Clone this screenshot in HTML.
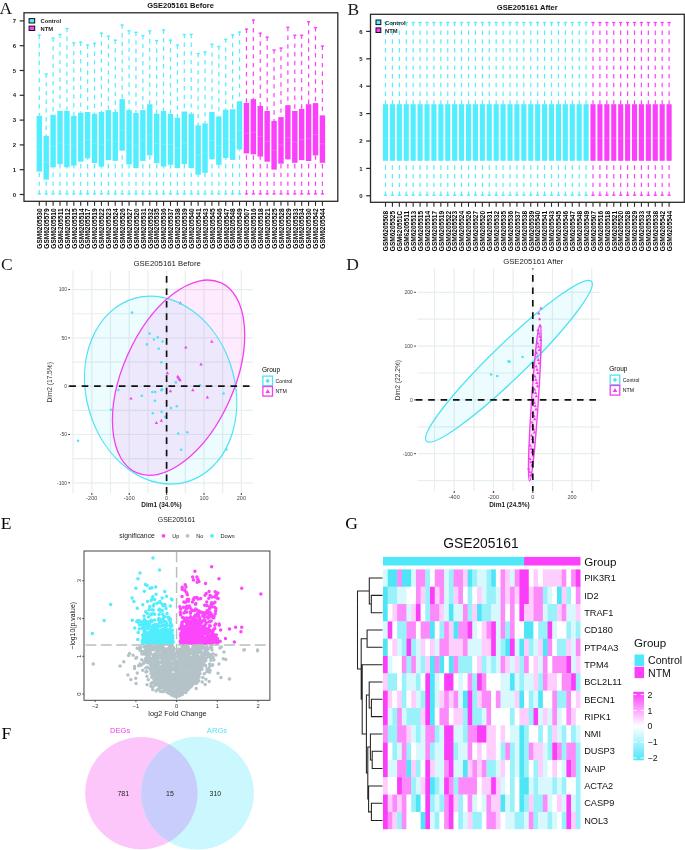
<!DOCTYPE html>
<html><head><meta charset="utf-8"><style>
html,body{margin:0;padding:0;background:#fff;}
svg{display:block;filter:blur(0.3px);}
</style></head><body>
<svg width="685" height="850" viewBox="0 0 685 850">
<rect width="685" height="850" fill="#fff"/>
<text x="-0.40" y="14.20" font-size="17.5" font-family="Liberation Serif" font-weight="normal" text-anchor="start" fill="#1a1a1a" >A</text>
<text x="180.50" y="8.00" font-size="7.5" font-family="Liberation Sans" font-weight="bold" text-anchor="middle" fill="#111" >GSE205161 Before</text>
<line x1="39.30" y1="34.60" x2="39.30" y2="115.80" stroke="#50eefe" stroke-width="1.2" stroke-dasharray="4.4 4.3"/>
<line x1="39.30" y1="194.50" x2="39.30" y2="171.60" stroke="#50eefe" stroke-width="1.2" stroke-dasharray="4.4 4.3"/>
<line x1="37.70" y1="35.20" x2="40.90" y2="35.20" stroke="#50eefe" stroke-width="1.3"/>
<line x1="37.70" y1="193.90" x2="40.90" y2="193.90" stroke="#50eefe" stroke-width="1.3"/>
<rect x="36.60" y="115.80" width="5.4" height="55.80" fill="#50eefe"/>
<line x1="36.60" y1="149.28" x2="42.00" y2="149.28" stroke="#fff" stroke-opacity="0.22" stroke-width="0.8"/>
<line x1="46.20" y1="73.50" x2="46.20" y2="136.00" stroke="#50eefe" stroke-width="1.2" stroke-dasharray="4.4 4.3"/>
<line x1="46.20" y1="194.50" x2="46.20" y2="179.60" stroke="#50eefe" stroke-width="1.2" stroke-dasharray="4.4 4.3"/>
<line x1="44.60" y1="74.10" x2="47.80" y2="74.10" stroke="#50eefe" stroke-width="1.3"/>
<line x1="44.60" y1="193.90" x2="47.80" y2="193.90" stroke="#50eefe" stroke-width="1.3"/>
<rect x="43.50" y="136.00" width="5.4" height="43.60" fill="#50eefe"/>
<line x1="43.50" y1="162.16" x2="48.91" y2="162.16" stroke="#fff" stroke-opacity="0.22" stroke-width="0.8"/>
<line x1="53.11" y1="37.50" x2="53.11" y2="114.80" stroke="#50eefe" stroke-width="1.2" stroke-dasharray="4.4 4.3"/>
<line x1="53.11" y1="194.50" x2="53.11" y2="167.30" stroke="#50eefe" stroke-width="1.2" stroke-dasharray="4.4 4.3"/>
<line x1="51.51" y1="38.10" x2="54.71" y2="38.10" stroke="#50eefe" stroke-width="1.3"/>
<line x1="51.51" y1="193.90" x2="54.71" y2="193.90" stroke="#50eefe" stroke-width="1.3"/>
<rect x="50.41" y="114.80" width="5.4" height="52.50" fill="#50eefe"/>
<line x1="50.41" y1="146.30" x2="55.81" y2="146.30" stroke="#fff" stroke-opacity="0.22" stroke-width="0.8"/>
<line x1="60.02" y1="33.80" x2="60.02" y2="110.90" stroke="#50eefe" stroke-width="1.2" stroke-dasharray="4.4 4.3"/>
<line x1="60.02" y1="194.50" x2="60.02" y2="164.20" stroke="#50eefe" stroke-width="1.2" stroke-dasharray="4.4 4.3"/>
<line x1="58.41" y1="34.40" x2="61.62" y2="34.40" stroke="#50eefe" stroke-width="1.3"/>
<line x1="58.41" y1="193.90" x2="61.62" y2="193.90" stroke="#50eefe" stroke-width="1.3"/>
<rect x="57.31" y="110.90" width="5.4" height="53.30" fill="#50eefe"/>
<line x1="57.31" y1="142.88" x2="62.72" y2="142.88" stroke="#fff" stroke-opacity="0.22" stroke-width="0.8"/>
<line x1="66.92" y1="27.90" x2="66.92" y2="110.90" stroke="#50eefe" stroke-width="1.2" stroke-dasharray="4.4 4.3"/>
<line x1="66.92" y1="194.50" x2="66.92" y2="167.30" stroke="#50eefe" stroke-width="1.2" stroke-dasharray="4.4 4.3"/>
<line x1="65.32" y1="28.50" x2="68.52" y2="28.50" stroke="#50eefe" stroke-width="1.3"/>
<line x1="65.32" y1="193.90" x2="68.52" y2="193.90" stroke="#50eefe" stroke-width="1.3"/>
<rect x="64.22" y="110.90" width="5.4" height="56.40" fill="#50eefe"/>
<line x1="64.22" y1="144.74" x2="69.62" y2="144.74" stroke="#fff" stroke-opacity="0.22" stroke-width="0.8"/>
<line x1="73.82" y1="42.20" x2="73.82" y2="115.80" stroke="#50eefe" stroke-width="1.2" stroke-dasharray="4.4 4.3"/>
<line x1="73.82" y1="194.50" x2="73.82" y2="165.70" stroke="#50eefe" stroke-width="1.2" stroke-dasharray="4.4 4.3"/>
<line x1="72.22" y1="42.80" x2="75.42" y2="42.80" stroke="#50eefe" stroke-width="1.3"/>
<line x1="72.22" y1="193.90" x2="75.42" y2="193.90" stroke="#50eefe" stroke-width="1.3"/>
<rect x="71.12" y="115.80" width="5.4" height="49.90" fill="#50eefe"/>
<line x1="71.12" y1="145.74" x2="76.52" y2="145.74" stroke="#fff" stroke-opacity="0.22" stroke-width="0.8"/>
<line x1="80.73" y1="41.60" x2="80.73" y2="112.70" stroke="#50eefe" stroke-width="1.2" stroke-dasharray="4.4 4.3"/>
<line x1="80.73" y1="194.50" x2="80.73" y2="161.70" stroke="#50eefe" stroke-width="1.2" stroke-dasharray="4.4 4.3"/>
<line x1="79.13" y1="42.20" x2="82.33" y2="42.20" stroke="#50eefe" stroke-width="1.3"/>
<line x1="79.13" y1="193.90" x2="82.33" y2="193.90" stroke="#50eefe" stroke-width="1.3"/>
<rect x="78.03" y="112.70" width="5.4" height="49.00" fill="#50eefe"/>
<line x1="78.03" y1="142.10" x2="83.43" y2="142.10" stroke="#fff" stroke-opacity="0.22" stroke-width="0.8"/>
<line x1="87.63" y1="44.50" x2="87.63" y2="112.00" stroke="#50eefe" stroke-width="1.2" stroke-dasharray="4.4 4.3"/>
<line x1="87.63" y1="194.50" x2="87.63" y2="158.30" stroke="#50eefe" stroke-width="1.2" stroke-dasharray="4.4 4.3"/>
<line x1="86.03" y1="45.10" x2="89.23" y2="45.10" stroke="#50eefe" stroke-width="1.3"/>
<line x1="86.03" y1="193.90" x2="89.23" y2="193.90" stroke="#50eefe" stroke-width="1.3"/>
<rect x="84.93" y="112.00" width="5.4" height="46.30" fill="#50eefe"/>
<line x1="84.93" y1="139.78" x2="90.33" y2="139.78" stroke="#fff" stroke-opacity="0.22" stroke-width="0.8"/>
<line x1="94.54" y1="42.80" x2="94.54" y2="113.80" stroke="#50eefe" stroke-width="1.2" stroke-dasharray="4.4 4.3"/>
<line x1="94.54" y1="194.50" x2="94.54" y2="163.00" stroke="#50eefe" stroke-width="1.2" stroke-dasharray="4.4 4.3"/>
<line x1="92.94" y1="43.40" x2="96.14" y2="43.40" stroke="#50eefe" stroke-width="1.3"/>
<line x1="92.94" y1="193.90" x2="96.14" y2="193.90" stroke="#50eefe" stroke-width="1.3"/>
<rect x="91.84" y="113.80" width="5.4" height="49.20" fill="#50eefe"/>
<line x1="91.84" y1="143.32" x2="97.24" y2="143.32" stroke="#fff" stroke-opacity="0.22" stroke-width="0.8"/>
<line x1="101.44" y1="32.60" x2="101.44" y2="112.00" stroke="#50eefe" stroke-width="1.2" stroke-dasharray="4.4 4.3"/>
<line x1="101.44" y1="194.50" x2="101.44" y2="166.70" stroke="#50eefe" stroke-width="1.2" stroke-dasharray="4.4 4.3"/>
<line x1="99.84" y1="33.20" x2="103.04" y2="33.20" stroke="#50eefe" stroke-width="1.3"/>
<line x1="99.84" y1="193.90" x2="103.04" y2="193.90" stroke="#50eefe" stroke-width="1.3"/>
<rect x="98.74" y="112.00" width="5.4" height="54.70" fill="#50eefe"/>
<line x1="98.74" y1="144.82" x2="104.14" y2="144.82" stroke="#fff" stroke-opacity="0.22" stroke-width="0.8"/>
<line x1="108.35" y1="35.60" x2="108.35" y2="110.10" stroke="#50eefe" stroke-width="1.2" stroke-dasharray="4.4 4.3"/>
<line x1="108.35" y1="194.50" x2="108.35" y2="160.20" stroke="#50eefe" stroke-width="1.2" stroke-dasharray="4.4 4.3"/>
<line x1="106.75" y1="36.20" x2="109.95" y2="36.20" stroke="#50eefe" stroke-width="1.3"/>
<line x1="106.75" y1="193.90" x2="109.95" y2="193.90" stroke="#50eefe" stroke-width="1.3"/>
<rect x="105.65" y="110.10" width="5.4" height="50.10" fill="#50eefe"/>
<line x1="105.65" y1="140.16" x2="111.05" y2="140.16" stroke="#fff" stroke-opacity="0.22" stroke-width="0.8"/>
<line x1="115.25" y1="39.60" x2="115.25" y2="112.00" stroke="#50eefe" stroke-width="1.2" stroke-dasharray="4.4 4.3"/>
<line x1="115.25" y1="194.50" x2="115.25" y2="160.90" stroke="#50eefe" stroke-width="1.2" stroke-dasharray="4.4 4.3"/>
<line x1="113.66" y1="40.20" x2="116.85" y2="40.20" stroke="#50eefe" stroke-width="1.3"/>
<line x1="113.66" y1="193.90" x2="116.85" y2="193.90" stroke="#50eefe" stroke-width="1.3"/>
<rect x="112.55" y="112.00" width="5.4" height="48.90" fill="#50eefe"/>
<line x1="112.55" y1="141.34" x2="117.95" y2="141.34" stroke="#fff" stroke-opacity="0.22" stroke-width="0.8"/>
<line x1="122.16" y1="24.40" x2="122.16" y2="99.10" stroke="#50eefe" stroke-width="1.2" stroke-dasharray="4.4 4.3"/>
<line x1="122.16" y1="194.50" x2="122.16" y2="150.60" stroke="#50eefe" stroke-width="1.2" stroke-dasharray="4.4 4.3"/>
<line x1="120.56" y1="25.00" x2="123.76" y2="25.00" stroke="#50eefe" stroke-width="1.3"/>
<line x1="120.56" y1="193.90" x2="123.76" y2="193.90" stroke="#50eefe" stroke-width="1.3"/>
<rect x="119.46" y="99.10" width="5.4" height="51.50" fill="#50eefe"/>
<line x1="119.46" y1="130.00" x2="124.86" y2="130.00" stroke="#fff" stroke-opacity="0.22" stroke-width="0.8"/>
<line x1="129.06" y1="30.30" x2="129.06" y2="110.10" stroke="#50eefe" stroke-width="1.2" stroke-dasharray="4.4 4.3"/>
<line x1="129.06" y1="194.50" x2="129.06" y2="164.40" stroke="#50eefe" stroke-width="1.2" stroke-dasharray="4.4 4.3"/>
<line x1="127.47" y1="30.90" x2="130.66" y2="30.90" stroke="#50eefe" stroke-width="1.3"/>
<line x1="127.47" y1="193.90" x2="130.66" y2="193.90" stroke="#50eefe" stroke-width="1.3"/>
<rect x="126.36" y="110.10" width="5.4" height="54.30" fill="#50eefe"/>
<line x1="126.36" y1="142.68" x2="131.76" y2="142.68" stroke="#fff" stroke-opacity="0.22" stroke-width="0.8"/>
<line x1="135.97" y1="31.70" x2="135.97" y2="113.00" stroke="#50eefe" stroke-width="1.2" stroke-dasharray="4.4 4.3"/>
<line x1="135.97" y1="194.50" x2="135.97" y2="168.00" stroke="#50eefe" stroke-width="1.2" stroke-dasharray="4.4 4.3"/>
<line x1="134.37" y1="32.30" x2="137.57" y2="32.30" stroke="#50eefe" stroke-width="1.3"/>
<line x1="134.37" y1="193.90" x2="137.57" y2="193.90" stroke="#50eefe" stroke-width="1.3"/>
<rect x="133.27" y="113.00" width="5.4" height="55.00" fill="#50eefe"/>
<line x1="133.27" y1="146.00" x2="138.67" y2="146.00" stroke="#fff" stroke-opacity="0.22" stroke-width="0.8"/>
<line x1="142.88" y1="35.00" x2="142.88" y2="110.10" stroke="#50eefe" stroke-width="1.2" stroke-dasharray="4.4 4.3"/>
<line x1="142.88" y1="194.50" x2="142.88" y2="160.90" stroke="#50eefe" stroke-width="1.2" stroke-dasharray="4.4 4.3"/>
<line x1="141.28" y1="35.60" x2="144.47" y2="35.60" stroke="#50eefe" stroke-width="1.3"/>
<line x1="141.28" y1="193.90" x2="144.47" y2="193.90" stroke="#50eefe" stroke-width="1.3"/>
<rect x="140.18" y="110.10" width="5.4" height="50.80" fill="#50eefe"/>
<line x1="140.18" y1="140.58" x2="145.57" y2="140.58" stroke="#fff" stroke-opacity="0.22" stroke-width="0.8"/>
<line x1="149.78" y1="30.30" x2="149.78" y2="104.20" stroke="#50eefe" stroke-width="1.2" stroke-dasharray="4.4 4.3"/>
<line x1="149.78" y1="194.50" x2="149.78" y2="155.40" stroke="#50eefe" stroke-width="1.2" stroke-dasharray="4.4 4.3"/>
<line x1="148.18" y1="30.90" x2="151.38" y2="30.90" stroke="#50eefe" stroke-width="1.3"/>
<line x1="148.18" y1="193.90" x2="151.38" y2="193.90" stroke="#50eefe" stroke-width="1.3"/>
<rect x="147.08" y="104.20" width="5.4" height="51.20" fill="#50eefe"/>
<line x1="147.08" y1="134.92" x2="152.48" y2="134.92" stroke="#fff" stroke-opacity="0.22" stroke-width="0.8"/>
<line x1="156.69" y1="39.90" x2="156.69" y2="113.70" stroke="#50eefe" stroke-width="1.2" stroke-dasharray="4.4 4.3"/>
<line x1="156.69" y1="194.50" x2="156.69" y2="163.10" stroke="#50eefe" stroke-width="1.2" stroke-dasharray="4.4 4.3"/>
<line x1="155.09" y1="40.50" x2="158.28" y2="40.50" stroke="#50eefe" stroke-width="1.3"/>
<line x1="155.09" y1="193.90" x2="158.28" y2="193.90" stroke="#50eefe" stroke-width="1.3"/>
<rect x="153.99" y="113.70" width="5.4" height="49.40" fill="#50eefe"/>
<line x1="153.99" y1="143.34" x2="159.38" y2="143.34" stroke="#fff" stroke-opacity="0.22" stroke-width="0.8"/>
<line x1="163.59" y1="29.30" x2="163.59" y2="111.00" stroke="#50eefe" stroke-width="1.2" stroke-dasharray="4.4 4.3"/>
<line x1="163.59" y1="194.50" x2="163.59" y2="166.60" stroke="#50eefe" stroke-width="1.2" stroke-dasharray="4.4 4.3"/>
<line x1="161.99" y1="29.90" x2="165.19" y2="29.90" stroke="#50eefe" stroke-width="1.3"/>
<line x1="161.99" y1="193.90" x2="165.19" y2="193.90" stroke="#50eefe" stroke-width="1.3"/>
<rect x="160.89" y="111.00" width="5.4" height="55.60" fill="#50eefe"/>
<line x1="160.89" y1="144.36" x2="166.29" y2="144.36" stroke="#fff" stroke-opacity="0.22" stroke-width="0.8"/>
<line x1="170.50" y1="39.60" x2="170.50" y2="114.00" stroke="#50eefe" stroke-width="1.2" stroke-dasharray="4.4 4.3"/>
<line x1="170.50" y1="194.50" x2="170.50" y2="164.80" stroke="#50eefe" stroke-width="1.2" stroke-dasharray="4.4 4.3"/>
<line x1="168.90" y1="40.20" x2="172.09" y2="40.20" stroke="#50eefe" stroke-width="1.3"/>
<line x1="168.90" y1="193.90" x2="172.09" y2="193.90" stroke="#50eefe" stroke-width="1.3"/>
<rect x="167.80" y="114.00" width="5.4" height="50.80" fill="#50eefe"/>
<line x1="167.80" y1="144.48" x2="173.19" y2="144.48" stroke="#fff" stroke-opacity="0.22" stroke-width="0.8"/>
<line x1="177.40" y1="44.50" x2="177.40" y2="117.80" stroke="#50eefe" stroke-width="1.2" stroke-dasharray="4.4 4.3"/>
<line x1="177.40" y1="194.50" x2="177.40" y2="168.00" stroke="#50eefe" stroke-width="1.2" stroke-dasharray="4.4 4.3"/>
<line x1="175.80" y1="45.10" x2="179.00" y2="45.10" stroke="#50eefe" stroke-width="1.3"/>
<line x1="175.80" y1="193.90" x2="179.00" y2="193.90" stroke="#50eefe" stroke-width="1.3"/>
<rect x="174.70" y="117.80" width="5.4" height="50.20" fill="#50eefe"/>
<line x1="174.70" y1="147.92" x2="180.10" y2="147.92" stroke="#fff" stroke-opacity="0.22" stroke-width="0.8"/>
<line x1="184.31" y1="33.90" x2="184.31" y2="111.50" stroke="#50eefe" stroke-width="1.2" stroke-dasharray="4.4 4.3"/>
<line x1="184.31" y1="194.50" x2="184.31" y2="164.00" stroke="#50eefe" stroke-width="1.2" stroke-dasharray="4.4 4.3"/>
<line x1="182.71" y1="34.50" x2="185.91" y2="34.50" stroke="#50eefe" stroke-width="1.3"/>
<line x1="182.71" y1="193.90" x2="185.91" y2="193.90" stroke="#50eefe" stroke-width="1.3"/>
<rect x="181.61" y="111.50" width="5.4" height="52.50" fill="#50eefe"/>
<line x1="181.61" y1="143.00" x2="187.00" y2="143.00" stroke="#fff" stroke-opacity="0.22" stroke-width="0.8"/>
<line x1="191.21" y1="33.80" x2="191.21" y2="113.70" stroke="#50eefe" stroke-width="1.2" stroke-dasharray="4.4 4.3"/>
<line x1="191.21" y1="194.50" x2="191.21" y2="168.00" stroke="#50eefe" stroke-width="1.2" stroke-dasharray="4.4 4.3"/>
<line x1="189.61" y1="34.40" x2="192.81" y2="34.40" stroke="#50eefe" stroke-width="1.3"/>
<line x1="189.61" y1="193.90" x2="192.81" y2="193.90" stroke="#50eefe" stroke-width="1.3"/>
<rect x="188.51" y="113.70" width="5.4" height="54.30" fill="#50eefe"/>
<line x1="188.51" y1="146.28" x2="193.91" y2="146.28" stroke="#fff" stroke-opacity="0.22" stroke-width="0.8"/>
<line x1="198.12" y1="53.00" x2="198.12" y2="125.30" stroke="#50eefe" stroke-width="1.2" stroke-dasharray="4.4 4.3"/>
<line x1="198.12" y1="194.50" x2="198.12" y2="174.80" stroke="#50eefe" stroke-width="1.2" stroke-dasharray="4.4 4.3"/>
<line x1="196.52" y1="53.60" x2="199.72" y2="53.60" stroke="#50eefe" stroke-width="1.3"/>
<line x1="196.52" y1="193.90" x2="199.72" y2="193.90" stroke="#50eefe" stroke-width="1.3"/>
<rect x="195.42" y="125.30" width="5.4" height="49.50" fill="#50eefe"/>
<line x1="195.42" y1="155.00" x2="200.81" y2="155.00" stroke="#fff" stroke-opacity="0.22" stroke-width="0.8"/>
<line x1="205.02" y1="51.30" x2="205.02" y2="123.40" stroke="#50eefe" stroke-width="1.2" stroke-dasharray="4.4 4.3"/>
<line x1="205.02" y1="194.50" x2="205.02" y2="172.80" stroke="#50eefe" stroke-width="1.2" stroke-dasharray="4.4 4.3"/>
<line x1="203.42" y1="51.90" x2="206.62" y2="51.90" stroke="#50eefe" stroke-width="1.3"/>
<line x1="203.42" y1="193.90" x2="206.62" y2="193.90" stroke="#50eefe" stroke-width="1.3"/>
<rect x="202.32" y="123.40" width="5.4" height="49.40" fill="#50eefe"/>
<line x1="202.32" y1="153.04" x2="207.72" y2="153.04" stroke="#fff" stroke-opacity="0.22" stroke-width="0.8"/>
<line x1="211.93" y1="43.70" x2="211.93" y2="112.00" stroke="#50eefe" stroke-width="1.2" stroke-dasharray="4.4 4.3"/>
<line x1="211.93" y1="194.50" x2="211.93" y2="159.30" stroke="#50eefe" stroke-width="1.2" stroke-dasharray="4.4 4.3"/>
<line x1="210.33" y1="44.30" x2="213.53" y2="44.30" stroke="#50eefe" stroke-width="1.3"/>
<line x1="210.33" y1="193.90" x2="213.53" y2="193.90" stroke="#50eefe" stroke-width="1.3"/>
<rect x="209.23" y="112.00" width="5.4" height="47.30" fill="#50eefe"/>
<line x1="209.23" y1="140.38" x2="214.62" y2="140.38" stroke="#fff" stroke-opacity="0.22" stroke-width="0.8"/>
<line x1="218.83" y1="45.90" x2="218.83" y2="116.50" stroke="#50eefe" stroke-width="1.2" stroke-dasharray="4.4 4.3"/>
<line x1="218.83" y1="194.50" x2="218.83" y2="164.80" stroke="#50eefe" stroke-width="1.2" stroke-dasharray="4.4 4.3"/>
<line x1="217.23" y1="46.50" x2="220.43" y2="46.50" stroke="#50eefe" stroke-width="1.3"/>
<line x1="217.23" y1="193.90" x2="220.43" y2="193.90" stroke="#50eefe" stroke-width="1.3"/>
<rect x="216.13" y="116.50" width="5.4" height="48.30" fill="#50eefe"/>
<line x1="216.13" y1="145.48" x2="221.53" y2="145.48" stroke="#fff" stroke-opacity="0.22" stroke-width="0.8"/>
<line x1="225.74" y1="38.70" x2="225.74" y2="109.70" stroke="#50eefe" stroke-width="1.2" stroke-dasharray="4.4 4.3"/>
<line x1="225.74" y1="194.50" x2="225.74" y2="158.00" stroke="#50eefe" stroke-width="1.2" stroke-dasharray="4.4 4.3"/>
<line x1="224.14" y1="39.30" x2="227.34" y2="39.30" stroke="#50eefe" stroke-width="1.3"/>
<line x1="224.14" y1="193.90" x2="227.34" y2="193.90" stroke="#50eefe" stroke-width="1.3"/>
<rect x="223.04" y="109.70" width="5.4" height="48.30" fill="#50eefe"/>
<line x1="223.04" y1="138.68" x2="228.44" y2="138.68" stroke="#fff" stroke-opacity="0.22" stroke-width="0.8"/>
<line x1="232.64" y1="34.20" x2="232.64" y2="109.20" stroke="#50eefe" stroke-width="1.2" stroke-dasharray="4.4 4.3"/>
<line x1="232.64" y1="194.50" x2="232.64" y2="159.90" stroke="#50eefe" stroke-width="1.2" stroke-dasharray="4.4 4.3"/>
<line x1="231.04" y1="34.80" x2="234.24" y2="34.80" stroke="#50eefe" stroke-width="1.3"/>
<line x1="231.04" y1="193.90" x2="234.24" y2="193.90" stroke="#50eefe" stroke-width="1.3"/>
<rect x="229.94" y="109.20" width="5.4" height="50.70" fill="#50eefe"/>
<line x1="229.94" y1="139.62" x2="235.34" y2="139.62" stroke="#fff" stroke-opacity="0.22" stroke-width="0.8"/>
<line x1="239.55" y1="31.50" x2="239.55" y2="101.30" stroke="#50eefe" stroke-width="1.2" stroke-dasharray="4.4 4.3"/>
<line x1="239.55" y1="194.50" x2="239.55" y2="149.50" stroke="#50eefe" stroke-width="1.2" stroke-dasharray="4.4 4.3"/>
<line x1="237.95" y1="32.10" x2="241.15" y2="32.10" stroke="#50eefe" stroke-width="1.3"/>
<line x1="237.95" y1="193.90" x2="241.15" y2="193.90" stroke="#50eefe" stroke-width="1.3"/>
<rect x="236.85" y="101.30" width="5.4" height="48.20" fill="#50eefe"/>
<line x1="236.85" y1="130.22" x2="242.25" y2="130.22" stroke="#fff" stroke-opacity="0.22" stroke-width="0.8"/>
<line x1="246.45" y1="28.60" x2="246.45" y2="103.00" stroke="#fb40fb" stroke-width="1.2" stroke-dasharray="4.4 4.3"/>
<line x1="246.45" y1="194.50" x2="246.45" y2="153.40" stroke="#fb40fb" stroke-width="1.2" stroke-dasharray="4.4 4.3"/>
<line x1="244.85" y1="29.20" x2="248.05" y2="29.20" stroke="#fb40fb" stroke-width="1.3"/>
<line x1="244.85" y1="193.90" x2="248.05" y2="193.90" stroke="#fb40fb" stroke-width="1.3"/>
<rect x="243.75" y="103.00" width="5.4" height="50.40" fill="#fb40fb"/>
<line x1="243.75" y1="133.24" x2="249.15" y2="133.24" stroke="#fff" stroke-opacity="0.22" stroke-width="0.8"/>
<line x1="253.36" y1="19.40" x2="253.36" y2="99.10" stroke="#fb40fb" stroke-width="1.2" stroke-dasharray="4.4 4.3"/>
<line x1="253.36" y1="194.50" x2="253.36" y2="154.30" stroke="#fb40fb" stroke-width="1.2" stroke-dasharray="4.4 4.3"/>
<line x1="251.76" y1="20.00" x2="254.96" y2="20.00" stroke="#fb40fb" stroke-width="1.3"/>
<line x1="251.76" y1="193.90" x2="254.96" y2="193.90" stroke="#fb40fb" stroke-width="1.3"/>
<rect x="250.66" y="99.10" width="5.4" height="55.20" fill="#fb40fb"/>
<line x1="250.66" y1="132.22" x2="256.06" y2="132.22" stroke="#fff" stroke-opacity="0.22" stroke-width="0.8"/>
<line x1="260.26" y1="32.60" x2="260.26" y2="106.00" stroke="#fb40fb" stroke-width="1.2" stroke-dasharray="4.4 4.3"/>
<line x1="260.26" y1="194.50" x2="260.26" y2="156.60" stroke="#fb40fb" stroke-width="1.2" stroke-dasharray="4.4 4.3"/>
<line x1="258.66" y1="33.20" x2="261.86" y2="33.20" stroke="#fb40fb" stroke-width="1.3"/>
<line x1="258.66" y1="193.90" x2="261.86" y2="193.90" stroke="#fb40fb" stroke-width="1.3"/>
<rect x="257.56" y="106.00" width="5.4" height="50.60" fill="#fb40fb"/>
<line x1="257.56" y1="136.36" x2="262.96" y2="136.36" stroke="#fff" stroke-opacity="0.22" stroke-width="0.8"/>
<line x1="267.17" y1="36.60" x2="267.17" y2="111.00" stroke="#fb40fb" stroke-width="1.2" stroke-dasharray="4.4 4.3"/>
<line x1="267.17" y1="194.50" x2="267.17" y2="161.70" stroke="#fb40fb" stroke-width="1.2" stroke-dasharray="4.4 4.3"/>
<line x1="265.56" y1="37.20" x2="268.77" y2="37.20" stroke="#fb40fb" stroke-width="1.3"/>
<line x1="265.56" y1="193.90" x2="268.77" y2="193.90" stroke="#fb40fb" stroke-width="1.3"/>
<rect x="264.47" y="111.00" width="5.4" height="50.70" fill="#fb40fb"/>
<line x1="264.47" y1="141.42" x2="269.87" y2="141.42" stroke="#fff" stroke-opacity="0.22" stroke-width="0.8"/>
<line x1="274.07" y1="49.40" x2="274.07" y2="120.90" stroke="#fb40fb" stroke-width="1.2" stroke-dasharray="4.4 4.3"/>
<line x1="274.07" y1="194.50" x2="274.07" y2="169.60" stroke="#fb40fb" stroke-width="1.2" stroke-dasharray="4.4 4.3"/>
<line x1="272.47" y1="50.00" x2="275.67" y2="50.00" stroke="#fb40fb" stroke-width="1.3"/>
<line x1="272.47" y1="193.90" x2="275.67" y2="193.90" stroke="#fb40fb" stroke-width="1.3"/>
<rect x="271.37" y="120.90" width="5.4" height="48.70" fill="#fb40fb"/>
<line x1="271.37" y1="150.12" x2="276.77" y2="150.12" stroke="#fff" stroke-opacity="0.22" stroke-width="0.8"/>
<line x1="280.98" y1="47.50" x2="280.98" y2="117.10" stroke="#fb40fb" stroke-width="1.2" stroke-dasharray="4.4 4.3"/>
<line x1="280.98" y1="194.50" x2="280.98" y2="163.70" stroke="#fb40fb" stroke-width="1.2" stroke-dasharray="4.4 4.3"/>
<line x1="279.38" y1="48.10" x2="282.58" y2="48.10" stroke="#fb40fb" stroke-width="1.3"/>
<line x1="279.38" y1="193.90" x2="282.58" y2="193.90" stroke="#fb40fb" stroke-width="1.3"/>
<rect x="278.28" y="117.10" width="5.4" height="46.60" fill="#fb40fb"/>
<line x1="278.28" y1="145.06" x2="283.68" y2="145.06" stroke="#fff" stroke-opacity="0.22" stroke-width="0.8"/>
<line x1="287.88" y1="26.80" x2="287.88" y2="105.20" stroke="#fb40fb" stroke-width="1.2" stroke-dasharray="4.4 4.3"/>
<line x1="287.88" y1="194.50" x2="287.88" y2="159.30" stroke="#fb40fb" stroke-width="1.2" stroke-dasharray="4.4 4.3"/>
<line x1="286.28" y1="27.40" x2="289.48" y2="27.40" stroke="#fb40fb" stroke-width="1.3"/>
<line x1="286.28" y1="193.90" x2="289.48" y2="193.90" stroke="#fb40fb" stroke-width="1.3"/>
<rect x="285.18" y="105.20" width="5.4" height="54.10" fill="#fb40fb"/>
<line x1="285.18" y1="137.66" x2="290.58" y2="137.66" stroke="#fff" stroke-opacity="0.22" stroke-width="0.8"/>
<line x1="294.79" y1="34.70" x2="294.79" y2="111.00" stroke="#fb40fb" stroke-width="1.2" stroke-dasharray="4.4 4.3"/>
<line x1="294.79" y1="194.50" x2="294.79" y2="162.80" stroke="#fb40fb" stroke-width="1.2" stroke-dasharray="4.4 4.3"/>
<line x1="293.19" y1="35.30" x2="296.39" y2="35.30" stroke="#fb40fb" stroke-width="1.3"/>
<line x1="293.19" y1="193.90" x2="296.39" y2="193.90" stroke="#fb40fb" stroke-width="1.3"/>
<rect x="292.09" y="111.00" width="5.4" height="51.80" fill="#fb40fb"/>
<line x1="292.09" y1="142.08" x2="297.49" y2="142.08" stroke="#fff" stroke-opacity="0.22" stroke-width="0.8"/>
<line x1="301.69" y1="34.70" x2="301.69" y2="108.90" stroke="#fb40fb" stroke-width="1.2" stroke-dasharray="4.4 4.3"/>
<line x1="301.69" y1="194.50" x2="301.69" y2="160.10" stroke="#fb40fb" stroke-width="1.2" stroke-dasharray="4.4 4.3"/>
<line x1="300.09" y1="35.30" x2="303.29" y2="35.30" stroke="#fb40fb" stroke-width="1.3"/>
<line x1="300.09" y1="193.90" x2="303.29" y2="193.90" stroke="#fb40fb" stroke-width="1.3"/>
<rect x="298.99" y="108.90" width="5.4" height="51.20" fill="#fb40fb"/>
<line x1="298.99" y1="139.62" x2="304.39" y2="139.62" stroke="#fff" stroke-opacity="0.22" stroke-width="0.8"/>
<line x1="308.60" y1="21.20" x2="308.60" y2="104.20" stroke="#fb40fb" stroke-width="1.2" stroke-dasharray="4.4 4.3"/>
<line x1="308.60" y1="194.50" x2="308.60" y2="161.00" stroke="#fb40fb" stroke-width="1.2" stroke-dasharray="4.4 4.3"/>
<line x1="307.00" y1="21.80" x2="310.20" y2="21.80" stroke="#fb40fb" stroke-width="1.3"/>
<line x1="307.00" y1="193.90" x2="310.20" y2="193.90" stroke="#fb40fb" stroke-width="1.3"/>
<rect x="305.90" y="104.20" width="5.4" height="56.80" fill="#fb40fb"/>
<line x1="305.90" y1="138.28" x2="311.30" y2="138.28" stroke="#fff" stroke-opacity="0.22" stroke-width="0.8"/>
<line x1="315.50" y1="27.10" x2="315.50" y2="103.10" stroke="#fb40fb" stroke-width="1.2" stroke-dasharray="4.4 4.3"/>
<line x1="315.50" y1="194.50" x2="315.50" y2="155.40" stroke="#fb40fb" stroke-width="1.2" stroke-dasharray="4.4 4.3"/>
<line x1="313.90" y1="27.70" x2="317.10" y2="27.70" stroke="#fb40fb" stroke-width="1.3"/>
<line x1="313.90" y1="193.90" x2="317.10" y2="193.90" stroke="#fb40fb" stroke-width="1.3"/>
<rect x="312.80" y="103.10" width="5.4" height="52.30" fill="#fb40fb"/>
<line x1="312.80" y1="134.48" x2="318.20" y2="134.48" stroke="#fff" stroke-opacity="0.22" stroke-width="0.8"/>
<line x1="322.41" y1="45.50" x2="322.41" y2="115.40" stroke="#fb40fb" stroke-width="1.2" stroke-dasharray="4.4 4.3"/>
<line x1="322.41" y1="194.50" x2="322.41" y2="162.80" stroke="#fb40fb" stroke-width="1.2" stroke-dasharray="4.4 4.3"/>
<line x1="320.81" y1="46.10" x2="324.01" y2="46.10" stroke="#fb40fb" stroke-width="1.3"/>
<line x1="320.81" y1="193.90" x2="324.01" y2="193.90" stroke="#fb40fb" stroke-width="1.3"/>
<rect x="319.71" y="115.40" width="5.4" height="47.40" fill="#fb40fb"/>
<line x1="319.71" y1="143.84" x2="325.11" y2="143.84" stroke="#fff" stroke-opacity="0.22" stroke-width="0.8"/>
<rect x="24" y="12.8" width="313.8" height="188.5" fill="none" stroke="#2a2a2a" stroke-width="1.3"/>
<line x1="19.7" y1="194.50" x2="24" y2="194.50" stroke="#2a2a2a" stroke-width="1.2"/>
<text x="16.00" y="196.60" font-size="6" font-family="Liberation Sans" font-weight="bold" text-anchor="end" fill="#222" >0</text>
<line x1="19.7" y1="169.70" x2="24" y2="169.70" stroke="#2a2a2a" stroke-width="1.2"/>
<text x="16.00" y="171.80" font-size="6" font-family="Liberation Sans" font-weight="bold" text-anchor="end" fill="#222" >1</text>
<line x1="19.7" y1="144.90" x2="24" y2="144.90" stroke="#2a2a2a" stroke-width="1.2"/>
<text x="16.00" y="147.00" font-size="6" font-family="Liberation Sans" font-weight="bold" text-anchor="end" fill="#222" >2</text>
<line x1="19.7" y1="120.10" x2="24" y2="120.10" stroke="#2a2a2a" stroke-width="1.2"/>
<text x="16.00" y="122.20" font-size="6" font-family="Liberation Sans" font-weight="bold" text-anchor="end" fill="#222" >3</text>
<line x1="19.7" y1="95.30" x2="24" y2="95.30" stroke="#2a2a2a" stroke-width="1.2"/>
<text x="16.00" y="97.40" font-size="6" font-family="Liberation Sans" font-weight="bold" text-anchor="end" fill="#222" >4</text>
<line x1="19.7" y1="70.50" x2="24" y2="70.50" stroke="#2a2a2a" stroke-width="1.2"/>
<text x="16.00" y="72.60" font-size="6" font-family="Liberation Sans" font-weight="bold" text-anchor="end" fill="#222" >5</text>
<line x1="19.7" y1="45.70" x2="24" y2="45.70" stroke="#2a2a2a" stroke-width="1.2"/>
<text x="16.00" y="47.80" font-size="6" font-family="Liberation Sans" font-weight="bold" text-anchor="end" fill="#222" >6</text>
<line x1="19.7" y1="20.90" x2="24" y2="20.90" stroke="#2a2a2a" stroke-width="1.2"/>
<text x="16.00" y="23.00" font-size="6" font-family="Liberation Sans" font-weight="bold" text-anchor="end" fill="#222" >7</text>
<line x1="39.30" y1="201.3" x2="39.30" y2="205.8" stroke="#2a2a2a" stroke-width="1.1"/>
<text transform="translate(42.10,208.40) rotate(-90) scale(0.08594,0.1)" font-size="76.0" font-family="Liberation Sans" font-weight="bold" text-anchor="end" fill="#000">GSM6205530</text>
<line x1="46.20" y1="201.3" x2="46.20" y2="205.8" stroke="#2a2a2a" stroke-width="1.1"/>
<text transform="translate(49.00,208.40) rotate(-90) scale(0.08594,0.1)" font-size="76.0" font-family="Liberation Sans" font-weight="bold" text-anchor="end" fill="#000">GSM6205579</text>
<line x1="53.11" y1="201.3" x2="53.11" y2="205.8" stroke="#2a2a2a" stroke-width="1.1"/>
<text transform="translate(55.91,208.40) rotate(-90) scale(0.08594,0.1)" font-size="76.0" font-family="Liberation Sans" font-weight="bold" text-anchor="end" fill="#000">GSM6205510</text>
<line x1="60.02" y1="201.3" x2="60.02" y2="205.8" stroke="#2a2a2a" stroke-width="1.1"/>
<text transform="translate(62.81,208.40) rotate(-90) scale(0.08671,0.1)" font-size="76.0" font-family="Liberation Sans" font-weight="bold" text-anchor="end" fill="#000">GSM6205511</text>
<line x1="66.92" y1="201.3" x2="66.92" y2="205.8" stroke="#2a2a2a" stroke-width="1.1"/>
<text transform="translate(69.72,208.40) rotate(-90) scale(0.08594,0.1)" font-size="76.0" font-family="Liberation Sans" font-weight="bold" text-anchor="end" fill="#000">GSM6205512</text>
<line x1="73.82" y1="201.3" x2="73.82" y2="205.8" stroke="#2a2a2a" stroke-width="1.1"/>
<text transform="translate(76.62,208.40) rotate(-90) scale(0.08594,0.1)" font-size="76.0" font-family="Liberation Sans" font-weight="bold" text-anchor="end" fill="#000">GSM6205515</text>
<line x1="80.73" y1="201.3" x2="80.73" y2="205.8" stroke="#2a2a2a" stroke-width="1.1"/>
<text transform="translate(83.53,208.40) rotate(-90) scale(0.08594,0.1)" font-size="76.0" font-family="Liberation Sans" font-weight="bold" text-anchor="end" fill="#000">GSM6205514</text>
<line x1="87.63" y1="201.3" x2="87.63" y2="205.8" stroke="#2a2a2a" stroke-width="1.1"/>
<text transform="translate(90.43,208.40) rotate(-90) scale(0.08594,0.1)" font-size="76.0" font-family="Liberation Sans" font-weight="bold" text-anchor="end" fill="#000">GSM6205517</text>
<line x1="94.54" y1="201.3" x2="94.54" y2="205.8" stroke="#2a2a2a" stroke-width="1.1"/>
<text transform="translate(97.34,208.40) rotate(-90) scale(0.08594,0.1)" font-size="76.0" font-family="Liberation Sans" font-weight="bold" text-anchor="end" fill="#000">GSM6205519</text>
<line x1="101.44" y1="201.3" x2="101.44" y2="205.8" stroke="#2a2a2a" stroke-width="1.1"/>
<text transform="translate(104.24,208.40) rotate(-90) scale(0.08594,0.1)" font-size="76.0" font-family="Liberation Sans" font-weight="bold" text-anchor="end" fill="#000">GSM6205522</text>
<line x1="108.35" y1="201.3" x2="108.35" y2="205.8" stroke="#2a2a2a" stroke-width="1.1"/>
<text transform="translate(111.15,208.40) rotate(-90) scale(0.08594,0.1)" font-size="76.0" font-family="Liberation Sans" font-weight="bold" text-anchor="end" fill="#000">GSM6205523</text>
<line x1="115.25" y1="201.3" x2="115.25" y2="205.8" stroke="#2a2a2a" stroke-width="1.1"/>
<text transform="translate(118.05,208.40) rotate(-90) scale(0.08594,0.1)" font-size="76.0" font-family="Liberation Sans" font-weight="bold" text-anchor="end" fill="#000">GSM6205524</text>
<line x1="122.16" y1="201.3" x2="122.16" y2="205.8" stroke="#2a2a2a" stroke-width="1.1"/>
<text transform="translate(124.96,208.40) rotate(-90) scale(0.08594,0.1)" font-size="76.0" font-family="Liberation Sans" font-weight="bold" text-anchor="end" fill="#000">GSM6205526</text>
<line x1="129.06" y1="201.3" x2="129.06" y2="205.8" stroke="#2a2a2a" stroke-width="1.1"/>
<text transform="translate(131.87,208.40) rotate(-90) scale(0.08594,0.1)" font-size="76.0" font-family="Liberation Sans" font-weight="bold" text-anchor="end" fill="#000">GSM6205527</text>
<line x1="135.97" y1="201.3" x2="135.97" y2="205.8" stroke="#2a2a2a" stroke-width="1.1"/>
<text transform="translate(138.77,208.40) rotate(-90) scale(0.08594,0.1)" font-size="76.0" font-family="Liberation Sans" font-weight="bold" text-anchor="end" fill="#000">GSM6205520</text>
<line x1="142.88" y1="201.3" x2="142.88" y2="205.8" stroke="#2a2a2a" stroke-width="1.1"/>
<text transform="translate(145.68,208.40) rotate(-90) scale(0.08594,0.1)" font-size="76.0" font-family="Liberation Sans" font-weight="bold" text-anchor="end" fill="#000">GSM6205531</text>
<line x1="149.78" y1="201.3" x2="149.78" y2="205.8" stroke="#2a2a2a" stroke-width="1.1"/>
<text transform="translate(152.58,208.40) rotate(-90) scale(0.08594,0.1)" font-size="76.0" font-family="Liberation Sans" font-weight="bold" text-anchor="end" fill="#000">GSM6205532</text>
<line x1="156.69" y1="201.3" x2="156.69" y2="205.8" stroke="#2a2a2a" stroke-width="1.1"/>
<text transform="translate(159.49,208.40) rotate(-90) scale(0.08594,0.1)" font-size="76.0" font-family="Liberation Sans" font-weight="bold" text-anchor="end" fill="#000">GSM6205535</text>
<line x1="163.59" y1="201.3" x2="163.59" y2="205.8" stroke="#2a2a2a" stroke-width="1.1"/>
<text transform="translate(166.39,208.40) rotate(-90) scale(0.08594,0.1)" font-size="76.0" font-family="Liberation Sans" font-weight="bold" text-anchor="end" fill="#000">GSM6205536</text>
<line x1="170.50" y1="201.3" x2="170.50" y2="205.8" stroke="#2a2a2a" stroke-width="1.1"/>
<text transform="translate(173.30,208.40) rotate(-90) scale(0.08594,0.1)" font-size="76.0" font-family="Liberation Sans" font-weight="bold" text-anchor="end" fill="#000">GSM6205537</text>
<line x1="177.40" y1="201.3" x2="177.40" y2="205.8" stroke="#2a2a2a" stroke-width="1.1"/>
<text transform="translate(180.20,208.40) rotate(-90) scale(0.08594,0.1)" font-size="76.0" font-family="Liberation Sans" font-weight="bold" text-anchor="end" fill="#000">GSM6205538</text>
<line x1="184.31" y1="201.3" x2="184.31" y2="205.8" stroke="#2a2a2a" stroke-width="1.1"/>
<text transform="translate(187.11,208.40) rotate(-90) scale(0.08594,0.1)" font-size="76.0" font-family="Liberation Sans" font-weight="bold" text-anchor="end" fill="#000">GSM6205539</text>
<line x1="191.21" y1="201.3" x2="191.21" y2="205.8" stroke="#2a2a2a" stroke-width="1.1"/>
<text transform="translate(194.01,208.40) rotate(-90) scale(0.08594,0.1)" font-size="76.0" font-family="Liberation Sans" font-weight="bold" text-anchor="end" fill="#000">GSM6205540</text>
<line x1="198.12" y1="201.3" x2="198.12" y2="205.8" stroke="#2a2a2a" stroke-width="1.1"/>
<text transform="translate(200.92,208.40) rotate(-90) scale(0.08594,0.1)" font-size="76.0" font-family="Liberation Sans" font-weight="bold" text-anchor="end" fill="#000">GSM6205541</text>
<line x1="205.02" y1="201.3" x2="205.02" y2="205.8" stroke="#2a2a2a" stroke-width="1.1"/>
<text transform="translate(207.82,208.40) rotate(-90) scale(0.08594,0.1)" font-size="76.0" font-family="Liberation Sans" font-weight="bold" text-anchor="end" fill="#000">GSM6205543</text>
<line x1="211.93" y1="201.3" x2="211.93" y2="205.8" stroke="#2a2a2a" stroke-width="1.1"/>
<text transform="translate(214.73,208.40) rotate(-90) scale(0.08594,0.1)" font-size="76.0" font-family="Liberation Sans" font-weight="bold" text-anchor="end" fill="#000">GSM6205545</text>
<line x1="218.83" y1="201.3" x2="218.83" y2="205.8" stroke="#2a2a2a" stroke-width="1.1"/>
<text transform="translate(221.63,208.40) rotate(-90) scale(0.08594,0.1)" font-size="76.0" font-family="Liberation Sans" font-weight="bold" text-anchor="end" fill="#000">GSM6205546</text>
<line x1="225.74" y1="201.3" x2="225.74" y2="205.8" stroke="#2a2a2a" stroke-width="1.1"/>
<text transform="translate(228.54,208.40) rotate(-90) scale(0.08594,0.1)" font-size="76.0" font-family="Liberation Sans" font-weight="bold" text-anchor="end" fill="#000">GSM6205547</text>
<line x1="232.64" y1="201.3" x2="232.64" y2="205.8" stroke="#2a2a2a" stroke-width="1.1"/>
<text transform="translate(235.44,208.40) rotate(-90) scale(0.08594,0.1)" font-size="76.0" font-family="Liberation Sans" font-weight="bold" text-anchor="end" fill="#000">GSM6205548</text>
<line x1="239.55" y1="201.3" x2="239.55" y2="205.8" stroke="#2a2a2a" stroke-width="1.1"/>
<text transform="translate(242.35,208.40) rotate(-90) scale(0.08594,0.1)" font-size="76.0" font-family="Liberation Sans" font-weight="bold" text-anchor="end" fill="#000">GSM6205549</text>
<line x1="246.45" y1="201.3" x2="246.45" y2="205.8" stroke="#2a2a2a" stroke-width="1.1"/>
<text transform="translate(249.25,208.40) rotate(-90) scale(0.08594,0.1)" font-size="76.0" font-family="Liberation Sans" font-weight="bold" text-anchor="end" fill="#000">GSM6205507</text>
<line x1="253.36" y1="201.3" x2="253.36" y2="205.8" stroke="#2a2a2a" stroke-width="1.1"/>
<text transform="translate(256.16,208.40) rotate(-90) scale(0.08594,0.1)" font-size="76.0" font-family="Liberation Sans" font-weight="bold" text-anchor="end" fill="#000">GSM6205516</text>
<line x1="260.26" y1="201.3" x2="260.26" y2="205.8" stroke="#2a2a2a" stroke-width="1.1"/>
<text transform="translate(263.06,208.40) rotate(-90) scale(0.08594,0.1)" font-size="76.0" font-family="Liberation Sans" font-weight="bold" text-anchor="end" fill="#000">GSM6205518</text>
<line x1="267.17" y1="201.3" x2="267.17" y2="205.8" stroke="#2a2a2a" stroke-width="1.1"/>
<text transform="translate(269.97,208.40) rotate(-90) scale(0.08594,0.1)" font-size="76.0" font-family="Liberation Sans" font-weight="bold" text-anchor="end" fill="#000">GSM6205521</text>
<line x1="274.07" y1="201.3" x2="274.07" y2="205.8" stroke="#2a2a2a" stroke-width="1.1"/>
<text transform="translate(276.87,208.40) rotate(-90) scale(0.08594,0.1)" font-size="76.0" font-family="Liberation Sans" font-weight="bold" text-anchor="end" fill="#000">GSM6205525</text>
<line x1="280.98" y1="201.3" x2="280.98" y2="205.8" stroke="#2a2a2a" stroke-width="1.1"/>
<text transform="translate(283.78,208.40) rotate(-90) scale(0.08594,0.1)" font-size="76.0" font-family="Liberation Sans" font-weight="bold" text-anchor="end" fill="#000">GSM6205528</text>
<line x1="287.88" y1="201.3" x2="287.88" y2="205.8" stroke="#2a2a2a" stroke-width="1.1"/>
<text transform="translate(290.68,208.40) rotate(-90) scale(0.08594,0.1)" font-size="76.0" font-family="Liberation Sans" font-weight="bold" text-anchor="end" fill="#000">GSM6205529</text>
<line x1="294.79" y1="201.3" x2="294.79" y2="205.8" stroke="#2a2a2a" stroke-width="1.1"/>
<text transform="translate(297.59,208.40) rotate(-90) scale(0.08594,0.1)" font-size="76.0" font-family="Liberation Sans" font-weight="bold" text-anchor="end" fill="#000">GSM6205533</text>
<line x1="301.69" y1="201.3" x2="301.69" y2="205.8" stroke="#2a2a2a" stroke-width="1.1"/>
<text transform="translate(304.49,208.40) rotate(-90) scale(0.08594,0.1)" font-size="76.0" font-family="Liberation Sans" font-weight="bold" text-anchor="end" fill="#000">GSM6205534</text>
<line x1="308.60" y1="201.3" x2="308.60" y2="205.8" stroke="#2a2a2a" stroke-width="1.1"/>
<text transform="translate(311.40,208.40) rotate(-90) scale(0.08594,0.1)" font-size="76.0" font-family="Liberation Sans" font-weight="bold" text-anchor="end" fill="#000">GSM6205530</text>
<line x1="315.50" y1="201.3" x2="315.50" y2="205.8" stroke="#2a2a2a" stroke-width="1.1"/>
<text transform="translate(318.30,208.40) rotate(-90) scale(0.08594,0.1)" font-size="76.0" font-family="Liberation Sans" font-weight="bold" text-anchor="end" fill="#000">GSM6205542</text>
<line x1="322.41" y1="201.3" x2="322.41" y2="205.8" stroke="#2a2a2a" stroke-width="1.1"/>
<text transform="translate(325.21,208.40) rotate(-90) scale(0.08594,0.1)" font-size="76.0" font-family="Liberation Sans" font-weight="bold" text-anchor="end" fill="#000">GSM6205544</text>
<rect x="29.1" y="18.6" width="5.6" height="4.4" fill="#50eefe" stroke="#111" stroke-width="1.0"/>
<rect x="29.1" y="26.1" width="5.6" height="4.4" fill="#fb40fb" stroke="#111" stroke-width="1.0"/>
<text x="40.60" y="23.00" font-size="5.8" font-family="Liberation Sans" font-weight="bold" text-anchor="start" fill="#222" >Control</text>
<text x="40.60" y="30.50" font-size="5.8" font-family="Liberation Sans" font-weight="bold" text-anchor="start" fill="#222" >NTM</text>
<text x="347.60" y="14.60" font-size="17.5" font-family="Liberation Serif" font-weight="normal" text-anchor="start" fill="#1a1a1a" >B</text>
<text x="527.30" y="9.60" font-size="7.6" font-family="Liberation Sans" font-weight="bold" text-anchor="middle" fill="#111" >GSE205161 After</text>
<line x1="385.50" y1="21.90" x2="385.50" y2="104.20" stroke="#50eefe" stroke-width="1.2" stroke-dasharray="4.4 4.3"/>
<line x1="385.50" y1="195.80" x2="385.50" y2="160.80" stroke="#50eefe" stroke-width="1.2" stroke-dasharray="4.4 4.3"/>
<line x1="383.90" y1="22.50" x2="387.10" y2="22.50" stroke="#50eefe" stroke-width="1.3"/>
<line x1="383.90" y1="195.20" x2="387.10" y2="195.20" stroke="#50eefe" stroke-width="1.3"/>
<rect x="382.95" y="104.20" width="5.1" height="56.60" fill="#50eefe"/>
<line x1="382.95" y1="138.16" x2="388.05" y2="138.16" stroke="#fff" stroke-opacity="0.22" stroke-width="0.8"/>
<line x1="392.42" y1="21.90" x2="392.42" y2="104.20" stroke="#50eefe" stroke-width="1.2" stroke-dasharray="4.4 4.3"/>
<line x1="392.42" y1="195.80" x2="392.42" y2="160.80" stroke="#50eefe" stroke-width="1.2" stroke-dasharray="4.4 4.3"/>
<line x1="390.82" y1="22.50" x2="394.02" y2="22.50" stroke="#50eefe" stroke-width="1.3"/>
<line x1="390.82" y1="195.20" x2="394.02" y2="195.20" stroke="#50eefe" stroke-width="1.3"/>
<rect x="389.87" y="104.20" width="5.1" height="56.60" fill="#50eefe"/>
<line x1="389.87" y1="138.16" x2="394.97" y2="138.16" stroke="#fff" stroke-opacity="0.22" stroke-width="0.8"/>
<line x1="399.33" y1="21.90" x2="399.33" y2="104.20" stroke="#50eefe" stroke-width="1.2" stroke-dasharray="4.4 4.3"/>
<line x1="399.33" y1="195.80" x2="399.33" y2="160.80" stroke="#50eefe" stroke-width="1.2" stroke-dasharray="4.4 4.3"/>
<line x1="397.73" y1="22.50" x2="400.93" y2="22.50" stroke="#50eefe" stroke-width="1.3"/>
<line x1="397.73" y1="195.20" x2="400.93" y2="195.20" stroke="#50eefe" stroke-width="1.3"/>
<rect x="396.78" y="104.20" width="5.1" height="56.60" fill="#50eefe"/>
<line x1="396.78" y1="138.16" x2="401.88" y2="138.16" stroke="#fff" stroke-opacity="0.22" stroke-width="0.8"/>
<line x1="406.25" y1="21.90" x2="406.25" y2="104.20" stroke="#50eefe" stroke-width="1.2" stroke-dasharray="4.4 4.3"/>
<line x1="406.25" y1="195.80" x2="406.25" y2="160.80" stroke="#50eefe" stroke-width="1.2" stroke-dasharray="4.4 4.3"/>
<line x1="404.65" y1="22.50" x2="407.85" y2="22.50" stroke="#50eefe" stroke-width="1.3"/>
<line x1="404.65" y1="195.20" x2="407.85" y2="195.20" stroke="#50eefe" stroke-width="1.3"/>
<rect x="403.70" y="104.20" width="5.1" height="56.60" fill="#50eefe"/>
<line x1="403.70" y1="138.16" x2="408.80" y2="138.16" stroke="#fff" stroke-opacity="0.22" stroke-width="0.8"/>
<line x1="413.17" y1="21.90" x2="413.17" y2="104.20" stroke="#50eefe" stroke-width="1.2" stroke-dasharray="4.4 4.3"/>
<line x1="413.17" y1="195.80" x2="413.17" y2="160.80" stroke="#50eefe" stroke-width="1.2" stroke-dasharray="4.4 4.3"/>
<line x1="411.57" y1="22.50" x2="414.77" y2="22.50" stroke="#50eefe" stroke-width="1.3"/>
<line x1="411.57" y1="195.20" x2="414.77" y2="195.20" stroke="#50eefe" stroke-width="1.3"/>
<rect x="410.62" y="104.20" width="5.1" height="56.60" fill="#50eefe"/>
<line x1="410.62" y1="138.16" x2="415.72" y2="138.16" stroke="#fff" stroke-opacity="0.22" stroke-width="0.8"/>
<line x1="420.08" y1="21.90" x2="420.08" y2="104.20" stroke="#50eefe" stroke-width="1.2" stroke-dasharray="4.4 4.3"/>
<line x1="420.08" y1="195.80" x2="420.08" y2="160.80" stroke="#50eefe" stroke-width="1.2" stroke-dasharray="4.4 4.3"/>
<line x1="418.48" y1="22.50" x2="421.69" y2="22.50" stroke="#50eefe" stroke-width="1.3"/>
<line x1="418.48" y1="195.20" x2="421.69" y2="195.20" stroke="#50eefe" stroke-width="1.3"/>
<rect x="417.53" y="104.20" width="5.1" height="56.60" fill="#50eefe"/>
<line x1="417.53" y1="138.16" x2="422.63" y2="138.16" stroke="#fff" stroke-opacity="0.22" stroke-width="0.8"/>
<line x1="427.00" y1="21.90" x2="427.00" y2="104.20" stroke="#50eefe" stroke-width="1.2" stroke-dasharray="4.4 4.3"/>
<line x1="427.00" y1="195.80" x2="427.00" y2="160.80" stroke="#50eefe" stroke-width="1.2" stroke-dasharray="4.4 4.3"/>
<line x1="425.40" y1="22.50" x2="428.60" y2="22.50" stroke="#50eefe" stroke-width="1.3"/>
<line x1="425.40" y1="195.20" x2="428.60" y2="195.20" stroke="#50eefe" stroke-width="1.3"/>
<rect x="424.45" y="104.20" width="5.1" height="56.60" fill="#50eefe"/>
<line x1="424.45" y1="138.16" x2="429.55" y2="138.16" stroke="#fff" stroke-opacity="0.22" stroke-width="0.8"/>
<line x1="433.92" y1="21.90" x2="433.92" y2="104.20" stroke="#50eefe" stroke-width="1.2" stroke-dasharray="4.4 4.3"/>
<line x1="433.92" y1="195.80" x2="433.92" y2="160.80" stroke="#50eefe" stroke-width="1.2" stroke-dasharray="4.4 4.3"/>
<line x1="432.32" y1="22.50" x2="435.52" y2="22.50" stroke="#50eefe" stroke-width="1.3"/>
<line x1="432.32" y1="195.20" x2="435.52" y2="195.20" stroke="#50eefe" stroke-width="1.3"/>
<rect x="431.37" y="104.20" width="5.1" height="56.60" fill="#50eefe"/>
<line x1="431.37" y1="138.16" x2="436.47" y2="138.16" stroke="#fff" stroke-opacity="0.22" stroke-width="0.8"/>
<line x1="440.84" y1="21.90" x2="440.84" y2="104.20" stroke="#50eefe" stroke-width="1.2" stroke-dasharray="4.4 4.3"/>
<line x1="440.84" y1="195.80" x2="440.84" y2="160.80" stroke="#50eefe" stroke-width="1.2" stroke-dasharray="4.4 4.3"/>
<line x1="439.24" y1="22.50" x2="442.44" y2="22.50" stroke="#50eefe" stroke-width="1.3"/>
<line x1="439.24" y1="195.20" x2="442.44" y2="195.20" stroke="#50eefe" stroke-width="1.3"/>
<rect x="438.29" y="104.20" width="5.1" height="56.60" fill="#50eefe"/>
<line x1="438.29" y1="138.16" x2="443.39" y2="138.16" stroke="#fff" stroke-opacity="0.22" stroke-width="0.8"/>
<line x1="447.75" y1="21.90" x2="447.75" y2="104.20" stroke="#50eefe" stroke-width="1.2" stroke-dasharray="4.4 4.3"/>
<line x1="447.75" y1="195.80" x2="447.75" y2="160.80" stroke="#50eefe" stroke-width="1.2" stroke-dasharray="4.4 4.3"/>
<line x1="446.15" y1="22.50" x2="449.35" y2="22.50" stroke="#50eefe" stroke-width="1.3"/>
<line x1="446.15" y1="195.20" x2="449.35" y2="195.20" stroke="#50eefe" stroke-width="1.3"/>
<rect x="445.20" y="104.20" width="5.1" height="56.60" fill="#50eefe"/>
<line x1="445.20" y1="138.16" x2="450.30" y2="138.16" stroke="#fff" stroke-opacity="0.22" stroke-width="0.8"/>
<line x1="454.67" y1="21.90" x2="454.67" y2="104.20" stroke="#50eefe" stroke-width="1.2" stroke-dasharray="4.4 4.3"/>
<line x1="454.67" y1="195.80" x2="454.67" y2="160.80" stroke="#50eefe" stroke-width="1.2" stroke-dasharray="4.4 4.3"/>
<line x1="453.07" y1="22.50" x2="456.27" y2="22.50" stroke="#50eefe" stroke-width="1.3"/>
<line x1="453.07" y1="195.20" x2="456.27" y2="195.20" stroke="#50eefe" stroke-width="1.3"/>
<rect x="452.12" y="104.20" width="5.1" height="56.60" fill="#50eefe"/>
<line x1="452.12" y1="138.16" x2="457.22" y2="138.16" stroke="#fff" stroke-opacity="0.22" stroke-width="0.8"/>
<line x1="461.59" y1="21.90" x2="461.59" y2="104.20" stroke="#50eefe" stroke-width="1.2" stroke-dasharray="4.4 4.3"/>
<line x1="461.59" y1="195.80" x2="461.59" y2="160.80" stroke="#50eefe" stroke-width="1.2" stroke-dasharray="4.4 4.3"/>
<line x1="459.99" y1="22.50" x2="463.19" y2="22.50" stroke="#50eefe" stroke-width="1.3"/>
<line x1="459.99" y1="195.20" x2="463.19" y2="195.20" stroke="#50eefe" stroke-width="1.3"/>
<rect x="459.04" y="104.20" width="5.1" height="56.60" fill="#50eefe"/>
<line x1="459.04" y1="138.16" x2="464.14" y2="138.16" stroke="#fff" stroke-opacity="0.22" stroke-width="0.8"/>
<line x1="468.50" y1="21.90" x2="468.50" y2="104.20" stroke="#50eefe" stroke-width="1.2" stroke-dasharray="4.4 4.3"/>
<line x1="468.50" y1="195.80" x2="468.50" y2="160.80" stroke="#50eefe" stroke-width="1.2" stroke-dasharray="4.4 4.3"/>
<line x1="466.90" y1="22.50" x2="470.10" y2="22.50" stroke="#50eefe" stroke-width="1.3"/>
<line x1="466.90" y1="195.20" x2="470.10" y2="195.20" stroke="#50eefe" stroke-width="1.3"/>
<rect x="465.95" y="104.20" width="5.1" height="56.60" fill="#50eefe"/>
<line x1="465.95" y1="138.16" x2="471.05" y2="138.16" stroke="#fff" stroke-opacity="0.22" stroke-width="0.8"/>
<line x1="475.42" y1="21.90" x2="475.42" y2="104.20" stroke="#50eefe" stroke-width="1.2" stroke-dasharray="4.4 4.3"/>
<line x1="475.42" y1="195.80" x2="475.42" y2="160.80" stroke="#50eefe" stroke-width="1.2" stroke-dasharray="4.4 4.3"/>
<line x1="473.82" y1="22.50" x2="477.02" y2="22.50" stroke="#50eefe" stroke-width="1.3"/>
<line x1="473.82" y1="195.20" x2="477.02" y2="195.20" stroke="#50eefe" stroke-width="1.3"/>
<rect x="472.87" y="104.20" width="5.1" height="56.60" fill="#50eefe"/>
<line x1="472.87" y1="138.16" x2="477.97" y2="138.16" stroke="#fff" stroke-opacity="0.22" stroke-width="0.8"/>
<line x1="482.34" y1="21.90" x2="482.34" y2="104.20" stroke="#50eefe" stroke-width="1.2" stroke-dasharray="4.4 4.3"/>
<line x1="482.34" y1="195.80" x2="482.34" y2="160.80" stroke="#50eefe" stroke-width="1.2" stroke-dasharray="4.4 4.3"/>
<line x1="480.74" y1="22.50" x2="483.94" y2="22.50" stroke="#50eefe" stroke-width="1.3"/>
<line x1="480.74" y1="195.20" x2="483.94" y2="195.20" stroke="#50eefe" stroke-width="1.3"/>
<rect x="479.79" y="104.20" width="5.1" height="56.60" fill="#50eefe"/>
<line x1="479.79" y1="138.16" x2="484.89" y2="138.16" stroke="#fff" stroke-opacity="0.22" stroke-width="0.8"/>
<line x1="489.25" y1="21.90" x2="489.25" y2="104.20" stroke="#50eefe" stroke-width="1.2" stroke-dasharray="4.4 4.3"/>
<line x1="489.25" y1="195.80" x2="489.25" y2="160.80" stroke="#50eefe" stroke-width="1.2" stroke-dasharray="4.4 4.3"/>
<line x1="487.65" y1="22.50" x2="490.86" y2="22.50" stroke="#50eefe" stroke-width="1.3"/>
<line x1="487.65" y1="195.20" x2="490.86" y2="195.20" stroke="#50eefe" stroke-width="1.3"/>
<rect x="486.70" y="104.20" width="5.1" height="56.60" fill="#50eefe"/>
<line x1="486.70" y1="138.16" x2="491.81" y2="138.16" stroke="#fff" stroke-opacity="0.22" stroke-width="0.8"/>
<line x1="496.17" y1="21.90" x2="496.17" y2="104.20" stroke="#50eefe" stroke-width="1.2" stroke-dasharray="4.4 4.3"/>
<line x1="496.17" y1="195.80" x2="496.17" y2="160.80" stroke="#50eefe" stroke-width="1.2" stroke-dasharray="4.4 4.3"/>
<line x1="494.57" y1="22.50" x2="497.77" y2="22.50" stroke="#50eefe" stroke-width="1.3"/>
<line x1="494.57" y1="195.20" x2="497.77" y2="195.20" stroke="#50eefe" stroke-width="1.3"/>
<rect x="493.62" y="104.20" width="5.1" height="56.60" fill="#50eefe"/>
<line x1="493.62" y1="138.16" x2="498.72" y2="138.16" stroke="#fff" stroke-opacity="0.22" stroke-width="0.8"/>
<line x1="503.09" y1="21.90" x2="503.09" y2="104.20" stroke="#50eefe" stroke-width="1.2" stroke-dasharray="4.4 4.3"/>
<line x1="503.09" y1="195.80" x2="503.09" y2="160.80" stroke="#50eefe" stroke-width="1.2" stroke-dasharray="4.4 4.3"/>
<line x1="501.49" y1="22.50" x2="504.69" y2="22.50" stroke="#50eefe" stroke-width="1.3"/>
<line x1="501.49" y1="195.20" x2="504.69" y2="195.20" stroke="#50eefe" stroke-width="1.3"/>
<rect x="500.54" y="104.20" width="5.1" height="56.60" fill="#50eefe"/>
<line x1="500.54" y1="138.16" x2="505.64" y2="138.16" stroke="#fff" stroke-opacity="0.22" stroke-width="0.8"/>
<line x1="510.01" y1="21.90" x2="510.01" y2="104.20" stroke="#50eefe" stroke-width="1.2" stroke-dasharray="4.4 4.3"/>
<line x1="510.01" y1="195.80" x2="510.01" y2="160.80" stroke="#50eefe" stroke-width="1.2" stroke-dasharray="4.4 4.3"/>
<line x1="508.41" y1="22.50" x2="511.61" y2="22.50" stroke="#50eefe" stroke-width="1.3"/>
<line x1="508.41" y1="195.20" x2="511.61" y2="195.20" stroke="#50eefe" stroke-width="1.3"/>
<rect x="507.46" y="104.20" width="5.1" height="56.60" fill="#50eefe"/>
<line x1="507.46" y1="138.16" x2="512.56" y2="138.16" stroke="#fff" stroke-opacity="0.22" stroke-width="0.8"/>
<line x1="516.92" y1="21.90" x2="516.92" y2="104.20" stroke="#50eefe" stroke-width="1.2" stroke-dasharray="4.4 4.3"/>
<line x1="516.92" y1="195.80" x2="516.92" y2="160.80" stroke="#50eefe" stroke-width="1.2" stroke-dasharray="4.4 4.3"/>
<line x1="515.32" y1="22.50" x2="518.52" y2="22.50" stroke="#50eefe" stroke-width="1.3"/>
<line x1="515.32" y1="195.20" x2="518.52" y2="195.20" stroke="#50eefe" stroke-width="1.3"/>
<rect x="514.37" y="104.20" width="5.1" height="56.60" fill="#50eefe"/>
<line x1="514.37" y1="138.16" x2="519.47" y2="138.16" stroke="#fff" stroke-opacity="0.22" stroke-width="0.8"/>
<line x1="523.84" y1="21.90" x2="523.84" y2="104.20" stroke="#50eefe" stroke-width="1.2" stroke-dasharray="4.4 4.3"/>
<line x1="523.84" y1="195.80" x2="523.84" y2="160.80" stroke="#50eefe" stroke-width="1.2" stroke-dasharray="4.4 4.3"/>
<line x1="522.24" y1="22.50" x2="525.44" y2="22.50" stroke="#50eefe" stroke-width="1.3"/>
<line x1="522.24" y1="195.20" x2="525.44" y2="195.20" stroke="#50eefe" stroke-width="1.3"/>
<rect x="521.29" y="104.20" width="5.1" height="56.60" fill="#50eefe"/>
<line x1="521.29" y1="138.16" x2="526.39" y2="138.16" stroke="#fff" stroke-opacity="0.22" stroke-width="0.8"/>
<line x1="530.76" y1="21.90" x2="530.76" y2="104.20" stroke="#50eefe" stroke-width="1.2" stroke-dasharray="4.4 4.3"/>
<line x1="530.76" y1="195.80" x2="530.76" y2="160.80" stroke="#50eefe" stroke-width="1.2" stroke-dasharray="4.4 4.3"/>
<line x1="529.16" y1="22.50" x2="532.36" y2="22.50" stroke="#50eefe" stroke-width="1.3"/>
<line x1="529.16" y1="195.20" x2="532.36" y2="195.20" stroke="#50eefe" stroke-width="1.3"/>
<rect x="528.21" y="104.20" width="5.1" height="56.60" fill="#50eefe"/>
<line x1="528.21" y1="138.16" x2="533.31" y2="138.16" stroke="#fff" stroke-opacity="0.22" stroke-width="0.8"/>
<line x1="537.67" y1="21.90" x2="537.67" y2="104.20" stroke="#50eefe" stroke-width="1.2" stroke-dasharray="4.4 4.3"/>
<line x1="537.67" y1="195.80" x2="537.67" y2="160.80" stroke="#50eefe" stroke-width="1.2" stroke-dasharray="4.4 4.3"/>
<line x1="536.07" y1="22.50" x2="539.27" y2="22.50" stroke="#50eefe" stroke-width="1.3"/>
<line x1="536.07" y1="195.20" x2="539.27" y2="195.20" stroke="#50eefe" stroke-width="1.3"/>
<rect x="535.12" y="104.20" width="5.1" height="56.60" fill="#50eefe"/>
<line x1="535.12" y1="138.16" x2="540.22" y2="138.16" stroke="#fff" stroke-opacity="0.22" stroke-width="0.8"/>
<line x1="544.59" y1="21.90" x2="544.59" y2="104.20" stroke="#50eefe" stroke-width="1.2" stroke-dasharray="4.4 4.3"/>
<line x1="544.59" y1="195.80" x2="544.59" y2="160.80" stroke="#50eefe" stroke-width="1.2" stroke-dasharray="4.4 4.3"/>
<line x1="542.99" y1="22.50" x2="546.19" y2="22.50" stroke="#50eefe" stroke-width="1.3"/>
<line x1="542.99" y1="195.20" x2="546.19" y2="195.20" stroke="#50eefe" stroke-width="1.3"/>
<rect x="542.04" y="104.20" width="5.1" height="56.60" fill="#50eefe"/>
<line x1="542.04" y1="138.16" x2="547.14" y2="138.16" stroke="#fff" stroke-opacity="0.22" stroke-width="0.8"/>
<line x1="551.51" y1="21.90" x2="551.51" y2="104.20" stroke="#50eefe" stroke-width="1.2" stroke-dasharray="4.4 4.3"/>
<line x1="551.51" y1="195.80" x2="551.51" y2="160.80" stroke="#50eefe" stroke-width="1.2" stroke-dasharray="4.4 4.3"/>
<line x1="549.91" y1="22.50" x2="553.11" y2="22.50" stroke="#50eefe" stroke-width="1.3"/>
<line x1="549.91" y1="195.20" x2="553.11" y2="195.20" stroke="#50eefe" stroke-width="1.3"/>
<rect x="548.96" y="104.20" width="5.1" height="56.60" fill="#50eefe"/>
<line x1="548.96" y1="138.16" x2="554.06" y2="138.16" stroke="#fff" stroke-opacity="0.22" stroke-width="0.8"/>
<line x1="558.42" y1="21.90" x2="558.42" y2="104.20" stroke="#50eefe" stroke-width="1.2" stroke-dasharray="4.4 4.3"/>
<line x1="558.42" y1="195.80" x2="558.42" y2="160.80" stroke="#50eefe" stroke-width="1.2" stroke-dasharray="4.4 4.3"/>
<line x1="556.82" y1="22.50" x2="560.02" y2="22.50" stroke="#50eefe" stroke-width="1.3"/>
<line x1="556.82" y1="195.20" x2="560.02" y2="195.20" stroke="#50eefe" stroke-width="1.3"/>
<rect x="555.88" y="104.20" width="5.1" height="56.60" fill="#50eefe"/>
<line x1="555.88" y1="138.16" x2="560.97" y2="138.16" stroke="#fff" stroke-opacity="0.22" stroke-width="0.8"/>
<line x1="565.34" y1="21.90" x2="565.34" y2="104.20" stroke="#50eefe" stroke-width="1.2" stroke-dasharray="4.4 4.3"/>
<line x1="565.34" y1="195.80" x2="565.34" y2="160.80" stroke="#50eefe" stroke-width="1.2" stroke-dasharray="4.4 4.3"/>
<line x1="563.74" y1="22.50" x2="566.94" y2="22.50" stroke="#50eefe" stroke-width="1.3"/>
<line x1="563.74" y1="195.20" x2="566.94" y2="195.20" stroke="#50eefe" stroke-width="1.3"/>
<rect x="562.79" y="104.20" width="5.1" height="56.60" fill="#50eefe"/>
<line x1="562.79" y1="138.16" x2="567.89" y2="138.16" stroke="#fff" stroke-opacity="0.22" stroke-width="0.8"/>
<line x1="572.26" y1="21.90" x2="572.26" y2="104.20" stroke="#50eefe" stroke-width="1.2" stroke-dasharray="4.4 4.3"/>
<line x1="572.26" y1="195.80" x2="572.26" y2="160.80" stroke="#50eefe" stroke-width="1.2" stroke-dasharray="4.4 4.3"/>
<line x1="570.66" y1="22.50" x2="573.86" y2="22.50" stroke="#50eefe" stroke-width="1.3"/>
<line x1="570.66" y1="195.20" x2="573.86" y2="195.20" stroke="#50eefe" stroke-width="1.3"/>
<rect x="569.71" y="104.20" width="5.1" height="56.60" fill="#50eefe"/>
<line x1="569.71" y1="138.16" x2="574.81" y2="138.16" stroke="#fff" stroke-opacity="0.22" stroke-width="0.8"/>
<line x1="579.18" y1="21.90" x2="579.18" y2="104.20" stroke="#50eefe" stroke-width="1.2" stroke-dasharray="4.4 4.3"/>
<line x1="579.18" y1="195.80" x2="579.18" y2="160.80" stroke="#50eefe" stroke-width="1.2" stroke-dasharray="4.4 4.3"/>
<line x1="577.58" y1="22.50" x2="580.78" y2="22.50" stroke="#50eefe" stroke-width="1.3"/>
<line x1="577.58" y1="195.20" x2="580.78" y2="195.20" stroke="#50eefe" stroke-width="1.3"/>
<rect x="576.63" y="104.20" width="5.1" height="56.60" fill="#50eefe"/>
<line x1="576.63" y1="138.16" x2="581.73" y2="138.16" stroke="#fff" stroke-opacity="0.22" stroke-width="0.8"/>
<line x1="586.09" y1="21.90" x2="586.09" y2="104.20" stroke="#50eefe" stroke-width="1.2" stroke-dasharray="4.4 4.3"/>
<line x1="586.09" y1="195.80" x2="586.09" y2="160.80" stroke="#50eefe" stroke-width="1.2" stroke-dasharray="4.4 4.3"/>
<line x1="584.49" y1="22.50" x2="587.69" y2="22.50" stroke="#50eefe" stroke-width="1.3"/>
<line x1="584.49" y1="195.20" x2="587.69" y2="195.20" stroke="#50eefe" stroke-width="1.3"/>
<rect x="583.54" y="104.20" width="5.1" height="56.60" fill="#50eefe"/>
<line x1="583.54" y1="138.16" x2="588.64" y2="138.16" stroke="#fff" stroke-opacity="0.22" stroke-width="0.8"/>
<line x1="593.01" y1="21.90" x2="593.01" y2="104.20" stroke="#fb40fb" stroke-width="1.2" stroke-dasharray="4.4 4.3"/>
<line x1="593.01" y1="195.80" x2="593.01" y2="160.80" stroke="#fb40fb" stroke-width="1.2" stroke-dasharray="4.4 4.3"/>
<line x1="591.41" y1="22.50" x2="594.61" y2="22.50" stroke="#fb40fb" stroke-width="1.3"/>
<line x1="591.41" y1="195.20" x2="594.61" y2="195.20" stroke="#fb40fb" stroke-width="1.3"/>
<rect x="590.46" y="104.20" width="5.1" height="56.60" fill="#fb40fb"/>
<line x1="590.46" y1="138.16" x2="595.56" y2="138.16" stroke="#fff" stroke-opacity="0.22" stroke-width="0.8"/>
<line x1="599.93" y1="21.90" x2="599.93" y2="104.20" stroke="#fb40fb" stroke-width="1.2" stroke-dasharray="4.4 4.3"/>
<line x1="599.93" y1="195.80" x2="599.93" y2="160.80" stroke="#fb40fb" stroke-width="1.2" stroke-dasharray="4.4 4.3"/>
<line x1="598.33" y1="22.50" x2="601.53" y2="22.50" stroke="#fb40fb" stroke-width="1.3"/>
<line x1="598.33" y1="195.20" x2="601.53" y2="195.20" stroke="#fb40fb" stroke-width="1.3"/>
<rect x="597.38" y="104.20" width="5.1" height="56.60" fill="#fb40fb"/>
<line x1="597.38" y1="138.16" x2="602.48" y2="138.16" stroke="#fff" stroke-opacity="0.22" stroke-width="0.8"/>
<line x1="606.84" y1="21.90" x2="606.84" y2="104.20" stroke="#fb40fb" stroke-width="1.2" stroke-dasharray="4.4 4.3"/>
<line x1="606.84" y1="195.80" x2="606.84" y2="160.80" stroke="#fb40fb" stroke-width="1.2" stroke-dasharray="4.4 4.3"/>
<line x1="605.24" y1="22.50" x2="608.44" y2="22.50" stroke="#fb40fb" stroke-width="1.3"/>
<line x1="605.24" y1="195.20" x2="608.44" y2="195.20" stroke="#fb40fb" stroke-width="1.3"/>
<rect x="604.29" y="104.20" width="5.1" height="56.60" fill="#fb40fb"/>
<line x1="604.29" y1="138.16" x2="609.39" y2="138.16" stroke="#fff" stroke-opacity="0.22" stroke-width="0.8"/>
<line x1="613.76" y1="21.90" x2="613.76" y2="104.20" stroke="#fb40fb" stroke-width="1.2" stroke-dasharray="4.4 4.3"/>
<line x1="613.76" y1="195.80" x2="613.76" y2="160.80" stroke="#fb40fb" stroke-width="1.2" stroke-dasharray="4.4 4.3"/>
<line x1="612.16" y1="22.50" x2="615.36" y2="22.50" stroke="#fb40fb" stroke-width="1.3"/>
<line x1="612.16" y1="195.20" x2="615.36" y2="195.20" stroke="#fb40fb" stroke-width="1.3"/>
<rect x="611.21" y="104.20" width="5.1" height="56.60" fill="#fb40fb"/>
<line x1="611.21" y1="138.16" x2="616.31" y2="138.16" stroke="#fff" stroke-opacity="0.22" stroke-width="0.8"/>
<line x1="620.68" y1="21.90" x2="620.68" y2="104.20" stroke="#fb40fb" stroke-width="1.2" stroke-dasharray="4.4 4.3"/>
<line x1="620.68" y1="195.80" x2="620.68" y2="160.80" stroke="#fb40fb" stroke-width="1.2" stroke-dasharray="4.4 4.3"/>
<line x1="619.08" y1="22.50" x2="622.28" y2="22.50" stroke="#fb40fb" stroke-width="1.3"/>
<line x1="619.08" y1="195.20" x2="622.28" y2="195.20" stroke="#fb40fb" stroke-width="1.3"/>
<rect x="618.13" y="104.20" width="5.1" height="56.60" fill="#fb40fb"/>
<line x1="618.13" y1="138.16" x2="623.23" y2="138.16" stroke="#fff" stroke-opacity="0.22" stroke-width="0.8"/>
<line x1="627.60" y1="21.90" x2="627.60" y2="104.20" stroke="#fb40fb" stroke-width="1.2" stroke-dasharray="4.4 4.3"/>
<line x1="627.60" y1="195.80" x2="627.60" y2="160.80" stroke="#fb40fb" stroke-width="1.2" stroke-dasharray="4.4 4.3"/>
<line x1="626.00" y1="22.50" x2="629.20" y2="22.50" stroke="#fb40fb" stroke-width="1.3"/>
<line x1="626.00" y1="195.20" x2="629.20" y2="195.20" stroke="#fb40fb" stroke-width="1.3"/>
<rect x="625.05" y="104.20" width="5.1" height="56.60" fill="#fb40fb"/>
<line x1="625.05" y1="138.16" x2="630.14" y2="138.16" stroke="#fff" stroke-opacity="0.22" stroke-width="0.8"/>
<line x1="634.51" y1="21.90" x2="634.51" y2="104.20" stroke="#fb40fb" stroke-width="1.2" stroke-dasharray="4.4 4.3"/>
<line x1="634.51" y1="195.80" x2="634.51" y2="160.80" stroke="#fb40fb" stroke-width="1.2" stroke-dasharray="4.4 4.3"/>
<line x1="632.91" y1="22.50" x2="636.11" y2="22.50" stroke="#fb40fb" stroke-width="1.3"/>
<line x1="632.91" y1="195.20" x2="636.11" y2="195.20" stroke="#fb40fb" stroke-width="1.3"/>
<rect x="631.96" y="104.20" width="5.1" height="56.60" fill="#fb40fb"/>
<line x1="631.96" y1="138.16" x2="637.06" y2="138.16" stroke="#fff" stroke-opacity="0.22" stroke-width="0.8"/>
<line x1="641.43" y1="21.90" x2="641.43" y2="104.20" stroke="#fb40fb" stroke-width="1.2" stroke-dasharray="4.4 4.3"/>
<line x1="641.43" y1="195.80" x2="641.43" y2="160.80" stroke="#fb40fb" stroke-width="1.2" stroke-dasharray="4.4 4.3"/>
<line x1="639.83" y1="22.50" x2="643.03" y2="22.50" stroke="#fb40fb" stroke-width="1.3"/>
<line x1="639.83" y1="195.20" x2="643.03" y2="195.20" stroke="#fb40fb" stroke-width="1.3"/>
<rect x="638.88" y="104.20" width="5.1" height="56.60" fill="#fb40fb"/>
<line x1="638.88" y1="138.16" x2="643.98" y2="138.16" stroke="#fff" stroke-opacity="0.22" stroke-width="0.8"/>
<line x1="648.35" y1="21.90" x2="648.35" y2="104.20" stroke="#fb40fb" stroke-width="1.2" stroke-dasharray="4.4 4.3"/>
<line x1="648.35" y1="195.80" x2="648.35" y2="160.80" stroke="#fb40fb" stroke-width="1.2" stroke-dasharray="4.4 4.3"/>
<line x1="646.75" y1="22.50" x2="649.95" y2="22.50" stroke="#fb40fb" stroke-width="1.3"/>
<line x1="646.75" y1="195.20" x2="649.95" y2="195.20" stroke="#fb40fb" stroke-width="1.3"/>
<rect x="645.80" y="104.20" width="5.1" height="56.60" fill="#fb40fb"/>
<line x1="645.80" y1="138.16" x2="650.90" y2="138.16" stroke="#fff" stroke-opacity="0.22" stroke-width="0.8"/>
<line x1="655.26" y1="21.90" x2="655.26" y2="104.20" stroke="#fb40fb" stroke-width="1.2" stroke-dasharray="4.4 4.3"/>
<line x1="655.26" y1="195.80" x2="655.26" y2="160.80" stroke="#fb40fb" stroke-width="1.2" stroke-dasharray="4.4 4.3"/>
<line x1="653.66" y1="22.50" x2="656.86" y2="22.50" stroke="#fb40fb" stroke-width="1.3"/>
<line x1="653.66" y1="195.20" x2="656.86" y2="195.20" stroke="#fb40fb" stroke-width="1.3"/>
<rect x="652.71" y="104.20" width="5.1" height="56.60" fill="#fb40fb"/>
<line x1="652.71" y1="138.16" x2="657.81" y2="138.16" stroke="#fff" stroke-opacity="0.22" stroke-width="0.8"/>
<line x1="662.18" y1="21.90" x2="662.18" y2="104.20" stroke="#fb40fb" stroke-width="1.2" stroke-dasharray="4.4 4.3"/>
<line x1="662.18" y1="195.80" x2="662.18" y2="160.80" stroke="#fb40fb" stroke-width="1.2" stroke-dasharray="4.4 4.3"/>
<line x1="660.58" y1="22.50" x2="663.78" y2="22.50" stroke="#fb40fb" stroke-width="1.3"/>
<line x1="660.58" y1="195.20" x2="663.78" y2="195.20" stroke="#fb40fb" stroke-width="1.3"/>
<rect x="659.63" y="104.20" width="5.1" height="56.60" fill="#fb40fb"/>
<line x1="659.63" y1="138.16" x2="664.73" y2="138.16" stroke="#fff" stroke-opacity="0.22" stroke-width="0.8"/>
<line x1="669.10" y1="21.90" x2="669.10" y2="104.20" stroke="#fb40fb" stroke-width="1.2" stroke-dasharray="4.4 4.3"/>
<line x1="669.10" y1="195.80" x2="669.10" y2="160.80" stroke="#fb40fb" stroke-width="1.2" stroke-dasharray="4.4 4.3"/>
<line x1="667.50" y1="22.50" x2="670.70" y2="22.50" stroke="#fb40fb" stroke-width="1.3"/>
<line x1="667.50" y1="195.20" x2="670.70" y2="195.20" stroke="#fb40fb" stroke-width="1.3"/>
<rect x="666.55" y="104.20" width="5.1" height="56.60" fill="#fb40fb"/>
<line x1="666.55" y1="138.16" x2="671.65" y2="138.16" stroke="#fff" stroke-opacity="0.22" stroke-width="0.8"/>
<rect x="370.5" y="14.3" width="313.79999999999995" height="188.0" fill="none" stroke="#2a2a2a" stroke-width="1.3"/>
<line x1="366.2" y1="195.80" x2="370.5" y2="195.80" stroke="#2a2a2a" stroke-width="1.2"/>
<text x="362.50" y="197.90" font-size="6" font-family="Liberation Sans" font-weight="bold" text-anchor="end" fill="#222" >0</text>
<line x1="366.2" y1="168.40" x2="370.5" y2="168.40" stroke="#2a2a2a" stroke-width="1.2"/>
<text x="362.50" y="170.50" font-size="6" font-family="Liberation Sans" font-weight="bold" text-anchor="end" fill="#222" >1</text>
<line x1="366.2" y1="141.00" x2="370.5" y2="141.00" stroke="#2a2a2a" stroke-width="1.2"/>
<text x="362.50" y="143.10" font-size="6" font-family="Liberation Sans" font-weight="bold" text-anchor="end" fill="#222" >2</text>
<line x1="366.2" y1="113.60" x2="370.5" y2="113.60" stroke="#2a2a2a" stroke-width="1.2"/>
<text x="362.50" y="115.70" font-size="6" font-family="Liberation Sans" font-weight="bold" text-anchor="end" fill="#222" >3</text>
<line x1="366.2" y1="86.20" x2="370.5" y2="86.20" stroke="#2a2a2a" stroke-width="1.2"/>
<text x="362.50" y="88.30" font-size="6" font-family="Liberation Sans" font-weight="bold" text-anchor="end" fill="#222" >4</text>
<line x1="366.2" y1="58.80" x2="370.5" y2="58.80" stroke="#2a2a2a" stroke-width="1.2"/>
<text x="362.50" y="60.90" font-size="6" font-family="Liberation Sans" font-weight="bold" text-anchor="end" fill="#222" >5</text>
<line x1="366.2" y1="31.40" x2="370.5" y2="31.40" stroke="#2a2a2a" stroke-width="1.2"/>
<text x="362.50" y="33.50" font-size="6" font-family="Liberation Sans" font-weight="bold" text-anchor="end" fill="#222" >6</text>
<line x1="385.50" y1="202.3" x2="385.50" y2="206.8" stroke="#2a2a2a" stroke-width="1.1"/>
<text transform="translate(388.30,210.90) rotate(-90) scale(0.08594,0.1)" font-size="76.0" font-family="Liberation Sans" font-weight="bold" text-anchor="end" fill="#000">GSM6205508</text>
<line x1="392.42" y1="202.3" x2="392.42" y2="206.8" stroke="#2a2a2a" stroke-width="1.1"/>
<text transform="translate(395.22,210.90) rotate(-90) scale(0.08594,0.1)" font-size="76.0" font-family="Liberation Sans" font-weight="bold" text-anchor="end" fill="#000">GSM6205525</text>
<line x1="399.33" y1="202.3" x2="399.33" y2="206.8" stroke="#2a2a2a" stroke-width="1.1"/>
<text transform="translate(402.13,210.90) rotate(-90) scale(0.08368,0.1)" font-size="76.0" font-family="Liberation Sans" font-weight="bold" text-anchor="end" fill="#000">GSM620551C</text>
<line x1="406.25" y1="202.3" x2="406.25" y2="206.8" stroke="#2a2a2a" stroke-width="1.1"/>
<text transform="translate(409.05,210.90) rotate(-90) scale(0.08671,0.1)" font-size="76.0" font-family="Liberation Sans" font-weight="bold" text-anchor="end" fill="#000">GSM6205511</text>
<line x1="413.17" y1="202.3" x2="413.17" y2="206.8" stroke="#2a2a2a" stroke-width="1.1"/>
<text transform="translate(415.97,210.90) rotate(-90) scale(0.08594,0.1)" font-size="76.0" font-family="Liberation Sans" font-weight="bold" text-anchor="end" fill="#000">GSM6205513</text>
<line x1="420.08" y1="202.3" x2="420.08" y2="206.8" stroke="#2a2a2a" stroke-width="1.1"/>
<text transform="translate(422.88,210.90) rotate(-90) scale(0.08594,0.1)" font-size="76.0" font-family="Liberation Sans" font-weight="bold" text-anchor="end" fill="#000">GSM6205515</text>
<line x1="427.00" y1="202.3" x2="427.00" y2="206.8" stroke="#2a2a2a" stroke-width="1.1"/>
<text transform="translate(429.80,210.90) rotate(-90) scale(0.08594,0.1)" font-size="76.0" font-family="Liberation Sans" font-weight="bold" text-anchor="end" fill="#000">GSM6205514</text>
<line x1="433.92" y1="202.3" x2="433.92" y2="206.8" stroke="#2a2a2a" stroke-width="1.1"/>
<text transform="translate(436.72,210.90) rotate(-90) scale(0.08594,0.1)" font-size="76.0" font-family="Liberation Sans" font-weight="bold" text-anchor="end" fill="#000">GSM6205517</text>
<line x1="440.84" y1="202.3" x2="440.84" y2="206.8" stroke="#2a2a2a" stroke-width="1.1"/>
<text transform="translate(443.64,210.90) rotate(-90) scale(0.08594,0.1)" font-size="76.0" font-family="Liberation Sans" font-weight="bold" text-anchor="end" fill="#000">GSM6205519</text>
<line x1="447.75" y1="202.3" x2="447.75" y2="206.8" stroke="#2a2a2a" stroke-width="1.1"/>
<text transform="translate(450.55,210.90) rotate(-90) scale(0.08594,0.1)" font-size="76.0" font-family="Liberation Sans" font-weight="bold" text-anchor="end" fill="#000">GSM6205522</text>
<line x1="454.67" y1="202.3" x2="454.67" y2="206.8" stroke="#2a2a2a" stroke-width="1.1"/>
<text transform="translate(457.47,210.90) rotate(-90) scale(0.08594,0.1)" font-size="76.0" font-family="Liberation Sans" font-weight="bold" text-anchor="end" fill="#000">GSM6205523</text>
<line x1="461.59" y1="202.3" x2="461.59" y2="206.8" stroke="#2a2a2a" stroke-width="1.1"/>
<text transform="translate(464.39,210.90) rotate(-90) scale(0.08594,0.1)" font-size="76.0" font-family="Liberation Sans" font-weight="bold" text-anchor="end" fill="#000">GSM6205524</text>
<line x1="468.50" y1="202.3" x2="468.50" y2="206.8" stroke="#2a2a2a" stroke-width="1.1"/>
<text transform="translate(471.30,210.90) rotate(-90) scale(0.08594,0.1)" font-size="76.0" font-family="Liberation Sans" font-weight="bold" text-anchor="end" fill="#000">GSM6205526</text>
<line x1="475.42" y1="202.3" x2="475.42" y2="206.8" stroke="#2a2a2a" stroke-width="1.1"/>
<text transform="translate(478.22,210.90) rotate(-90) scale(0.08594,0.1)" font-size="76.0" font-family="Liberation Sans" font-weight="bold" text-anchor="end" fill="#000">GSM6205527</text>
<line x1="482.34" y1="202.3" x2="482.34" y2="206.8" stroke="#2a2a2a" stroke-width="1.1"/>
<text transform="translate(485.14,210.90) rotate(-90) scale(0.08594,0.1)" font-size="76.0" font-family="Liberation Sans" font-weight="bold" text-anchor="end" fill="#000">GSM6205520</text>
<line x1="489.25" y1="202.3" x2="489.25" y2="206.8" stroke="#2a2a2a" stroke-width="1.1"/>
<text transform="translate(492.06,210.90) rotate(-90) scale(0.08594,0.1)" font-size="76.0" font-family="Liberation Sans" font-weight="bold" text-anchor="end" fill="#000">GSM6205531</text>
<line x1="496.17" y1="202.3" x2="496.17" y2="206.8" stroke="#2a2a2a" stroke-width="1.1"/>
<text transform="translate(498.97,210.90) rotate(-90) scale(0.08594,0.1)" font-size="76.0" font-family="Liberation Sans" font-weight="bold" text-anchor="end" fill="#000">GSM6205532</text>
<line x1="503.09" y1="202.3" x2="503.09" y2="206.8" stroke="#2a2a2a" stroke-width="1.1"/>
<text transform="translate(505.89,210.90) rotate(-90) scale(0.08594,0.1)" font-size="76.0" font-family="Liberation Sans" font-weight="bold" text-anchor="end" fill="#000">GSM6205535</text>
<line x1="510.01" y1="202.3" x2="510.01" y2="206.8" stroke="#2a2a2a" stroke-width="1.1"/>
<text transform="translate(512.81,210.90) rotate(-90) scale(0.08594,0.1)" font-size="76.0" font-family="Liberation Sans" font-weight="bold" text-anchor="end" fill="#000">GSM6205536</text>
<line x1="516.92" y1="202.3" x2="516.92" y2="206.8" stroke="#2a2a2a" stroke-width="1.1"/>
<text transform="translate(519.72,210.90) rotate(-90) scale(0.08594,0.1)" font-size="76.0" font-family="Liberation Sans" font-weight="bold" text-anchor="end" fill="#000">GSM6205537</text>
<line x1="523.84" y1="202.3" x2="523.84" y2="206.8" stroke="#2a2a2a" stroke-width="1.1"/>
<text transform="translate(526.64,210.90) rotate(-90) scale(0.08594,0.1)" font-size="76.0" font-family="Liberation Sans" font-weight="bold" text-anchor="end" fill="#000">GSM6205538</text>
<line x1="530.76" y1="202.3" x2="530.76" y2="206.8" stroke="#2a2a2a" stroke-width="1.1"/>
<text transform="translate(533.56,210.90) rotate(-90) scale(0.08594,0.1)" font-size="76.0" font-family="Liberation Sans" font-weight="bold" text-anchor="end" fill="#000">GSM6205539</text>
<line x1="537.67" y1="202.3" x2="537.67" y2="206.8" stroke="#2a2a2a" stroke-width="1.1"/>
<text transform="translate(540.47,210.90) rotate(-90) scale(0.08594,0.1)" font-size="76.0" font-family="Liberation Sans" font-weight="bold" text-anchor="end" fill="#000">GSM6205540</text>
<line x1="544.59" y1="202.3" x2="544.59" y2="206.8" stroke="#2a2a2a" stroke-width="1.1"/>
<text transform="translate(547.39,210.90) rotate(-90) scale(0.08594,0.1)" font-size="76.0" font-family="Liberation Sans" font-weight="bold" text-anchor="end" fill="#000">GSM6205541</text>
<line x1="551.51" y1="202.3" x2="551.51" y2="206.8" stroke="#2a2a2a" stroke-width="1.1"/>
<text transform="translate(554.31,210.90) rotate(-90) scale(0.08594,0.1)" font-size="76.0" font-family="Liberation Sans" font-weight="bold" text-anchor="end" fill="#000">GSM6205543</text>
<line x1="558.42" y1="202.3" x2="558.42" y2="206.8" stroke="#2a2a2a" stroke-width="1.1"/>
<text transform="translate(561.22,210.90) rotate(-90) scale(0.08594,0.1)" font-size="76.0" font-family="Liberation Sans" font-weight="bold" text-anchor="end" fill="#000">GSM6205545</text>
<line x1="565.34" y1="202.3" x2="565.34" y2="206.8" stroke="#2a2a2a" stroke-width="1.1"/>
<text transform="translate(568.14,210.90) rotate(-90) scale(0.08594,0.1)" font-size="76.0" font-family="Liberation Sans" font-weight="bold" text-anchor="end" fill="#000">GSM6205546</text>
<line x1="572.26" y1="202.3" x2="572.26" y2="206.8" stroke="#2a2a2a" stroke-width="1.1"/>
<text transform="translate(575.06,210.90) rotate(-90) scale(0.08594,0.1)" font-size="76.0" font-family="Liberation Sans" font-weight="bold" text-anchor="end" fill="#000">GSM6205547</text>
<line x1="579.18" y1="202.3" x2="579.18" y2="206.8" stroke="#2a2a2a" stroke-width="1.1"/>
<text transform="translate(581.98,210.90) rotate(-90) scale(0.08594,0.1)" font-size="76.0" font-family="Liberation Sans" font-weight="bold" text-anchor="end" fill="#000">GSM6205548</text>
<line x1="586.09" y1="202.3" x2="586.09" y2="206.8" stroke="#2a2a2a" stroke-width="1.1"/>
<text transform="translate(588.89,210.90) rotate(-90) scale(0.08594,0.1)" font-size="76.0" font-family="Liberation Sans" font-weight="bold" text-anchor="end" fill="#000">GSM6205549</text>
<line x1="593.01" y1="202.3" x2="593.01" y2="206.8" stroke="#2a2a2a" stroke-width="1.1"/>
<text transform="translate(595.81,210.90) rotate(-90) scale(0.08594,0.1)" font-size="76.0" font-family="Liberation Sans" font-weight="bold" text-anchor="end" fill="#000">GSM6205507</text>
<line x1="599.93" y1="202.3" x2="599.93" y2="206.8" stroke="#2a2a2a" stroke-width="1.1"/>
<text transform="translate(602.73,210.90) rotate(-90) scale(0.08594,0.1)" font-size="76.0" font-family="Liberation Sans" font-weight="bold" text-anchor="end" fill="#000">GSM6205516</text>
<line x1="606.84" y1="202.3" x2="606.84" y2="206.8" stroke="#2a2a2a" stroke-width="1.1"/>
<text transform="translate(609.64,210.90) rotate(-90) scale(0.08594,0.1)" font-size="76.0" font-family="Liberation Sans" font-weight="bold" text-anchor="end" fill="#000">GSM6205518</text>
<line x1="613.76" y1="202.3" x2="613.76" y2="206.8" stroke="#2a2a2a" stroke-width="1.1"/>
<text transform="translate(616.56,210.90) rotate(-90) scale(0.08594,0.1)" font-size="76.0" font-family="Liberation Sans" font-weight="bold" text-anchor="end" fill="#000">GSM6205521</text>
<line x1="620.68" y1="202.3" x2="620.68" y2="206.8" stroke="#2a2a2a" stroke-width="1.1"/>
<text transform="translate(623.48,210.90) rotate(-90) scale(0.08594,0.1)" font-size="76.0" font-family="Liberation Sans" font-weight="bold" text-anchor="end" fill="#000">GSM6205520</text>
<line x1="627.60" y1="202.3" x2="627.60" y2="206.8" stroke="#2a2a2a" stroke-width="1.1"/>
<text transform="translate(630.39,210.90) rotate(-90) scale(0.08594,0.1)" font-size="76.0" font-family="Liberation Sans" font-weight="bold" text-anchor="end" fill="#000">GSM6205528</text>
<line x1="634.51" y1="202.3" x2="634.51" y2="206.8" stroke="#2a2a2a" stroke-width="1.1"/>
<text transform="translate(637.31,210.90) rotate(-90) scale(0.08594,0.1)" font-size="76.0" font-family="Liberation Sans" font-weight="bold" text-anchor="end" fill="#000">GSM6205529</text>
<line x1="641.43" y1="202.3" x2="641.43" y2="206.8" stroke="#2a2a2a" stroke-width="1.1"/>
<text transform="translate(644.23,210.90) rotate(-90) scale(0.08594,0.1)" font-size="76.0" font-family="Liberation Sans" font-weight="bold" text-anchor="end" fill="#000">GSM6205533</text>
<line x1="648.35" y1="202.3" x2="648.35" y2="206.8" stroke="#2a2a2a" stroke-width="1.1"/>
<text transform="translate(651.15,210.90) rotate(-90) scale(0.08594,0.1)" font-size="76.0" font-family="Liberation Sans" font-weight="bold" text-anchor="end" fill="#000">GSM6205534</text>
<line x1="655.26" y1="202.3" x2="655.26" y2="206.8" stroke="#2a2a2a" stroke-width="1.1"/>
<text transform="translate(658.06,210.90) rotate(-90) scale(0.08594,0.1)" font-size="76.0" font-family="Liberation Sans" font-weight="bold" text-anchor="end" fill="#000">GSM6205538</text>
<line x1="662.18" y1="202.3" x2="662.18" y2="206.8" stroke="#2a2a2a" stroke-width="1.1"/>
<text transform="translate(664.98,210.90) rotate(-90) scale(0.08594,0.1)" font-size="76.0" font-family="Liberation Sans" font-weight="bold" text-anchor="end" fill="#000">GSM6205542</text>
<line x1="669.10" y1="202.3" x2="669.10" y2="206.8" stroke="#2a2a2a" stroke-width="1.1"/>
<text transform="translate(671.90,210.90) rotate(-90) scale(0.08594,0.1)" font-size="76.0" font-family="Liberation Sans" font-weight="bold" text-anchor="end" fill="#000">GSM6205544</text>
<rect x="376.0" y="20.0" width="4.8" height="4.6" fill="#50eefe" stroke="#111" stroke-width="1.0"/>
<rect x="376.0" y="27.9" width="4.8" height="4.6" fill="#fb40fb" stroke="#111" stroke-width="1.0"/>
<text x="385.00" y="24.60" font-size="5.8" font-family="Liberation Sans" font-weight="bold" text-anchor="start" fill="#222" >Control</text>
<text x="385.00" y="32.50" font-size="5.8" font-family="Liberation Sans" font-weight="bold" text-anchor="start" fill="#222" >NTM</text>
<line x1="71.5" y1="482.80" x2="252.7" y2="482.80" stroke="#e7eeef" stroke-width="1.2"/>
<line x1="71.5" y1="458.65" x2="252.7" y2="458.65" stroke="#e7eeef" stroke-width="1.2"/>
<line x1="71.5" y1="434.50" x2="252.7" y2="434.50" stroke="#e7eeef" stroke-width="1.2"/>
<line x1="71.5" y1="410.35" x2="252.7" y2="410.35" stroke="#e7eeef" stroke-width="1.2"/>
<line x1="71.5" y1="386.20" x2="252.7" y2="386.20" stroke="#e7eeef" stroke-width="1.2"/>
<line x1="71.5" y1="362.05" x2="252.7" y2="362.05" stroke="#e7eeef" stroke-width="1.2"/>
<line x1="71.5" y1="337.90" x2="252.7" y2="337.90" stroke="#e7eeef" stroke-width="1.2"/>
<line x1="71.5" y1="313.75" x2="252.7" y2="313.75" stroke="#e7eeef" stroke-width="1.2"/>
<line x1="71.5" y1="289.60" x2="252.7" y2="289.60" stroke="#e7eeef" stroke-width="1.2"/>
<line x1="73.10" y1="270.5" x2="73.10" y2="493.0" stroke="#e7eeef" stroke-width="1.2"/>
<line x1="91.80" y1="270.5" x2="91.80" y2="493.0" stroke="#e7eeef" stroke-width="1.2"/>
<line x1="110.50" y1="270.5" x2="110.50" y2="493.0" stroke="#e7eeef" stroke-width="1.2"/>
<line x1="129.20" y1="270.5" x2="129.20" y2="493.0" stroke="#e7eeef" stroke-width="1.2"/>
<line x1="147.90" y1="270.5" x2="147.90" y2="493.0" stroke="#e7eeef" stroke-width="1.2"/>
<line x1="166.60" y1="270.5" x2="166.60" y2="493.0" stroke="#e7eeef" stroke-width="1.2"/>
<line x1="185.30" y1="270.5" x2="185.30" y2="493.0" stroke="#e7eeef" stroke-width="1.2"/>
<line x1="204.00" y1="270.5" x2="204.00" y2="493.0" stroke="#e7eeef" stroke-width="1.2"/>
<line x1="222.70" y1="270.5" x2="222.70" y2="493.0" stroke="#e7eeef" stroke-width="1.2"/>
<line x1="241.40" y1="270.5" x2="241.40" y2="493.0" stroke="#e7eeef" stroke-width="1.2"/>
<ellipse cx="160.65" cy="390.10" rx="95.42" ry="74.30" transform="rotate(-106.01 160.65 390.10)" fill="#4fe3f5" fill-opacity="0.1" stroke="none"/>
<ellipse cx="178.58" cy="377.69" rx="103.92" ry="55.76" transform="rotate(-66.11 178.58 377.69)" fill="#f53ff0" fill-opacity="0.1" stroke="none"/>
<circle cx="132.10" cy="312.60" r="1.3" fill="#4fe3f5"/>
<circle cx="149.60" cy="333.60" r="1.3" fill="#4fe3f5"/>
<circle cx="154.00" cy="339.50" r="1.3" fill="#4fe3f5"/>
<circle cx="157.80" cy="337.40" r="1.3" fill="#4fe3f5"/>
<circle cx="162.50" cy="341.50" r="1.3" fill="#4fe3f5"/>
<circle cx="147.00" cy="344.40" r="1.3" fill="#4fe3f5"/>
<circle cx="158.70" cy="348.80" r="1.3" fill="#4fe3f5"/>
<circle cx="161.30" cy="362.20" r="1.3" fill="#4fe3f5"/>
<circle cx="175.90" cy="382.40" r="1.3" fill="#4fe3f5"/>
<circle cx="200.10" cy="385.30" r="1.3" fill="#4fe3f5"/>
<circle cx="118.40" cy="390.00" r="1.3" fill="#4fe3f5"/>
<circle cx="141.80" cy="395.80" r="1.3" fill="#4fe3f5"/>
<circle cx="152.30" cy="392.00" r="1.3" fill="#4fe3f5"/>
<circle cx="155.20" cy="392.00" r="1.3" fill="#4fe3f5"/>
<circle cx="161.60" cy="390.00" r="1.3" fill="#4fe3f5"/>
<circle cx="154.90" cy="400.80" r="1.3" fill="#4fe3f5"/>
<circle cx="171.00" cy="408.10" r="1.3" fill="#4fe3f5"/>
<circle cx="176.80" cy="406.30" r="1.3" fill="#4fe3f5"/>
<circle cx="223.50" cy="393.50" r="1.3" fill="#4fe3f5"/>
<circle cx="111.10" cy="409.80" r="1.3" fill="#4fe3f5"/>
<circle cx="152.80" cy="413.30" r="1.3" fill="#4fe3f5"/>
<circle cx="161.60" cy="411.90" r="1.3" fill="#4fe3f5"/>
<circle cx="165.10" cy="416.80" r="1.3" fill="#4fe3f5"/>
<circle cx="178.20" cy="433.50" r="1.3" fill="#4fe3f5"/>
<circle cx="187.30" cy="432.30" r="1.3" fill="#4fe3f5"/>
<circle cx="181.20" cy="449.80" r="1.3" fill="#4fe3f5"/>
<circle cx="78.10" cy="440.80" r="1.3" fill="#4fe3f5"/>
<circle cx="226.40" cy="449.50" r="1.3" fill="#4fe3f5"/>
<circle cx="161.80" cy="389.80" r="1.3" fill="#4fe3f5"/>
<circle cx="161.60" cy="390.20" r="1.3" fill="#4fe3f5"/>
<circle cx="162.20" cy="389.50" r="1.3" fill="#4fe3f5"/>
<path d="M180.30,301.23L182.00,304.18L178.60,304.18Z" fill="#f53ff0" fill-opacity="1"/>
<path d="M211.80,339.73L213.50,342.68L210.10,342.68Z" fill="#f53ff0" fill-opacity="1"/>
<path d="M185.80,345.53L187.50,348.48L184.10,348.48Z" fill="#f53ff0" fill-opacity="1"/>
<path d="M201.00,362.53L202.70,365.48L199.30,365.48Z" fill="#f53ff0" fill-opacity="1"/>
<path d="M167.40,371.23L169.10,374.18L165.70,374.18Z" fill="#f53ff0" fill-opacity="1"/>
<path d="M177.70,374.73L179.40,377.68L176.00,377.68Z" fill="#f53ff0" fill-opacity="1"/>
<path d="M179.10,377.13L180.80,380.08L177.40,380.08Z" fill="#f53ff0" fill-opacity="1"/>
<path d="M170.40,389.33L172.10,392.28L168.70,392.28Z" fill="#f53ff0" fill-opacity="1"/>
<path d="M192.80,388.23L194.50,391.18L191.10,391.18Z" fill="#f53ff0" fill-opacity="1"/>
<path d="M207.40,395.53L209.10,398.48L205.70,398.48Z" fill="#f53ff0" fill-opacity="1"/>
<path d="M131.00,396.63L132.70,399.58L129.30,399.58Z" fill="#f53ff0" fill-opacity="1"/>
<path d="M156.40,420.93L158.10,423.88L154.70,423.88Z" fill="#f53ff0" fill-opacity="1"/>
<path d="M161.30,418.83L163.00,421.78L159.60,421.78Z" fill="#f53ff0" fill-opacity="1"/>
<path d="M178.50,375.63L180.20,378.58L176.80,378.58Z" fill="#f53ff0" fill-opacity="1"/>
<path d="M180.00,378.23L181.70,381.18L178.30,381.18Z" fill="#f53ff0" fill-opacity="1"/>
<ellipse cx="160.65" cy="390.10" rx="95.42" ry="74.30" transform="rotate(-106.01 160.65 390.10)" fill="none" stroke="#4fe3f5" stroke-width="1.3"/>
<ellipse cx="178.58" cy="377.69" rx="103.92" ry="55.76" transform="rotate(-66.11 178.58 377.69)" fill="none" stroke="#f53ff0" stroke-width="1.3"/>
<line x1="166.60" y1="270.5" x2="166.60" y2="493.0" stroke="#111" stroke-width="1.7" stroke-dasharray="6.6 5.8" stroke-dashoffset="-5.6"/>
<line x1="68.0" y1="386.20" x2="252.7" y2="386.20" stroke="#111" stroke-width="1.7" stroke-dasharray="6.6 5.8" stroke-dashoffset="-1.3"/>
<line x1="68.3" y1="289.60" x2="70.0" y2="289.60" stroke="#333" stroke-width="1"/>
<text x="67.00" y="291.40" font-size="5" font-family="Liberation Sans" font-weight="normal" text-anchor="end" fill="#444" >100</text>
<line x1="68.3" y1="337.90" x2="70.0" y2="337.90" stroke="#333" stroke-width="1"/>
<text x="67.00" y="339.70" font-size="5" font-family="Liberation Sans" font-weight="normal" text-anchor="end" fill="#444" >50</text>
<line x1="68.3" y1="386.20" x2="70.0" y2="386.20" stroke="#333" stroke-width="1"/>
<text x="67.00" y="388.00" font-size="5" font-family="Liberation Sans" font-weight="normal" text-anchor="end" fill="#444" >0</text>
<line x1="68.3" y1="434.50" x2="70.0" y2="434.50" stroke="#333" stroke-width="1"/>
<text x="67.00" y="436.30" font-size="5" font-family="Liberation Sans" font-weight="normal" text-anchor="end" fill="#444" >-50</text>
<line x1="68.3" y1="482.80" x2="70.0" y2="482.80" stroke="#333" stroke-width="1"/>
<text x="67.00" y="484.60" font-size="5" font-family="Liberation Sans" font-weight="normal" text-anchor="end" fill="#444" >-100</text>
<line x1="91.80" y1="493.2" x2="91.80" y2="494.8" stroke="#222" stroke-width="1.2"/>
<text x="91.80" y="500.30" font-size="5.5" font-family="Liberation Sans" font-weight="normal" text-anchor="middle" fill="#444" >-200</text>
<line x1="129.20" y1="493.2" x2="129.20" y2="494.8" stroke="#222" stroke-width="1.2"/>
<text x="129.20" y="500.30" font-size="5.5" font-family="Liberation Sans" font-weight="normal" text-anchor="middle" fill="#444" >-100</text>
<line x1="166.60" y1="493.2" x2="166.60" y2="494.8" stroke="#222" stroke-width="1.2"/>
<text x="166.60" y="500.30" font-size="5.5" font-family="Liberation Sans" font-weight="normal" text-anchor="middle" fill="#444" >0</text>
<line x1="204.00" y1="493.2" x2="204.00" y2="494.8" stroke="#222" stroke-width="1.2"/>
<text x="204.00" y="500.30" font-size="5.5" font-family="Liberation Sans" font-weight="normal" text-anchor="middle" fill="#444" >100</text>
<line x1="241.40" y1="493.2" x2="241.40" y2="494.8" stroke="#222" stroke-width="1.2"/>
<text x="241.40" y="500.30" font-size="5.5" font-family="Liberation Sans" font-weight="normal" text-anchor="middle" fill="#444" >200</text>
<text x="167.20" y="265.90" font-size="7.75" font-family="Liberation Sans" font-weight="normal" text-anchor="middle" fill="#222" >GSE205161 Before</text>
<text x="161.50" y="507.00" font-size="6.5" font-family="Liberation Sans" font-weight="bold" text-anchor="middle" fill="#222" >Dim1 (34.0%)</text>
<text transform="translate(51.90,382.30) rotate(-90)" font-size="6.6" font-family="Liberation Sans" text-anchor="middle" fill="#333">Dim2 (17.5%)</text>
<text x="262.00" y="371.70" font-size="6.5" font-family="Liberation Sans" font-weight="normal" text-anchor="start" fill="#000" >Group</text>
<rect x="262.9" y="376.1" width="9.6" height="9.6" fill="#fff" stroke="#4fe3f5" stroke-width="1.3"/>
<circle cx="267.7" cy="380.9" r="1.8" fill="#4fe3f5"/>
<rect x="262.9" y="386.5" width="9.6" height="9.6" fill="#fff" stroke="#f53ff0" stroke-width="1.3"/>
<path d="M267.70,389.10L270.00,393.10L265.40,393.10Z" fill="#f53ff0" fill-opacity="1"/>
<text x="275.50" y="382.70" font-size="5.2" font-family="Liberation Sans" font-weight="normal" text-anchor="start" fill="#111" >Control</text>
<text x="275.50" y="393.10" font-size="5.2" font-family="Liberation Sans" font-weight="normal" text-anchor="start" fill="#111" >NTM</text>
<text x="0.90" y="269.80" font-size="17.5" font-family="Liberation Serif" font-weight="normal" text-anchor="start" fill="#1a1a1a" >C</text>
<line x1="417.3" y1="480.60" x2="600.1" y2="480.60" stroke="#e7eeef" stroke-width="1.2"/>
<line x1="417.3" y1="453.70" x2="600.1" y2="453.70" stroke="#e7eeef" stroke-width="1.2"/>
<line x1="417.3" y1="426.80" x2="600.1" y2="426.80" stroke="#e7eeef" stroke-width="1.2"/>
<line x1="417.3" y1="399.90" x2="600.1" y2="399.90" stroke="#e7eeef" stroke-width="1.2"/>
<line x1="417.3" y1="373.00" x2="600.1" y2="373.00" stroke="#e7eeef" stroke-width="1.2"/>
<line x1="417.3" y1="346.10" x2="600.1" y2="346.10" stroke="#e7eeef" stroke-width="1.2"/>
<line x1="417.3" y1="319.20" x2="600.1" y2="319.20" stroke="#e7eeef" stroke-width="1.2"/>
<line x1="417.3" y1="292.30" x2="600.1" y2="292.30" stroke="#e7eeef" stroke-width="1.2"/>
<line x1="434.55" y1="268.4" x2="434.55" y2="491.0" stroke="#e7eeef" stroke-width="1.2"/>
<line x1="454.20" y1="268.4" x2="454.20" y2="491.0" stroke="#e7eeef" stroke-width="1.2"/>
<line x1="473.85" y1="268.4" x2="473.85" y2="491.0" stroke="#e7eeef" stroke-width="1.2"/>
<line x1="493.50" y1="268.4" x2="493.50" y2="491.0" stroke="#e7eeef" stroke-width="1.2"/>
<line x1="513.15" y1="268.4" x2="513.15" y2="491.0" stroke="#e7eeef" stroke-width="1.2"/>
<line x1="532.80" y1="268.4" x2="532.80" y2="491.0" stroke="#e7eeef" stroke-width="1.2"/>
<line x1="552.45" y1="268.4" x2="552.45" y2="491.0" stroke="#e7eeef" stroke-width="1.2"/>
<line x1="572.10" y1="268.4" x2="572.10" y2="491.0" stroke="#e7eeef" stroke-width="1.2"/>
<line x1="591.75" y1="268.4" x2="591.75" y2="491.0" stroke="#e7eeef" stroke-width="1.2"/>
<ellipse cx="508.94" cy="361.25" rx="114.82" ry="17.16" transform="rotate(135.92 508.94 361.25)" fill="#4fe3f5" fill-opacity="0.1" stroke="none"/>
<ellipse cx="534.80" cy="402.80" rx="78.40" ry="3.40" transform="rotate(-86.20 534.80 402.80)" fill="#f53ff0" fill-opacity="0.1" stroke="none"/>
<circle cx="508.60" cy="361.40" r="1.3" fill="#4fe3f5"/>
<circle cx="522.60" cy="357.00" r="1.3" fill="#4fe3f5"/>
<circle cx="491.10" cy="374.50" r="1.3" fill="#4fe3f5"/>
<circle cx="497.20" cy="376.00" r="1.3" fill="#4fe3f5"/>
<circle cx="509.50" cy="361.80" r="1.3" fill="#4fe3f5"/>
<path d="M541.00,306.43L542.70,309.38L539.30,309.38Z" fill="#f53ff0" fill-opacity="1"/>
<path d="M538.70,311.43L540.40,314.38L537.00,314.38Z" fill="#f53ff0" fill-opacity="1"/>
<path d="M539.60,317.23L541.30,320.18L537.90,320.18Z" fill="#f53ff0" fill-opacity="1"/>
<path d="M540.30,324.23L542.00,327.18L538.60,327.18Z" fill="#f53ff0" fill-opacity="1"/>
<path d="M538.03,328.23L539.73,331.18L536.33,331.18Z" fill="#f53ff0" fill-opacity="1"/>
<path d="M538.91,331.53L540.61,334.48L537.21,334.48Z" fill="#f53ff0" fill-opacity="1"/>
<path d="M539.79,334.83L541.49,337.78L538.09,337.78Z" fill="#f53ff0" fill-opacity="1"/>
<path d="M540.66,338.13L542.36,341.08L538.96,341.08Z" fill="#f53ff0" fill-opacity="1"/>
<path d="M537.69,341.43L539.39,344.38L535.99,344.38Z" fill="#f53ff0" fill-opacity="1"/>
<path d="M538.57,344.73L540.27,347.68L536.87,347.68Z" fill="#f53ff0" fill-opacity="1"/>
<path d="M539.45,348.03L541.15,350.98L537.75,350.98Z" fill="#f53ff0" fill-opacity="1"/>
<path d="M536.48,351.33L538.18,354.28L534.78,354.28Z" fill="#f53ff0" fill-opacity="1"/>
<path d="M537.36,354.63L539.06,357.58L535.66,357.58Z" fill="#f53ff0" fill-opacity="1"/>
<path d="M538.24,357.93L539.94,360.88L536.54,360.88Z" fill="#f53ff0" fill-opacity="1"/>
<path d="M539.12,361.23L540.82,364.18L537.42,364.18Z" fill="#f53ff0" fill-opacity="1"/>
<path d="M536.15,364.53L537.85,367.48L534.45,367.48Z" fill="#f53ff0" fill-opacity="1"/>
<path d="M537.02,367.83L538.72,370.78L535.32,370.78Z" fill="#f53ff0" fill-opacity="1"/>
<path d="M537.90,371.13L539.60,374.08L536.20,374.08Z" fill="#f53ff0" fill-opacity="1"/>
<path d="M534.93,374.43L536.63,377.38L533.23,377.38Z" fill="#f53ff0" fill-opacity="1"/>
<path d="M535.81,377.73L537.51,380.68L534.11,380.68Z" fill="#f53ff0" fill-opacity="1"/>
<path d="M536.69,381.03L538.39,383.98L534.99,383.98Z" fill="#f53ff0" fill-opacity="1"/>
<path d="M537.57,384.33L539.27,387.28L535.87,387.28Z" fill="#f53ff0" fill-opacity="1"/>
<path d="M534.60,387.63L536.30,390.58L532.90,390.58Z" fill="#f53ff0" fill-opacity="1"/>
<path d="M535.48,390.93L537.18,393.88L533.78,393.88Z" fill="#f53ff0" fill-opacity="1"/>
<path d="M536.36,394.23L538.06,397.18L534.66,397.18Z" fill="#f53ff0" fill-opacity="1"/>
<path d="M533.38,397.53L535.08,400.48L531.68,400.48Z" fill="#f53ff0" fill-opacity="1"/>
<path d="M534.26,400.83L535.96,403.78L532.56,403.78Z" fill="#f53ff0" fill-opacity="1"/>
<path d="M535.14,404.13L536.84,407.08L533.44,407.08Z" fill="#f53ff0" fill-opacity="1"/>
<path d="M536.02,407.43L537.72,410.38L534.32,410.38Z" fill="#f53ff0" fill-opacity="1"/>
<path d="M533.05,410.73L534.75,413.68L531.35,413.68Z" fill="#f53ff0" fill-opacity="1"/>
<path d="M533.93,414.03L535.63,416.98L532.23,416.98Z" fill="#f53ff0" fill-opacity="1"/>
<path d="M534.81,417.33L536.51,420.28L533.11,420.28Z" fill="#f53ff0" fill-opacity="1"/>
<path d="M531.84,420.63L533.54,423.58L530.14,423.58Z" fill="#f53ff0" fill-opacity="1"/>
<path d="M532.72,423.93L534.42,426.88L531.02,426.88Z" fill="#f53ff0" fill-opacity="1"/>
<path d="M533.59,427.23L535.29,430.18L531.89,430.18Z" fill="#f53ff0" fill-opacity="1"/>
<path d="M534.47,430.53L536.17,433.48L532.77,433.48Z" fill="#f53ff0" fill-opacity="1"/>
<path d="M531.50,433.83L533.20,436.78L529.80,436.78Z" fill="#f53ff0" fill-opacity="1"/>
<path d="M532.38,437.13L534.08,440.08L530.68,440.08Z" fill="#f53ff0" fill-opacity="1"/>
<path d="M533.26,440.43L534.96,443.38L531.56,443.38Z" fill="#f53ff0" fill-opacity="1"/>
<path d="M530.29,443.73L531.99,446.68L528.59,446.68Z" fill="#f53ff0" fill-opacity="1"/>
<path d="M531.17,447.03L532.87,449.98L529.47,449.98Z" fill="#f53ff0" fill-opacity="1"/>
<path d="M532.05,450.33L533.75,453.28L530.35,453.28Z" fill="#f53ff0" fill-opacity="1"/>
<path d="M532.93,453.63L534.63,456.58L531.23,456.58Z" fill="#f53ff0" fill-opacity="1"/>
<path d="M529.95,456.93L531.65,459.88L528.25,459.88Z" fill="#f53ff0" fill-opacity="1"/>
<path d="M530.83,460.23L532.53,463.18L529.13,463.18Z" fill="#f53ff0" fill-opacity="1"/>
<path d="M531.71,463.53L533.41,466.48L530.01,466.48Z" fill="#f53ff0" fill-opacity="1"/>
<path d="M528.74,466.83L530.44,469.78L527.04,469.78Z" fill="#f53ff0" fill-opacity="1"/>
<path d="M529.62,470.13L531.32,473.08L527.92,473.08Z" fill="#f53ff0" fill-opacity="1"/>
<path d="M530.50,473.43L532.20,476.38L528.80,476.38Z" fill="#f53ff0" fill-opacity="1"/>
<ellipse cx="508.94" cy="361.25" rx="114.82" ry="17.16" transform="rotate(135.92 508.94 361.25)" fill="none" stroke="#4fe3f5" stroke-width="1.3"/>
<ellipse cx="534.80" cy="402.80" rx="78.40" ry="3.40" transform="rotate(-86.20 534.80 402.80)" fill="none" stroke="#f53ff0" stroke-width="1.3"/>
<line x1="532.80" y1="268.4" x2="532.80" y2="491.0" stroke="#111" stroke-width="1.7" stroke-dasharray="6.6 5.8" stroke-dashoffset="5.7"/>
<line x1="413.8" y1="399.90" x2="600.1" y2="399.90" stroke="#111" stroke-width="1.7" stroke-dasharray="6.6 5.8" stroke-dashoffset="-2.0"/>
<line x1="414.1" y1="292.30" x2="415.8" y2="292.30" stroke="#333" stroke-width="1"/>
<text x="412.80" y="294.10" font-size="5" font-family="Liberation Sans" font-weight="normal" text-anchor="end" fill="#444" >200</text>
<line x1="414.1" y1="346.10" x2="415.8" y2="346.10" stroke="#333" stroke-width="1"/>
<text x="412.80" y="347.90" font-size="5" font-family="Liberation Sans" font-weight="normal" text-anchor="end" fill="#444" >100</text>
<line x1="414.1" y1="399.90" x2="415.8" y2="399.90" stroke="#333" stroke-width="1"/>
<text x="412.80" y="401.70" font-size="5" font-family="Liberation Sans" font-weight="normal" text-anchor="end" fill="#444" >0</text>
<line x1="414.1" y1="453.70" x2="415.8" y2="453.70" stroke="#333" stroke-width="1"/>
<text x="412.80" y="455.50" font-size="5" font-family="Liberation Sans" font-weight="normal" text-anchor="end" fill="#444" >-100</text>
<line x1="454.20" y1="491.2" x2="454.20" y2="492.8" stroke="#222" stroke-width="1.2"/>
<text x="454.20" y="499.30" font-size="5.5" font-family="Liberation Sans" font-weight="normal" text-anchor="middle" fill="#444" >-400</text>
<line x1="493.50" y1="491.2" x2="493.50" y2="492.8" stroke="#222" stroke-width="1.2"/>
<text x="493.50" y="499.30" font-size="5.5" font-family="Liberation Sans" font-weight="normal" text-anchor="middle" fill="#444" >-200</text>
<line x1="532.80" y1="491.2" x2="532.80" y2="492.8" stroke="#222" stroke-width="1.2"/>
<text x="532.80" y="499.30" font-size="5.5" font-family="Liberation Sans" font-weight="normal" text-anchor="middle" fill="#444" >0</text>
<line x1="572.10" y1="491.2" x2="572.10" y2="492.8" stroke="#222" stroke-width="1.2"/>
<text x="572.10" y="499.30" font-size="5.5" font-family="Liberation Sans" font-weight="normal" text-anchor="middle" fill="#444" >200</text>
<text x="533.30" y="264.30" font-size="7.75" font-family="Liberation Sans" font-weight="normal" text-anchor="middle" fill="#222" >GSE205161 After</text>
<text x="509.40" y="506.50" font-size="6.5" font-family="Liberation Sans" font-weight="bold" text-anchor="middle" fill="#222" >Dim1 (24.5%)</text>
<text transform="translate(399.60,380.20) rotate(-90)" font-size="6.6" font-family="Liberation Sans" text-anchor="middle" fill="#333">Dim2 (22.2%)</text>
<text x="609.30" y="370.70" font-size="6.5" font-family="Liberation Sans" font-weight="normal" text-anchor="start" fill="#000" >Group</text>
<rect x="610.1999999999999" y="375.1" width="9.6" height="9.6" fill="#fff" stroke="#4fe3f5" stroke-width="1.3"/>
<circle cx="615.0" cy="379.9" r="1.8" fill="#4fe3f5"/>
<rect x="610.1999999999999" y="385.5" width="9.6" height="9.6" fill="#fff" stroke="#f53ff0" stroke-width="1.3"/>
<path d="M615.00,388.10L617.30,392.10L612.70,392.10Z" fill="#f53ff0" fill-opacity="1"/>
<text x="622.80" y="381.70" font-size="5.2" font-family="Liberation Sans" font-weight="normal" text-anchor="start" fill="#111" >Control</text>
<text x="622.80" y="392.10" font-size="5.2" font-family="Liberation Sans" font-weight="normal" text-anchor="start" fill="#111" >NTM</text>
<text x="346.30" y="269.60" font-size="17.5" font-family="Liberation Serif" font-weight="normal" text-anchor="start" fill="#1a1a1a" >D</text>
<path d="M152.7,676.1a1.75,1.75 0 1,0 3.5,0a1.75,1.75 0 1,0 -3.5,0M200.3,653.0a1.75,1.75 0 1,0 3.5,0a1.75,1.75 0 1,0 -3.5,0M150.6,649.1a1.75,1.75 0 1,0 3.5,0a1.75,1.75 0 1,0 -3.5,0M176.5,693.8a1.75,1.75 0 1,0 3.5,0a1.75,1.75 0 1,0 -3.5,0M175.5,664.3a1.75,1.75 0 1,0 3.5,0a1.75,1.75 0 1,0 -3.5,0M165.2,679.3a1.75,1.75 0 1,0 3.5,0a1.75,1.75 0 1,0 -3.5,0M192.0,652.5a1.75,1.75 0 1,0 3.5,0a1.75,1.75 0 1,0 -3.5,0M175.3,679.6a1.75,1.75 0 1,0 3.5,0a1.75,1.75 0 1,0 -3.5,0M176.2,687.1a1.75,1.75 0 1,0 3.5,0a1.75,1.75 0 1,0 -3.5,0M172.5,695.5a1.75,1.75 0 1,0 3.5,0a1.75,1.75 0 1,0 -3.5,0M174.0,673.7a1.75,1.75 0 1,0 3.5,0a1.75,1.75 0 1,0 -3.5,0M179.8,663.5a1.75,1.75 0 1,0 3.5,0a1.75,1.75 0 1,0 -3.5,0M192.3,657.5a1.75,1.75 0 1,0 3.5,0a1.75,1.75 0 1,0 -3.5,0M165.4,689.7a1.75,1.75 0 1,0 3.5,0a1.75,1.75 0 1,0 -3.5,0M162.8,669.3a1.75,1.75 0 1,0 3.5,0a1.75,1.75 0 1,0 -3.5,0M198.8,649.7a1.75,1.75 0 1,0 3.5,0a1.75,1.75 0 1,0 -3.5,0M155.2,667.4a1.75,1.75 0 1,0 3.5,0a1.75,1.75 0 1,0 -3.5,0M162.2,679.8a1.75,1.75 0 1,0 3.5,0a1.75,1.75 0 1,0 -3.5,0M168.8,691.4a1.75,1.75 0 1,0 3.5,0a1.75,1.75 0 1,0 -3.5,0M155.1,647.1a1.75,1.75 0 1,0 3.5,0a1.75,1.75 0 1,0 -3.5,0M173.0,663.1a1.75,1.75 0 1,0 3.5,0a1.75,1.75 0 1,0 -3.5,0M178.6,691.7a1.75,1.75 0 1,0 3.5,0a1.75,1.75 0 1,0 -3.5,0M146.2,662.8a1.75,1.75 0 1,0 3.5,0a1.75,1.75 0 1,0 -3.5,0M204.3,653.6a1.75,1.75 0 1,0 3.5,0a1.75,1.75 0 1,0 -3.5,0M184.5,668.9a1.75,1.75 0 1,0 3.5,0a1.75,1.75 0 1,0 -3.5,0M144.2,648.2a1.75,1.75 0 1,0 3.5,0a1.75,1.75 0 1,0 -3.5,0M177.1,688.6a1.75,1.75 0 1,0 3.5,0a1.75,1.75 0 1,0 -3.5,0M163.8,661.2a1.75,1.75 0 1,0 3.5,0a1.75,1.75 0 1,0 -3.5,0M153.5,650.0a1.75,1.75 0 1,0 3.5,0a1.75,1.75 0 1,0 -3.5,0M195.5,646.7a1.75,1.75 0 1,0 3.5,0a1.75,1.75 0 1,0 -3.5,0M154.7,669.2a1.75,1.75 0 1,0 3.5,0a1.75,1.75 0 1,0 -3.5,0M163.4,683.2a1.75,1.75 0 1,0 3.5,0a1.75,1.75 0 1,0 -3.5,0M180.8,648.6a1.75,1.75 0 1,0 3.5,0a1.75,1.75 0 1,0 -3.5,0M164.4,691.1a1.75,1.75 0 1,0 3.5,0a1.75,1.75 0 1,0 -3.5,0M165.0,686.5a1.75,1.75 0 1,0 3.5,0a1.75,1.75 0 1,0 -3.5,0M143.4,650.2a1.75,1.75 0 1,0 3.5,0a1.75,1.75 0 1,0 -3.5,0M187.6,660.4a1.75,1.75 0 1,0 3.5,0a1.75,1.75 0 1,0 -3.5,0M192.1,670.6a1.75,1.75 0 1,0 3.5,0a1.75,1.75 0 1,0 -3.5,0M163.2,656.5a1.75,1.75 0 1,0 3.5,0a1.75,1.75 0 1,0 -3.5,0M202.2,658.6a1.75,1.75 0 1,0 3.5,0a1.75,1.75 0 1,0 -3.5,0M172.4,693.5a1.75,1.75 0 1,0 3.5,0a1.75,1.75 0 1,0 -3.5,0M164.5,667.7a1.75,1.75 0 1,0 3.5,0a1.75,1.75 0 1,0 -3.5,0M157.9,683.5a1.75,1.75 0 1,0 3.5,0a1.75,1.75 0 1,0 -3.5,0M168.6,648.9a1.75,1.75 0 1,0 3.5,0a1.75,1.75 0 1,0 -3.5,0M194.7,658.0a1.75,1.75 0 1,0 3.5,0a1.75,1.75 0 1,0 -3.5,0M176.4,683.3a1.75,1.75 0 1,0 3.5,0a1.75,1.75 0 1,0 -3.5,0M182.5,679.2a1.75,1.75 0 1,0 3.5,0a1.75,1.75 0 1,0 -3.5,0M188.3,685.3a1.75,1.75 0 1,0 3.5,0a1.75,1.75 0 1,0 -3.5,0M182.4,653.1a1.75,1.75 0 1,0 3.5,0a1.75,1.75 0 1,0 -3.5,0M171.2,652.8a1.75,1.75 0 1,0 3.5,0a1.75,1.75 0 1,0 -3.5,0M187.1,685.6a1.75,1.75 0 1,0 3.5,0a1.75,1.75 0 1,0 -3.5,0M158.2,684.2a1.75,1.75 0 1,0 3.5,0a1.75,1.75 0 1,0 -3.5,0M155.1,663.8a1.75,1.75 0 1,0 3.5,0a1.75,1.75 0 1,0 -3.5,0M174.3,696.4a1.75,1.75 0 1,0 3.5,0a1.75,1.75 0 1,0 -3.5,0M166.0,657.9a1.75,1.75 0 1,0 3.5,0a1.75,1.75 0 1,0 -3.5,0M197.3,648.6a1.75,1.75 0 1,0 3.5,0a1.75,1.75 0 1,0 -3.5,0M159.6,677.9a1.75,1.75 0 1,0 3.5,0a1.75,1.75 0 1,0 -3.5,0M152.7,670.9a1.75,1.75 0 1,0 3.5,0a1.75,1.75 0 1,0 -3.5,0M162.4,676.6a1.75,1.75 0 1,0 3.5,0a1.75,1.75 0 1,0 -3.5,0M149.5,647.4a1.75,1.75 0 1,0 3.5,0a1.75,1.75 0 1,0 -3.5,0M181.1,673.8a1.75,1.75 0 1,0 3.5,0a1.75,1.75 0 1,0 -3.5,0M182.8,662.0a1.75,1.75 0 1,0 3.5,0a1.75,1.75 0 1,0 -3.5,0M153.1,663.4a1.75,1.75 0 1,0 3.5,0a1.75,1.75 0 1,0 -3.5,0M168.6,661.5a1.75,1.75 0 1,0 3.5,0a1.75,1.75 0 1,0 -3.5,0M167.2,692.0a1.75,1.75 0 1,0 3.5,0a1.75,1.75 0 1,0 -3.5,0M178.6,649.9a1.75,1.75 0 1,0 3.5,0a1.75,1.75 0 1,0 -3.5,0M179.3,694.6a1.75,1.75 0 1,0 3.5,0a1.75,1.75 0 1,0 -3.5,0M157.3,681.2a1.75,1.75 0 1,0 3.5,0a1.75,1.75 0 1,0 -3.5,0M180.2,686.6a1.75,1.75 0 1,0 3.5,0a1.75,1.75 0 1,0 -3.5,0M172.6,652.8a1.75,1.75 0 1,0 3.5,0a1.75,1.75 0 1,0 -3.5,0M193.2,648.0a1.75,1.75 0 1,0 3.5,0a1.75,1.75 0 1,0 -3.5,0M185.9,682.1a1.75,1.75 0 1,0 3.5,0a1.75,1.75 0 1,0 -3.5,0M166.5,684.2a1.75,1.75 0 1,0 3.5,0a1.75,1.75 0 1,0 -3.5,0M166.5,685.7a1.75,1.75 0 1,0 3.5,0a1.75,1.75 0 1,0 -3.5,0M167.8,652.5a1.75,1.75 0 1,0 3.5,0a1.75,1.75 0 1,0 -3.5,0M163.6,670.8a1.75,1.75 0 1,0 3.5,0a1.75,1.75 0 1,0 -3.5,0M179.3,676.4a1.75,1.75 0 1,0 3.5,0a1.75,1.75 0 1,0 -3.5,0M181.9,657.7a1.75,1.75 0 1,0 3.5,0a1.75,1.75 0 1,0 -3.5,0M187.6,663.7a1.75,1.75 0 1,0 3.5,0a1.75,1.75 0 1,0 -3.5,0M191.7,660.3a1.75,1.75 0 1,0 3.5,0a1.75,1.75 0 1,0 -3.5,0M177.6,666.6a1.75,1.75 0 1,0 3.5,0a1.75,1.75 0 1,0 -3.5,0M175.6,679.8a1.75,1.75 0 1,0 3.5,0a1.75,1.75 0 1,0 -3.5,0M202.2,658.6a1.75,1.75 0 1,0 3.5,0a1.75,1.75 0 1,0 -3.5,0M163.4,650.4a1.75,1.75 0 1,0 3.5,0a1.75,1.75 0 1,0 -3.5,0M151.3,673.5a1.75,1.75 0 1,0 3.5,0a1.75,1.75 0 1,0 -3.5,0M192.6,653.4a1.75,1.75 0 1,0 3.5,0a1.75,1.75 0 1,0 -3.5,0M179.1,685.4a1.75,1.75 0 1,0 3.5,0a1.75,1.75 0 1,0 -3.5,0M179.9,691.5a1.75,1.75 0 1,0 3.5,0a1.75,1.75 0 1,0 -3.5,0M183.0,660.7a1.75,1.75 0 1,0 3.5,0a1.75,1.75 0 1,0 -3.5,0M188.5,662.8a1.75,1.75 0 1,0 3.5,0a1.75,1.75 0 1,0 -3.5,0M154.9,665.1a1.75,1.75 0 1,0 3.5,0a1.75,1.75 0 1,0 -3.5,0M179.1,690.2a1.75,1.75 0 1,0 3.5,0a1.75,1.75 0 1,0 -3.5,0M176.9,683.4a1.75,1.75 0 1,0 3.5,0a1.75,1.75 0 1,0 -3.5,0M173.1,685.4a1.75,1.75 0 1,0 3.5,0a1.75,1.75 0 1,0 -3.5,0M153.4,674.3a1.75,1.75 0 1,0 3.5,0a1.75,1.75 0 1,0 -3.5,0M189.3,673.8a1.75,1.75 0 1,0 3.5,0a1.75,1.75 0 1,0 -3.5,0M186.1,681.4a1.75,1.75 0 1,0 3.5,0a1.75,1.75 0 1,0 -3.5,0M193.4,670.8a1.75,1.75 0 1,0 3.5,0a1.75,1.75 0 1,0 -3.5,0M197.4,651.0a1.75,1.75 0 1,0 3.5,0a1.75,1.75 0 1,0 -3.5,0M151.1,664.4a1.75,1.75 0 1,0 3.5,0a1.75,1.75 0 1,0 -3.5,0M172.8,677.0a1.75,1.75 0 1,0 3.5,0a1.75,1.75 0 1,0 -3.5,0M193.0,667.3a1.75,1.75 0 1,0 3.5,0a1.75,1.75 0 1,0 -3.5,0M181.8,652.5a1.75,1.75 0 1,0 3.5,0a1.75,1.75 0 1,0 -3.5,0M176.3,666.6a1.75,1.75 0 1,0 3.5,0a1.75,1.75 0 1,0 -3.5,0M155.6,670.9a1.75,1.75 0 1,0 3.5,0a1.75,1.75 0 1,0 -3.5,0M192.2,671.6a1.75,1.75 0 1,0 3.5,0a1.75,1.75 0 1,0 -3.5,0M143.6,654.2a1.75,1.75 0 1,0 3.5,0a1.75,1.75 0 1,0 -3.5,0M172.2,648.9a1.75,1.75 0 1,0 3.5,0a1.75,1.75 0 1,0 -3.5,0M170.6,695.2a1.75,1.75 0 1,0 3.5,0a1.75,1.75 0 1,0 -3.5,0M175.0,696.0a1.75,1.75 0 1,0 3.5,0a1.75,1.75 0 1,0 -3.5,0M169.6,651.6a1.75,1.75 0 1,0 3.5,0a1.75,1.75 0 1,0 -3.5,0M187.3,656.0a1.75,1.75 0 1,0 3.5,0a1.75,1.75 0 1,0 -3.5,0M164.2,673.1a1.75,1.75 0 1,0 3.5,0a1.75,1.75 0 1,0 -3.5,0M195.8,658.5a1.75,1.75 0 1,0 3.5,0a1.75,1.75 0 1,0 -3.5,0M172.6,684.5a1.75,1.75 0 1,0 3.5,0a1.75,1.75 0 1,0 -3.5,0M187.3,666.1a1.75,1.75 0 1,0 3.5,0a1.75,1.75 0 1,0 -3.5,0M170.6,695.0a1.75,1.75 0 1,0 3.5,0a1.75,1.75 0 1,0 -3.5,0M166.0,653.6a1.75,1.75 0 1,0 3.5,0a1.75,1.75 0 1,0 -3.5,0M152.5,671.4a1.75,1.75 0 1,0 3.5,0a1.75,1.75 0 1,0 -3.5,0M156.4,648.2a1.75,1.75 0 1,0 3.5,0a1.75,1.75 0 1,0 -3.5,0M187.6,665.1a1.75,1.75 0 1,0 3.5,0a1.75,1.75 0 1,0 -3.5,0M153.0,676.6a1.75,1.75 0 1,0 3.5,0a1.75,1.75 0 1,0 -3.5,0M171.7,647.8a1.75,1.75 0 1,0 3.5,0a1.75,1.75 0 1,0 -3.5,0M184.3,690.1a1.75,1.75 0 1,0 3.5,0a1.75,1.75 0 1,0 -3.5,0M195.7,664.1a1.75,1.75 0 1,0 3.5,0a1.75,1.75 0 1,0 -3.5,0M173.2,692.8a1.75,1.75 0 1,0 3.5,0a1.75,1.75 0 1,0 -3.5,0M169.9,683.5a1.75,1.75 0 1,0 3.5,0a1.75,1.75 0 1,0 -3.5,0M179.3,653.3a1.75,1.75 0 1,0 3.5,0a1.75,1.75 0 1,0 -3.5,0M184.7,649.9a1.75,1.75 0 1,0 3.5,0a1.75,1.75 0 1,0 -3.5,0M186.9,686.7a1.75,1.75 0 1,0 3.5,0a1.75,1.75 0 1,0 -3.5,0M153.8,668.3a1.75,1.75 0 1,0 3.5,0a1.75,1.75 0 1,0 -3.5,0M182.1,691.5a1.75,1.75 0 1,0 3.5,0a1.75,1.75 0 1,0 -3.5,0M175.8,694.8a1.75,1.75 0 1,0 3.5,0a1.75,1.75 0 1,0 -3.5,0M169.5,679.8a1.75,1.75 0 1,0 3.5,0a1.75,1.75 0 1,0 -3.5,0M161.6,654.8a1.75,1.75 0 1,0 3.5,0a1.75,1.75 0 1,0 -3.5,0M168.0,682.2a1.75,1.75 0 1,0 3.5,0a1.75,1.75 0 1,0 -3.5,0M174.9,680.7a1.75,1.75 0 1,0 3.5,0a1.75,1.75 0 1,0 -3.5,0M198.6,668.4a1.75,1.75 0 1,0 3.5,0a1.75,1.75 0 1,0 -3.5,0M200.8,653.6a1.75,1.75 0 1,0 3.5,0a1.75,1.75 0 1,0 -3.5,0M165.9,670.4a1.75,1.75 0 1,0 3.5,0a1.75,1.75 0 1,0 -3.5,0M180.4,654.0a1.75,1.75 0 1,0 3.5,0a1.75,1.75 0 1,0 -3.5,0M153.6,665.8a1.75,1.75 0 1,0 3.5,0a1.75,1.75 0 1,0 -3.5,0M167.7,647.1a1.75,1.75 0 1,0 3.5,0a1.75,1.75 0 1,0 -3.5,0M175.7,675.2a1.75,1.75 0 1,0 3.5,0a1.75,1.75 0 1,0 -3.5,0M183.0,691.4a1.75,1.75 0 1,0 3.5,0a1.75,1.75 0 1,0 -3.5,0M179.4,693.2a1.75,1.75 0 1,0 3.5,0a1.75,1.75 0 1,0 -3.5,0M176.0,669.8a1.75,1.75 0 1,0 3.5,0a1.75,1.75 0 1,0 -3.5,0M169.1,665.7a1.75,1.75 0 1,0 3.5,0a1.75,1.75 0 1,0 -3.5,0M193.0,647.6a1.75,1.75 0 1,0 3.5,0a1.75,1.75 0 1,0 -3.5,0M145.6,658.0a1.75,1.75 0 1,0 3.5,0a1.75,1.75 0 1,0 -3.5,0M185.8,669.3a1.75,1.75 0 1,0 3.5,0a1.75,1.75 0 1,0 -3.5,0M167.3,667.7a1.75,1.75 0 1,0 3.5,0a1.75,1.75 0 1,0 -3.5,0M160.2,679.0a1.75,1.75 0 1,0 3.5,0a1.75,1.75 0 1,0 -3.5,0M180.5,646.0a1.75,1.75 0 1,0 3.5,0a1.75,1.75 0 1,0 -3.5,0M192.1,672.5a1.75,1.75 0 1,0 3.5,0a1.75,1.75 0 1,0 -3.5,0M189.8,666.7a1.75,1.75 0 1,0 3.5,0a1.75,1.75 0 1,0 -3.5,0M143.7,646.4a1.75,1.75 0 1,0 3.5,0a1.75,1.75 0 1,0 -3.5,0M161.9,676.0a1.75,1.75 0 1,0 3.5,0a1.75,1.75 0 1,0 -3.5,0M150.4,648.9a1.75,1.75 0 1,0 3.5,0a1.75,1.75 0 1,0 -3.5,0M165.4,664.6a1.75,1.75 0 1,0 3.5,0a1.75,1.75 0 1,0 -3.5,0M192.5,674.2a1.75,1.75 0 1,0 3.5,0a1.75,1.75 0 1,0 -3.5,0M156.4,664.1a1.75,1.75 0 1,0 3.5,0a1.75,1.75 0 1,0 -3.5,0M150.8,674.9a1.75,1.75 0 1,0 3.5,0a1.75,1.75 0 1,0 -3.5,0M164.3,665.1a1.75,1.75 0 1,0 3.5,0a1.75,1.75 0 1,0 -3.5,0M149.0,665.2a1.75,1.75 0 1,0 3.5,0a1.75,1.75 0 1,0 -3.5,0M180.6,673.7a1.75,1.75 0 1,0 3.5,0a1.75,1.75 0 1,0 -3.5,0M190.4,683.7a1.75,1.75 0 1,0 3.5,0a1.75,1.75 0 1,0 -3.5,0M183.3,663.6a1.75,1.75 0 1,0 3.5,0a1.75,1.75 0 1,0 -3.5,0M159.1,668.0a1.75,1.75 0 1,0 3.5,0a1.75,1.75 0 1,0 -3.5,0M180.0,690.8a1.75,1.75 0 1,0 3.5,0a1.75,1.75 0 1,0 -3.5,0M179.4,693.5a1.75,1.75 0 1,0 3.5,0a1.75,1.75 0 1,0 -3.5,0M167.7,692.3a1.75,1.75 0 1,0 3.5,0a1.75,1.75 0 1,0 -3.5,0M155.0,646.3a1.75,1.75 0 1,0 3.5,0a1.75,1.75 0 1,0 -3.5,0M184.6,666.5a1.75,1.75 0 1,0 3.5,0a1.75,1.75 0 1,0 -3.5,0M175.5,667.8a1.75,1.75 0 1,0 3.5,0a1.75,1.75 0 1,0 -3.5,0M159.5,684.3a1.75,1.75 0 1,0 3.5,0a1.75,1.75 0 1,0 -3.5,0M155.9,680.1a1.75,1.75 0 1,0 3.5,0a1.75,1.75 0 1,0 -3.5,0M187.6,658.1a1.75,1.75 0 1,0 3.5,0a1.75,1.75 0 1,0 -3.5,0M170.9,680.3a1.75,1.75 0 1,0 3.5,0a1.75,1.75 0 1,0 -3.5,0M193.3,660.5a1.75,1.75 0 1,0 3.5,0a1.75,1.75 0 1,0 -3.5,0M146.1,659.5a1.75,1.75 0 1,0 3.5,0a1.75,1.75 0 1,0 -3.5,0M145.1,658.1a1.75,1.75 0 1,0 3.5,0a1.75,1.75 0 1,0 -3.5,0M163.0,686.8a1.75,1.75 0 1,0 3.5,0a1.75,1.75 0 1,0 -3.5,0M172.1,695.1a1.75,1.75 0 1,0 3.5,0a1.75,1.75 0 1,0 -3.5,0M179.6,661.1a1.75,1.75 0 1,0 3.5,0a1.75,1.75 0 1,0 -3.5,0M167.6,661.2a1.75,1.75 0 1,0 3.5,0a1.75,1.75 0 1,0 -3.5,0M167.6,650.8a1.75,1.75 0 1,0 3.5,0a1.75,1.75 0 1,0 -3.5,0M156.7,646.7a1.75,1.75 0 1,0 3.5,0a1.75,1.75 0 1,0 -3.5,0M170.4,691.8a1.75,1.75 0 1,0 3.5,0a1.75,1.75 0 1,0 -3.5,0M185.0,659.3a1.75,1.75 0 1,0 3.5,0a1.75,1.75 0 1,0 -3.5,0M170.0,690.5a1.75,1.75 0 1,0 3.5,0a1.75,1.75 0 1,0 -3.5,0M186.3,664.7a1.75,1.75 0 1,0 3.5,0a1.75,1.75 0 1,0 -3.5,0M178.3,685.9a1.75,1.75 0 1,0 3.5,0a1.75,1.75 0 1,0 -3.5,0M154.5,654.6a1.75,1.75 0 1,0 3.5,0a1.75,1.75 0 1,0 -3.5,0M181.7,684.1a1.75,1.75 0 1,0 3.5,0a1.75,1.75 0 1,0 -3.5,0M180.5,691.2a1.75,1.75 0 1,0 3.5,0a1.75,1.75 0 1,0 -3.5,0M154.3,666.9a1.75,1.75 0 1,0 3.5,0a1.75,1.75 0 1,0 -3.5,0M179.0,690.9a1.75,1.75 0 1,0 3.5,0a1.75,1.75 0 1,0 -3.5,0M183.0,674.9a1.75,1.75 0 1,0 3.5,0a1.75,1.75 0 1,0 -3.5,0M165.8,665.1a1.75,1.75 0 1,0 3.5,0a1.75,1.75 0 1,0 -3.5,0M174.0,674.8a1.75,1.75 0 1,0 3.5,0a1.75,1.75 0 1,0 -3.5,0M190.9,681.6a1.75,1.75 0 1,0 3.5,0a1.75,1.75 0 1,0 -3.5,0M171.7,688.7a1.75,1.75 0 1,0 3.5,0a1.75,1.75 0 1,0 -3.5,0M197.8,664.5a1.75,1.75 0 1,0 3.5,0a1.75,1.75 0 1,0 -3.5,0M190.7,665.6a1.75,1.75 0 1,0 3.5,0a1.75,1.75 0 1,0 -3.5,0M171.7,650.2a1.75,1.75 0 1,0 3.5,0a1.75,1.75 0 1,0 -3.5,0M189.6,671.8a1.75,1.75 0 1,0 3.5,0a1.75,1.75 0 1,0 -3.5,0M166.4,690.2a1.75,1.75 0 1,0 3.5,0a1.75,1.75 0 1,0 -3.5,0M180.3,676.9a1.75,1.75 0 1,0 3.5,0a1.75,1.75 0 1,0 -3.5,0M194.7,653.2a1.75,1.75 0 1,0 3.5,0a1.75,1.75 0 1,0 -3.5,0M196.1,673.7a1.75,1.75 0 1,0 3.5,0a1.75,1.75 0 1,0 -3.5,0M176.3,655.0a1.75,1.75 0 1,0 3.5,0a1.75,1.75 0 1,0 -3.5,0M182.7,662.0a1.75,1.75 0 1,0 3.5,0a1.75,1.75 0 1,0 -3.5,0M175.4,676.5a1.75,1.75 0 1,0 3.5,0a1.75,1.75 0 1,0 -3.5,0M195.8,664.4a1.75,1.75 0 1,0 3.5,0a1.75,1.75 0 1,0 -3.5,0M173.5,669.0a1.75,1.75 0 1,0 3.5,0a1.75,1.75 0 1,0 -3.5,0M159.6,658.6a1.75,1.75 0 1,0 3.5,0a1.75,1.75 0 1,0 -3.5,0M172.3,694.1a1.75,1.75 0 1,0 3.5,0a1.75,1.75 0 1,0 -3.5,0M177.1,689.7a1.75,1.75 0 1,0 3.5,0a1.75,1.75 0 1,0 -3.5,0M172.2,695.5a1.75,1.75 0 1,0 3.5,0a1.75,1.75 0 1,0 -3.5,0M178.8,693.5a1.75,1.75 0 1,0 3.5,0a1.75,1.75 0 1,0 -3.5,0M184.3,674.4a1.75,1.75 0 1,0 3.5,0a1.75,1.75 0 1,0 -3.5,0M172.8,682.3a1.75,1.75 0 1,0 3.5,0a1.75,1.75 0 1,0 -3.5,0M162.6,677.8a1.75,1.75 0 1,0 3.5,0a1.75,1.75 0 1,0 -3.5,0M185.6,646.5a1.75,1.75 0 1,0 3.5,0a1.75,1.75 0 1,0 -3.5,0M195.0,669.7a1.75,1.75 0 1,0 3.5,0a1.75,1.75 0 1,0 -3.5,0M193.0,658.9a1.75,1.75 0 1,0 3.5,0a1.75,1.75 0 1,0 -3.5,0M177.2,695.8a1.75,1.75 0 1,0 3.5,0a1.75,1.75 0 1,0 -3.5,0M170.9,694.6a1.75,1.75 0 1,0 3.5,0a1.75,1.75 0 1,0 -3.5,0M157.4,653.9a1.75,1.75 0 1,0 3.5,0a1.75,1.75 0 1,0 -3.5,0M152.4,663.9a1.75,1.75 0 1,0 3.5,0a1.75,1.75 0 1,0 -3.5,0M143.9,653.1a1.75,1.75 0 1,0 3.5,0a1.75,1.75 0 1,0 -3.5,0M172.5,693.1a1.75,1.75 0 1,0 3.5,0a1.75,1.75 0 1,0 -3.5,0M172.8,677.4a1.75,1.75 0 1,0 3.5,0a1.75,1.75 0 1,0 -3.5,0M185.4,683.4a1.75,1.75 0 1,0 3.5,0a1.75,1.75 0 1,0 -3.5,0M176.7,665.0a1.75,1.75 0 1,0 3.5,0a1.75,1.75 0 1,0 -3.5,0M160.9,650.4a1.75,1.75 0 1,0 3.5,0a1.75,1.75 0 1,0 -3.5,0M162.8,656.8a1.75,1.75 0 1,0 3.5,0a1.75,1.75 0 1,0 -3.5,0M179.0,662.0a1.75,1.75 0 1,0 3.5,0a1.75,1.75 0 1,0 -3.5,0M164.5,662.4a1.75,1.75 0 1,0 3.5,0a1.75,1.75 0 1,0 -3.5,0M160.6,687.9a1.75,1.75 0 1,0 3.5,0a1.75,1.75 0 1,0 -3.5,0M145.6,645.7a1.75,1.75 0 1,0 3.5,0a1.75,1.75 0 1,0 -3.5,0M178.0,689.6a1.75,1.75 0 1,0 3.5,0a1.75,1.75 0 1,0 -3.5,0M191.1,682.6a1.75,1.75 0 1,0 3.5,0a1.75,1.75 0 1,0 -3.5,0M199.3,656.6a1.75,1.75 0 1,0 3.5,0a1.75,1.75 0 1,0 -3.5,0M186.3,680.2a1.75,1.75 0 1,0 3.5,0a1.75,1.75 0 1,0 -3.5,0M173.4,658.1a1.75,1.75 0 1,0 3.5,0a1.75,1.75 0 1,0 -3.5,0M160.9,647.8a1.75,1.75 0 1,0 3.5,0a1.75,1.75 0 1,0 -3.5,0M177.8,695.5a1.75,1.75 0 1,0 3.5,0a1.75,1.75 0 1,0 -3.5,0M187.6,675.1a1.75,1.75 0 1,0 3.5,0a1.75,1.75 0 1,0 -3.5,0M171.3,691.5a1.75,1.75 0 1,0 3.5,0a1.75,1.75 0 1,0 -3.5,0M174.4,695.5a1.75,1.75 0 1,0 3.5,0a1.75,1.75 0 1,0 -3.5,0M176.6,653.6a1.75,1.75 0 1,0 3.5,0a1.75,1.75 0 1,0 -3.5,0M183.3,675.7a1.75,1.75 0 1,0 3.5,0a1.75,1.75 0 1,0 -3.5,0M155.3,679.7a1.75,1.75 0 1,0 3.5,0a1.75,1.75 0 1,0 -3.5,0M192.3,678.1a1.75,1.75 0 1,0 3.5,0a1.75,1.75 0 1,0 -3.5,0M193.6,679.6a1.75,1.75 0 1,0 3.5,0a1.75,1.75 0 1,0 -3.5,0M189.7,671.5a1.75,1.75 0 1,0 3.5,0a1.75,1.75 0 1,0 -3.5,0M198.4,652.6a1.75,1.75 0 1,0 3.5,0a1.75,1.75 0 1,0 -3.5,0M194.2,667.7a1.75,1.75 0 1,0 3.5,0a1.75,1.75 0 1,0 -3.5,0M181.7,661.8a1.75,1.75 0 1,0 3.5,0a1.75,1.75 0 1,0 -3.5,0M180.3,688.6a1.75,1.75 0 1,0 3.5,0a1.75,1.75 0 1,0 -3.5,0M194.8,677.1a1.75,1.75 0 1,0 3.5,0a1.75,1.75 0 1,0 -3.5,0M148.8,649.9a1.75,1.75 0 1,0 3.5,0a1.75,1.75 0 1,0 -3.5,0M195.8,673.6a1.75,1.75 0 1,0 3.5,0a1.75,1.75 0 1,0 -3.5,0M167.0,680.5a1.75,1.75 0 1,0 3.5,0a1.75,1.75 0 1,0 -3.5,0M171.5,651.0a1.75,1.75 0 1,0 3.5,0a1.75,1.75 0 1,0 -3.5,0M173.2,670.0a1.75,1.75 0 1,0 3.5,0a1.75,1.75 0 1,0 -3.5,0M164.4,677.0a1.75,1.75 0 1,0 3.5,0a1.75,1.75 0 1,0 -3.5,0M169.8,690.4a1.75,1.75 0 1,0 3.5,0a1.75,1.75 0 1,0 -3.5,0M165.0,650.9a1.75,1.75 0 1,0 3.5,0a1.75,1.75 0 1,0 -3.5,0M169.2,693.2a1.75,1.75 0 1,0 3.5,0a1.75,1.75 0 1,0 -3.5,0M199.0,659.6a1.75,1.75 0 1,0 3.5,0a1.75,1.75 0 1,0 -3.5,0M193.5,663.2a1.75,1.75 0 1,0 3.5,0a1.75,1.75 0 1,0 -3.5,0M198.5,647.8a1.75,1.75 0 1,0 3.5,0a1.75,1.75 0 1,0 -3.5,0M154.9,657.6a1.75,1.75 0 1,0 3.5,0a1.75,1.75 0 1,0 -3.5,0M191.7,683.3a1.75,1.75 0 1,0 3.5,0a1.75,1.75 0 1,0 -3.5,0M177.8,694.4a1.75,1.75 0 1,0 3.5,0a1.75,1.75 0 1,0 -3.5,0M183.7,692.1a1.75,1.75 0 1,0 3.5,0a1.75,1.75 0 1,0 -3.5,0M157.2,673.7a1.75,1.75 0 1,0 3.5,0a1.75,1.75 0 1,0 -3.5,0M172.0,688.8a1.75,1.75 0 1,0 3.5,0a1.75,1.75 0 1,0 -3.5,0M143.1,647.2a1.75,1.75 0 1,0 3.5,0a1.75,1.75 0 1,0 -3.5,0M180.3,658.9a1.75,1.75 0 1,0 3.5,0a1.75,1.75 0 1,0 -3.5,0M190.3,683.7a1.75,1.75 0 1,0 3.5,0a1.75,1.75 0 1,0 -3.5,0M187.3,687.2a1.75,1.75 0 1,0 3.5,0a1.75,1.75 0 1,0 -3.5,0M184.5,677.9a1.75,1.75 0 1,0 3.5,0a1.75,1.75 0 1,0 -3.5,0M154.8,675.4a1.75,1.75 0 1,0 3.5,0a1.75,1.75 0 1,0 -3.5,0M190.6,648.6a1.75,1.75 0 1,0 3.5,0a1.75,1.75 0 1,0 -3.5,0M191.8,655.8a1.75,1.75 0 1,0 3.5,0a1.75,1.75 0 1,0 -3.5,0M148.1,669.1a1.75,1.75 0 1,0 3.5,0a1.75,1.75 0 1,0 -3.5,0M172.0,674.1a1.75,1.75 0 1,0 3.5,0a1.75,1.75 0 1,0 -3.5,0M159.2,649.2a1.75,1.75 0 1,0 3.5,0a1.75,1.75 0 1,0 -3.5,0M165.5,661.1a1.75,1.75 0 1,0 3.5,0a1.75,1.75 0 1,0 -3.5,0M161.5,681.5a1.75,1.75 0 1,0 3.5,0a1.75,1.75 0 1,0 -3.5,0M180.3,668.1a1.75,1.75 0 1,0 3.5,0a1.75,1.75 0 1,0 -3.5,0M169.2,693.7a1.75,1.75 0 1,0 3.5,0a1.75,1.75 0 1,0 -3.5,0M154.7,649.5a1.75,1.75 0 1,0 3.5,0a1.75,1.75 0 1,0 -3.5,0M153.7,656.7a1.75,1.75 0 1,0 3.5,0a1.75,1.75 0 1,0 -3.5,0M155.8,649.3a1.75,1.75 0 1,0 3.5,0a1.75,1.75 0 1,0 -3.5,0M173.6,656.9a1.75,1.75 0 1,0 3.5,0a1.75,1.75 0 1,0 -3.5,0M168.8,678.5a1.75,1.75 0 1,0 3.5,0a1.75,1.75 0 1,0 -3.5,0M148.9,654.0a1.75,1.75 0 1,0 3.5,0a1.75,1.75 0 1,0 -3.5,0M154.5,658.9a1.75,1.75 0 1,0 3.5,0a1.75,1.75 0 1,0 -3.5,0M193.2,670.0a1.75,1.75 0 1,0 3.5,0a1.75,1.75 0 1,0 -3.5,0M163.2,682.0a1.75,1.75 0 1,0 3.5,0a1.75,1.75 0 1,0 -3.5,0M146.4,647.3a1.75,1.75 0 1,0 3.5,0a1.75,1.75 0 1,0 -3.5,0M167.3,667.7a1.75,1.75 0 1,0 3.5,0a1.75,1.75 0 1,0 -3.5,0M157.5,680.3a1.75,1.75 0 1,0 3.5,0a1.75,1.75 0 1,0 -3.5,0M185.5,658.4a1.75,1.75 0 1,0 3.5,0a1.75,1.75 0 1,0 -3.5,0M175.6,674.4a1.75,1.75 0 1,0 3.5,0a1.75,1.75 0 1,0 -3.5,0M166.6,691.4a1.75,1.75 0 1,0 3.5,0a1.75,1.75 0 1,0 -3.5,0M178.7,655.4a1.75,1.75 0 1,0 3.5,0a1.75,1.75 0 1,0 -3.5,0M196.6,674.3a1.75,1.75 0 1,0 3.5,0a1.75,1.75 0 1,0 -3.5,0M175.6,695.3a1.75,1.75 0 1,0 3.5,0a1.75,1.75 0 1,0 -3.5,0M181.4,684.2a1.75,1.75 0 1,0 3.5,0a1.75,1.75 0 1,0 -3.5,0M181.0,652.2a1.75,1.75 0 1,0 3.5,0a1.75,1.75 0 1,0 -3.5,0M166.3,661.1a1.75,1.75 0 1,0 3.5,0a1.75,1.75 0 1,0 -3.5,0M143.3,653.4a1.75,1.75 0 1,0 3.5,0a1.75,1.75 0 1,0 -3.5,0M180.3,689.0a1.75,1.75 0 1,0 3.5,0a1.75,1.75 0 1,0 -3.5,0M167.1,683.8a1.75,1.75 0 1,0 3.5,0a1.75,1.75 0 1,0 -3.5,0M156.6,666.7a1.75,1.75 0 1,0 3.5,0a1.75,1.75 0 1,0 -3.5,0M189.6,676.2a1.75,1.75 0 1,0 3.5,0a1.75,1.75 0 1,0 -3.5,0M188.6,685.2a1.75,1.75 0 1,0 3.5,0a1.75,1.75 0 1,0 -3.5,0M186.3,658.7a1.75,1.75 0 1,0 3.5,0a1.75,1.75 0 1,0 -3.5,0M177.0,651.9a1.75,1.75 0 1,0 3.5,0a1.75,1.75 0 1,0 -3.5,0M177.3,651.1a1.75,1.75 0 1,0 3.5,0a1.75,1.75 0 1,0 -3.5,0M167.1,673.1a1.75,1.75 0 1,0 3.5,0a1.75,1.75 0 1,0 -3.5,0M186.3,663.3a1.75,1.75 0 1,0 3.5,0a1.75,1.75 0 1,0 -3.5,0M169.9,670.0a1.75,1.75 0 1,0 3.5,0a1.75,1.75 0 1,0 -3.5,0M160.7,651.2a1.75,1.75 0 1,0 3.5,0a1.75,1.75 0 1,0 -3.5,0M186.9,688.7a1.75,1.75 0 1,0 3.5,0a1.75,1.75 0 1,0 -3.5,0M194.7,664.5a1.75,1.75 0 1,0 3.5,0a1.75,1.75 0 1,0 -3.5,0M167.9,690.0a1.75,1.75 0 1,0 3.5,0a1.75,1.75 0 1,0 -3.5,0M186.0,659.4a1.75,1.75 0 1,0 3.5,0a1.75,1.75 0 1,0 -3.5,0M200.3,661.1a1.75,1.75 0 1,0 3.5,0a1.75,1.75 0 1,0 -3.5,0M187.3,664.1a1.75,1.75 0 1,0 3.5,0a1.75,1.75 0 1,0 -3.5,0M163.4,681.5a1.75,1.75 0 1,0 3.5,0a1.75,1.75 0 1,0 -3.5,0M170.5,689.6a1.75,1.75 0 1,0 3.5,0a1.75,1.75 0 1,0 -3.5,0M145.6,651.1a1.75,1.75 0 1,0 3.5,0a1.75,1.75 0 1,0 -3.5,0M181.6,668.5a1.75,1.75 0 1,0 3.5,0a1.75,1.75 0 1,0 -3.5,0M194.3,659.3a1.75,1.75 0 1,0 3.5,0a1.75,1.75 0 1,0 -3.5,0M194.6,659.1a1.75,1.75 0 1,0 3.5,0a1.75,1.75 0 1,0 -3.5,0M159.2,647.1a1.75,1.75 0 1,0 3.5,0a1.75,1.75 0 1,0 -3.5,0M171.5,653.6a1.75,1.75 0 1,0 3.5,0a1.75,1.75 0 1,0 -3.5,0M168.7,663.4a1.75,1.75 0 1,0 3.5,0a1.75,1.75 0 1,0 -3.5,0M176.8,688.9a1.75,1.75 0 1,0 3.5,0a1.75,1.75 0 1,0 -3.5,0M169.7,676.3a1.75,1.75 0 1,0 3.5,0a1.75,1.75 0 1,0 -3.5,0M174.9,686.7a1.75,1.75 0 1,0 3.5,0a1.75,1.75 0 1,0 -3.5,0M189.0,683.5a1.75,1.75 0 1,0 3.5,0a1.75,1.75 0 1,0 -3.5,0M171.8,676.7a1.75,1.75 0 1,0 3.5,0a1.75,1.75 0 1,0 -3.5,0M198.3,658.9a1.75,1.75 0 1,0 3.5,0a1.75,1.75 0 1,0 -3.5,0M184.6,684.5a1.75,1.75 0 1,0 3.5,0a1.75,1.75 0 1,0 -3.5,0M170.9,656.8a1.75,1.75 0 1,0 3.5,0a1.75,1.75 0 1,0 -3.5,0M168.9,690.5a1.75,1.75 0 1,0 3.5,0a1.75,1.75 0 1,0 -3.5,0M176.0,687.0a1.75,1.75 0 1,0 3.5,0a1.75,1.75 0 1,0 -3.5,0M167.0,656.6a1.75,1.75 0 1,0 3.5,0a1.75,1.75 0 1,0 -3.5,0M185.3,649.3a1.75,1.75 0 1,0 3.5,0a1.75,1.75 0 1,0 -3.5,0M156.7,682.5a1.75,1.75 0 1,0 3.5,0a1.75,1.75 0 1,0 -3.5,0M189.9,660.8a1.75,1.75 0 1,0 3.5,0a1.75,1.75 0 1,0 -3.5,0M177.0,655.7a1.75,1.75 0 1,0 3.5,0a1.75,1.75 0 1,0 -3.5,0M176.9,686.6a1.75,1.75 0 1,0 3.5,0a1.75,1.75 0 1,0 -3.5,0M199.4,651.7a1.75,1.75 0 1,0 3.5,0a1.75,1.75 0 1,0 -3.5,0M177.1,683.5a1.75,1.75 0 1,0 3.5,0a1.75,1.75 0 1,0 -3.5,0M179.4,662.4a1.75,1.75 0 1,0 3.5,0a1.75,1.75 0 1,0 -3.5,0M153.0,665.4a1.75,1.75 0 1,0 3.5,0a1.75,1.75 0 1,0 -3.5,0M145.4,651.7a1.75,1.75 0 1,0 3.5,0a1.75,1.75 0 1,0 -3.5,0M158.6,654.1a1.75,1.75 0 1,0 3.5,0a1.75,1.75 0 1,0 -3.5,0M178.2,677.9a1.75,1.75 0 1,0 3.5,0a1.75,1.75 0 1,0 -3.5,0M189.0,675.6a1.75,1.75 0 1,0 3.5,0a1.75,1.75 0 1,0 -3.5,0M167.6,650.3a1.75,1.75 0 1,0 3.5,0a1.75,1.75 0 1,0 -3.5,0M169.5,649.5a1.75,1.75 0 1,0 3.5,0a1.75,1.75 0 1,0 -3.5,0M146.5,649.5a1.75,1.75 0 1,0 3.5,0a1.75,1.75 0 1,0 -3.5,0M167.7,650.8a1.75,1.75 0 1,0 3.5,0a1.75,1.75 0 1,0 -3.5,0M167.1,684.4a1.75,1.75 0 1,0 3.5,0a1.75,1.75 0 1,0 -3.5,0M164.9,683.3a1.75,1.75 0 1,0 3.5,0a1.75,1.75 0 1,0 -3.5,0M173.1,660.1a1.75,1.75 0 1,0 3.5,0a1.75,1.75 0 1,0 -3.5,0M171.5,649.3a1.75,1.75 0 1,0 3.5,0a1.75,1.75 0 1,0 -3.5,0M189.3,675.2a1.75,1.75 0 1,0 3.5,0a1.75,1.75 0 1,0 -3.5,0M193.1,648.3a1.75,1.75 0 1,0 3.5,0a1.75,1.75 0 1,0 -3.5,0M178.4,674.5a1.75,1.75 0 1,0 3.5,0a1.75,1.75 0 1,0 -3.5,0M197.9,648.1a1.75,1.75 0 1,0 3.5,0a1.75,1.75 0 1,0 -3.5,0M177.5,659.6a1.75,1.75 0 1,0 3.5,0a1.75,1.75 0 1,0 -3.5,0M194.0,672.9a1.75,1.75 0 1,0 3.5,0a1.75,1.75 0 1,0 -3.5,0M196.2,676.1a1.75,1.75 0 1,0 3.5,0a1.75,1.75 0 1,0 -3.5,0M184.2,657.3a1.75,1.75 0 1,0 3.5,0a1.75,1.75 0 1,0 -3.5,0M175.5,674.9a1.75,1.75 0 1,0 3.5,0a1.75,1.75 0 1,0 -3.5,0M177.0,677.5a1.75,1.75 0 1,0 3.5,0a1.75,1.75 0 1,0 -3.5,0M182.6,662.6a1.75,1.75 0 1,0 3.5,0a1.75,1.75 0 1,0 -3.5,0M159.1,668.6a1.75,1.75 0 1,0 3.5,0a1.75,1.75 0 1,0 -3.5,0M182.5,674.4a1.75,1.75 0 1,0 3.5,0a1.75,1.75 0 1,0 -3.5,0M161.7,651.8a1.75,1.75 0 1,0 3.5,0a1.75,1.75 0 1,0 -3.5,0M180.7,648.6a1.75,1.75 0 1,0 3.5,0a1.75,1.75 0 1,0 -3.5,0M157.1,649.6a1.75,1.75 0 1,0 3.5,0a1.75,1.75 0 1,0 -3.5,0M172.2,668.3a1.75,1.75 0 1,0 3.5,0a1.75,1.75 0 1,0 -3.5,0M202.1,647.1a1.75,1.75 0 1,0 3.5,0a1.75,1.75 0 1,0 -3.5,0M181.2,657.2a1.75,1.75 0 1,0 3.5,0a1.75,1.75 0 1,0 -3.5,0M180.4,656.8a1.75,1.75 0 1,0 3.5,0a1.75,1.75 0 1,0 -3.5,0M164.2,663.5a1.75,1.75 0 1,0 3.5,0a1.75,1.75 0 1,0 -3.5,0M179.1,669.7a1.75,1.75 0 1,0 3.5,0a1.75,1.75 0 1,0 -3.5,0M183.1,676.0a1.75,1.75 0 1,0 3.5,0a1.75,1.75 0 1,0 -3.5,0M149.7,659.2a1.75,1.75 0 1,0 3.5,0a1.75,1.75 0 1,0 -3.5,0M164.1,658.4a1.75,1.75 0 1,0 3.5,0a1.75,1.75 0 1,0 -3.5,0M170.9,676.4a1.75,1.75 0 1,0 3.5,0a1.75,1.75 0 1,0 -3.5,0M150.7,661.3a1.75,1.75 0 1,0 3.5,0a1.75,1.75 0 1,0 -3.5,0M156.4,675.9a1.75,1.75 0 1,0 3.5,0a1.75,1.75 0 1,0 -3.5,0M183.8,671.8a1.75,1.75 0 1,0 3.5,0a1.75,1.75 0 1,0 -3.5,0M159.3,677.2a1.75,1.75 0 1,0 3.5,0a1.75,1.75 0 1,0 -3.5,0M198.8,663.6a1.75,1.75 0 1,0 3.5,0a1.75,1.75 0 1,0 -3.5,0M185.6,650.1a1.75,1.75 0 1,0 3.5,0a1.75,1.75 0 1,0 -3.5,0M180.7,667.7a1.75,1.75 0 1,0 3.5,0a1.75,1.75 0 1,0 -3.5,0M153.3,665.5a1.75,1.75 0 1,0 3.5,0a1.75,1.75 0 1,0 -3.5,0M150.5,674.1a1.75,1.75 0 1,0 3.5,0a1.75,1.75 0 1,0 -3.5,0M182.0,689.5a1.75,1.75 0 1,0 3.5,0a1.75,1.75 0 1,0 -3.5,0M176.9,664.5a1.75,1.75 0 1,0 3.5,0a1.75,1.75 0 1,0 -3.5,0M197.5,672.4a1.75,1.75 0 1,0 3.5,0a1.75,1.75 0 1,0 -3.5,0M161.5,647.7a1.75,1.75 0 1,0 3.5,0a1.75,1.75 0 1,0 -3.5,0M189.9,666.2a1.75,1.75 0 1,0 3.5,0a1.75,1.75 0 1,0 -3.5,0M171.9,682.7a1.75,1.75 0 1,0 3.5,0a1.75,1.75 0 1,0 -3.5,0M183.9,646.1a1.75,1.75 0 1,0 3.5,0a1.75,1.75 0 1,0 -3.5,0M153.1,666.2a1.75,1.75 0 1,0 3.5,0a1.75,1.75 0 1,0 -3.5,0M172.4,677.6a1.75,1.75 0 1,0 3.5,0a1.75,1.75 0 1,0 -3.5,0M160.9,661.1a1.75,1.75 0 1,0 3.5,0a1.75,1.75 0 1,0 -3.5,0M161.9,672.0a1.75,1.75 0 1,0 3.5,0a1.75,1.75 0 1,0 -3.5,0M198.2,665.5a1.75,1.75 0 1,0 3.5,0a1.75,1.75 0 1,0 -3.5,0M161.6,669.8a1.75,1.75 0 1,0 3.5,0a1.75,1.75 0 1,0 -3.5,0M194.7,672.0a1.75,1.75 0 1,0 3.5,0a1.75,1.75 0 1,0 -3.5,0M179.0,689.6a1.75,1.75 0 1,0 3.5,0a1.75,1.75 0 1,0 -3.5,0M180.0,691.3a1.75,1.75 0 1,0 3.5,0a1.75,1.75 0 1,0 -3.5,0M171.8,680.1a1.75,1.75 0 1,0 3.5,0a1.75,1.75 0 1,0 -3.5,0M188.7,653.1a1.75,1.75 0 1,0 3.5,0a1.75,1.75 0 1,0 -3.5,0M194.3,677.8a1.75,1.75 0 1,0 3.5,0a1.75,1.75 0 1,0 -3.5,0M195.7,661.8a1.75,1.75 0 1,0 3.5,0a1.75,1.75 0 1,0 -3.5,0M200.8,656.6a1.75,1.75 0 1,0 3.5,0a1.75,1.75 0 1,0 -3.5,0M173.5,696.2a1.75,1.75 0 1,0 3.5,0a1.75,1.75 0 1,0 -3.5,0M202.4,662.0a1.75,1.75 0 1,0 3.5,0a1.75,1.75 0 1,0 -3.5,0M176.5,694.8a1.75,1.75 0 1,0 3.5,0a1.75,1.75 0 1,0 -3.5,0M143.0,652.3a1.75,1.75 0 1,0 3.5,0a1.75,1.75 0 1,0 -3.5,0M200.3,658.2a1.75,1.75 0 1,0 3.5,0a1.75,1.75 0 1,0 -3.5,0M172.6,686.5a1.75,1.75 0 1,0 3.5,0a1.75,1.75 0 1,0 -3.5,0M188.1,684.3a1.75,1.75 0 1,0 3.5,0a1.75,1.75 0 1,0 -3.5,0M195.8,660.8a1.75,1.75 0 1,0 3.5,0a1.75,1.75 0 1,0 -3.5,0M164.3,659.2a1.75,1.75 0 1,0 3.5,0a1.75,1.75 0 1,0 -3.5,0M152.5,647.7a1.75,1.75 0 1,0 3.5,0a1.75,1.75 0 1,0 -3.5,0M151.1,673.6a1.75,1.75 0 1,0 3.5,0a1.75,1.75 0 1,0 -3.5,0M158.3,673.3a1.75,1.75 0 1,0 3.5,0a1.75,1.75 0 1,0 -3.5,0M161.2,683.6a1.75,1.75 0 1,0 3.5,0a1.75,1.75 0 1,0 -3.5,0M160.3,656.0a1.75,1.75 0 1,0 3.5,0a1.75,1.75 0 1,0 -3.5,0M188.6,675.2a1.75,1.75 0 1,0 3.5,0a1.75,1.75 0 1,0 -3.5,0M183.0,683.9a1.75,1.75 0 1,0 3.5,0a1.75,1.75 0 1,0 -3.5,0M176.5,680.2a1.75,1.75 0 1,0 3.5,0a1.75,1.75 0 1,0 -3.5,0M155.9,662.9a1.75,1.75 0 1,0 3.5,0a1.75,1.75 0 1,0 -3.5,0M172.5,689.5a1.75,1.75 0 1,0 3.5,0a1.75,1.75 0 1,0 -3.5,0M155.9,678.6a1.75,1.75 0 1,0 3.5,0a1.75,1.75 0 1,0 -3.5,0M151.5,663.9a1.75,1.75 0 1,0 3.5,0a1.75,1.75 0 1,0 -3.5,0M187.5,663.5a1.75,1.75 0 1,0 3.5,0a1.75,1.75 0 1,0 -3.5,0M184.8,662.9a1.75,1.75 0 1,0 3.5,0a1.75,1.75 0 1,0 -3.5,0M167.4,651.7a1.75,1.75 0 1,0 3.5,0a1.75,1.75 0 1,0 -3.5,0M175.3,666.4a1.75,1.75 0 1,0 3.5,0a1.75,1.75 0 1,0 -3.5,0M186.3,657.1a1.75,1.75 0 1,0 3.5,0a1.75,1.75 0 1,0 -3.5,0M181.7,690.5a1.75,1.75 0 1,0 3.5,0a1.75,1.75 0 1,0 -3.5,0M178.8,663.0a1.75,1.75 0 1,0 3.5,0a1.75,1.75 0 1,0 -3.5,0M188.7,649.7a1.75,1.75 0 1,0 3.5,0a1.75,1.75 0 1,0 -3.5,0M198.0,666.7a1.75,1.75 0 1,0 3.5,0a1.75,1.75 0 1,0 -3.5,0M169.4,646.4a1.75,1.75 0 1,0 3.5,0a1.75,1.75 0 1,0 -3.5,0M191.1,670.3a1.75,1.75 0 1,0 3.5,0a1.75,1.75 0 1,0 -3.5,0M163.4,684.0a1.75,1.75 0 1,0 3.5,0a1.75,1.75 0 1,0 -3.5,0M188.0,661.2a1.75,1.75 0 1,0 3.5,0a1.75,1.75 0 1,0 -3.5,0M161.5,666.9a1.75,1.75 0 1,0 3.5,0a1.75,1.75 0 1,0 -3.5,0M180.3,692.9a1.75,1.75 0 1,0 3.5,0a1.75,1.75 0 1,0 -3.5,0M177.5,663.6a1.75,1.75 0 1,0 3.5,0a1.75,1.75 0 1,0 -3.5,0M169.9,692.8a1.75,1.75 0 1,0 3.5,0a1.75,1.75 0 1,0 -3.5,0M182.1,691.8a1.75,1.75 0 1,0 3.5,0a1.75,1.75 0 1,0 -3.5,0M181.5,682.5a1.75,1.75 0 1,0 3.5,0a1.75,1.75 0 1,0 -3.5,0M176.5,680.4a1.75,1.75 0 1,0 3.5,0a1.75,1.75 0 1,0 -3.5,0M160.3,675.2a1.75,1.75 0 1,0 3.5,0a1.75,1.75 0 1,0 -3.5,0M182.7,674.2a1.75,1.75 0 1,0 3.5,0a1.75,1.75 0 1,0 -3.5,0M183.7,670.2a1.75,1.75 0 1,0 3.5,0a1.75,1.75 0 1,0 -3.5,0M190.1,668.8a1.75,1.75 0 1,0 3.5,0a1.75,1.75 0 1,0 -3.5,0M158.9,682.2a1.75,1.75 0 1,0 3.5,0a1.75,1.75 0 1,0 -3.5,0M167.3,684.7a1.75,1.75 0 1,0 3.5,0a1.75,1.75 0 1,0 -3.5,0M150.1,649.6a1.75,1.75 0 1,0 3.5,0a1.75,1.75 0 1,0 -3.5,0M176.2,662.0a1.75,1.75 0 1,0 3.5,0a1.75,1.75 0 1,0 -3.5,0M157.2,662.3a1.75,1.75 0 1,0 3.5,0a1.75,1.75 0 1,0 -3.5,0M170.4,684.7a1.75,1.75 0 1,0 3.5,0a1.75,1.75 0 1,0 -3.5,0M168.5,690.0a1.75,1.75 0 1,0 3.5,0a1.75,1.75 0 1,0 -3.5,0M169.0,680.6a1.75,1.75 0 1,0 3.5,0a1.75,1.75 0 1,0 -3.5,0M178.6,688.8a1.75,1.75 0 1,0 3.5,0a1.75,1.75 0 1,0 -3.5,0M157.7,680.1a1.75,1.75 0 1,0 3.5,0a1.75,1.75 0 1,0 -3.5,0M169.5,683.8a1.75,1.75 0 1,0 3.5,0a1.75,1.75 0 1,0 -3.5,0M186.8,683.2a1.75,1.75 0 1,0 3.5,0a1.75,1.75 0 1,0 -3.5,0M143.4,651.7a1.75,1.75 0 1,0 3.5,0a1.75,1.75 0 1,0 -3.5,0M190.4,684.1a1.75,1.75 0 1,0 3.5,0a1.75,1.75 0 1,0 -3.5,0M173.5,691.4a1.75,1.75 0 1,0 3.5,0a1.75,1.75 0 1,0 -3.5,0M161.0,688.0a1.75,1.75 0 1,0 3.5,0a1.75,1.75 0 1,0 -3.5,0M179.8,648.4a1.75,1.75 0 1,0 3.5,0a1.75,1.75 0 1,0 -3.5,0M190.2,672.4a1.75,1.75 0 1,0 3.5,0a1.75,1.75 0 1,0 -3.5,0M172.5,657.4a1.75,1.75 0 1,0 3.5,0a1.75,1.75 0 1,0 -3.5,0M173.8,695.9a1.75,1.75 0 1,0 3.5,0a1.75,1.75 0 1,0 -3.5,0M180.5,666.1a1.75,1.75 0 1,0 3.5,0a1.75,1.75 0 1,0 -3.5,0M173.8,696.2a1.75,1.75 0 1,0 3.5,0a1.75,1.75 0 1,0 -3.5,0M171.3,680.7a1.75,1.75 0 1,0 3.5,0a1.75,1.75 0 1,0 -3.5,0M161.0,665.9a1.75,1.75 0 1,0 3.5,0a1.75,1.75 0 1,0 -3.5,0M178.6,669.2a1.75,1.75 0 1,0 3.5,0a1.75,1.75 0 1,0 -3.5,0M175.2,665.5a1.75,1.75 0 1,0 3.5,0a1.75,1.75 0 1,0 -3.5,0M189.4,677.9a1.75,1.75 0 1,0 3.5,0a1.75,1.75 0 1,0 -3.5,0M169.1,674.1a1.75,1.75 0 1,0 3.5,0a1.75,1.75 0 1,0 -3.5,0M170.9,694.5a1.75,1.75 0 1,0 3.5,0a1.75,1.75 0 1,0 -3.5,0M199.7,647.8a1.75,1.75 0 1,0 3.5,0a1.75,1.75 0 1,0 -3.5,0M153.4,659.0a1.75,1.75 0 1,0 3.5,0a1.75,1.75 0 1,0 -3.5,0M165.8,665.1a1.75,1.75 0 1,0 3.5,0a1.75,1.75 0 1,0 -3.5,0M193.9,663.5a1.75,1.75 0 1,0 3.5,0a1.75,1.75 0 1,0 -3.5,0M152.5,660.3a1.75,1.75 0 1,0 3.5,0a1.75,1.75 0 1,0 -3.5,0M201.0,656.5a1.75,1.75 0 1,0 3.5,0a1.75,1.75 0 1,0 -3.5,0M167.1,667.3a1.75,1.75 0 1,0 3.5,0a1.75,1.75 0 1,0 -3.5,0M188.7,685.1a1.75,1.75 0 1,0 3.5,0a1.75,1.75 0 1,0 -3.5,0M190.0,671.5a1.75,1.75 0 1,0 3.5,0a1.75,1.75 0 1,0 -3.5,0M165.6,659.0a1.75,1.75 0 1,0 3.5,0a1.75,1.75 0 1,0 -3.5,0M162.1,674.9a1.75,1.75 0 1,0 3.5,0a1.75,1.75 0 1,0 -3.5,0M155.7,659.5a1.75,1.75 0 1,0 3.5,0a1.75,1.75 0 1,0 -3.5,0M194.2,658.8a1.75,1.75 0 1,0 3.5,0a1.75,1.75 0 1,0 -3.5,0M162.2,686.0a1.75,1.75 0 1,0 3.5,0a1.75,1.75 0 1,0 -3.5,0M187.0,663.3a1.75,1.75 0 1,0 3.5,0a1.75,1.75 0 1,0 -3.5,0M176.3,689.3a1.75,1.75 0 1,0 3.5,0a1.75,1.75 0 1,0 -3.5,0M164.7,682.5a1.75,1.75 0 1,0 3.5,0a1.75,1.75 0 1,0 -3.5,0M184.9,685.3a1.75,1.75 0 1,0 3.5,0a1.75,1.75 0 1,0 -3.5,0M159.9,666.2a1.75,1.75 0 1,0 3.5,0a1.75,1.75 0 1,0 -3.5,0M182.7,647.1a1.75,1.75 0 1,0 3.5,0a1.75,1.75 0 1,0 -3.5,0M152.4,677.7a1.75,1.75 0 1,0 3.5,0a1.75,1.75 0 1,0 -3.5,0M195.7,672.0a1.75,1.75 0 1,0 3.5,0a1.75,1.75 0 1,0 -3.5,0M151.0,646.9a1.75,1.75 0 1,0 3.5,0a1.75,1.75 0 1,0 -3.5,0M170.7,648.4a1.75,1.75 0 1,0 3.5,0a1.75,1.75 0 1,0 -3.5,0M194.6,665.1a1.75,1.75 0 1,0 3.5,0a1.75,1.75 0 1,0 -3.5,0M155.2,648.8a1.75,1.75 0 1,0 3.5,0a1.75,1.75 0 1,0 -3.5,0M167.1,693.3a1.75,1.75 0 1,0 3.5,0a1.75,1.75 0 1,0 -3.5,0M168.3,658.7a1.75,1.75 0 1,0 3.5,0a1.75,1.75 0 1,0 -3.5,0M160.8,645.5a1.75,1.75 0 1,0 3.5,0a1.75,1.75 0 1,0 -3.5,0M179.8,676.2a1.75,1.75 0 1,0 3.5,0a1.75,1.75 0 1,0 -3.5,0M181.3,676.5a1.75,1.75 0 1,0 3.5,0a1.75,1.75 0 1,0 -3.5,0M153.3,676.8a1.75,1.75 0 1,0 3.5,0a1.75,1.75 0 1,0 -3.5,0M178.2,678.9a1.75,1.75 0 1,0 3.5,0a1.75,1.75 0 1,0 -3.5,0M169.8,656.6a1.75,1.75 0 1,0 3.5,0a1.75,1.75 0 1,0 -3.5,0M196.1,657.6a1.75,1.75 0 1,0 3.5,0a1.75,1.75 0 1,0 -3.5,0M154.2,659.7a1.75,1.75 0 1,0 3.5,0a1.75,1.75 0 1,0 -3.5,0M182.7,686.1a1.75,1.75 0 1,0 3.5,0a1.75,1.75 0 1,0 -3.5,0M179.3,688.9a1.75,1.75 0 1,0 3.5,0a1.75,1.75 0 1,0 -3.5,0M173.5,666.7a1.75,1.75 0 1,0 3.5,0a1.75,1.75 0 1,0 -3.5,0M179.3,673.8a1.75,1.75 0 1,0 3.5,0a1.75,1.75 0 1,0 -3.5,0M171.3,693.7a1.75,1.75 0 1,0 3.5,0a1.75,1.75 0 1,0 -3.5,0M157.9,684.6a1.75,1.75 0 1,0 3.5,0a1.75,1.75 0 1,0 -3.5,0M200.9,655.2a1.75,1.75 0 1,0 3.5,0a1.75,1.75 0 1,0 -3.5,0M177.6,692.2a1.75,1.75 0 1,0 3.5,0a1.75,1.75 0 1,0 -3.5,0M184.8,670.4a1.75,1.75 0 1,0 3.5,0a1.75,1.75 0 1,0 -3.5,0M178.3,695.4a1.75,1.75 0 1,0 3.5,0a1.75,1.75 0 1,0 -3.5,0M151.9,654.7a1.75,1.75 0 1,0 3.5,0a1.75,1.75 0 1,0 -3.5,0M153.2,660.1a1.75,1.75 0 1,0 3.5,0a1.75,1.75 0 1,0 -3.5,0M185.8,684.4a1.75,1.75 0 1,0 3.5,0a1.75,1.75 0 1,0 -3.5,0M147.3,652.6a1.75,1.75 0 1,0 3.5,0a1.75,1.75 0 1,0 -3.5,0M185.2,662.0a1.75,1.75 0 1,0 3.5,0a1.75,1.75 0 1,0 -3.5,0M173.5,684.7a1.75,1.75 0 1,0 3.5,0a1.75,1.75 0 1,0 -3.5,0M192.1,678.1a1.75,1.75 0 1,0 3.5,0a1.75,1.75 0 1,0 -3.5,0M165.7,690.4a1.75,1.75 0 1,0 3.5,0a1.75,1.75 0 1,0 -3.5,0M184.9,681.8a1.75,1.75 0 1,0 3.5,0a1.75,1.75 0 1,0 -3.5,0M173.2,691.7a1.75,1.75 0 1,0 3.5,0a1.75,1.75 0 1,0 -3.5,0M173.2,653.4a1.75,1.75 0 1,0 3.5,0a1.75,1.75 0 1,0 -3.5,0M168.7,664.3a1.75,1.75 0 1,0 3.5,0a1.75,1.75 0 1,0 -3.5,0M179.3,686.4a1.75,1.75 0 1,0 3.5,0a1.75,1.75 0 1,0 -3.5,0M180.8,680.1a1.75,1.75 0 1,0 3.5,0a1.75,1.75 0 1,0 -3.5,0M146.4,652.7a1.75,1.75 0 1,0 3.5,0a1.75,1.75 0 1,0 -3.5,0M193.3,665.6a1.75,1.75 0 1,0 3.5,0a1.75,1.75 0 1,0 -3.5,0M186.7,678.5a1.75,1.75 0 1,0 3.5,0a1.75,1.75 0 1,0 -3.5,0M186.9,677.2a1.75,1.75 0 1,0 3.5,0a1.75,1.75 0 1,0 -3.5,0M175.4,696.3a1.75,1.75 0 1,0 3.5,0a1.75,1.75 0 1,0 -3.5,0M186.2,689.4a1.75,1.75 0 1,0 3.5,0a1.75,1.75 0 1,0 -3.5,0M185.7,683.2a1.75,1.75 0 1,0 3.5,0a1.75,1.75 0 1,0 -3.5,0M144.5,649.5a1.75,1.75 0 1,0 3.5,0a1.75,1.75 0 1,0 -3.5,0M170.0,692.6a1.75,1.75 0 1,0 3.5,0a1.75,1.75 0 1,0 -3.5,0M152.8,661.0a1.75,1.75 0 1,0 3.5,0a1.75,1.75 0 1,0 -3.5,0M153.7,677.8a1.75,1.75 0 1,0 3.5,0a1.75,1.75 0 1,0 -3.5,0M168.3,686.2a1.75,1.75 0 1,0 3.5,0a1.75,1.75 0 1,0 -3.5,0M188.9,683.4a1.75,1.75 0 1,0 3.5,0a1.75,1.75 0 1,0 -3.5,0M171.7,680.7a1.75,1.75 0 1,0 3.5,0a1.75,1.75 0 1,0 -3.5,0M189.8,677.3a1.75,1.75 0 1,0 3.5,0a1.75,1.75 0 1,0 -3.5,0M165.0,681.7a1.75,1.75 0 1,0 3.5,0a1.75,1.75 0 1,0 -3.5,0M198.0,645.8a1.75,1.75 0 1,0 3.5,0a1.75,1.75 0 1,0 -3.5,0M154.9,677.3a1.75,1.75 0 1,0 3.5,0a1.75,1.75 0 1,0 -3.5,0M179.0,673.6a1.75,1.75 0 1,0 3.5,0a1.75,1.75 0 1,0 -3.5,0M196.5,660.4a1.75,1.75 0 1,0 3.5,0a1.75,1.75 0 1,0 -3.5,0M152.7,657.7a1.75,1.75 0 1,0 3.5,0a1.75,1.75 0 1,0 -3.5,0M165.1,661.2a1.75,1.75 0 1,0 3.5,0a1.75,1.75 0 1,0 -3.5,0M178.3,690.5a1.75,1.75 0 1,0 3.5,0a1.75,1.75 0 1,0 -3.5,0M168.0,651.7a1.75,1.75 0 1,0 3.5,0a1.75,1.75 0 1,0 -3.5,0M187.2,650.7a1.75,1.75 0 1,0 3.5,0a1.75,1.75 0 1,0 -3.5,0M164.0,689.1a1.75,1.75 0 1,0 3.5,0a1.75,1.75 0 1,0 -3.5,0M161.4,671.0a1.75,1.75 0 1,0 3.5,0a1.75,1.75 0 1,0 -3.5,0M188.8,660.0a1.75,1.75 0 1,0 3.5,0a1.75,1.75 0 1,0 -3.5,0M172.9,695.3a1.75,1.75 0 1,0 3.5,0a1.75,1.75 0 1,0 -3.5,0M165.3,673.1a1.75,1.75 0 1,0 3.5,0a1.75,1.75 0 1,0 -3.5,0M181.1,648.6a1.75,1.75 0 1,0 3.5,0a1.75,1.75 0 1,0 -3.5,0M186.0,653.4a1.75,1.75 0 1,0 3.5,0a1.75,1.75 0 1,0 -3.5,0M161.7,683.6a1.75,1.75 0 1,0 3.5,0a1.75,1.75 0 1,0 -3.5,0M161.0,675.9a1.75,1.75 0 1,0 3.5,0a1.75,1.75 0 1,0 -3.5,0M167.2,684.4a1.75,1.75 0 1,0 3.5,0a1.75,1.75 0 1,0 -3.5,0M180.5,680.6a1.75,1.75 0 1,0 3.5,0a1.75,1.75 0 1,0 -3.5,0M161.1,674.8a1.75,1.75 0 1,0 3.5,0a1.75,1.75 0 1,0 -3.5,0M170.6,688.0a1.75,1.75 0 1,0 3.5,0a1.75,1.75 0 1,0 -3.5,0M174.0,684.8a1.75,1.75 0 1,0 3.5,0a1.75,1.75 0 1,0 -3.5,0M185.6,668.3a1.75,1.75 0 1,0 3.5,0a1.75,1.75 0 1,0 -3.5,0M189.3,662.8a1.75,1.75 0 1,0 3.5,0a1.75,1.75 0 1,0 -3.5,0M187.1,668.2a1.75,1.75 0 1,0 3.5,0a1.75,1.75 0 1,0 -3.5,0M191.6,681.0a1.75,1.75 0 1,0 3.5,0a1.75,1.75 0 1,0 -3.5,0M166.3,666.3a1.75,1.75 0 1,0 3.5,0a1.75,1.75 0 1,0 -3.5,0M174.9,696.2a1.75,1.75 0 1,0 3.5,0a1.75,1.75 0 1,0 -3.5,0M185.3,666.8a1.75,1.75 0 1,0 3.5,0a1.75,1.75 0 1,0 -3.5,0M201.1,658.2a1.75,1.75 0 1,0 3.5,0a1.75,1.75 0 1,0 -3.5,0M179.9,683.9a1.75,1.75 0 1,0 3.5,0a1.75,1.75 0 1,0 -3.5,0M192.2,660.3a1.75,1.75 0 1,0 3.5,0a1.75,1.75 0 1,0 -3.5,0M180.0,692.3a1.75,1.75 0 1,0 3.5,0a1.75,1.75 0 1,0 -3.5,0M166.7,692.0a1.75,1.75 0 1,0 3.5,0a1.75,1.75 0 1,0 -3.5,0M187.5,683.3a1.75,1.75 0 1,0 3.5,0a1.75,1.75 0 1,0 -3.5,0M152.3,669.7a1.75,1.75 0 1,0 3.5,0a1.75,1.75 0 1,0 -3.5,0M161.9,673.1a1.75,1.75 0 1,0 3.5,0a1.75,1.75 0 1,0 -3.5,0M201.4,647.1a1.75,1.75 0 1,0 3.5,0a1.75,1.75 0 1,0 -3.5,0M178.5,687.9a1.75,1.75 0 1,0 3.5,0a1.75,1.75 0 1,0 -3.5,0M180.7,683.6a1.75,1.75 0 1,0 3.5,0a1.75,1.75 0 1,0 -3.5,0M154.3,669.1a1.75,1.75 0 1,0 3.5,0a1.75,1.75 0 1,0 -3.5,0M165.3,675.1a1.75,1.75 0 1,0 3.5,0a1.75,1.75 0 1,0 -3.5,0M164.6,651.9a1.75,1.75 0 1,0 3.5,0a1.75,1.75 0 1,0 -3.5,0M200.2,654.9a1.75,1.75 0 1,0 3.5,0a1.75,1.75 0 1,0 -3.5,0M168.2,656.7a1.75,1.75 0 1,0 3.5,0a1.75,1.75 0 1,0 -3.5,0M162.4,673.1a1.75,1.75 0 1,0 3.5,0a1.75,1.75 0 1,0 -3.5,0M177.4,670.7a1.75,1.75 0 1,0 3.5,0a1.75,1.75 0 1,0 -3.5,0M202.0,648.0a1.75,1.75 0 1,0 3.5,0a1.75,1.75 0 1,0 -3.5,0M156.9,672.9a1.75,1.75 0 1,0 3.5,0a1.75,1.75 0 1,0 -3.5,0M172.4,695.6a1.75,1.75 0 1,0 3.5,0a1.75,1.75 0 1,0 -3.5,0M174.2,682.6a1.75,1.75 0 1,0 3.5,0a1.75,1.75 0 1,0 -3.5,0M167.4,658.6a1.75,1.75 0 1,0 3.5,0a1.75,1.75 0 1,0 -3.5,0M168.0,670.0a1.75,1.75 0 1,0 3.5,0a1.75,1.75 0 1,0 -3.5,0M169.6,658.1a1.75,1.75 0 1,0 3.5,0a1.75,1.75 0 1,0 -3.5,0M184.5,667.7a1.75,1.75 0 1,0 3.5,0a1.75,1.75 0 1,0 -3.5,0M146.0,655.5a1.75,1.75 0 1,0 3.5,0a1.75,1.75 0 1,0 -3.5,0M162.3,688.0a1.75,1.75 0 1,0 3.5,0a1.75,1.75 0 1,0 -3.5,0M176.9,677.7a1.75,1.75 0 1,0 3.5,0a1.75,1.75 0 1,0 -3.5,0M172.0,695.2a1.75,1.75 0 1,0 3.5,0a1.75,1.75 0 1,0 -3.5,0M166.3,690.7a1.75,1.75 0 1,0 3.5,0a1.75,1.75 0 1,0 -3.5,0M183.9,654.2a1.75,1.75 0 1,0 3.5,0a1.75,1.75 0 1,0 -3.5,0M180.0,653.9a1.75,1.75 0 1,0 3.5,0a1.75,1.75 0 1,0 -3.5,0M159.0,679.9a1.75,1.75 0 1,0 3.5,0a1.75,1.75 0 1,0 -3.5,0M172.3,685.8a1.75,1.75 0 1,0 3.5,0a1.75,1.75 0 1,0 -3.5,0M169.5,694.8a1.75,1.75 0 1,0 3.5,0a1.75,1.75 0 1,0 -3.5,0M182.1,649.5a1.75,1.75 0 1,0 3.5,0a1.75,1.75 0 1,0 -3.5,0M168.8,658.6a1.75,1.75 0 1,0 3.5,0a1.75,1.75 0 1,0 -3.5,0M171.7,691.8a1.75,1.75 0 1,0 3.5,0a1.75,1.75 0 1,0 -3.5,0M151.4,648.1a1.75,1.75 0 1,0 3.5,0a1.75,1.75 0 1,0 -3.5,0M187.5,673.8a1.75,1.75 0 1,0 3.5,0a1.75,1.75 0 1,0 -3.5,0M173.8,684.1a1.75,1.75 0 1,0 3.5,0a1.75,1.75 0 1,0 -3.5,0M151.7,657.7a1.75,1.75 0 1,0 3.5,0a1.75,1.75 0 1,0 -3.5,0M156.0,656.8a1.75,1.75 0 1,0 3.5,0a1.75,1.75 0 1,0 -3.5,0M173.0,691.7a1.75,1.75 0 1,0 3.5,0a1.75,1.75 0 1,0 -3.5,0M183.1,651.4a1.75,1.75 0 1,0 3.5,0a1.75,1.75 0 1,0 -3.5,0M149.2,668.8a1.75,1.75 0 1,0 3.5,0a1.75,1.75 0 1,0 -3.5,0M178.2,695.4a1.75,1.75 0 1,0 3.5,0a1.75,1.75 0 1,0 -3.5,0M193.8,658.9a1.75,1.75 0 1,0 3.5,0a1.75,1.75 0 1,0 -3.5,0M183.6,668.7a1.75,1.75 0 1,0 3.5,0a1.75,1.75 0 1,0 -3.5,0M184.2,678.8a1.75,1.75 0 1,0 3.5,0a1.75,1.75 0 1,0 -3.5,0M155.3,667.9a1.75,1.75 0 1,0 3.5,0a1.75,1.75 0 1,0 -3.5,0M172.9,686.5a1.75,1.75 0 1,0 3.5,0a1.75,1.75 0 1,0 -3.5,0M188.1,668.0a1.75,1.75 0 1,0 3.5,0a1.75,1.75 0 1,0 -3.5,0M193.6,680.4a1.75,1.75 0 1,0 3.5,0a1.75,1.75 0 1,0 -3.5,0M182.0,665.2a1.75,1.75 0 1,0 3.5,0a1.75,1.75 0 1,0 -3.5,0M149.5,649.7a1.75,1.75 0 1,0 3.5,0a1.75,1.75 0 1,0 -3.5,0M161.2,658.4a1.75,1.75 0 1,0 3.5,0a1.75,1.75 0 1,0 -3.5,0M159.9,668.2a1.75,1.75 0 1,0 3.5,0a1.75,1.75 0 1,0 -3.5,0M173.7,693.2a1.75,1.75 0 1,0 3.5,0a1.75,1.75 0 1,0 -3.5,0M196.3,665.0a1.75,1.75 0 1,0 3.5,0a1.75,1.75 0 1,0 -3.5,0M183.0,686.0a1.75,1.75 0 1,0 3.5,0a1.75,1.75 0 1,0 -3.5,0M179.1,692.1a1.75,1.75 0 1,0 3.5,0a1.75,1.75 0 1,0 -3.5,0M200.6,661.0a1.75,1.75 0 1,0 3.5,0a1.75,1.75 0 1,0 -3.5,0M199.0,646.8a1.75,1.75 0 1,0 3.5,0a1.75,1.75 0 1,0 -3.5,0M165.7,666.9a1.75,1.75 0 1,0 3.5,0a1.75,1.75 0 1,0 -3.5,0M169.5,669.7a1.75,1.75 0 1,0 3.5,0a1.75,1.75 0 1,0 -3.5,0M182.3,689.3a1.75,1.75 0 1,0 3.5,0a1.75,1.75 0 1,0 -3.5,0M165.0,683.5a1.75,1.75 0 1,0 3.5,0a1.75,1.75 0 1,0 -3.5,0M151.3,667.9a1.75,1.75 0 1,0 3.5,0a1.75,1.75 0 1,0 -3.5,0M157.8,683.3a1.75,1.75 0 1,0 3.5,0a1.75,1.75 0 1,0 -3.5,0M154.9,665.7a1.75,1.75 0 1,0 3.5,0a1.75,1.75 0 1,0 -3.5,0M185.3,688.9a1.75,1.75 0 1,0 3.5,0a1.75,1.75 0 1,0 -3.5,0M195.8,660.2a1.75,1.75 0 1,0 3.5,0a1.75,1.75 0 1,0 -3.5,0M187.3,654.5a1.75,1.75 0 1,0 3.5,0a1.75,1.75 0 1,0 -3.5,0M171.5,658.2a1.75,1.75 0 1,0 3.5,0a1.75,1.75 0 1,0 -3.5,0M167.9,676.6a1.75,1.75 0 1,0 3.5,0a1.75,1.75 0 1,0 -3.5,0M180.0,655.6a1.75,1.75 0 1,0 3.5,0a1.75,1.75 0 1,0 -3.5,0M189.9,686.0a1.75,1.75 0 1,0 3.5,0a1.75,1.75 0 1,0 -3.5,0M160.3,661.9a1.75,1.75 0 1,0 3.5,0a1.75,1.75 0 1,0 -3.5,0M155.5,649.4a1.75,1.75 0 1,0 3.5,0a1.75,1.75 0 1,0 -3.5,0M158.4,646.8a1.75,1.75 0 1,0 3.5,0a1.75,1.75 0 1,0 -3.5,0M160.0,682.5a1.75,1.75 0 1,0 3.5,0a1.75,1.75 0 1,0 -3.5,0M165.8,678.4a1.75,1.75 0 1,0 3.5,0a1.75,1.75 0 1,0 -3.5,0M171.9,667.7a1.75,1.75 0 1,0 3.5,0a1.75,1.75 0 1,0 -3.5,0M178.7,651.5a1.75,1.75 0 1,0 3.5,0a1.75,1.75 0 1,0 -3.5,0M164.4,691.5a1.75,1.75 0 1,0 3.5,0a1.75,1.75 0 1,0 -3.5,0M180.0,649.6a1.75,1.75 0 1,0 3.5,0a1.75,1.75 0 1,0 -3.5,0M160.0,661.7a1.75,1.75 0 1,0 3.5,0a1.75,1.75 0 1,0 -3.5,0M173.7,695.8a1.75,1.75 0 1,0 3.5,0a1.75,1.75 0 1,0 -3.5,0M176.9,692.4a1.75,1.75 0 1,0 3.5,0a1.75,1.75 0 1,0 -3.5,0M159.4,647.0a1.75,1.75 0 1,0 3.5,0a1.75,1.75 0 1,0 -3.5,0M177.1,649.3a1.75,1.75 0 1,0 3.5,0a1.75,1.75 0 1,0 -3.5,0M165.7,691.8a1.75,1.75 0 1,0 3.5,0a1.75,1.75 0 1,0 -3.5,0M143.8,646.9a1.75,1.75 0 1,0 3.5,0a1.75,1.75 0 1,0 -3.5,0M154.4,659.4a1.75,1.75 0 1,0 3.5,0a1.75,1.75 0 1,0 -3.5,0M177.6,694.8a1.75,1.75 0 1,0 3.5,0a1.75,1.75 0 1,0 -3.5,0M176.0,693.4a1.75,1.75 0 1,0 3.5,0a1.75,1.75 0 1,0 -3.5,0M180.7,687.3a1.75,1.75 0 1,0 3.5,0a1.75,1.75 0 1,0 -3.5,0M183.4,660.4a1.75,1.75 0 1,0 3.5,0a1.75,1.75 0 1,0 -3.5,0M172.7,660.2a1.75,1.75 0 1,0 3.5,0a1.75,1.75 0 1,0 -3.5,0M166.4,687.4a1.75,1.75 0 1,0 3.5,0a1.75,1.75 0 1,0 -3.5,0M195.6,654.4a1.75,1.75 0 1,0 3.5,0a1.75,1.75 0 1,0 -3.5,0M157.1,669.1a1.75,1.75 0 1,0 3.5,0a1.75,1.75 0 1,0 -3.5,0M161.7,661.7a1.75,1.75 0 1,0 3.5,0a1.75,1.75 0 1,0 -3.5,0M174.3,691.2a1.75,1.75 0 1,0 3.5,0a1.75,1.75 0 1,0 -3.5,0M174.3,692.4a1.75,1.75 0 1,0 3.5,0a1.75,1.75 0 1,0 -3.5,0M181.0,693.4a1.75,1.75 0 1,0 3.5,0a1.75,1.75 0 1,0 -3.5,0M187.8,674.4a1.75,1.75 0 1,0 3.5,0a1.75,1.75 0 1,0 -3.5,0M151.4,660.1a1.75,1.75 0 1,0 3.5,0a1.75,1.75 0 1,0 -3.5,0M154.0,676.3a1.75,1.75 0 1,0 3.5,0a1.75,1.75 0 1,0 -3.5,0M180.9,669.3a1.75,1.75 0 1,0 3.5,0a1.75,1.75 0 1,0 -3.5,0M187.7,684.6a1.75,1.75 0 1,0 3.5,0a1.75,1.75 0 1,0 -3.5,0M196.2,655.9a1.75,1.75 0 1,0 3.5,0a1.75,1.75 0 1,0 -3.5,0M180.8,670.8a1.75,1.75 0 1,0 3.5,0a1.75,1.75 0 1,0 -3.5,0M192.3,669.0a1.75,1.75 0 1,0 3.5,0a1.75,1.75 0 1,0 -3.5,0M145.1,660.8a1.75,1.75 0 1,0 3.5,0a1.75,1.75 0 1,0 -3.5,0M179.3,687.7a1.75,1.75 0 1,0 3.5,0a1.75,1.75 0 1,0 -3.5,0M160.1,682.0a1.75,1.75 0 1,0 3.5,0a1.75,1.75 0 1,0 -3.5,0M182.2,656.0a1.75,1.75 0 1,0 3.5,0a1.75,1.75 0 1,0 -3.5,0M180.3,683.6a1.75,1.75 0 1,0 3.5,0a1.75,1.75 0 1,0 -3.5,0M181.6,675.9a1.75,1.75 0 1,0 3.5,0a1.75,1.75 0 1,0 -3.5,0M171.7,653.0a1.75,1.75 0 1,0 3.5,0a1.75,1.75 0 1,0 -3.5,0M187.9,662.3a1.75,1.75 0 1,0 3.5,0a1.75,1.75 0 1,0 -3.5,0M185.4,671.8a1.75,1.75 0 1,0 3.5,0a1.75,1.75 0 1,0 -3.5,0M190.2,680.9a1.75,1.75 0 1,0 3.5,0a1.75,1.75 0 1,0 -3.5,0M162.9,689.1a1.75,1.75 0 1,0 3.5,0a1.75,1.75 0 1,0 -3.5,0M169.4,679.5a1.75,1.75 0 1,0 3.5,0a1.75,1.75 0 1,0 -3.5,0M182.5,688.5a1.75,1.75 0 1,0 3.5,0a1.75,1.75 0 1,0 -3.5,0M155.5,650.9a1.75,1.75 0 1,0 3.5,0a1.75,1.75 0 1,0 -3.5,0M192.5,680.9a1.75,1.75 0 1,0 3.5,0a1.75,1.75 0 1,0 -3.5,0M147.9,649.4a1.75,1.75 0 1,0 3.5,0a1.75,1.75 0 1,0 -3.5,0M179.2,680.9a1.75,1.75 0 1,0 3.5,0a1.75,1.75 0 1,0 -3.5,0M165.4,686.8a1.75,1.75 0 1,0 3.5,0a1.75,1.75 0 1,0 -3.5,0M189.5,670.7a1.75,1.75 0 1,0 3.5,0a1.75,1.75 0 1,0 -3.5,0M169.1,665.0a1.75,1.75 0 1,0 3.5,0a1.75,1.75 0 1,0 -3.5,0M193.0,647.1a1.75,1.75 0 1,0 3.5,0a1.75,1.75 0 1,0 -3.5,0M168.1,668.2a1.75,1.75 0 1,0 3.5,0a1.75,1.75 0 1,0 -3.5,0M189.1,678.9a1.75,1.75 0 1,0 3.5,0a1.75,1.75 0 1,0 -3.5,0M170.8,689.6a1.75,1.75 0 1,0 3.5,0a1.75,1.75 0 1,0 -3.5,0M169.6,676.5a1.75,1.75 0 1,0 3.5,0a1.75,1.75 0 1,0 -3.5,0M182.6,688.2a1.75,1.75 0 1,0 3.5,0a1.75,1.75 0 1,0 -3.5,0M187.8,679.2a1.75,1.75 0 1,0 3.5,0a1.75,1.75 0 1,0 -3.5,0M178.3,671.5a1.75,1.75 0 1,0 3.5,0a1.75,1.75 0 1,0 -3.5,0M187.2,653.8a1.75,1.75 0 1,0 3.5,0a1.75,1.75 0 1,0 -3.5,0M178.3,660.2a1.75,1.75 0 1,0 3.5,0a1.75,1.75 0 1,0 -3.5,0M168.1,645.6a1.75,1.75 0 1,0 3.5,0a1.75,1.75 0 1,0 -3.5,0M180.4,676.9a1.75,1.75 0 1,0 3.5,0a1.75,1.75 0 1,0 -3.5,0M162.7,674.2a1.75,1.75 0 1,0 3.5,0a1.75,1.75 0 1,0 -3.5,0M181.4,678.8a1.75,1.75 0 1,0 3.5,0a1.75,1.75 0 1,0 -3.5,0M169.0,675.5a1.75,1.75 0 1,0 3.5,0a1.75,1.75 0 1,0 -3.5,0M178.2,653.2a1.75,1.75 0 1,0 3.5,0a1.75,1.75 0 1,0 -3.5,0M200.1,648.1a1.75,1.75 0 1,0 3.5,0a1.75,1.75 0 1,0 -3.5,0M162.1,663.4a1.75,1.75 0 1,0 3.5,0a1.75,1.75 0 1,0 -3.5,0M153.1,668.4a1.75,1.75 0 1,0 3.5,0a1.75,1.75 0 1,0 -3.5,0M185.3,690.6a1.75,1.75 0 1,0 3.5,0a1.75,1.75 0 1,0 -3.5,0M176.9,687.4a1.75,1.75 0 1,0 3.5,0a1.75,1.75 0 1,0 -3.5,0M172.2,693.4a1.75,1.75 0 1,0 3.5,0a1.75,1.75 0 1,0 -3.5,0M157.0,669.2a1.75,1.75 0 1,0 3.5,0a1.75,1.75 0 1,0 -3.5,0M197.0,667.1a1.75,1.75 0 1,0 3.5,0a1.75,1.75 0 1,0 -3.5,0M176.7,679.3a1.75,1.75 0 1,0 3.5,0a1.75,1.75 0 1,0 -3.5,0M181.2,672.8a1.75,1.75 0 1,0 3.5,0a1.75,1.75 0 1,0 -3.5,0M172.6,676.6a1.75,1.75 0 1,0 3.5,0a1.75,1.75 0 1,0 -3.5,0M154.1,671.5a1.75,1.75 0 1,0 3.5,0a1.75,1.75 0 1,0 -3.5,0M183.8,668.1a1.75,1.75 0 1,0 3.5,0a1.75,1.75 0 1,0 -3.5,0M160.9,656.9a1.75,1.75 0 1,0 3.5,0a1.75,1.75 0 1,0 -3.5,0M163.3,686.5a1.75,1.75 0 1,0 3.5,0a1.75,1.75 0 1,0 -3.5,0M193.5,655.4a1.75,1.75 0 1,0 3.5,0a1.75,1.75 0 1,0 -3.5,0M161.9,651.6a1.75,1.75 0 1,0 3.5,0a1.75,1.75 0 1,0 -3.5,0M173.1,691.9a1.75,1.75 0 1,0 3.5,0a1.75,1.75 0 1,0 -3.5,0M182.3,687.2a1.75,1.75 0 1,0 3.5,0a1.75,1.75 0 1,0 -3.5,0M156.4,646.5a1.75,1.75 0 1,0 3.5,0a1.75,1.75 0 1,0 -3.5,0M171.3,692.0a1.75,1.75 0 1,0 3.5,0a1.75,1.75 0 1,0 -3.5,0M197.7,666.1a1.75,1.75 0 1,0 3.5,0a1.75,1.75 0 1,0 -3.5,0M203.2,651.1a1.75,1.75 0 1,0 3.5,0a1.75,1.75 0 1,0 -3.5,0M180.1,678.4a1.75,1.75 0 1,0 3.5,0a1.75,1.75 0 1,0 -3.5,0M182.8,645.5a1.75,1.75 0 1,0 3.5,0a1.75,1.75 0 1,0 -3.5,0M171.7,687.4a1.75,1.75 0 1,0 3.5,0a1.75,1.75 0 1,0 -3.5,0M150.7,649.2a1.75,1.75 0 1,0 3.5,0a1.75,1.75 0 1,0 -3.5,0M169.3,649.4a1.75,1.75 0 1,0 3.5,0a1.75,1.75 0 1,0 -3.5,0M161.3,687.1a1.75,1.75 0 1,0 3.5,0a1.75,1.75 0 1,0 -3.5,0M169.2,666.2a1.75,1.75 0 1,0 3.5,0a1.75,1.75 0 1,0 -3.5,0M176.3,665.8a1.75,1.75 0 1,0 3.5,0a1.75,1.75 0 1,0 -3.5,0M159.8,672.8a1.75,1.75 0 1,0 3.5,0a1.75,1.75 0 1,0 -3.5,0M175.4,686.0a1.75,1.75 0 1,0 3.5,0a1.75,1.75 0 1,0 -3.5,0M200.1,663.4a1.75,1.75 0 1,0 3.5,0a1.75,1.75 0 1,0 -3.5,0M161.4,681.5a1.75,1.75 0 1,0 3.5,0a1.75,1.75 0 1,0 -3.5,0M175.6,694.9a1.75,1.75 0 1,0 3.5,0a1.75,1.75 0 1,0 -3.5,0M159.3,662.8a1.75,1.75 0 1,0 3.5,0a1.75,1.75 0 1,0 -3.5,0M158.1,648.9a1.75,1.75 0 1,0 3.5,0a1.75,1.75 0 1,0 -3.5,0M165.4,660.2a1.75,1.75 0 1,0 3.5,0a1.75,1.75 0 1,0 -3.5,0M175.4,695.8a1.75,1.75 0 1,0 3.5,0a1.75,1.75 0 1,0 -3.5,0M166.6,655.3a1.75,1.75 0 1,0 3.5,0a1.75,1.75 0 1,0 -3.5,0M151.7,667.5a1.75,1.75 0 1,0 3.5,0a1.75,1.75 0 1,0 -3.5,0M175.3,669.3a1.75,1.75 0 1,0 3.5,0a1.75,1.75 0 1,0 -3.5,0M173.5,691.9a1.75,1.75 0 1,0 3.5,0a1.75,1.75 0 1,0 -3.5,0M181.7,680.6a1.75,1.75 0 1,0 3.5,0a1.75,1.75 0 1,0 -3.5,0M178.8,654.4a1.75,1.75 0 1,0 3.5,0a1.75,1.75 0 1,0 -3.5,0M156.3,668.4a1.75,1.75 0 1,0 3.5,0a1.75,1.75 0 1,0 -3.5,0M205.1,646.7a1.75,1.75 0 1,0 3.5,0a1.75,1.75 0 1,0 -3.5,0M198.2,650.1a1.75,1.75 0 1,0 3.5,0a1.75,1.75 0 1,0 -3.5,0M150.5,664.2a1.75,1.75 0 1,0 3.5,0a1.75,1.75 0 1,0 -3.5,0M176.5,694.7a1.75,1.75 0 1,0 3.5,0a1.75,1.75 0 1,0 -3.5,0M192.6,666.1a1.75,1.75 0 1,0 3.5,0a1.75,1.75 0 1,0 -3.5,0M171.5,681.6a1.75,1.75 0 1,0 3.5,0a1.75,1.75 0 1,0 -3.5,0M183.5,682.1a1.75,1.75 0 1,0 3.5,0a1.75,1.75 0 1,0 -3.5,0M187.6,654.2a1.75,1.75 0 1,0 3.5,0a1.75,1.75 0 1,0 -3.5,0M178.2,692.2a1.75,1.75 0 1,0 3.5,0a1.75,1.75 0 1,0 -3.5,0M189.5,686.2a1.75,1.75 0 1,0 3.5,0a1.75,1.75 0 1,0 -3.5,0M173.9,686.1a1.75,1.75 0 1,0 3.5,0a1.75,1.75 0 1,0 -3.5,0M187.0,674.1a1.75,1.75 0 1,0 3.5,0a1.75,1.75 0 1,0 -3.5,0M155.5,677.7a1.75,1.75 0 1,0 3.5,0a1.75,1.75 0 1,0 -3.5,0M159.9,648.5a1.75,1.75 0 1,0 3.5,0a1.75,1.75 0 1,0 -3.5,0M166.3,687.2a1.75,1.75 0 1,0 3.5,0a1.75,1.75 0 1,0 -3.5,0M192.8,661.7a1.75,1.75 0 1,0 3.5,0a1.75,1.75 0 1,0 -3.5,0M160.6,652.0a1.75,1.75 0 1,0 3.5,0a1.75,1.75 0 1,0 -3.5,0M146.8,658.5a1.75,1.75 0 1,0 3.5,0a1.75,1.75 0 1,0 -3.5,0M168.2,683.3a1.75,1.75 0 1,0 3.5,0a1.75,1.75 0 1,0 -3.5,0M165.4,666.2a1.75,1.75 0 1,0 3.5,0a1.75,1.75 0 1,0 -3.5,0M195.8,648.8a1.75,1.75 0 1,0 3.5,0a1.75,1.75 0 1,0 -3.5,0M161.0,652.3a1.75,1.75 0 1,0 3.5,0a1.75,1.75 0 1,0 -3.5,0M168.9,682.2a1.75,1.75 0 1,0 3.5,0a1.75,1.75 0 1,0 -3.5,0M166.0,671.3a1.75,1.75 0 1,0 3.5,0a1.75,1.75 0 1,0 -3.5,0M165.8,674.0a1.75,1.75 0 1,0 3.5,0a1.75,1.75 0 1,0 -3.5,0M148.0,668.7a1.75,1.75 0 1,0 3.5,0a1.75,1.75 0 1,0 -3.5,0M189.0,687.1a1.75,1.75 0 1,0 3.5,0a1.75,1.75 0 1,0 -3.5,0M175.6,686.4a1.75,1.75 0 1,0 3.5,0a1.75,1.75 0 1,0 -3.5,0M181.9,678.3a1.75,1.75 0 1,0 3.5,0a1.75,1.75 0 1,0 -3.5,0M192.2,682.7a1.75,1.75 0 1,0 3.5,0a1.75,1.75 0 1,0 -3.5,0M171.7,663.0a1.75,1.75 0 1,0 3.5,0a1.75,1.75 0 1,0 -3.5,0M165.1,685.2a1.75,1.75 0 1,0 3.5,0a1.75,1.75 0 1,0 -3.5,0M198.9,650.4a1.75,1.75 0 1,0 3.5,0a1.75,1.75 0 1,0 -3.5,0M198.9,646.3a1.75,1.75 0 1,0 3.5,0a1.75,1.75 0 1,0 -3.5,0M168.3,692.1a1.75,1.75 0 1,0 3.5,0a1.75,1.75 0 1,0 -3.5,0M167.2,684.0a1.75,1.75 0 1,0 3.5,0a1.75,1.75 0 1,0 -3.5,0M202.3,659.3a1.75,1.75 0 1,0 3.5,0a1.75,1.75 0 1,0 -3.5,0M180.5,690.7a1.75,1.75 0 1,0 3.5,0a1.75,1.75 0 1,0 -3.5,0M199.8,667.7a1.75,1.75 0 1,0 3.5,0a1.75,1.75 0 1,0 -3.5,0M196.5,674.6a1.75,1.75 0 1,0 3.5,0a1.75,1.75 0 1,0 -3.5,0M157.2,682.3a1.75,1.75 0 1,0 3.5,0a1.75,1.75 0 1,0 -3.5,0M185.0,686.2a1.75,1.75 0 1,0 3.5,0a1.75,1.75 0 1,0 -3.5,0M177.5,690.4a1.75,1.75 0 1,0 3.5,0a1.75,1.75 0 1,0 -3.5,0M197.2,647.4a1.75,1.75 0 1,0 3.5,0a1.75,1.75 0 1,0 -3.5,0M157.8,667.0a1.75,1.75 0 1,0 3.5,0a1.75,1.75 0 1,0 -3.5,0M156.0,656.1a1.75,1.75 0 1,0 3.5,0a1.75,1.75 0 1,0 -3.5,0M161.7,687.1a1.75,1.75 0 1,0 3.5,0a1.75,1.75 0 1,0 -3.5,0M165.6,692.3a1.75,1.75 0 1,0 3.5,0a1.75,1.75 0 1,0 -3.5,0M164.4,682.3a1.75,1.75 0 1,0 3.5,0a1.75,1.75 0 1,0 -3.5,0M158.1,671.7a1.75,1.75 0 1,0 3.5,0a1.75,1.75 0 1,0 -3.5,0M167.4,691.3a1.75,1.75 0 1,0 3.5,0a1.75,1.75 0 1,0 -3.5,0M180.3,669.3a1.75,1.75 0 1,0 3.5,0a1.75,1.75 0 1,0 -3.5,0M159.3,668.6a1.75,1.75 0 1,0 3.5,0a1.75,1.75 0 1,0 -3.5,0M199.3,660.2a1.75,1.75 0 1,0 3.5,0a1.75,1.75 0 1,0 -3.5,0M143.6,651.8a1.75,1.75 0 1,0 3.5,0a1.75,1.75 0 1,0 -3.5,0M182.1,691.8a1.75,1.75 0 1,0 3.5,0a1.75,1.75 0 1,0 -3.5,0M173.7,680.4a1.75,1.75 0 1,0 3.5,0a1.75,1.75 0 1,0 -3.5,0M173.6,694.0a1.75,1.75 0 1,0 3.5,0a1.75,1.75 0 1,0 -3.5,0M170.6,646.1a1.75,1.75 0 1,0 3.5,0a1.75,1.75 0 1,0 -3.5,0M177.1,672.4a1.75,1.75 0 1,0 3.5,0a1.75,1.75 0 1,0 -3.5,0M164.9,690.8a1.75,1.75 0 1,0 3.5,0a1.75,1.75 0 1,0 -3.5,0M175.4,689.0a1.75,1.75 0 1,0 3.5,0a1.75,1.75 0 1,0 -3.5,0M171.6,682.8a1.75,1.75 0 1,0 3.5,0a1.75,1.75 0 1,0 -3.5,0M164.9,660.6a1.75,1.75 0 1,0 3.5,0a1.75,1.75 0 1,0 -3.5,0M172.0,659.5a1.75,1.75 0 1,0 3.5,0a1.75,1.75 0 1,0 -3.5,0M189.3,676.0a1.75,1.75 0 1,0 3.5,0a1.75,1.75 0 1,0 -3.5,0M171.7,654.4a1.75,1.75 0 1,0 3.5,0a1.75,1.75 0 1,0 -3.5,0M189.8,672.6a1.75,1.75 0 1,0 3.5,0a1.75,1.75 0 1,0 -3.5,0M179.4,681.7a1.75,1.75 0 1,0 3.5,0a1.75,1.75 0 1,0 -3.5,0M172.7,679.9a1.75,1.75 0 1,0 3.5,0a1.75,1.75 0 1,0 -3.5,0M184.7,686.6a1.75,1.75 0 1,0 3.5,0a1.75,1.75 0 1,0 -3.5,0M156.1,674.3a1.75,1.75 0 1,0 3.5,0a1.75,1.75 0 1,0 -3.5,0M161.7,667.2a1.75,1.75 0 1,0 3.5,0a1.75,1.75 0 1,0 -3.5,0M161.9,655.2a1.75,1.75 0 1,0 3.5,0a1.75,1.75 0 1,0 -3.5,0M170.2,687.2a1.75,1.75 0 1,0 3.5,0a1.75,1.75 0 1,0 -3.5,0M168.3,667.4a1.75,1.75 0 1,0 3.5,0a1.75,1.75 0 1,0 -3.5,0M179.0,654.9a1.75,1.75 0 1,0 3.5,0a1.75,1.75 0 1,0 -3.5,0M197.6,666.7a1.75,1.75 0 1,0 3.5,0a1.75,1.75 0 1,0 -3.5,0M195.2,677.0a1.75,1.75 0 1,0 3.5,0a1.75,1.75 0 1,0 -3.5,0M174.6,689.3a1.75,1.75 0 1,0 3.5,0a1.75,1.75 0 1,0 -3.5,0M155.9,646.3a1.75,1.75 0 1,0 3.5,0a1.75,1.75 0 1,0 -3.5,0M189.1,651.5a1.75,1.75 0 1,0 3.5,0a1.75,1.75 0 1,0 -3.5,0M183.5,652.5a1.75,1.75 0 1,0 3.5,0a1.75,1.75 0 1,0 -3.5,0M173.7,661.9a1.75,1.75 0 1,0 3.5,0a1.75,1.75 0 1,0 -3.5,0M167.6,684.1a1.75,1.75 0 1,0 3.5,0a1.75,1.75 0 1,0 -3.5,0M161.3,654.2a1.75,1.75 0 1,0 3.5,0a1.75,1.75 0 1,0 -3.5,0M175.6,693.6a1.75,1.75 0 1,0 3.5,0a1.75,1.75 0 1,0 -3.5,0M153.2,660.1a1.75,1.75 0 1,0 3.5,0a1.75,1.75 0 1,0 -3.5,0M164.0,648.9a1.75,1.75 0 1,0 3.5,0a1.75,1.75 0 1,0 -3.5,0M172.9,676.8a1.75,1.75 0 1,0 3.5,0a1.75,1.75 0 1,0 -3.5,0M189.1,686.9a1.75,1.75 0 1,0 3.5,0a1.75,1.75 0 1,0 -3.5,0M167.3,674.5a1.75,1.75 0 1,0 3.5,0a1.75,1.75 0 1,0 -3.5,0M161.4,686.0a1.75,1.75 0 1,0 3.5,0a1.75,1.75 0 1,0 -3.5,0M187.5,684.2a1.75,1.75 0 1,0 3.5,0a1.75,1.75 0 1,0 -3.5,0M161.0,685.0a1.75,1.75 0 1,0 3.5,0a1.75,1.75 0 1,0 -3.5,0M188.3,675.1a1.75,1.75 0 1,0 3.5,0a1.75,1.75 0 1,0 -3.5,0M192.8,666.5a1.75,1.75 0 1,0 3.5,0a1.75,1.75 0 1,0 -3.5,0M176.6,653.9a1.75,1.75 0 1,0 3.5,0a1.75,1.75 0 1,0 -3.5,0M188.0,673.9a1.75,1.75 0 1,0 3.5,0a1.75,1.75 0 1,0 -3.5,0M161.2,666.5a1.75,1.75 0 1,0 3.5,0a1.75,1.75 0 1,0 -3.5,0M159.6,681.8a1.75,1.75 0 1,0 3.5,0a1.75,1.75 0 1,0 -3.5,0M173.0,664.2a1.75,1.75 0 1,0 3.5,0a1.75,1.75 0 1,0 -3.5,0M172.3,685.6a1.75,1.75 0 1,0 3.5,0a1.75,1.75 0 1,0 -3.5,0M183.0,674.1a1.75,1.75 0 1,0 3.5,0a1.75,1.75 0 1,0 -3.5,0M192.9,679.9a1.75,1.75 0 1,0 3.5,0a1.75,1.75 0 1,0 -3.5,0M178.5,669.1a1.75,1.75 0 1,0 3.5,0a1.75,1.75 0 1,0 -3.5,0M154.5,646.4a1.75,1.75 0 1,0 3.5,0a1.75,1.75 0 1,0 -3.5,0M156.9,658.1a1.75,1.75 0 1,0 3.5,0a1.75,1.75 0 1,0 -3.5,0M159.3,671.9a1.75,1.75 0 1,0 3.5,0a1.75,1.75 0 1,0 -3.5,0M189.6,674.5a1.75,1.75 0 1,0 3.5,0a1.75,1.75 0 1,0 -3.5,0M158.0,649.2a1.75,1.75 0 1,0 3.5,0a1.75,1.75 0 1,0 -3.5,0M150.9,670.8a1.75,1.75 0 1,0 3.5,0a1.75,1.75 0 1,0 -3.5,0M179.3,652.8a1.75,1.75 0 1,0 3.5,0a1.75,1.75 0 1,0 -3.5,0M196.1,665.8a1.75,1.75 0 1,0 3.5,0a1.75,1.75 0 1,0 -3.5,0M186.5,674.6a1.75,1.75 0 1,0 3.5,0a1.75,1.75 0 1,0 -3.5,0M167.6,663.1a1.75,1.75 0 1,0 3.5,0a1.75,1.75 0 1,0 -3.5,0M177.7,689.0a1.75,1.75 0 1,0 3.5,0a1.75,1.75 0 1,0 -3.5,0M170.0,692.1a1.75,1.75 0 1,0 3.5,0a1.75,1.75 0 1,0 -3.5,0M185.5,651.3a1.75,1.75 0 1,0 3.5,0a1.75,1.75 0 1,0 -3.5,0M147.4,651.8a1.75,1.75 0 1,0 3.5,0a1.75,1.75 0 1,0 -3.5,0M184.7,665.4a1.75,1.75 0 1,0 3.5,0a1.75,1.75 0 1,0 -3.5,0M188.5,663.8a1.75,1.75 0 1,0 3.5,0a1.75,1.75 0 1,0 -3.5,0M163.1,668.7a1.75,1.75 0 1,0 3.5,0a1.75,1.75 0 1,0 -3.5,0M179.8,672.7a1.75,1.75 0 1,0 3.5,0a1.75,1.75 0 1,0 -3.5,0M180.3,653.1a1.75,1.75 0 1,0 3.5,0a1.75,1.75 0 1,0 -3.5,0M202.5,654.1a1.75,1.75 0 1,0 3.5,0a1.75,1.75 0 1,0 -3.5,0M159.8,672.6a1.75,1.75 0 1,0 3.5,0a1.75,1.75 0 1,0 -3.5,0M156.1,647.6a1.75,1.75 0 1,0 3.5,0a1.75,1.75 0 1,0 -3.5,0M178.9,661.7a1.75,1.75 0 1,0 3.5,0a1.75,1.75 0 1,0 -3.5,0M183.3,679.3a1.75,1.75 0 1,0 3.5,0a1.75,1.75 0 1,0 -3.5,0M181.5,668.0a1.75,1.75 0 1,0 3.5,0a1.75,1.75 0 1,0 -3.5,0M164.7,673.7a1.75,1.75 0 1,0 3.5,0a1.75,1.75 0 1,0 -3.5,0M168.5,656.6a1.75,1.75 0 1,0 3.5,0a1.75,1.75 0 1,0 -3.5,0M159.8,680.6a1.75,1.75 0 1,0 3.5,0a1.75,1.75 0 1,0 -3.5,0M153.3,677.9a1.75,1.75 0 1,0 3.5,0a1.75,1.75 0 1,0 -3.5,0M184.8,654.8a1.75,1.75 0 1,0 3.5,0a1.75,1.75 0 1,0 -3.5,0M182.6,686.7a1.75,1.75 0 1,0 3.5,0a1.75,1.75 0 1,0 -3.5,0M164.6,680.3a1.75,1.75 0 1,0 3.5,0a1.75,1.75 0 1,0 -3.5,0M175.4,695.8a1.75,1.75 0 1,0 3.5,0a1.75,1.75 0 1,0 -3.5,0M183.0,691.9a1.75,1.75 0 1,0 3.5,0a1.75,1.75 0 1,0 -3.5,0M201.9,657.6a1.75,1.75 0 1,0 3.5,0a1.75,1.75 0 1,0 -3.5,0M183.2,649.6a1.75,1.75 0 1,0 3.5,0a1.75,1.75 0 1,0 -3.5,0M149.7,658.6a1.75,1.75 0 1,0 3.5,0a1.75,1.75 0 1,0 -3.5,0M160.8,674.5a1.75,1.75 0 1,0 3.5,0a1.75,1.75 0 1,0 -3.5,0M173.6,685.6a1.75,1.75 0 1,0 3.5,0a1.75,1.75 0 1,0 -3.5,0M144.8,659.2a1.75,1.75 0 1,0 3.5,0a1.75,1.75 0 1,0 -3.5,0M180.0,680.8a1.75,1.75 0 1,0 3.5,0a1.75,1.75 0 1,0 -3.5,0M171.1,686.5a1.75,1.75 0 1,0 3.5,0a1.75,1.75 0 1,0 -3.5,0M165.5,692.1a1.75,1.75 0 1,0 3.5,0a1.75,1.75 0 1,0 -3.5,0M179.5,692.3a1.75,1.75 0 1,0 3.5,0a1.75,1.75 0 1,0 -3.5,0M204.2,650.7a1.75,1.75 0 1,0 3.5,0a1.75,1.75 0 1,0 -3.5,0M190.0,650.0a1.75,1.75 0 1,0 3.5,0a1.75,1.75 0 1,0 -3.5,0M185.8,657.9a1.75,1.75 0 1,0 3.5,0a1.75,1.75 0 1,0 -3.5,0M163.9,688.1a1.75,1.75 0 1,0 3.5,0a1.75,1.75 0 1,0 -3.5,0M196.7,662.0a1.75,1.75 0 1,0 3.5,0a1.75,1.75 0 1,0 -3.5,0M156.2,669.8a1.75,1.75 0 1,0 3.5,0a1.75,1.75 0 1,0 -3.5,0M150.2,649.9a1.75,1.75 0 1,0 3.5,0a1.75,1.75 0 1,0 -3.5,0M165.5,650.9a1.75,1.75 0 1,0 3.5,0a1.75,1.75 0 1,0 -3.5,0M173.2,685.1a1.75,1.75 0 1,0 3.5,0a1.75,1.75 0 1,0 -3.5,0M165.2,650.5a1.75,1.75 0 1,0 3.5,0a1.75,1.75 0 1,0 -3.5,0M172.1,670.1a1.75,1.75 0 1,0 3.5,0a1.75,1.75 0 1,0 -3.5,0M182.3,678.2a1.75,1.75 0 1,0 3.5,0a1.75,1.75 0 1,0 -3.5,0M176.1,683.6a1.75,1.75 0 1,0 3.5,0a1.75,1.75 0 1,0 -3.5,0M191.3,647.0a1.75,1.75 0 1,0 3.5,0a1.75,1.75 0 1,0 -3.5,0M182.0,685.4a1.75,1.75 0 1,0 3.5,0a1.75,1.75 0 1,0 -3.5,0M194.7,667.8a1.75,1.75 0 1,0 3.5,0a1.75,1.75 0 1,0 -3.5,0M189.3,650.4a1.75,1.75 0 1,0 3.5,0a1.75,1.75 0 1,0 -3.5,0M183.6,675.9a1.75,1.75 0 1,0 3.5,0a1.75,1.75 0 1,0 -3.5,0M203.2,648.9a1.75,1.75 0 1,0 3.5,0a1.75,1.75 0 1,0 -3.5,0M153.6,647.0a1.75,1.75 0 1,0 3.5,0a1.75,1.75 0 1,0 -3.5,0M178.3,671.8a1.75,1.75 0 1,0 3.5,0a1.75,1.75 0 1,0 -3.5,0M161.3,654.5a1.75,1.75 0 1,0 3.5,0a1.75,1.75 0 1,0 -3.5,0M171.4,692.1a1.75,1.75 0 1,0 3.5,0a1.75,1.75 0 1,0 -3.5,0M153.4,668.2a1.75,1.75 0 1,0 3.5,0a1.75,1.75 0 1,0 -3.5,0M183.9,674.5a1.75,1.75 0 1,0 3.5,0a1.75,1.75 0 1,0 -3.5,0M164.9,683.2a1.75,1.75 0 1,0 3.5,0a1.75,1.75 0 1,0 -3.5,0M183.2,664.3a1.75,1.75 0 1,0 3.5,0a1.75,1.75 0 1,0 -3.5,0M177.3,695.1a1.75,1.75 0 1,0 3.5,0a1.75,1.75 0 1,0 -3.5,0M147.5,656.6a1.75,1.75 0 1,0 3.5,0a1.75,1.75 0 1,0 -3.5,0M176.5,662.2a1.75,1.75 0 1,0 3.5,0a1.75,1.75 0 1,0 -3.5,0M191.3,659.3a1.75,1.75 0 1,0 3.5,0a1.75,1.75 0 1,0 -3.5,0M151.6,658.5a1.75,1.75 0 1,0 3.5,0a1.75,1.75 0 1,0 -3.5,0M186.1,676.2a1.75,1.75 0 1,0 3.5,0a1.75,1.75 0 1,0 -3.5,0M164.3,655.9a1.75,1.75 0 1,0 3.5,0a1.75,1.75 0 1,0 -3.5,0M145.7,658.7a1.75,1.75 0 1,0 3.5,0a1.75,1.75 0 1,0 -3.5,0M156.1,680.3a1.75,1.75 0 1,0 3.5,0a1.75,1.75 0 1,0 -3.5,0M180.3,676.7a1.75,1.75 0 1,0 3.5,0a1.75,1.75 0 1,0 -3.5,0M151.5,672.5a1.75,1.75 0 1,0 3.5,0a1.75,1.75 0 1,0 -3.5,0M149.2,670.5a1.75,1.75 0 1,0 3.5,0a1.75,1.75 0 1,0 -3.5,0M191.5,646.0a1.75,1.75 0 1,0 3.5,0a1.75,1.75 0 1,0 -3.5,0M186.8,662.0a1.75,1.75 0 1,0 3.5,0a1.75,1.75 0 1,0 -3.5,0M160.0,655.6a1.75,1.75 0 1,0 3.5,0a1.75,1.75 0 1,0 -3.5,0M168.3,691.3a1.75,1.75 0 1,0 3.5,0a1.75,1.75 0 1,0 -3.5,0M174.8,666.3a1.75,1.75 0 1,0 3.5,0a1.75,1.75 0 1,0 -3.5,0M167.8,681.8a1.75,1.75 0 1,0 3.5,0a1.75,1.75 0 1,0 -3.5,0M162.6,678.6a1.75,1.75 0 1,0 3.5,0a1.75,1.75 0 1,0 -3.5,0M154.8,680.2a1.75,1.75 0 1,0 3.5,0a1.75,1.75 0 1,0 -3.5,0M146.9,655.0a1.75,1.75 0 1,0 3.5,0a1.75,1.75 0 1,0 -3.5,0M189.8,650.7a1.75,1.75 0 1,0 3.5,0a1.75,1.75 0 1,0 -3.5,0M189.1,669.1a1.75,1.75 0 1,0 3.5,0a1.75,1.75 0 1,0 -3.5,0M171.9,695.2a1.75,1.75 0 1,0 3.5,0a1.75,1.75 0 1,0 -3.5,0M190.1,684.7a1.75,1.75 0 1,0 3.5,0a1.75,1.75 0 1,0 -3.5,0M149.4,661.2a1.75,1.75 0 1,0 3.5,0a1.75,1.75 0 1,0 -3.5,0M177.0,669.0a1.75,1.75 0 1,0 3.5,0a1.75,1.75 0 1,0 -3.5,0M177.6,680.6a1.75,1.75 0 1,0 3.5,0a1.75,1.75 0 1,0 -3.5,0M154.4,660.8a1.75,1.75 0 1,0 3.5,0a1.75,1.75 0 1,0 -3.5,0M173.0,662.8a1.75,1.75 0 1,0 3.5,0a1.75,1.75 0 1,0 -3.5,0M162.0,654.9a1.75,1.75 0 1,0 3.5,0a1.75,1.75 0 1,0 -3.5,0M173.1,690.5a1.75,1.75 0 1,0 3.5,0a1.75,1.75 0 1,0 -3.5,0M184.8,651.9a1.75,1.75 0 1,0 3.5,0a1.75,1.75 0 1,0 -3.5,0M175.7,663.6a1.75,1.75 0 1,0 3.5,0a1.75,1.75 0 1,0 -3.5,0M152.8,665.5a1.75,1.75 0 1,0 3.5,0a1.75,1.75 0 1,0 -3.5,0M177.2,683.1a1.75,1.75 0 1,0 3.5,0a1.75,1.75 0 1,0 -3.5,0M172.1,695.9a1.75,1.75 0 1,0 3.5,0a1.75,1.75 0 1,0 -3.5,0M171.3,674.9a1.75,1.75 0 1,0 3.5,0a1.75,1.75 0 1,0 -3.5,0M186.3,667.6a1.75,1.75 0 1,0 3.5,0a1.75,1.75 0 1,0 -3.5,0M168.6,657.8a1.75,1.75 0 1,0 3.5,0a1.75,1.75 0 1,0 -3.5,0M178.8,652.3a1.75,1.75 0 1,0 3.5,0a1.75,1.75 0 1,0 -3.5,0M149.5,667.8a1.75,1.75 0 1,0 3.5,0a1.75,1.75 0 1,0 -3.5,0M168.3,657.2a1.75,1.75 0 1,0 3.5,0a1.75,1.75 0 1,0 -3.5,0M154.1,672.6a1.75,1.75 0 1,0 3.5,0a1.75,1.75 0 1,0 -3.5,0M188.3,677.0a1.75,1.75 0 1,0 3.5,0a1.75,1.75 0 1,0 -3.5,0M149.1,662.4a1.75,1.75 0 1,0 3.5,0a1.75,1.75 0 1,0 -3.5,0M190.5,652.9a1.75,1.75 0 1,0 3.5,0a1.75,1.75 0 1,0 -3.5,0M156.3,672.6a1.75,1.75 0 1,0 3.5,0a1.75,1.75 0 1,0 -3.5,0M194.6,654.0a1.75,1.75 0 1,0 3.5,0a1.75,1.75 0 1,0 -3.5,0M182.4,680.1a1.75,1.75 0 1,0 3.5,0a1.75,1.75 0 1,0 -3.5,0M204.1,652.6a1.75,1.75 0 1,0 3.5,0a1.75,1.75 0 1,0 -3.5,0M165.8,658.4a1.75,1.75 0 1,0 3.5,0a1.75,1.75 0 1,0 -3.5,0M200.4,657.4a1.75,1.75 0 1,0 3.5,0a1.75,1.75 0 1,0 -3.5,0M177.1,677.7a1.75,1.75 0 1,0 3.5,0a1.75,1.75 0 1,0 -3.5,0M186.2,666.6a1.75,1.75 0 1,0 3.5,0a1.75,1.75 0 1,0 -3.5,0M172.8,669.4a1.75,1.75 0 1,0 3.5,0a1.75,1.75 0 1,0 -3.5,0M194.1,653.2a1.75,1.75 0 1,0 3.5,0a1.75,1.75 0 1,0 -3.5,0M199.6,648.8a1.75,1.75 0 1,0 3.5,0a1.75,1.75 0 1,0 -3.5,0M175.3,692.2a1.75,1.75 0 1,0 3.5,0a1.75,1.75 0 1,0 -3.5,0M156.8,653.8a1.75,1.75 0 1,0 3.5,0a1.75,1.75 0 1,0 -3.5,0M186.8,652.6a1.75,1.75 0 1,0 3.5,0a1.75,1.75 0 1,0 -3.5,0M200.9,664.0a1.75,1.75 0 1,0 3.5,0a1.75,1.75 0 1,0 -3.5,0M164.8,662.9a1.75,1.75 0 1,0 3.5,0a1.75,1.75 0 1,0 -3.5,0M189.6,680.0a1.75,1.75 0 1,0 3.5,0a1.75,1.75 0 1,0 -3.5,0M155.5,672.3a1.75,1.75 0 1,0 3.5,0a1.75,1.75 0 1,0 -3.5,0M187.6,654.2a1.75,1.75 0 1,0 3.5,0a1.75,1.75 0 1,0 -3.5,0M190.8,684.5a1.75,1.75 0 1,0 3.5,0a1.75,1.75 0 1,0 -3.5,0M187.5,674.7a1.75,1.75 0 1,0 3.5,0a1.75,1.75 0 1,0 -3.5,0M176.8,679.9a1.75,1.75 0 1,0 3.5,0a1.75,1.75 0 1,0 -3.5,0M165.5,686.7a1.75,1.75 0 1,0 3.5,0a1.75,1.75 0 1,0 -3.5,0M162.6,653.3a1.75,1.75 0 1,0 3.5,0a1.75,1.75 0 1,0 -3.5,0M198.8,665.1a1.75,1.75 0 1,0 3.5,0a1.75,1.75 0 1,0 -3.5,0M181.6,687.5a1.75,1.75 0 1,0 3.5,0a1.75,1.75 0 1,0 -3.5,0M172.2,690.9a1.75,1.75 0 1,0 3.5,0a1.75,1.75 0 1,0 -3.5,0M177.4,695.7a1.75,1.75 0 1,0 3.5,0a1.75,1.75 0 1,0 -3.5,0M167.1,654.9a1.75,1.75 0 1,0 3.5,0a1.75,1.75 0 1,0 -3.5,0M156.3,661.2a1.75,1.75 0 1,0 3.5,0a1.75,1.75 0 1,0 -3.5,0M173.1,693.3a1.75,1.75 0 1,0 3.5,0a1.75,1.75 0 1,0 -3.5,0M177.1,689.8a1.75,1.75 0 1,0 3.5,0a1.75,1.75 0 1,0 -3.5,0M170.5,648.5a1.75,1.75 0 1,0 3.5,0a1.75,1.75 0 1,0 -3.5,0M168.7,685.2a1.75,1.75 0 1,0 3.5,0a1.75,1.75 0 1,0 -3.5,0M150.1,660.4a1.75,1.75 0 1,0 3.5,0a1.75,1.75 0 1,0 -3.5,0M196.8,669.6a1.75,1.75 0 1,0 3.5,0a1.75,1.75 0 1,0 -3.5,0M198.4,646.4a1.75,1.75 0 1,0 3.5,0a1.75,1.75 0 1,0 -3.5,0M164.5,676.0a1.75,1.75 0 1,0 3.5,0a1.75,1.75 0 1,0 -3.5,0M183.4,691.3a1.75,1.75 0 1,0 3.5,0a1.75,1.75 0 1,0 -3.5,0M174.5,695.1a1.75,1.75 0 1,0 3.5,0a1.75,1.75 0 1,0 -3.5,0M183.4,666.6a1.75,1.75 0 1,0 3.5,0a1.75,1.75 0 1,0 -3.5,0M171.4,690.8a1.75,1.75 0 1,0 3.5,0a1.75,1.75 0 1,0 -3.5,0M169.4,662.4a1.75,1.75 0 1,0 3.5,0a1.75,1.75 0 1,0 -3.5,0M195.6,646.5a1.75,1.75 0 1,0 3.5,0a1.75,1.75 0 1,0 -3.5,0M173.0,668.8a1.75,1.75 0 1,0 3.5,0a1.75,1.75 0 1,0 -3.5,0M187.7,677.7a1.75,1.75 0 1,0 3.5,0a1.75,1.75 0 1,0 -3.5,0M168.2,681.4a1.75,1.75 0 1,0 3.5,0a1.75,1.75 0 1,0 -3.5,0M164.7,660.5a1.75,1.75 0 1,0 3.5,0a1.75,1.75 0 1,0 -3.5,0M189.5,672.6a1.75,1.75 0 1,0 3.5,0a1.75,1.75 0 1,0 -3.5,0M181.3,645.9a1.75,1.75 0 1,0 3.5,0a1.75,1.75 0 1,0 -3.5,0M176.4,688.5a1.75,1.75 0 1,0 3.5,0a1.75,1.75 0 1,0 -3.5,0M173.4,664.9a1.75,1.75 0 1,0 3.5,0a1.75,1.75 0 1,0 -3.5,0M180.9,671.7a1.75,1.75 0 1,0 3.5,0a1.75,1.75 0 1,0 -3.5,0M192.6,649.3a1.75,1.75 0 1,0 3.5,0a1.75,1.75 0 1,0 -3.5,0M163.7,673.6a1.75,1.75 0 1,0 3.5,0a1.75,1.75 0 1,0 -3.5,0M172.9,692.2a1.75,1.75 0 1,0 3.5,0a1.75,1.75 0 1,0 -3.5,0M167.9,685.0a1.75,1.75 0 1,0 3.5,0a1.75,1.75 0 1,0 -3.5,0M159.3,673.4a1.75,1.75 0 1,0 3.5,0a1.75,1.75 0 1,0 -3.5,0M164.4,659.4a1.75,1.75 0 1,0 3.5,0a1.75,1.75 0 1,0 -3.5,0M190.4,652.8a1.75,1.75 0 1,0 3.5,0a1.75,1.75 0 1,0 -3.5,0M166.5,668.4a1.75,1.75 0 1,0 3.5,0a1.75,1.75 0 1,0 -3.5,0M161.9,675.3a1.75,1.75 0 1,0 3.5,0a1.75,1.75 0 1,0 -3.5,0M178.3,667.8a1.75,1.75 0 1,0 3.5,0a1.75,1.75 0 1,0 -3.5,0M171.3,676.9a1.75,1.75 0 1,0 3.5,0a1.75,1.75 0 1,0 -3.5,0M187.5,683.4a1.75,1.75 0 1,0 3.5,0a1.75,1.75 0 1,0 -3.5,0M175.5,694.6a1.75,1.75 0 1,0 3.5,0a1.75,1.75 0 1,0 -3.5,0M179.4,694.7a1.75,1.75 0 1,0 3.5,0a1.75,1.75 0 1,0 -3.5,0M158.9,678.9a1.75,1.75 0 1,0 3.5,0a1.75,1.75 0 1,0 -3.5,0M176.1,678.2a1.75,1.75 0 1,0 3.5,0a1.75,1.75 0 1,0 -3.5,0M165.6,681.3a1.75,1.75 0 1,0 3.5,0a1.75,1.75 0 1,0 -3.5,0M174.2,696.1a1.75,1.75 0 1,0 3.5,0a1.75,1.75 0 1,0 -3.5,0M174.7,696.4a1.75,1.75 0 1,0 3.5,0a1.75,1.75 0 1,0 -3.5,0M183.8,669.8a1.75,1.75 0 1,0 3.5,0a1.75,1.75 0 1,0 -3.5,0M169.1,658.7a1.75,1.75 0 1,0 3.5,0a1.75,1.75 0 1,0 -3.5,0M184.9,679.2a1.75,1.75 0 1,0 3.5,0a1.75,1.75 0 1,0 -3.5,0M175.8,692.2a1.75,1.75 0 1,0 3.5,0a1.75,1.75 0 1,0 -3.5,0M172.3,694.6a1.75,1.75 0 1,0 3.5,0a1.75,1.75 0 1,0 -3.5,0M185.9,676.5a1.75,1.75 0 1,0 3.5,0a1.75,1.75 0 1,0 -3.5,0M192.2,649.7a1.75,1.75 0 1,0 3.5,0a1.75,1.75 0 1,0 -3.5,0M176.6,687.2a1.75,1.75 0 1,0 3.5,0a1.75,1.75 0 1,0 -3.5,0M178.2,692.6a1.75,1.75 0 1,0 3.5,0a1.75,1.75 0 1,0 -3.5,0M191.4,664.2a1.75,1.75 0 1,0 3.5,0a1.75,1.75 0 1,0 -3.5,0M183.6,671.9a1.75,1.75 0 1,0 3.5,0a1.75,1.75 0 1,0 -3.5,0M175.9,695.9a1.75,1.75 0 1,0 3.5,0a1.75,1.75 0 1,0 -3.5,0M184.9,685.1a1.75,1.75 0 1,0 3.5,0a1.75,1.75 0 1,0 -3.5,0M145.6,655.7a1.75,1.75 0 1,0 3.5,0a1.75,1.75 0 1,0 -3.5,0M172.5,649.3a1.75,1.75 0 1,0 3.5,0a1.75,1.75 0 1,0 -3.5,0M174.2,694.7a1.75,1.75 0 1,0 3.5,0a1.75,1.75 0 1,0 -3.5,0M171.1,692.6a1.75,1.75 0 1,0 3.5,0a1.75,1.75 0 1,0 -3.5,0M168.8,652.7a1.75,1.75 0 1,0 3.5,0a1.75,1.75 0 1,0 -3.5,0M186.9,688.5a1.75,1.75 0 1,0 3.5,0a1.75,1.75 0 1,0 -3.5,0M168.8,672.9a1.75,1.75 0 1,0 3.5,0a1.75,1.75 0 1,0 -3.5,0M172.4,685.6a1.75,1.75 0 1,0 3.5,0a1.75,1.75 0 1,0 -3.5,0M189.2,660.9a1.75,1.75 0 1,0 3.5,0a1.75,1.75 0 1,0 -3.5,0M191.6,649.7a1.75,1.75 0 1,0 3.5,0a1.75,1.75 0 1,0 -3.5,0M169.5,694.1a1.75,1.75 0 1,0 3.5,0a1.75,1.75 0 1,0 -3.5,0M158.7,685.3a1.75,1.75 0 1,0 3.5,0a1.75,1.75 0 1,0 -3.5,0M161.4,651.8a1.75,1.75 0 1,0 3.5,0a1.75,1.75 0 1,0 -3.5,0M174.4,696.4a1.75,1.75 0 1,0 3.5,0a1.75,1.75 0 1,0 -3.5,0M171.7,668.7a1.75,1.75 0 1,0 3.5,0a1.75,1.75 0 1,0 -3.5,0M203.0,654.5a1.75,1.75 0 1,0 3.5,0a1.75,1.75 0 1,0 -3.5,0M198.0,657.5a1.75,1.75 0 1,0 3.5,0a1.75,1.75 0 1,0 -3.5,0M184.8,673.2a1.75,1.75 0 1,0 3.5,0a1.75,1.75 0 1,0 -3.5,0M180.8,683.4a1.75,1.75 0 1,0 3.5,0a1.75,1.75 0 1,0 -3.5,0M185.9,686.7a1.75,1.75 0 1,0 3.5,0a1.75,1.75 0 1,0 -3.5,0M148.3,652.7a1.75,1.75 0 1,0 3.5,0a1.75,1.75 0 1,0 -3.5,0M153.4,668.6a1.75,1.75 0 1,0 3.5,0a1.75,1.75 0 1,0 -3.5,0M194.3,675.6a1.75,1.75 0 1,0 3.5,0a1.75,1.75 0 1,0 -3.5,0M157.7,671.7a1.75,1.75 0 1,0 3.5,0a1.75,1.75 0 1,0 -3.5,0M176.8,651.4a1.75,1.75 0 1,0 3.5,0a1.75,1.75 0 1,0 -3.5,0M185.4,683.4a1.75,1.75 0 1,0 3.5,0a1.75,1.75 0 1,0 -3.5,0M173.6,684.0a1.75,1.75 0 1,0 3.5,0a1.75,1.75 0 1,0 -3.5,0M175.8,690.1a1.75,1.75 0 1,0 3.5,0a1.75,1.75 0 1,0 -3.5,0M154.1,680.3a1.75,1.75 0 1,0 3.5,0a1.75,1.75 0 1,0 -3.5,0M152.9,670.5a1.75,1.75 0 1,0 3.5,0a1.75,1.75 0 1,0 -3.5,0M162.3,656.3a1.75,1.75 0 1,0 3.5,0a1.75,1.75 0 1,0 -3.5,0M154.2,674.7a1.75,1.75 0 1,0 3.5,0a1.75,1.75 0 1,0 -3.5,0M170.7,681.8a1.75,1.75 0 1,0 3.5,0a1.75,1.75 0 1,0 -3.5,0M201.3,656.6a1.75,1.75 0 1,0 3.5,0a1.75,1.75 0 1,0 -3.5,0M167.8,679.2a1.75,1.75 0 1,0 3.5,0a1.75,1.75 0 1,0 -3.5,0M175.2,684.8a1.75,1.75 0 1,0 3.5,0a1.75,1.75 0 1,0 -3.5,0M151.5,661.3a1.75,1.75 0 1,0 3.5,0a1.75,1.75 0 1,0 -3.5,0M191.7,656.9a1.75,1.75 0 1,0 3.5,0a1.75,1.75 0 1,0 -3.5,0M203.4,653.6a1.75,1.75 0 1,0 3.5,0a1.75,1.75 0 1,0 -3.5,0M171.1,682.7a1.75,1.75 0 1,0 3.5,0a1.75,1.75 0 1,0 -3.5,0M172.7,655.1a1.75,1.75 0 1,0 3.5,0a1.75,1.75 0 1,0 -3.5,0M169.6,694.0a1.75,1.75 0 1,0 3.5,0a1.75,1.75 0 1,0 -3.5,0M148.5,657.9a1.75,1.75 0 1,0 3.5,0a1.75,1.75 0 1,0 -3.5,0M191.0,682.4a1.75,1.75 0 1,0 3.5,0a1.75,1.75 0 1,0 -3.5,0M164.8,673.9a1.75,1.75 0 1,0 3.5,0a1.75,1.75 0 1,0 -3.5,0M175.8,694.6a1.75,1.75 0 1,0 3.5,0a1.75,1.75 0 1,0 -3.5,0M173.3,694.4a1.75,1.75 0 1,0 3.5,0a1.75,1.75 0 1,0 -3.5,0M147.1,652.9a1.75,1.75 0 1,0 3.5,0a1.75,1.75 0 1,0 -3.5,0M170.7,659.1a1.75,1.75 0 1,0 3.5,0a1.75,1.75 0 1,0 -3.5,0M173.7,684.4a1.75,1.75 0 1,0 3.5,0a1.75,1.75 0 1,0 -3.5,0M197.6,659.2a1.75,1.75 0 1,0 3.5,0a1.75,1.75 0 1,0 -3.5,0M179.5,674.9a1.75,1.75 0 1,0 3.5,0a1.75,1.75 0 1,0 -3.5,0M179.6,687.3a1.75,1.75 0 1,0 3.5,0a1.75,1.75 0 1,0 -3.5,0M200.9,657.8a1.75,1.75 0 1,0 3.5,0a1.75,1.75 0 1,0 -3.5,0M153.1,653.7a1.75,1.75 0 1,0 3.5,0a1.75,1.75 0 1,0 -3.5,0M178.2,678.6a1.75,1.75 0 1,0 3.5,0a1.75,1.75 0 1,0 -3.5,0M186.6,657.1a1.75,1.75 0 1,0 3.5,0a1.75,1.75 0 1,0 -3.5,0M180.2,693.8a1.75,1.75 0 1,0 3.5,0a1.75,1.75 0 1,0 -3.5,0M187.6,676.3a1.75,1.75 0 1,0 3.5,0a1.75,1.75 0 1,0 -3.5,0M163.4,679.3a1.75,1.75 0 1,0 3.5,0a1.75,1.75 0 1,0 -3.5,0M177.6,689.2a1.75,1.75 0 1,0 3.5,0a1.75,1.75 0 1,0 -3.5,0M194.7,675.8a1.75,1.75 0 1,0 3.5,0a1.75,1.75 0 1,0 -3.5,0M166.2,674.0a1.75,1.75 0 1,0 3.5,0a1.75,1.75 0 1,0 -3.5,0M177.7,667.0a1.75,1.75 0 1,0 3.5,0a1.75,1.75 0 1,0 -3.5,0M182.7,689.9a1.75,1.75 0 1,0 3.5,0a1.75,1.75 0 1,0 -3.5,0M174.2,665.7a1.75,1.75 0 1,0 3.5,0a1.75,1.75 0 1,0 -3.5,0M183.3,648.0a1.75,1.75 0 1,0 3.5,0a1.75,1.75 0 1,0 -3.5,0M165.2,686.4a1.75,1.75 0 1,0 3.5,0a1.75,1.75 0 1,0 -3.5,0M158.7,677.9a1.75,1.75 0 1,0 3.5,0a1.75,1.75 0 1,0 -3.5,0M180.9,688.2a1.75,1.75 0 1,0 3.5,0a1.75,1.75 0 1,0 -3.5,0M171.2,693.1a1.75,1.75 0 1,0 3.5,0a1.75,1.75 0 1,0 -3.5,0M179.0,654.1a1.75,1.75 0 1,0 3.5,0a1.75,1.75 0 1,0 -3.5,0M194.3,648.4a1.75,1.75 0 1,0 3.5,0a1.75,1.75 0 1,0 -3.5,0M151.7,655.9a1.75,1.75 0 1,0 3.5,0a1.75,1.75 0 1,0 -3.5,0M187.0,653.0a1.75,1.75 0 1,0 3.5,0a1.75,1.75 0 1,0 -3.5,0M169.7,648.0a1.75,1.75 0 1,0 3.5,0a1.75,1.75 0 1,0 -3.5,0M191.4,654.7a1.75,1.75 0 1,0 3.5,0a1.75,1.75 0 1,0 -3.5,0M154.9,648.2a1.75,1.75 0 1,0 3.5,0a1.75,1.75 0 1,0 -3.5,0M175.4,684.8a1.75,1.75 0 1,0 3.5,0a1.75,1.75 0 1,0 -3.5,0M204.3,651.3a1.75,1.75 0 1,0 3.5,0a1.75,1.75 0 1,0 -3.5,0M170.2,664.4a1.75,1.75 0 1,0 3.5,0a1.75,1.75 0 1,0 -3.5,0M174.6,683.3a1.75,1.75 0 1,0 3.5,0a1.75,1.75 0 1,0 -3.5,0M175.8,687.8a1.75,1.75 0 1,0 3.5,0a1.75,1.75 0 1,0 -3.5,0M176.9,658.0a1.75,1.75 0 1,0 3.5,0a1.75,1.75 0 1,0 -3.5,0M168.6,688.2a1.75,1.75 0 1,0 3.5,0a1.75,1.75 0 1,0 -3.5,0M178.2,677.9a1.75,1.75 0 1,0 3.5,0a1.75,1.75 0 1,0 -3.5,0M169.1,680.8a1.75,1.75 0 1,0 3.5,0a1.75,1.75 0 1,0 -3.5,0M184.4,657.0a1.75,1.75 0 1,0 3.5,0a1.75,1.75 0 1,0 -3.5,0M174.1,688.7a1.75,1.75 0 1,0 3.5,0a1.75,1.75 0 1,0 -3.5,0M193.0,652.4a1.75,1.75 0 1,0 3.5,0a1.75,1.75 0 1,0 -3.5,0M183.5,672.4a1.75,1.75 0 1,0 3.5,0a1.75,1.75 0 1,0 -3.5,0M192.0,650.6a1.75,1.75 0 1,0 3.5,0a1.75,1.75 0 1,0 -3.5,0M195.8,664.5a1.75,1.75 0 1,0 3.5,0a1.75,1.75 0 1,0 -3.5,0M144.2,658.1a1.75,1.75 0 1,0 3.5,0a1.75,1.75 0 1,0 -3.5,0M187.3,661.7a1.75,1.75 0 1,0 3.5,0a1.75,1.75 0 1,0 -3.5,0M187.4,682.2a1.75,1.75 0 1,0 3.5,0a1.75,1.75 0 1,0 -3.5,0M180.3,656.2a1.75,1.75 0 1,0 3.5,0a1.75,1.75 0 1,0 -3.5,0M156.8,649.2a1.75,1.75 0 1,0 3.5,0a1.75,1.75 0 1,0 -3.5,0M182.7,647.8a1.75,1.75 0 1,0 3.5,0a1.75,1.75 0 1,0 -3.5,0M176.9,691.1a1.75,1.75 0 1,0 3.5,0a1.75,1.75 0 1,0 -3.5,0M192.4,676.2a1.75,1.75 0 1,0 3.5,0a1.75,1.75 0 1,0 -3.5,0M178.0,662.3a1.75,1.75 0 1,0 3.5,0a1.75,1.75 0 1,0 -3.5,0M165.2,686.7a1.75,1.75 0 1,0 3.5,0a1.75,1.75 0 1,0 -3.5,0M157.8,681.3a1.75,1.75 0 1,0 3.5,0a1.75,1.75 0 1,0 -3.5,0M156.5,664.3a1.75,1.75 0 1,0 3.5,0a1.75,1.75 0 1,0 -3.5,0M158.4,667.5a1.75,1.75 0 1,0 3.5,0a1.75,1.75 0 1,0 -3.5,0M171.2,648.6a1.75,1.75 0 1,0 3.5,0a1.75,1.75 0 1,0 -3.5,0M187.3,665.4a1.75,1.75 0 1,0 3.5,0a1.75,1.75 0 1,0 -3.5,0M183.1,646.2a1.75,1.75 0 1,0 3.5,0a1.75,1.75 0 1,0 -3.5,0M199.9,646.5a1.75,1.75 0 1,0 3.5,0a1.75,1.75 0 1,0 -3.5,0M173.6,670.3a1.75,1.75 0 1,0 3.5,0a1.75,1.75 0 1,0 -3.5,0M192.2,649.1a1.75,1.75 0 1,0 3.5,0a1.75,1.75 0 1,0 -3.5,0M173.0,659.0a1.75,1.75 0 1,0 3.5,0a1.75,1.75 0 1,0 -3.5,0M185.3,682.3a1.75,1.75 0 1,0 3.5,0a1.75,1.75 0 1,0 -3.5,0M149.6,665.2a1.75,1.75 0 1,0 3.5,0a1.75,1.75 0 1,0 -3.5,0M173.3,695.7a1.75,1.75 0 1,0 3.5,0a1.75,1.75 0 1,0 -3.5,0M182.1,647.6a1.75,1.75 0 1,0 3.5,0a1.75,1.75 0 1,0 -3.5,0M164.7,690.0a1.75,1.75 0 1,0 3.5,0a1.75,1.75 0 1,0 -3.5,0M185.6,647.8a1.75,1.75 0 1,0 3.5,0a1.75,1.75 0 1,0 -3.5,0M163.1,674.7a1.75,1.75 0 1,0 3.5,0a1.75,1.75 0 1,0 -3.5,0M190.1,659.0a1.75,1.75 0 1,0 3.5,0a1.75,1.75 0 1,0 -3.5,0M157.7,646.5a1.75,1.75 0 1,0 3.5,0a1.75,1.75 0 1,0 -3.5,0M189.7,663.9a1.75,1.75 0 1,0 3.5,0a1.75,1.75 0 1,0 -3.5,0M148.1,661.5a1.75,1.75 0 1,0 3.5,0a1.75,1.75 0 1,0 -3.5,0M181.3,683.4a1.75,1.75 0 1,0 3.5,0a1.75,1.75 0 1,0 -3.5,0M188.5,652.0a1.75,1.75 0 1,0 3.5,0a1.75,1.75 0 1,0 -3.5,0M168.8,677.2a1.75,1.75 0 1,0 3.5,0a1.75,1.75 0 1,0 -3.5,0M175.0,674.9a1.75,1.75 0 1,0 3.5,0a1.75,1.75 0 1,0 -3.5,0M188.6,685.9a1.75,1.75 0 1,0 3.5,0a1.75,1.75 0 1,0 -3.5,0M150.6,662.8a1.75,1.75 0 1,0 3.5,0a1.75,1.75 0 1,0 -3.5,0M180.2,664.1a1.75,1.75 0 1,0 3.5,0a1.75,1.75 0 1,0 -3.5,0M153.5,658.5a1.75,1.75 0 1,0 3.5,0a1.75,1.75 0 1,0 -3.5,0M195.2,656.3a1.75,1.75 0 1,0 3.5,0a1.75,1.75 0 1,0 -3.5,0M160.1,681.9a1.75,1.75 0 1,0 3.5,0a1.75,1.75 0 1,0 -3.5,0M161.0,660.7a1.75,1.75 0 1,0 3.5,0a1.75,1.75 0 1,0 -3.5,0M195.2,651.2a1.75,1.75 0 1,0 3.5,0a1.75,1.75 0 1,0 -3.5,0M178.5,660.2a1.75,1.75 0 1,0 3.5,0a1.75,1.75 0 1,0 -3.5,0M150.0,665.0a1.75,1.75 0 1,0 3.5,0a1.75,1.75 0 1,0 -3.5,0M186.7,647.3a1.75,1.75 0 1,0 3.5,0a1.75,1.75 0 1,0 -3.5,0M174.5,677.5a1.75,1.75 0 1,0 3.5,0a1.75,1.75 0 1,0 -3.5,0M164.7,654.5a1.75,1.75 0 1,0 3.5,0a1.75,1.75 0 1,0 -3.5,0M160.0,671.3a1.75,1.75 0 1,0 3.5,0a1.75,1.75 0 1,0 -3.5,0M190.1,674.9a1.75,1.75 0 1,0 3.5,0a1.75,1.75 0 1,0 -3.5,0M200.3,654.5a1.75,1.75 0 1,0 3.5,0a1.75,1.75 0 1,0 -3.5,0M197.9,671.4a1.75,1.75 0 1,0 3.5,0a1.75,1.75 0 1,0 -3.5,0M170.1,694.8a1.75,1.75 0 1,0 3.5,0a1.75,1.75 0 1,0 -3.5,0M164.1,680.2a1.75,1.75 0 1,0 3.5,0a1.75,1.75 0 1,0 -3.5,0M191.4,677.1a1.75,1.75 0 1,0 3.5,0a1.75,1.75 0 1,0 -3.5,0M182.6,668.8a1.75,1.75 0 1,0 3.5,0a1.75,1.75 0 1,0 -3.5,0M161.5,679.5a1.75,1.75 0 1,0 3.5,0a1.75,1.75 0 1,0 -3.5,0M163.2,667.2a1.75,1.75 0 1,0 3.5,0a1.75,1.75 0 1,0 -3.5,0M187.8,670.1a1.75,1.75 0 1,0 3.5,0a1.75,1.75 0 1,0 -3.5,0M178.0,652.9a1.75,1.75 0 1,0 3.5,0a1.75,1.75 0 1,0 -3.5,0M168.8,671.2a1.75,1.75 0 1,0 3.5,0a1.75,1.75 0 1,0 -3.5,0M170.6,688.4a1.75,1.75 0 1,0 3.5,0a1.75,1.75 0 1,0 -3.5,0M161.0,686.3a1.75,1.75 0 1,0 3.5,0a1.75,1.75 0 1,0 -3.5,0M153.2,667.9a1.75,1.75 0 1,0 3.5,0a1.75,1.75 0 1,0 -3.5,0M179.1,688.6a1.75,1.75 0 1,0 3.5,0a1.75,1.75 0 1,0 -3.5,0M166.8,656.3a1.75,1.75 0 1,0 3.5,0a1.75,1.75 0 1,0 -3.5,0M197.9,651.9a1.75,1.75 0 1,0 3.5,0a1.75,1.75 0 1,0 -3.5,0M183.0,691.0a1.75,1.75 0 1,0 3.5,0a1.75,1.75 0 1,0 -3.5,0M163.8,676.3a1.75,1.75 0 1,0 3.5,0a1.75,1.75 0 1,0 -3.5,0M183.2,668.7a1.75,1.75 0 1,0 3.5,0a1.75,1.75 0 1,0 -3.5,0M150.1,667.2a1.75,1.75 0 1,0 3.5,0a1.75,1.75 0 1,0 -3.5,0M153.7,672.2a1.75,1.75 0 1,0 3.5,0a1.75,1.75 0 1,0 -3.5,0M193.1,657.4a1.75,1.75 0 1,0 3.5,0a1.75,1.75 0 1,0 -3.5,0M187.6,676.8a1.75,1.75 0 1,0 3.5,0a1.75,1.75 0 1,0 -3.5,0M181.0,680.1a1.75,1.75 0 1,0 3.5,0a1.75,1.75 0 1,0 -3.5,0M186.8,658.1a1.75,1.75 0 1,0 3.5,0a1.75,1.75 0 1,0 -3.5,0M143.6,651.9a1.75,1.75 0 1,0 3.5,0a1.75,1.75 0 1,0 -3.5,0M154.5,662.8a1.75,1.75 0 1,0 3.5,0a1.75,1.75 0 1,0 -3.5,0M166.1,680.9a1.75,1.75 0 1,0 3.5,0a1.75,1.75 0 1,0 -3.5,0M191.6,647.2a1.75,1.75 0 1,0 3.5,0a1.75,1.75 0 1,0 -3.5,0M178.1,693.1a1.75,1.75 0 1,0 3.5,0a1.75,1.75 0 1,0 -3.5,0M178.3,694.2a1.75,1.75 0 1,0 3.5,0a1.75,1.75 0 1,0 -3.5,0M177.6,692.9a1.75,1.75 0 1,0 3.5,0a1.75,1.75 0 1,0 -3.5,0M184.0,685.5a1.75,1.75 0 1,0 3.5,0a1.75,1.75 0 1,0 -3.5,0M163.2,651.4a1.75,1.75 0 1,0 3.5,0a1.75,1.75 0 1,0 -3.5,0M166.6,676.9a1.75,1.75 0 1,0 3.5,0a1.75,1.75 0 1,0 -3.5,0M163.8,690.0a1.75,1.75 0 1,0 3.5,0a1.75,1.75 0 1,0 -3.5,0M163.7,652.0a1.75,1.75 0 1,0 3.5,0a1.75,1.75 0 1,0 -3.5,0M193.0,662.9a1.75,1.75 0 1,0 3.5,0a1.75,1.75 0 1,0 -3.5,0M194.8,646.2a1.75,1.75 0 1,0 3.5,0a1.75,1.75 0 1,0 -3.5,0M170.4,695.1a1.75,1.75 0 1,0 3.5,0a1.75,1.75 0 1,0 -3.5,0M176.9,694.0a1.75,1.75 0 1,0 3.5,0a1.75,1.75 0 1,0 -3.5,0M194.7,652.2a1.75,1.75 0 1,0 3.5,0a1.75,1.75 0 1,0 -3.5,0M167.3,651.5a1.75,1.75 0 1,0 3.5,0a1.75,1.75 0 1,0 -3.5,0M167.6,657.6a1.75,1.75 0 1,0 3.5,0a1.75,1.75 0 1,0 -3.5,0M167.0,652.9a1.75,1.75 0 1,0 3.5,0a1.75,1.75 0 1,0 -3.5,0M173.1,674.5a1.75,1.75 0 1,0 3.5,0a1.75,1.75 0 1,0 -3.5,0M193.6,672.1a1.75,1.75 0 1,0 3.5,0a1.75,1.75 0 1,0 -3.5,0M164.3,688.9a1.75,1.75 0 1,0 3.5,0a1.75,1.75 0 1,0 -3.5,0M185.2,682.9a1.75,1.75 0 1,0 3.5,0a1.75,1.75 0 1,0 -3.5,0M172.7,691.8a1.75,1.75 0 1,0 3.5,0a1.75,1.75 0 1,0 -3.5,0M175.8,692.5a1.75,1.75 0 1,0 3.5,0a1.75,1.75 0 1,0 -3.5,0M175.3,669.4a1.75,1.75 0 1,0 3.5,0a1.75,1.75 0 1,0 -3.5,0M184.8,666.5a1.75,1.75 0 1,0 3.5,0a1.75,1.75 0 1,0 -3.5,0M192.6,672.6a1.75,1.75 0 1,0 3.5,0a1.75,1.75 0 1,0 -3.5,0M150.7,669.4a1.75,1.75 0 1,0 3.5,0a1.75,1.75 0 1,0 -3.5,0M169.2,653.5a1.75,1.75 0 1,0 3.5,0a1.75,1.75 0 1,0 -3.5,0M190.5,669.5a1.75,1.75 0 1,0 3.5,0a1.75,1.75 0 1,0 -3.5,0M159.1,675.6a1.75,1.75 0 1,0 3.5,0a1.75,1.75 0 1,0 -3.5,0M176.9,660.9a1.75,1.75 0 1,0 3.5,0a1.75,1.75 0 1,0 -3.5,0M181.2,685.9a1.75,1.75 0 1,0 3.5,0a1.75,1.75 0 1,0 -3.5,0M163.9,678.1a1.75,1.75 0 1,0 3.5,0a1.75,1.75 0 1,0 -3.5,0M162.4,674.6a1.75,1.75 0 1,0 3.5,0a1.75,1.75 0 1,0 -3.5,0M190.5,648.8a1.75,1.75 0 1,0 3.5,0a1.75,1.75 0 1,0 -3.5,0M194.7,678.6a1.75,1.75 0 1,0 3.5,0a1.75,1.75 0 1,0 -3.5,0M165.7,683.6a1.75,1.75 0 1,0 3.5,0a1.75,1.75 0 1,0 -3.5,0M170.3,646.9a1.75,1.75 0 1,0 3.5,0a1.75,1.75 0 1,0 -3.5,0M175.7,662.8a1.75,1.75 0 1,0 3.5,0a1.75,1.75 0 1,0 -3.5,0M148.6,664.6a1.75,1.75 0 1,0 3.5,0a1.75,1.75 0 1,0 -3.5,0M165.6,649.0a1.75,1.75 0 1,0 3.5,0a1.75,1.75 0 1,0 -3.5,0M159.4,675.5a1.75,1.75 0 1,0 3.5,0a1.75,1.75 0 1,0 -3.5,0M157.8,654.6a1.75,1.75 0 1,0 3.5,0a1.75,1.75 0 1,0 -3.5,0M184.0,683.3a1.75,1.75 0 1,0 3.5,0a1.75,1.75 0 1,0 -3.5,0M151.2,670.3a1.75,1.75 0 1,0 3.5,0a1.75,1.75 0 1,0 -3.5,0M180.2,693.4a1.75,1.75 0 1,0 3.5,0a1.75,1.75 0 1,0 -3.5,0M145.1,660.8a1.75,1.75 0 1,0 3.5,0a1.75,1.75 0 1,0 -3.5,0M157.3,670.5a1.75,1.75 0 1,0 3.5,0a1.75,1.75 0 1,0 -3.5,0M169.1,664.8a1.75,1.75 0 1,0 3.5,0a1.75,1.75 0 1,0 -3.5,0M197.9,661.3a1.75,1.75 0 1,0 3.5,0a1.75,1.75 0 1,0 -3.5,0M152.6,665.3a1.75,1.75 0 1,0 3.5,0a1.75,1.75 0 1,0 -3.5,0M192.3,674.8a1.75,1.75 0 1,0 3.5,0a1.75,1.75 0 1,0 -3.5,0M184.2,664.7a1.75,1.75 0 1,0 3.5,0a1.75,1.75 0 1,0 -3.5,0M160.1,661.4a1.75,1.75 0 1,0 3.5,0a1.75,1.75 0 1,0 -3.5,0M178.5,694.5a1.75,1.75 0 1,0 3.5,0a1.75,1.75 0 1,0 -3.5,0M180.7,681.3a1.75,1.75 0 1,0 3.5,0a1.75,1.75 0 1,0 -3.5,0M167.4,693.1a1.75,1.75 0 1,0 3.5,0a1.75,1.75 0 1,0 -3.5,0M181.1,667.9a1.75,1.75 0 1,0 3.5,0a1.75,1.75 0 1,0 -3.5,0M204.5,652.0a1.75,1.75 0 1,0 3.5,0a1.75,1.75 0 1,0 -3.5,0M184.8,680.5a1.75,1.75 0 1,0 3.5,0a1.75,1.75 0 1,0 -3.5,0M175.7,694.7a1.75,1.75 0 1,0 3.5,0a1.75,1.75 0 1,0 -3.5,0M172.3,692.0a1.75,1.75 0 1,0 3.5,0a1.75,1.75 0 1,0 -3.5,0M175.0,692.5a1.75,1.75 0 1,0 3.5,0a1.75,1.75 0 1,0 -3.5,0M167.0,685.0a1.75,1.75 0 1,0 3.5,0a1.75,1.75 0 1,0 -3.5,0M177.6,669.8a1.75,1.75 0 1,0 3.5,0a1.75,1.75 0 1,0 -3.5,0M195.1,671.8a1.75,1.75 0 1,0 3.5,0a1.75,1.75 0 1,0 -3.5,0M193.8,668.8a1.75,1.75 0 1,0 3.5,0a1.75,1.75 0 1,0 -3.5,0M156.0,651.1a1.75,1.75 0 1,0 3.5,0a1.75,1.75 0 1,0 -3.5,0M154.6,654.4a1.75,1.75 0 1,0 3.5,0a1.75,1.75 0 1,0 -3.5,0M155.8,675.3a1.75,1.75 0 1,0 3.5,0a1.75,1.75 0 1,0 -3.5,0M189.4,679.8a1.75,1.75 0 1,0 3.5,0a1.75,1.75 0 1,0 -3.5,0M166.6,692.5a1.75,1.75 0 1,0 3.5,0a1.75,1.75 0 1,0 -3.5,0M171.2,658.0a1.75,1.75 0 1,0 3.5,0a1.75,1.75 0 1,0 -3.5,0M185.4,646.2a1.75,1.75 0 1,0 3.5,0a1.75,1.75 0 1,0 -3.5,0M170.9,668.6a1.75,1.75 0 1,0 3.5,0a1.75,1.75 0 1,0 -3.5,0M147.2,653.4a1.75,1.75 0 1,0 3.5,0a1.75,1.75 0 1,0 -3.5,0M177.0,690.5a1.75,1.75 0 1,0 3.5,0a1.75,1.75 0 1,0 -3.5,0M195.6,663.1a1.75,1.75 0 1,0 3.5,0a1.75,1.75 0 1,0 -3.5,0M168.2,651.4a1.75,1.75 0 1,0 3.5,0a1.75,1.75 0 1,0 -3.5,0M192.6,649.2a1.75,1.75 0 1,0 3.5,0a1.75,1.75 0 1,0 -3.5,0M169.8,690.5a1.75,1.75 0 1,0 3.5,0a1.75,1.75 0 1,0 -3.5,0M187.6,687.2a1.75,1.75 0 1,0 3.5,0a1.75,1.75 0 1,0 -3.5,0M201.8,657.2a1.75,1.75 0 1,0 3.5,0a1.75,1.75 0 1,0 -3.5,0M186.3,662.6a1.75,1.75 0 1,0 3.5,0a1.75,1.75 0 1,0 -3.5,0M167.2,672.8a1.75,1.75 0 1,0 3.5,0a1.75,1.75 0 1,0 -3.5,0M151.4,676.1a1.75,1.75 0 1,0 3.5,0a1.75,1.75 0 1,0 -3.5,0M174.8,671.0a1.75,1.75 0 1,0 3.5,0a1.75,1.75 0 1,0 -3.5,0M185.9,677.8a1.75,1.75 0 1,0 3.5,0a1.75,1.75 0 1,0 -3.5,0M181.5,690.3a1.75,1.75 0 1,0 3.5,0a1.75,1.75 0 1,0 -3.5,0M171.7,689.9a1.75,1.75 0 1,0 3.5,0a1.75,1.75 0 1,0 -3.5,0M183.9,650.9a1.75,1.75 0 1,0 3.5,0a1.75,1.75 0 1,0 -3.5,0M202.5,647.8a1.75,1.75 0 1,0 3.5,0a1.75,1.75 0 1,0 -3.5,0M161.8,670.1a1.75,1.75 0 1,0 3.5,0a1.75,1.75 0 1,0 -3.5,0M195.7,647.0a1.75,1.75 0 1,0 3.5,0a1.75,1.75 0 1,0 -3.5,0M164.2,688.0a1.75,1.75 0 1,0 3.5,0a1.75,1.75 0 1,0 -3.5,0M160.5,684.8a1.75,1.75 0 1,0 3.5,0a1.75,1.75 0 1,0 -3.5,0M176.1,680.9a1.75,1.75 0 1,0 3.5,0a1.75,1.75 0 1,0 -3.5,0M158.7,678.2a1.75,1.75 0 1,0 3.5,0a1.75,1.75 0 1,0 -3.5,0M183.6,685.9a1.75,1.75 0 1,0 3.5,0a1.75,1.75 0 1,0 -3.5,0M172.1,688.4a1.75,1.75 0 1,0 3.5,0a1.75,1.75 0 1,0 -3.5,0M177.7,658.7a1.75,1.75 0 1,0 3.5,0a1.75,1.75 0 1,0 -3.5,0M184.6,681.1a1.75,1.75 0 1,0 3.5,0a1.75,1.75 0 1,0 -3.5,0M180.4,668.4a1.75,1.75 0 1,0 3.5,0a1.75,1.75 0 1,0 -3.5,0M178.6,678.4a1.75,1.75 0 1,0 3.5,0a1.75,1.75 0 1,0 -3.5,0M167.4,682.1a1.75,1.75 0 1,0 3.5,0a1.75,1.75 0 1,0 -3.5,0M161.7,657.4a1.75,1.75 0 1,0 3.5,0a1.75,1.75 0 1,0 -3.5,0M189.2,685.8a1.75,1.75 0 1,0 3.5,0a1.75,1.75 0 1,0 -3.5,0M183.4,661.7a1.75,1.75 0 1,0 3.5,0a1.75,1.75 0 1,0 -3.5,0M191.8,675.1a1.75,1.75 0 1,0 3.5,0a1.75,1.75 0 1,0 -3.5,0M182.3,646.2a1.75,1.75 0 1,0 3.5,0a1.75,1.75 0 1,0 -3.5,0M185.7,689.8a1.75,1.75 0 1,0 3.5,0a1.75,1.75 0 1,0 -3.5,0M173.8,666.7a1.75,1.75 0 1,0 3.5,0a1.75,1.75 0 1,0 -3.5,0M186.3,688.3a1.75,1.75 0 1,0 3.5,0a1.75,1.75 0 1,0 -3.5,0M197.2,657.5a1.75,1.75 0 1,0 3.5,0a1.75,1.75 0 1,0 -3.5,0M145.7,651.6a1.75,1.75 0 1,0 3.5,0a1.75,1.75 0 1,0 -3.5,0M146.9,647.1a1.75,1.75 0 1,0 3.5,0a1.75,1.75 0 1,0 -3.5,0M157.5,650.4a1.75,1.75 0 1,0 3.5,0a1.75,1.75 0 1,0 -3.5,0M201.3,660.1a1.75,1.75 0 1,0 3.5,0a1.75,1.75 0 1,0 -3.5,0M162.1,686.4a1.75,1.75 0 1,0 3.5,0a1.75,1.75 0 1,0 -3.5,0M186.2,655.3a1.75,1.75 0 1,0 3.5,0a1.75,1.75 0 1,0 -3.5,0M172.3,676.1a1.75,1.75 0 1,0 3.5,0a1.75,1.75 0 1,0 -3.5,0M187.6,667.2a1.75,1.75 0 1,0 3.5,0a1.75,1.75 0 1,0 -3.5,0M185.6,670.5a1.75,1.75 0 1,0 3.5,0a1.75,1.75 0 1,0 -3.5,0M148.5,646.0a1.75,1.75 0 1,0 3.5,0a1.75,1.75 0 1,0 -3.5,0M180.3,654.9a1.75,1.75 0 1,0 3.5,0a1.75,1.75 0 1,0 -3.5,0M191.3,675.1a1.75,1.75 0 1,0 3.5,0a1.75,1.75 0 1,0 -3.5,0M181.4,690.7a1.75,1.75 0 1,0 3.5,0a1.75,1.75 0 1,0 -3.5,0M148.6,662.4a1.75,1.75 0 1,0 3.5,0a1.75,1.75 0 1,0 -3.5,0M184.2,690.6a1.75,1.75 0 1,0 3.5,0a1.75,1.75 0 1,0 -3.5,0M142.1,646.7a1.75,1.75 0 1,0 3.5,0a1.75,1.75 0 1,0 -3.5,0M166.0,654.5a1.75,1.75 0 1,0 3.5,0a1.75,1.75 0 1,0 -3.5,0M173.1,681.5a1.75,1.75 0 1,0 3.5,0a1.75,1.75 0 1,0 -3.5,0M187.4,679.2a1.75,1.75 0 1,0 3.5,0a1.75,1.75 0 1,0 -3.5,0M162.7,654.5a1.75,1.75 0 1,0 3.5,0a1.75,1.75 0 1,0 -3.5,0M175.2,695.0a1.75,1.75 0 1,0 3.5,0a1.75,1.75 0 1,0 -3.5,0M177.4,670.6a1.75,1.75 0 1,0 3.5,0a1.75,1.75 0 1,0 -3.5,0M185.3,673.4a1.75,1.75 0 1,0 3.5,0a1.75,1.75 0 1,0 -3.5,0M177.7,689.8a1.75,1.75 0 1,0 3.5,0a1.75,1.75 0 1,0 -3.5,0M178.1,677.7a1.75,1.75 0 1,0 3.5,0a1.75,1.75 0 1,0 -3.5,0M190.1,657.6a1.75,1.75 0 1,0 3.5,0a1.75,1.75 0 1,0 -3.5,0M159.5,655.6a1.75,1.75 0 1,0 3.5,0a1.75,1.75 0 1,0 -3.5,0M176.2,662.8a1.75,1.75 0 1,0 3.5,0a1.75,1.75 0 1,0 -3.5,0M170.5,687.2a1.75,1.75 0 1,0 3.5,0a1.75,1.75 0 1,0 -3.5,0M171.8,676.2a1.75,1.75 0 1,0 3.5,0a1.75,1.75 0 1,0 -3.5,0M198.6,668.2a1.75,1.75 0 1,0 3.5,0a1.75,1.75 0 1,0 -3.5,0M153.6,678.5a1.75,1.75 0 1,0 3.5,0a1.75,1.75 0 1,0 -3.5,0M174.9,689.5a1.75,1.75 0 1,0 3.5,0a1.75,1.75 0 1,0 -3.5,0M170.5,694.6a1.75,1.75 0 1,0 3.5,0a1.75,1.75 0 1,0 -3.5,0M176.6,694.4a1.75,1.75 0 1,0 3.5,0a1.75,1.75 0 1,0 -3.5,0M174.7,677.2a1.75,1.75 0 1,0 3.5,0a1.75,1.75 0 1,0 -3.5,0M178.3,694.8a1.75,1.75 0 1,0 3.5,0a1.75,1.75 0 1,0 -3.5,0M168.4,672.2a1.75,1.75 0 1,0 3.5,0a1.75,1.75 0 1,0 -3.5,0M173.6,665.3a1.75,1.75 0 1,0 3.5,0a1.75,1.75 0 1,0 -3.5,0M157.9,654.6a1.75,1.75 0 1,0 3.5,0a1.75,1.75 0 1,0 -3.5,0M185.7,679.2a1.75,1.75 0 1,0 3.5,0a1.75,1.75 0 1,0 -3.5,0M167.8,691.7a1.75,1.75 0 1,0 3.5,0a1.75,1.75 0 1,0 -3.5,0M155.8,661.2a1.75,1.75 0 1,0 3.5,0a1.75,1.75 0 1,0 -3.5,0M165.8,677.4a1.75,1.75 0 1,0 3.5,0a1.75,1.75 0 1,0 -3.5,0M148.9,661.8a1.75,1.75 0 1,0 3.5,0a1.75,1.75 0 1,0 -3.5,0M188.7,684.9a1.75,1.75 0 1,0 3.5,0a1.75,1.75 0 1,0 -3.5,0M186.3,685.5a1.75,1.75 0 1,0 3.5,0a1.75,1.75 0 1,0 -3.5,0M148.9,663.4a1.75,1.75 0 1,0 3.5,0a1.75,1.75 0 1,0 -3.5,0M181.7,684.5a1.75,1.75 0 1,0 3.5,0a1.75,1.75 0 1,0 -3.5,0M200.4,665.7a1.75,1.75 0 1,0 3.5,0a1.75,1.75 0 1,0 -3.5,0M177.4,682.0a1.75,1.75 0 1,0 3.5,0a1.75,1.75 0 1,0 -3.5,0M154.8,675.6a1.75,1.75 0 1,0 3.5,0a1.75,1.75 0 1,0 -3.5,0M180.5,694.4a1.75,1.75 0 1,0 3.5,0a1.75,1.75 0 1,0 -3.5,0M190.8,653.9a1.75,1.75 0 1,0 3.5,0a1.75,1.75 0 1,0 -3.5,0M169.7,675.0a1.75,1.75 0 1,0 3.5,0a1.75,1.75 0 1,0 -3.5,0M156.8,675.6a1.75,1.75 0 1,0 3.5,0a1.75,1.75 0 1,0 -3.5,0M165.0,663.3a1.75,1.75 0 1,0 3.5,0a1.75,1.75 0 1,0 -3.5,0M175.9,680.2a1.75,1.75 0 1,0 3.5,0a1.75,1.75 0 1,0 -3.5,0M160.9,646.8a1.75,1.75 0 1,0 3.5,0a1.75,1.75 0 1,0 -3.5,0M167.0,665.0a1.75,1.75 0 1,0 3.5,0a1.75,1.75 0 1,0 -3.5,0M185.0,685.6a1.75,1.75 0 1,0 3.5,0a1.75,1.75 0 1,0 -3.5,0M180.5,694.0a1.75,1.75 0 1,0 3.5,0a1.75,1.75 0 1,0 -3.5,0M177.7,670.4a1.75,1.75 0 1,0 3.5,0a1.75,1.75 0 1,0 -3.5,0M175.2,676.2a1.75,1.75 0 1,0 3.5,0a1.75,1.75 0 1,0 -3.5,0M149.2,647.4a1.75,1.75 0 1,0 3.5,0a1.75,1.75 0 1,0 -3.5,0M182.5,686.1a1.75,1.75 0 1,0 3.5,0a1.75,1.75 0 1,0 -3.5,0M156.6,661.3a1.75,1.75 0 1,0 3.5,0a1.75,1.75 0 1,0 -3.5,0M190.6,674.5a1.75,1.75 0 1,0 3.5,0a1.75,1.75 0 1,0 -3.5,0M184.1,648.3a1.75,1.75 0 1,0 3.5,0a1.75,1.75 0 1,0 -3.5,0M159.6,656.9a1.75,1.75 0 1,0 3.5,0a1.75,1.75 0 1,0 -3.5,0M156.3,668.0a1.75,1.75 0 1,0 3.5,0a1.75,1.75 0 1,0 -3.5,0M159.9,683.5a1.75,1.75 0 1,0 3.5,0a1.75,1.75 0 1,0 -3.5,0M183.1,670.7a1.75,1.75 0 1,0 3.5,0a1.75,1.75 0 1,0 -3.5,0M176.3,687.8a1.75,1.75 0 1,0 3.5,0a1.75,1.75 0 1,0 -3.5,0M193.3,652.1a1.75,1.75 0 1,0 3.5,0a1.75,1.75 0 1,0 -3.5,0M167.3,693.3a1.75,1.75 0 1,0 3.5,0a1.75,1.75 0 1,0 -3.5,0M177.0,692.1a1.75,1.75 0 1,0 3.5,0a1.75,1.75 0 1,0 -3.5,0M169.6,675.9a1.75,1.75 0 1,0 3.5,0a1.75,1.75 0 1,0 -3.5,0M180.8,653.8a1.75,1.75 0 1,0 3.5,0a1.75,1.75 0 1,0 -3.5,0M163.7,690.6a1.75,1.75 0 1,0 3.5,0a1.75,1.75 0 1,0 -3.5,0M181.2,673.8a1.75,1.75 0 1,0 3.5,0a1.75,1.75 0 1,0 -3.5,0M165.7,692.3a1.75,1.75 0 1,0 3.5,0a1.75,1.75 0 1,0 -3.5,0M153.1,664.3a1.75,1.75 0 1,0 3.5,0a1.75,1.75 0 1,0 -3.5,0M197.5,661.3a1.75,1.75 0 1,0 3.5,0a1.75,1.75 0 1,0 -3.5,0M165.9,654.6a1.75,1.75 0 1,0 3.5,0a1.75,1.75 0 1,0 -3.5,0M181.8,687.4a1.75,1.75 0 1,0 3.5,0a1.75,1.75 0 1,0 -3.5,0M167.6,692.2a1.75,1.75 0 1,0 3.5,0a1.75,1.75 0 1,0 -3.5,0M156.6,649.1a1.75,1.75 0 1,0 3.5,0a1.75,1.75 0 1,0 -3.5,0M183.6,670.7a1.75,1.75 0 1,0 3.5,0a1.75,1.75 0 1,0 -3.5,0M182.5,651.4a1.75,1.75 0 1,0 3.5,0a1.75,1.75 0 1,0 -3.5,0M201.7,656.8a1.75,1.75 0 1,0 3.5,0a1.75,1.75 0 1,0 -3.5,0M157.0,673.8a1.75,1.75 0 1,0 3.5,0a1.75,1.75 0 1,0 -3.5,0M174.7,687.9a1.75,1.75 0 1,0 3.5,0a1.75,1.75 0 1,0 -3.5,0M205.1,671.7a1.75,1.75 0 1,0 3.5,0a1.75,1.75 0 1,0 -3.5,0M165.2,692.0a1.75,1.75 0 1,0 3.5,0a1.75,1.75 0 1,0 -3.5,0M127.7,653.4a1.75,1.75 0 1,0 3.5,0a1.75,1.75 0 1,0 -3.5,0M143.7,659.7a1.75,1.75 0 1,0 3.5,0a1.75,1.75 0 1,0 -3.5,0M150.9,689.6a1.75,1.75 0 1,0 3.5,0a1.75,1.75 0 1,0 -3.5,0M203.8,665.3a1.75,1.75 0 1,0 3.5,0a1.75,1.75 0 1,0 -3.5,0M139.3,665.3a1.75,1.75 0 1,0 3.5,0a1.75,1.75 0 1,0 -3.5,0M211.4,657.5a1.75,1.75 0 1,0 3.5,0a1.75,1.75 0 1,0 -3.5,0M204.6,653.5a1.75,1.75 0 1,0 3.5,0a1.75,1.75 0 1,0 -3.5,0M161.2,691.8a1.75,1.75 0 1,0 3.5,0a1.75,1.75 0 1,0 -3.5,0M149.9,677.3a1.75,1.75 0 1,0 3.5,0a1.75,1.75 0 1,0 -3.5,0M219.2,677.5a1.75,1.75 0 1,0 3.5,0a1.75,1.75 0 1,0 -3.5,0M197.0,680.7a1.75,1.75 0 1,0 3.5,0a1.75,1.75 0 1,0 -3.5,0M155.3,683.1a1.75,1.75 0 1,0 3.5,0a1.75,1.75 0 1,0 -3.5,0M156.3,689.2a1.75,1.75 0 1,0 3.5,0a1.75,1.75 0 1,0 -3.5,0M210.9,664.7a1.75,1.75 0 1,0 3.5,0a1.75,1.75 0 1,0 -3.5,0M209.2,654.7a1.75,1.75 0 1,0 3.5,0a1.75,1.75 0 1,0 -3.5,0M135.5,673.0a1.75,1.75 0 1,0 3.5,0a1.75,1.75 0 1,0 -3.5,0M208.3,665.8a1.75,1.75 0 1,0 3.5,0a1.75,1.75 0 1,0 -3.5,0M216.3,673.3a1.75,1.75 0 1,0 3.5,0a1.75,1.75 0 1,0 -3.5,0M207.6,656.8a1.75,1.75 0 1,0 3.5,0a1.75,1.75 0 1,0 -3.5,0M200.5,682.1a1.75,1.75 0 1,0 3.5,0a1.75,1.75 0 1,0 -3.5,0M207.9,664.0a1.75,1.75 0 1,0 3.5,0a1.75,1.75 0 1,0 -3.5,0M149.2,673.6a1.75,1.75 0 1,0 3.5,0a1.75,1.75 0 1,0 -3.5,0M145.5,667.3a1.75,1.75 0 1,0 3.5,0a1.75,1.75 0 1,0 -3.5,0M157.7,688.0a1.75,1.75 0 1,0 3.5,0a1.75,1.75 0 1,0 -3.5,0M206.1,652.8a1.75,1.75 0 1,0 3.5,0a1.75,1.75 0 1,0 -3.5,0M224.0,659.4a1.75,1.75 0 1,0 3.5,0a1.75,1.75 0 1,0 -3.5,0M202.5,673.8a1.75,1.75 0 1,0 3.5,0a1.75,1.75 0 1,0 -3.5,0M221.6,658.7a1.75,1.75 0 1,0 3.5,0a1.75,1.75 0 1,0 -3.5,0M149.2,686.3a1.75,1.75 0 1,0 3.5,0a1.75,1.75 0 1,0 -3.5,0M151.2,686.9a1.75,1.75 0 1,0 3.5,0a1.75,1.75 0 1,0 -3.5,0M152.6,682.9a1.75,1.75 0 1,0 3.5,0a1.75,1.75 0 1,0 -3.5,0M197.3,677.1a1.75,1.75 0 1,0 3.5,0a1.75,1.75 0 1,0 -3.5,0M200.3,669.2a1.75,1.75 0 1,0 3.5,0a1.75,1.75 0 1,0 -3.5,0M209.0,658.4a1.75,1.75 0 1,0 3.5,0a1.75,1.75 0 1,0 -3.5,0M196.2,678.7a1.75,1.75 0 1,0 3.5,0a1.75,1.75 0 1,0 -3.5,0M219.5,647.0a1.75,1.75 0 1,0 3.5,0a1.75,1.75 0 1,0 -3.5,0M201.0,677.4a1.75,1.75 0 1,0 3.5,0a1.75,1.75 0 1,0 -3.5,0M151.3,677.1a1.75,1.75 0 1,0 3.5,0a1.75,1.75 0 1,0 -3.5,0M209.8,647.6a1.75,1.75 0 1,0 3.5,0a1.75,1.75 0 1,0 -3.5,0M141.0,670.3a1.75,1.75 0 1,0 3.5,0a1.75,1.75 0 1,0 -3.5,0M158.2,690.9a1.75,1.75 0 1,0 3.5,0a1.75,1.75 0 1,0 -3.5,0M152.9,680.5a1.75,1.75 0 1,0 3.5,0a1.75,1.75 0 1,0 -3.5,0M140.0,659.7a1.75,1.75 0 1,0 3.5,0a1.75,1.75 0 1,0 -3.5,0M142.5,661.7a1.75,1.75 0 1,0 3.5,0a1.75,1.75 0 1,0 -3.5,0M154.1,683.8a1.75,1.75 0 1,0 3.5,0a1.75,1.75 0 1,0 -3.5,0M206.1,655.9a1.75,1.75 0 1,0 3.5,0a1.75,1.75 0 1,0 -3.5,0M138.6,647.5a1.75,1.75 0 1,0 3.5,0a1.75,1.75 0 1,0 -3.5,0M203.8,666.0a1.75,1.75 0 1,0 3.5,0a1.75,1.75 0 1,0 -3.5,0M155.1,684.9a1.75,1.75 0 1,0 3.5,0a1.75,1.75 0 1,0 -3.5,0M151.9,678.6a1.75,1.75 0 1,0 3.5,0a1.75,1.75 0 1,0 -3.5,0M204.7,654.2a1.75,1.75 0 1,0 3.5,0a1.75,1.75 0 1,0 -3.5,0M145.1,671.6a1.75,1.75 0 1,0 3.5,0a1.75,1.75 0 1,0 -3.5,0M151.4,683.0a1.75,1.75 0 1,0 3.5,0a1.75,1.75 0 1,0 -3.5,0M153.5,684.9a1.75,1.75 0 1,0 3.5,0a1.75,1.75 0 1,0 -3.5,0M141.0,652.6a1.75,1.75 0 1,0 3.5,0a1.75,1.75 0 1,0 -3.5,0M152.2,682.9a1.75,1.75 0 1,0 3.5,0a1.75,1.75 0 1,0 -3.5,0M144.2,672.0a1.75,1.75 0 1,0 3.5,0a1.75,1.75 0 1,0 -3.5,0M136.9,665.7a1.75,1.75 0 1,0 3.5,0a1.75,1.75 0 1,0 -3.5,0M164.6,691.7a1.75,1.75 0 1,0 3.5,0a1.75,1.75 0 1,0 -3.5,0M153.2,681.4a1.75,1.75 0 1,0 3.5,0a1.75,1.75 0 1,0 -3.5,0M146.5,679.7a1.75,1.75 0 1,0 3.5,0a1.75,1.75 0 1,0 -3.5,0M137.2,665.7a1.75,1.75 0 1,0 3.5,0a1.75,1.75 0 1,0 -3.5,0M205.3,669.3a1.75,1.75 0 1,0 3.5,0a1.75,1.75 0 1,0 -3.5,0M209.3,646.6a1.75,1.75 0 1,0 3.5,0a1.75,1.75 0 1,0 -3.5,0M205.1,650.4a1.75,1.75 0 1,0 3.5,0a1.75,1.75 0 1,0 -3.5,0M198.2,673.7a1.75,1.75 0 1,0 3.5,0a1.75,1.75 0 1,0 -3.5,0M138.4,650.5a1.75,1.75 0 1,0 3.5,0a1.75,1.75 0 1,0 -3.5,0M194.4,688.5a1.75,1.75 0 1,0 3.5,0a1.75,1.75 0 1,0 -3.5,0M154.3,691.1a1.75,1.75 0 1,0 3.5,0a1.75,1.75 0 1,0 -3.5,0M138.6,648.8a1.75,1.75 0 1,0 3.5,0a1.75,1.75 0 1,0 -3.5,0M141.6,663.4a1.75,1.75 0 1,0 3.5,0a1.75,1.75 0 1,0 -3.5,0M203.4,684.5a1.75,1.75 0 1,0 3.5,0a1.75,1.75 0 1,0 -3.5,0M149.3,683.6a1.75,1.75 0 1,0 3.5,0a1.75,1.75 0 1,0 -3.5,0M206.9,648.4a1.75,1.75 0 1,0 3.5,0a1.75,1.75 0 1,0 -3.5,0M145.3,684.7a1.75,1.75 0 1,0 3.5,0a1.75,1.75 0 1,0 -3.5,0M204.1,660.6a1.75,1.75 0 1,0 3.5,0a1.75,1.75 0 1,0 -3.5,0M211.3,654.1a1.75,1.75 0 1,0 3.5,0a1.75,1.75 0 1,0 -3.5,0M144.1,662.1a1.75,1.75 0 1,0 3.5,0a1.75,1.75 0 1,0 -3.5,0M140.0,651.5a1.75,1.75 0 1,0 3.5,0a1.75,1.75 0 1,0 -3.5,0M151.8,677.9a1.75,1.75 0 1,0 3.5,0a1.75,1.75 0 1,0 -3.5,0M154.0,683.7a1.75,1.75 0 1,0 3.5,0a1.75,1.75 0 1,0 -3.5,0M144.1,667.9a1.75,1.75 0 1,0 3.5,0a1.75,1.75 0 1,0 -3.5,0M141.5,652.1a1.75,1.75 0 1,0 3.5,0a1.75,1.75 0 1,0 -3.5,0M151.0,682.3a1.75,1.75 0 1,0 3.5,0a1.75,1.75 0 1,0 -3.5,0M209.1,660.3a1.75,1.75 0 1,0 3.5,0a1.75,1.75 0 1,0 -3.5,0M157.3,685.3a1.75,1.75 0 1,0 3.5,0a1.75,1.75 0 1,0 -3.5,0M141.3,654.0a1.75,1.75 0 1,0 3.5,0a1.75,1.75 0 1,0 -3.5,0M134.0,678.3a1.75,1.75 0 1,0 3.5,0a1.75,1.75 0 1,0 -3.5,0M204.9,657.4a1.75,1.75 0 1,0 3.5,0a1.75,1.75 0 1,0 -3.5,0M194.3,683.5a1.75,1.75 0 1,0 3.5,0a1.75,1.75 0 1,0 -3.5,0M138.7,648.3a1.75,1.75 0 1,0 3.5,0a1.75,1.75 0 1,0 -3.5,0M207.2,654.5a1.75,1.75 0 1,0 3.5,0a1.75,1.75 0 1,0 -3.5,0M159.1,691.6a1.75,1.75 0 1,0 3.5,0a1.75,1.75 0 1,0 -3.5,0M208.3,670.6a1.75,1.75 0 1,0 3.5,0a1.75,1.75 0 1,0 -3.5,0M210.7,665.3a1.75,1.75 0 1,0 3.5,0a1.75,1.75 0 1,0 -3.5,0M140.2,654.0a1.75,1.75 0 1,0 3.5,0a1.75,1.75 0 1,0 -3.5,0M132.8,666.6a1.75,1.75 0 1,0 3.5,0a1.75,1.75 0 1,0 -3.5,0M136.8,648.2a1.75,1.75 0 1,0 3.5,0a1.75,1.75 0 1,0 -3.5,0M135.5,648.2a1.75,1.75 0 1,0 3.5,0a1.75,1.75 0 1,0 -3.5,0M207.4,681.4a1.75,1.75 0 1,0 3.5,0a1.75,1.75 0 1,0 -3.5,0M184.2,692.4a1.75,1.75 0 1,0 3.5,0a1.75,1.75 0 1,0 -3.5,0M204.1,679.3a1.75,1.75 0 1,0 3.5,0a1.75,1.75 0 1,0 -3.5,0M207.8,672.2a1.75,1.75 0 1,0 3.5,0a1.75,1.75 0 1,0 -3.5,0M144.4,661.9a1.75,1.75 0 1,0 3.5,0a1.75,1.75 0 1,0 -3.5,0M157.1,685.2a1.75,1.75 0 1,0 3.5,0a1.75,1.75 0 1,0 -3.5,0M209.2,655.3a1.75,1.75 0 1,0 3.5,0a1.75,1.75 0 1,0 -3.5,0M145.2,676.2a1.75,1.75 0 1,0 3.5,0a1.75,1.75 0 1,0 -3.5,0M195.7,682.2a1.75,1.75 0 1,0 3.5,0a1.75,1.75 0 1,0 -3.5,0M91.4,663.9a1.75,1.75 0 1,0 3.5,0a1.75,1.75 0 1,0 -3.5,0M242.0,649.9a1.75,1.75 0 1,0 3.5,0a1.75,1.75 0 1,0 -3.5,0M255.8,649.9a1.75,1.75 0 1,0 3.5,0a1.75,1.75 0 1,0 -3.5,0M227.8,679.0a1.75,1.75 0 1,0 3.5,0a1.75,1.75 0 1,0 -3.5,0M134.1,658.2a1.75,1.75 0 1,0 3.5,0a1.75,1.75 0 1,0 -3.5,0M138.2,663.9a1.75,1.75 0 1,0 3.5,0a1.75,1.75 0 1,0 -3.5,0M91.5,664.0a1.75,1.75 0 1,0 3.5,0a1.75,1.75 0 1,0 -3.5,0M118.3,666.1a1.75,1.75 0 1,0 3.5,0a1.75,1.75 0 1,0 -3.5,0M122.0,661.8a1.75,1.75 0 1,0 3.5,0a1.75,1.75 0 1,0 -3.5,0M126.8,655.5a1.75,1.75 0 1,0 3.5,0a1.75,1.75 0 1,0 -3.5,0M131.3,655.2a1.75,1.75 0 1,0 3.5,0a1.75,1.75 0 1,0 -3.5,0M134.8,657.6a1.75,1.75 0 1,0 3.5,0a1.75,1.75 0 1,0 -3.5,0M126.2,675.0a1.75,1.75 0 1,0 3.5,0a1.75,1.75 0 1,0 -3.5,0M129.1,679.6a1.75,1.75 0 1,0 3.5,0a1.75,1.75 0 1,0 -3.5,0M134.3,683.4a1.75,1.75 0 1,0 3.5,0a1.75,1.75 0 1,0 -3.5,0M132.8,668.4a1.75,1.75 0 1,0 3.5,0a1.75,1.75 0 1,0 -3.5,0M242.6,649.8a1.75,1.75 0 1,0 3.5,0a1.75,1.75 0 1,0 -3.5,0M255.8,650.8a1.75,1.75 0 1,0 3.5,0a1.75,1.75 0 1,0 -3.5,0M227.6,679.0a1.75,1.75 0 1,0 3.5,0a1.75,1.75 0 1,0 -3.5,0M210.2,650.0a1.75,1.75 0 1,0 3.5,0a1.75,1.75 0 1,0 -3.5,0M214.2,655.0a1.75,1.75 0 1,0 3.5,0a1.75,1.75 0 1,0 -3.5,0M218.2,648.0a1.75,1.75 0 1,0 3.5,0a1.75,1.75 0 1,0 -3.5,0M212.2,660.0a1.75,1.75 0 1,0 3.5,0a1.75,1.75 0 1,0 -3.5,0M222.2,652.0a1.75,1.75 0 1,0 3.5,0a1.75,1.75 0 1,0 -3.5,0M217.2,664.0a1.75,1.75 0 1,0 3.5,0a1.75,1.75 0 1,0 -3.5,0M207.2,668.0a1.75,1.75 0 1,0 3.5,0a1.75,1.75 0 1,0 -3.5,0" fill="#b4c3c7"/>
<path d="M150.1,642.1a1.75,1.75 0 1,0 3.5,0a1.75,1.75 0 1,0 -3.5,0M167.0,629.8a1.75,1.75 0 1,0 3.5,0a1.75,1.75 0 1,0 -3.5,0M167.8,618.0a1.75,1.75 0 1,0 3.5,0a1.75,1.75 0 1,0 -3.5,0M155.0,637.1a1.75,1.75 0 1,0 3.5,0a1.75,1.75 0 1,0 -3.5,0M156.9,634.9a1.75,1.75 0 1,0 3.5,0a1.75,1.75 0 1,0 -3.5,0M148.3,636.4a1.75,1.75 0 1,0 3.5,0a1.75,1.75 0 1,0 -3.5,0M146.8,626.7a1.75,1.75 0 1,0 3.5,0a1.75,1.75 0 1,0 -3.5,0M153.4,642.6a1.75,1.75 0 1,0 3.5,0a1.75,1.75 0 1,0 -3.5,0M151.8,635.5a1.75,1.75 0 1,0 3.5,0a1.75,1.75 0 1,0 -3.5,0M154.7,624.8a1.75,1.75 0 1,0 3.5,0a1.75,1.75 0 1,0 -3.5,0M154.4,636.7a1.75,1.75 0 1,0 3.5,0a1.75,1.75 0 1,0 -3.5,0M141.8,626.9a1.75,1.75 0 1,0 3.5,0a1.75,1.75 0 1,0 -3.5,0M158.1,601.4a1.75,1.75 0 1,0 3.5,0a1.75,1.75 0 1,0 -3.5,0M155.8,640.2a1.75,1.75 0 1,0 3.5,0a1.75,1.75 0 1,0 -3.5,0M150.7,638.1a1.75,1.75 0 1,0 3.5,0a1.75,1.75 0 1,0 -3.5,0M170.5,643.2a1.75,1.75 0 1,0 3.5,0a1.75,1.75 0 1,0 -3.5,0M150.0,639.8a1.75,1.75 0 1,0 3.5,0a1.75,1.75 0 1,0 -3.5,0M142.4,640.4a1.75,1.75 0 1,0 3.5,0a1.75,1.75 0 1,0 -3.5,0M145.6,639.4a1.75,1.75 0 1,0 3.5,0a1.75,1.75 0 1,0 -3.5,0M166.1,633.7a1.75,1.75 0 1,0 3.5,0a1.75,1.75 0 1,0 -3.5,0M141.7,643.4a1.75,1.75 0 1,0 3.5,0a1.75,1.75 0 1,0 -3.5,0M143.1,621.7a1.75,1.75 0 1,0 3.5,0a1.75,1.75 0 1,0 -3.5,0M152.9,620.1a1.75,1.75 0 1,0 3.5,0a1.75,1.75 0 1,0 -3.5,0M162.7,630.6a1.75,1.75 0 1,0 3.5,0a1.75,1.75 0 1,0 -3.5,0M142.0,622.6a1.75,1.75 0 1,0 3.5,0a1.75,1.75 0 1,0 -3.5,0M159.3,634.2a1.75,1.75 0 1,0 3.5,0a1.75,1.75 0 1,0 -3.5,0M156.1,642.6a1.75,1.75 0 1,0 3.5,0a1.75,1.75 0 1,0 -3.5,0M140.7,640.2a1.75,1.75 0 1,0 3.5,0a1.75,1.75 0 1,0 -3.5,0M168.7,631.2a1.75,1.75 0 1,0 3.5,0a1.75,1.75 0 1,0 -3.5,0M150.2,639.6a1.75,1.75 0 1,0 3.5,0a1.75,1.75 0 1,0 -3.5,0M166.1,641.7a1.75,1.75 0 1,0 3.5,0a1.75,1.75 0 1,0 -3.5,0M171.0,638.4a1.75,1.75 0 1,0 3.5,0a1.75,1.75 0 1,0 -3.5,0M168.6,606.1a1.75,1.75 0 1,0 3.5,0a1.75,1.75 0 1,0 -3.5,0M152.2,632.1a1.75,1.75 0 1,0 3.5,0a1.75,1.75 0 1,0 -3.5,0M162.5,642.4a1.75,1.75 0 1,0 3.5,0a1.75,1.75 0 1,0 -3.5,0M166.6,634.6a1.75,1.75 0 1,0 3.5,0a1.75,1.75 0 1,0 -3.5,0M161.4,605.7a1.75,1.75 0 1,0 3.5,0a1.75,1.75 0 1,0 -3.5,0M141.2,628.7a1.75,1.75 0 1,0 3.5,0a1.75,1.75 0 1,0 -3.5,0M158.4,638.1a1.75,1.75 0 1,0 3.5,0a1.75,1.75 0 1,0 -3.5,0M147.0,621.8a1.75,1.75 0 1,0 3.5,0a1.75,1.75 0 1,0 -3.5,0M157.2,637.1a1.75,1.75 0 1,0 3.5,0a1.75,1.75 0 1,0 -3.5,0M144.6,636.6a1.75,1.75 0 1,0 3.5,0a1.75,1.75 0 1,0 -3.5,0M158.0,638.4a1.75,1.75 0 1,0 3.5,0a1.75,1.75 0 1,0 -3.5,0M162.1,640.3a1.75,1.75 0 1,0 3.5,0a1.75,1.75 0 1,0 -3.5,0M151.8,628.3a1.75,1.75 0 1,0 3.5,0a1.75,1.75 0 1,0 -3.5,0M145.8,641.9a1.75,1.75 0 1,0 3.5,0a1.75,1.75 0 1,0 -3.5,0M143.2,637.3a1.75,1.75 0 1,0 3.5,0a1.75,1.75 0 1,0 -3.5,0M154.4,639.7a1.75,1.75 0 1,0 3.5,0a1.75,1.75 0 1,0 -3.5,0M155.3,624.7a1.75,1.75 0 1,0 3.5,0a1.75,1.75 0 1,0 -3.5,0M167.9,642.4a1.75,1.75 0 1,0 3.5,0a1.75,1.75 0 1,0 -3.5,0M143.5,641.0a1.75,1.75 0 1,0 3.5,0a1.75,1.75 0 1,0 -3.5,0M150.2,639.8a1.75,1.75 0 1,0 3.5,0a1.75,1.75 0 1,0 -3.5,0M150.8,632.1a1.75,1.75 0 1,0 3.5,0a1.75,1.75 0 1,0 -3.5,0M148.2,639.7a1.75,1.75 0 1,0 3.5,0a1.75,1.75 0 1,0 -3.5,0M149.0,630.0a1.75,1.75 0 1,0 3.5,0a1.75,1.75 0 1,0 -3.5,0M149.1,640.9a1.75,1.75 0 1,0 3.5,0a1.75,1.75 0 1,0 -3.5,0M159.4,635.8a1.75,1.75 0 1,0 3.5,0a1.75,1.75 0 1,0 -3.5,0M155.4,603.3a1.75,1.75 0 1,0 3.5,0a1.75,1.75 0 1,0 -3.5,0M153.0,599.5a1.75,1.75 0 1,0 3.5,0a1.75,1.75 0 1,0 -3.5,0M161.1,640.3a1.75,1.75 0 1,0 3.5,0a1.75,1.75 0 1,0 -3.5,0M167.0,618.0a1.75,1.75 0 1,0 3.5,0a1.75,1.75 0 1,0 -3.5,0M151.4,613.7a1.75,1.75 0 1,0 3.5,0a1.75,1.75 0 1,0 -3.5,0M148.3,588.3a1.75,1.75 0 1,0 3.5,0a1.75,1.75 0 1,0 -3.5,0M154.0,639.6a1.75,1.75 0 1,0 3.5,0a1.75,1.75 0 1,0 -3.5,0M146.0,638.1a1.75,1.75 0 1,0 3.5,0a1.75,1.75 0 1,0 -3.5,0M164.9,625.8a1.75,1.75 0 1,0 3.5,0a1.75,1.75 0 1,0 -3.5,0M147.7,641.4a1.75,1.75 0 1,0 3.5,0a1.75,1.75 0 1,0 -3.5,0M150.3,641.5a1.75,1.75 0 1,0 3.5,0a1.75,1.75 0 1,0 -3.5,0M159.8,643.4a1.75,1.75 0 1,0 3.5,0a1.75,1.75 0 1,0 -3.5,0M167.2,634.6a1.75,1.75 0 1,0 3.5,0a1.75,1.75 0 1,0 -3.5,0M157.5,638.3a1.75,1.75 0 1,0 3.5,0a1.75,1.75 0 1,0 -3.5,0M141.3,627.5a1.75,1.75 0 1,0 3.5,0a1.75,1.75 0 1,0 -3.5,0M168.5,629.6a1.75,1.75 0 1,0 3.5,0a1.75,1.75 0 1,0 -3.5,0M161.0,629.2a1.75,1.75 0 1,0 3.5,0a1.75,1.75 0 1,0 -3.5,0M151.6,642.8a1.75,1.75 0 1,0 3.5,0a1.75,1.75 0 1,0 -3.5,0M142.5,640.8a1.75,1.75 0 1,0 3.5,0a1.75,1.75 0 1,0 -3.5,0M156.5,633.9a1.75,1.75 0 1,0 3.5,0a1.75,1.75 0 1,0 -3.5,0M152.9,624.6a1.75,1.75 0 1,0 3.5,0a1.75,1.75 0 1,0 -3.5,0M168.7,619.3a1.75,1.75 0 1,0 3.5,0a1.75,1.75 0 1,0 -3.5,0M165.2,643.1a1.75,1.75 0 1,0 3.5,0a1.75,1.75 0 1,0 -3.5,0M158.1,636.6a1.75,1.75 0 1,0 3.5,0a1.75,1.75 0 1,0 -3.5,0M144.0,611.8a1.75,1.75 0 1,0 3.5,0a1.75,1.75 0 1,0 -3.5,0M153.6,639.1a1.75,1.75 0 1,0 3.5,0a1.75,1.75 0 1,0 -3.5,0M159.3,634.2a1.75,1.75 0 1,0 3.5,0a1.75,1.75 0 1,0 -3.5,0M148.1,642.7a1.75,1.75 0 1,0 3.5,0a1.75,1.75 0 1,0 -3.5,0M166.0,632.9a1.75,1.75 0 1,0 3.5,0a1.75,1.75 0 1,0 -3.5,0M151.0,636.9a1.75,1.75 0 1,0 3.5,0a1.75,1.75 0 1,0 -3.5,0M155.9,632.9a1.75,1.75 0 1,0 3.5,0a1.75,1.75 0 1,0 -3.5,0M169.1,643.3a1.75,1.75 0 1,0 3.5,0a1.75,1.75 0 1,0 -3.5,0M161.4,635.3a1.75,1.75 0 1,0 3.5,0a1.75,1.75 0 1,0 -3.5,0M151.8,631.8a1.75,1.75 0 1,0 3.5,0a1.75,1.75 0 1,0 -3.5,0M155.7,638.9a1.75,1.75 0 1,0 3.5,0a1.75,1.75 0 1,0 -3.5,0M160.6,635.5a1.75,1.75 0 1,0 3.5,0a1.75,1.75 0 1,0 -3.5,0M166.9,635.0a1.75,1.75 0 1,0 3.5,0a1.75,1.75 0 1,0 -3.5,0M157.0,640.9a1.75,1.75 0 1,0 3.5,0a1.75,1.75 0 1,0 -3.5,0M160.8,625.3a1.75,1.75 0 1,0 3.5,0a1.75,1.75 0 1,0 -3.5,0M150.1,621.5a1.75,1.75 0 1,0 3.5,0a1.75,1.75 0 1,0 -3.5,0M156.0,639.4a1.75,1.75 0 1,0 3.5,0a1.75,1.75 0 1,0 -3.5,0M141.3,637.4a1.75,1.75 0 1,0 3.5,0a1.75,1.75 0 1,0 -3.5,0M143.1,634.7a1.75,1.75 0 1,0 3.5,0a1.75,1.75 0 1,0 -3.5,0M167.3,619.8a1.75,1.75 0 1,0 3.5,0a1.75,1.75 0 1,0 -3.5,0M162.4,640.5a1.75,1.75 0 1,0 3.5,0a1.75,1.75 0 1,0 -3.5,0M159.4,632.8a1.75,1.75 0 1,0 3.5,0a1.75,1.75 0 1,0 -3.5,0M143.4,641.7a1.75,1.75 0 1,0 3.5,0a1.75,1.75 0 1,0 -3.5,0M145.8,635.8a1.75,1.75 0 1,0 3.5,0a1.75,1.75 0 1,0 -3.5,0M164.8,642.3a1.75,1.75 0 1,0 3.5,0a1.75,1.75 0 1,0 -3.5,0M162.8,642.6a1.75,1.75 0 1,0 3.5,0a1.75,1.75 0 1,0 -3.5,0M166.7,641.1a1.75,1.75 0 1,0 3.5,0a1.75,1.75 0 1,0 -3.5,0M142.5,639.0a1.75,1.75 0 1,0 3.5,0a1.75,1.75 0 1,0 -3.5,0M152.9,635.1a1.75,1.75 0 1,0 3.5,0a1.75,1.75 0 1,0 -3.5,0M151.9,636.7a1.75,1.75 0 1,0 3.5,0a1.75,1.75 0 1,0 -3.5,0M156.9,620.2a1.75,1.75 0 1,0 3.5,0a1.75,1.75 0 1,0 -3.5,0M147.2,633.9a1.75,1.75 0 1,0 3.5,0a1.75,1.75 0 1,0 -3.5,0M140.9,634.9a1.75,1.75 0 1,0 3.5,0a1.75,1.75 0 1,0 -3.5,0M153.9,627.3a1.75,1.75 0 1,0 3.5,0a1.75,1.75 0 1,0 -3.5,0M160.2,619.8a1.75,1.75 0 1,0 3.5,0a1.75,1.75 0 1,0 -3.5,0M165.5,637.3a1.75,1.75 0 1,0 3.5,0a1.75,1.75 0 1,0 -3.5,0M161.3,631.6a1.75,1.75 0 1,0 3.5,0a1.75,1.75 0 1,0 -3.5,0M158.9,637.1a1.75,1.75 0 1,0 3.5,0a1.75,1.75 0 1,0 -3.5,0M162.3,641.3a1.75,1.75 0 1,0 3.5,0a1.75,1.75 0 1,0 -3.5,0M149.9,642.3a1.75,1.75 0 1,0 3.5,0a1.75,1.75 0 1,0 -3.5,0M149.0,635.9a1.75,1.75 0 1,0 3.5,0a1.75,1.75 0 1,0 -3.5,0M153.9,626.5a1.75,1.75 0 1,0 3.5,0a1.75,1.75 0 1,0 -3.5,0M159.0,639.4a1.75,1.75 0 1,0 3.5,0a1.75,1.75 0 1,0 -3.5,0M144.3,634.5a1.75,1.75 0 1,0 3.5,0a1.75,1.75 0 1,0 -3.5,0M152.4,641.7a1.75,1.75 0 1,0 3.5,0a1.75,1.75 0 1,0 -3.5,0M155.0,628.9a1.75,1.75 0 1,0 3.5,0a1.75,1.75 0 1,0 -3.5,0M156.6,637.8a1.75,1.75 0 1,0 3.5,0a1.75,1.75 0 1,0 -3.5,0M148.0,632.1a1.75,1.75 0 1,0 3.5,0a1.75,1.75 0 1,0 -3.5,0M145.6,640.9a1.75,1.75 0 1,0 3.5,0a1.75,1.75 0 1,0 -3.5,0M146.1,640.8a1.75,1.75 0 1,0 3.5,0a1.75,1.75 0 1,0 -3.5,0M145.5,642.6a1.75,1.75 0 1,0 3.5,0a1.75,1.75 0 1,0 -3.5,0M151.5,625.4a1.75,1.75 0 1,0 3.5,0a1.75,1.75 0 1,0 -3.5,0M165.4,642.8a1.75,1.75 0 1,0 3.5,0a1.75,1.75 0 1,0 -3.5,0M159.8,638.9a1.75,1.75 0 1,0 3.5,0a1.75,1.75 0 1,0 -3.5,0M158.4,642.3a1.75,1.75 0 1,0 3.5,0a1.75,1.75 0 1,0 -3.5,0M160.3,604.3a1.75,1.75 0 1,0 3.5,0a1.75,1.75 0 1,0 -3.5,0M142.7,642.9a1.75,1.75 0 1,0 3.5,0a1.75,1.75 0 1,0 -3.5,0M159.9,642.9a1.75,1.75 0 1,0 3.5,0a1.75,1.75 0 1,0 -3.5,0M168.6,621.7a1.75,1.75 0 1,0 3.5,0a1.75,1.75 0 1,0 -3.5,0M149.5,636.7a1.75,1.75 0 1,0 3.5,0a1.75,1.75 0 1,0 -3.5,0M142.5,638.9a1.75,1.75 0 1,0 3.5,0a1.75,1.75 0 1,0 -3.5,0M151.6,634.5a1.75,1.75 0 1,0 3.5,0a1.75,1.75 0 1,0 -3.5,0M151.6,640.6a1.75,1.75 0 1,0 3.5,0a1.75,1.75 0 1,0 -3.5,0M171.3,641.6a1.75,1.75 0 1,0 3.5,0a1.75,1.75 0 1,0 -3.5,0M149.7,629.5a1.75,1.75 0 1,0 3.5,0a1.75,1.75 0 1,0 -3.5,0M142.6,640.3a1.75,1.75 0 1,0 3.5,0a1.75,1.75 0 1,0 -3.5,0M142.2,639.9a1.75,1.75 0 1,0 3.5,0a1.75,1.75 0 1,0 -3.5,0M152.5,637.8a1.75,1.75 0 1,0 3.5,0a1.75,1.75 0 1,0 -3.5,0M148.9,642.8a1.75,1.75 0 1,0 3.5,0a1.75,1.75 0 1,0 -3.5,0M156.6,626.0a1.75,1.75 0 1,0 3.5,0a1.75,1.75 0 1,0 -3.5,0M164.2,642.2a1.75,1.75 0 1,0 3.5,0a1.75,1.75 0 1,0 -3.5,0M165.9,643.3a1.75,1.75 0 1,0 3.5,0a1.75,1.75 0 1,0 -3.5,0M160.4,640.0a1.75,1.75 0 1,0 3.5,0a1.75,1.75 0 1,0 -3.5,0M166.7,638.3a1.75,1.75 0 1,0 3.5,0a1.75,1.75 0 1,0 -3.5,0M158.9,639.6a1.75,1.75 0 1,0 3.5,0a1.75,1.75 0 1,0 -3.5,0M155.0,640.8a1.75,1.75 0 1,0 3.5,0a1.75,1.75 0 1,0 -3.5,0M171.1,635.8a1.75,1.75 0 1,0 3.5,0a1.75,1.75 0 1,0 -3.5,0M160.7,641.2a1.75,1.75 0 1,0 3.5,0a1.75,1.75 0 1,0 -3.5,0M149.5,631.8a1.75,1.75 0 1,0 3.5,0a1.75,1.75 0 1,0 -3.5,0M159.6,639.5a1.75,1.75 0 1,0 3.5,0a1.75,1.75 0 1,0 -3.5,0M142.8,641.7a1.75,1.75 0 1,0 3.5,0a1.75,1.75 0 1,0 -3.5,0M140.4,628.0a1.75,1.75 0 1,0 3.5,0a1.75,1.75 0 1,0 -3.5,0M158.4,643.2a1.75,1.75 0 1,0 3.5,0a1.75,1.75 0 1,0 -3.5,0M155.7,628.6a1.75,1.75 0 1,0 3.5,0a1.75,1.75 0 1,0 -3.5,0M159.5,641.0a1.75,1.75 0 1,0 3.5,0a1.75,1.75 0 1,0 -3.5,0M163.1,604.4a1.75,1.75 0 1,0 3.5,0a1.75,1.75 0 1,0 -3.5,0M161.8,618.0a1.75,1.75 0 1,0 3.5,0a1.75,1.75 0 1,0 -3.5,0M162.2,642.7a1.75,1.75 0 1,0 3.5,0a1.75,1.75 0 1,0 -3.5,0M155.1,642.0a1.75,1.75 0 1,0 3.5,0a1.75,1.75 0 1,0 -3.5,0M150.8,640.8a1.75,1.75 0 1,0 3.5,0a1.75,1.75 0 1,0 -3.5,0M148.3,631.7a1.75,1.75 0 1,0 3.5,0a1.75,1.75 0 1,0 -3.5,0M154.6,627.7a1.75,1.75 0 1,0 3.5,0a1.75,1.75 0 1,0 -3.5,0M170.8,636.5a1.75,1.75 0 1,0 3.5,0a1.75,1.75 0 1,0 -3.5,0M149.9,627.0a1.75,1.75 0 1,0 3.5,0a1.75,1.75 0 1,0 -3.5,0M142.6,591.2a1.75,1.75 0 1,0 3.5,0a1.75,1.75 0 1,0 -3.5,0M155.0,636.3a1.75,1.75 0 1,0 3.5,0a1.75,1.75 0 1,0 -3.5,0M157.5,633.2a1.75,1.75 0 1,0 3.5,0a1.75,1.75 0 1,0 -3.5,0M163.1,622.3a1.75,1.75 0 1,0 3.5,0a1.75,1.75 0 1,0 -3.5,0M143.9,624.5a1.75,1.75 0 1,0 3.5,0a1.75,1.75 0 1,0 -3.5,0M168.0,625.4a1.75,1.75 0 1,0 3.5,0a1.75,1.75 0 1,0 -3.5,0M150.3,632.3a1.75,1.75 0 1,0 3.5,0a1.75,1.75 0 1,0 -3.5,0M159.7,622.1a1.75,1.75 0 1,0 3.5,0a1.75,1.75 0 1,0 -3.5,0M161.6,642.4a1.75,1.75 0 1,0 3.5,0a1.75,1.75 0 1,0 -3.5,0M161.8,634.3a1.75,1.75 0 1,0 3.5,0a1.75,1.75 0 1,0 -3.5,0M159.4,640.5a1.75,1.75 0 1,0 3.5,0a1.75,1.75 0 1,0 -3.5,0M155.2,637.6a1.75,1.75 0 1,0 3.5,0a1.75,1.75 0 1,0 -3.5,0M161.7,642.1a1.75,1.75 0 1,0 3.5,0a1.75,1.75 0 1,0 -3.5,0M169.5,630.3a1.75,1.75 0 1,0 3.5,0a1.75,1.75 0 1,0 -3.5,0M158.3,619.1a1.75,1.75 0 1,0 3.5,0a1.75,1.75 0 1,0 -3.5,0M152.6,633.7a1.75,1.75 0 1,0 3.5,0a1.75,1.75 0 1,0 -3.5,0M160.4,597.9a1.75,1.75 0 1,0 3.5,0a1.75,1.75 0 1,0 -3.5,0M141.0,604.7a1.75,1.75 0 1,0 3.5,0a1.75,1.75 0 1,0 -3.5,0M155.9,628.8a1.75,1.75 0 1,0 3.5,0a1.75,1.75 0 1,0 -3.5,0M168.4,641.9a1.75,1.75 0 1,0 3.5,0a1.75,1.75 0 1,0 -3.5,0M145.0,641.9a1.75,1.75 0 1,0 3.5,0a1.75,1.75 0 1,0 -3.5,0M161.4,619.9a1.75,1.75 0 1,0 3.5,0a1.75,1.75 0 1,0 -3.5,0M157.7,609.1a1.75,1.75 0 1,0 3.5,0a1.75,1.75 0 1,0 -3.5,0M142.8,624.3a1.75,1.75 0 1,0 3.5,0a1.75,1.75 0 1,0 -3.5,0M164.2,608.6a1.75,1.75 0 1,0 3.5,0a1.75,1.75 0 1,0 -3.5,0M160.3,640.2a1.75,1.75 0 1,0 3.5,0a1.75,1.75 0 1,0 -3.5,0M170.3,632.7a1.75,1.75 0 1,0 3.5,0a1.75,1.75 0 1,0 -3.5,0M162.3,629.0a1.75,1.75 0 1,0 3.5,0a1.75,1.75 0 1,0 -3.5,0M143.4,639.5a1.75,1.75 0 1,0 3.5,0a1.75,1.75 0 1,0 -3.5,0M169.0,627.0a1.75,1.75 0 1,0 3.5,0a1.75,1.75 0 1,0 -3.5,0M161.6,639.2a1.75,1.75 0 1,0 3.5,0a1.75,1.75 0 1,0 -3.5,0M151.4,628.1a1.75,1.75 0 1,0 3.5,0a1.75,1.75 0 1,0 -3.5,0M147.0,637.2a1.75,1.75 0 1,0 3.5,0a1.75,1.75 0 1,0 -3.5,0M147.9,638.7a1.75,1.75 0 1,0 3.5,0a1.75,1.75 0 1,0 -3.5,0M162.6,633.7a1.75,1.75 0 1,0 3.5,0a1.75,1.75 0 1,0 -3.5,0M169.7,641.2a1.75,1.75 0 1,0 3.5,0a1.75,1.75 0 1,0 -3.5,0M164.3,638.6a1.75,1.75 0 1,0 3.5,0a1.75,1.75 0 1,0 -3.5,0M141.8,626.7a1.75,1.75 0 1,0 3.5,0a1.75,1.75 0 1,0 -3.5,0M151.5,610.0a1.75,1.75 0 1,0 3.5,0a1.75,1.75 0 1,0 -3.5,0M142.5,633.9a1.75,1.75 0 1,0 3.5,0a1.75,1.75 0 1,0 -3.5,0M142.3,632.1a1.75,1.75 0 1,0 3.5,0a1.75,1.75 0 1,0 -3.5,0M157.6,641.5a1.75,1.75 0 1,0 3.5,0a1.75,1.75 0 1,0 -3.5,0M164.2,629.8a1.75,1.75 0 1,0 3.5,0a1.75,1.75 0 1,0 -3.5,0M163.0,591.5a1.75,1.75 0 1,0 3.5,0a1.75,1.75 0 1,0 -3.5,0M160.6,610.4a1.75,1.75 0 1,0 3.5,0a1.75,1.75 0 1,0 -3.5,0M151.1,640.4a1.75,1.75 0 1,0 3.5,0a1.75,1.75 0 1,0 -3.5,0M166.1,634.8a1.75,1.75 0 1,0 3.5,0a1.75,1.75 0 1,0 -3.5,0M143.3,628.6a1.75,1.75 0 1,0 3.5,0a1.75,1.75 0 1,0 -3.5,0M145.9,639.2a1.75,1.75 0 1,0 3.5,0a1.75,1.75 0 1,0 -3.5,0M156.0,642.2a1.75,1.75 0 1,0 3.5,0a1.75,1.75 0 1,0 -3.5,0M163.4,636.3a1.75,1.75 0 1,0 3.5,0a1.75,1.75 0 1,0 -3.5,0M154.9,632.8a1.75,1.75 0 1,0 3.5,0a1.75,1.75 0 1,0 -3.5,0M166.2,617.2a1.75,1.75 0 1,0 3.5,0a1.75,1.75 0 1,0 -3.5,0M153.2,634.0a1.75,1.75 0 1,0 3.5,0a1.75,1.75 0 1,0 -3.5,0M158.1,635.8a1.75,1.75 0 1,0 3.5,0a1.75,1.75 0 1,0 -3.5,0M145.6,626.2a1.75,1.75 0 1,0 3.5,0a1.75,1.75 0 1,0 -3.5,0M165.5,636.5a1.75,1.75 0 1,0 3.5,0a1.75,1.75 0 1,0 -3.5,0M167.3,629.9a1.75,1.75 0 1,0 3.5,0a1.75,1.75 0 1,0 -3.5,0M154.1,637.1a1.75,1.75 0 1,0 3.5,0a1.75,1.75 0 1,0 -3.5,0M167.5,640.4a1.75,1.75 0 1,0 3.5,0a1.75,1.75 0 1,0 -3.5,0M142.3,623.7a1.75,1.75 0 1,0 3.5,0a1.75,1.75 0 1,0 -3.5,0M156.5,641.6a1.75,1.75 0 1,0 3.5,0a1.75,1.75 0 1,0 -3.5,0M145.7,613.4a1.75,1.75 0 1,0 3.5,0a1.75,1.75 0 1,0 -3.5,0M145.3,637.8a1.75,1.75 0 1,0 3.5,0a1.75,1.75 0 1,0 -3.5,0M149.7,634.4a1.75,1.75 0 1,0 3.5,0a1.75,1.75 0 1,0 -3.5,0M169.6,599.1a1.75,1.75 0 1,0 3.5,0a1.75,1.75 0 1,0 -3.5,0M157.4,633.4a1.75,1.75 0 1,0 3.5,0a1.75,1.75 0 1,0 -3.5,0M163.3,642.8a1.75,1.75 0 1,0 3.5,0a1.75,1.75 0 1,0 -3.5,0M164.6,637.8a1.75,1.75 0 1,0 3.5,0a1.75,1.75 0 1,0 -3.5,0M157.2,639.2a1.75,1.75 0 1,0 3.5,0a1.75,1.75 0 1,0 -3.5,0M162.9,616.5a1.75,1.75 0 1,0 3.5,0a1.75,1.75 0 1,0 -3.5,0M146.0,626.9a1.75,1.75 0 1,0 3.5,0a1.75,1.75 0 1,0 -3.5,0M170.3,642.3a1.75,1.75 0 1,0 3.5,0a1.75,1.75 0 1,0 -3.5,0M162.6,641.6a1.75,1.75 0 1,0 3.5,0a1.75,1.75 0 1,0 -3.5,0M163.6,621.4a1.75,1.75 0 1,0 3.5,0a1.75,1.75 0 1,0 -3.5,0M164.1,641.3a1.75,1.75 0 1,0 3.5,0a1.75,1.75 0 1,0 -3.5,0M169.3,626.3a1.75,1.75 0 1,0 3.5,0a1.75,1.75 0 1,0 -3.5,0M152.7,637.5a1.75,1.75 0 1,0 3.5,0a1.75,1.75 0 1,0 -3.5,0M152.4,633.8a1.75,1.75 0 1,0 3.5,0a1.75,1.75 0 1,0 -3.5,0M155.1,635.6a1.75,1.75 0 1,0 3.5,0a1.75,1.75 0 1,0 -3.5,0M155.9,638.7a1.75,1.75 0 1,0 3.5,0a1.75,1.75 0 1,0 -3.5,0M164.1,641.7a1.75,1.75 0 1,0 3.5,0a1.75,1.75 0 1,0 -3.5,0M161.7,633.7a1.75,1.75 0 1,0 3.5,0a1.75,1.75 0 1,0 -3.5,0M169.2,640.3a1.75,1.75 0 1,0 3.5,0a1.75,1.75 0 1,0 -3.5,0M152.1,638.5a1.75,1.75 0 1,0 3.5,0a1.75,1.75 0 1,0 -3.5,0M144.7,623.2a1.75,1.75 0 1,0 3.5,0a1.75,1.75 0 1,0 -3.5,0M140.8,643.1a1.75,1.75 0 1,0 3.5,0a1.75,1.75 0 1,0 -3.5,0M164.2,623.3a1.75,1.75 0 1,0 3.5,0a1.75,1.75 0 1,0 -3.5,0M161.7,641.2a1.75,1.75 0 1,0 3.5,0a1.75,1.75 0 1,0 -3.5,0M149.2,614.8a1.75,1.75 0 1,0 3.5,0a1.75,1.75 0 1,0 -3.5,0M152.9,614.3a1.75,1.75 0 1,0 3.5,0a1.75,1.75 0 1,0 -3.5,0M143.7,584.4a1.75,1.75 0 1,0 3.5,0a1.75,1.75 0 1,0 -3.5,0M152.7,641.0a1.75,1.75 0 1,0 3.5,0a1.75,1.75 0 1,0 -3.5,0M142.9,642.3a1.75,1.75 0 1,0 3.5,0a1.75,1.75 0 1,0 -3.5,0M168.1,642.7a1.75,1.75 0 1,0 3.5,0a1.75,1.75 0 1,0 -3.5,0M152.0,633.5a1.75,1.75 0 1,0 3.5,0a1.75,1.75 0 1,0 -3.5,0M142.9,631.5a1.75,1.75 0 1,0 3.5,0a1.75,1.75 0 1,0 -3.5,0M154.0,587.0a1.75,1.75 0 1,0 3.5,0a1.75,1.75 0 1,0 -3.5,0M167.7,633.5a1.75,1.75 0 1,0 3.5,0a1.75,1.75 0 1,0 -3.5,0M150.1,587.8a1.75,1.75 0 1,0 3.5,0a1.75,1.75 0 1,0 -3.5,0M142.7,640.0a1.75,1.75 0 1,0 3.5,0a1.75,1.75 0 1,0 -3.5,0M148.9,638.9a1.75,1.75 0 1,0 3.5,0a1.75,1.75 0 1,0 -3.5,0M140.4,624.4a1.75,1.75 0 1,0 3.5,0a1.75,1.75 0 1,0 -3.5,0M166.2,641.9a1.75,1.75 0 1,0 3.5,0a1.75,1.75 0 1,0 -3.5,0M149.4,636.0a1.75,1.75 0 1,0 3.5,0a1.75,1.75 0 1,0 -3.5,0M170.8,641.2a1.75,1.75 0 1,0 3.5,0a1.75,1.75 0 1,0 -3.5,0M157.1,635.5a1.75,1.75 0 1,0 3.5,0a1.75,1.75 0 1,0 -3.5,0M166.7,631.6a1.75,1.75 0 1,0 3.5,0a1.75,1.75 0 1,0 -3.5,0M163.4,605.3a1.75,1.75 0 1,0 3.5,0a1.75,1.75 0 1,0 -3.5,0M162.5,642.9a1.75,1.75 0 1,0 3.5,0a1.75,1.75 0 1,0 -3.5,0M148.8,633.8a1.75,1.75 0 1,0 3.5,0a1.75,1.75 0 1,0 -3.5,0M149.5,642.2a1.75,1.75 0 1,0 3.5,0a1.75,1.75 0 1,0 -3.5,0M157.9,643.3a1.75,1.75 0 1,0 3.5,0a1.75,1.75 0 1,0 -3.5,0M158.7,635.3a1.75,1.75 0 1,0 3.5,0a1.75,1.75 0 1,0 -3.5,0M155.8,634.5a1.75,1.75 0 1,0 3.5,0a1.75,1.75 0 1,0 -3.5,0M147.4,642.9a1.75,1.75 0 1,0 3.5,0a1.75,1.75 0 1,0 -3.5,0M163.7,642.9a1.75,1.75 0 1,0 3.5,0a1.75,1.75 0 1,0 -3.5,0M153.3,638.4a1.75,1.75 0 1,0 3.5,0a1.75,1.75 0 1,0 -3.5,0M166.2,639.0a1.75,1.75 0 1,0 3.5,0a1.75,1.75 0 1,0 -3.5,0M165.9,633.3a1.75,1.75 0 1,0 3.5,0a1.75,1.75 0 1,0 -3.5,0M144.5,632.1a1.75,1.75 0 1,0 3.5,0a1.75,1.75 0 1,0 -3.5,0M164.0,626.2a1.75,1.75 0 1,0 3.5,0a1.75,1.75 0 1,0 -3.5,0M155.4,642.2a1.75,1.75 0 1,0 3.5,0a1.75,1.75 0 1,0 -3.5,0M145.8,638.7a1.75,1.75 0 1,0 3.5,0a1.75,1.75 0 1,0 -3.5,0M155.3,643.3a1.75,1.75 0 1,0 3.5,0a1.75,1.75 0 1,0 -3.5,0M157.7,622.7a1.75,1.75 0 1,0 3.5,0a1.75,1.75 0 1,0 -3.5,0M170.9,642.6a1.75,1.75 0 1,0 3.5,0a1.75,1.75 0 1,0 -3.5,0M158.3,602.3a1.75,1.75 0 1,0 3.5,0a1.75,1.75 0 1,0 -3.5,0M159.4,635.8a1.75,1.75 0 1,0 3.5,0a1.75,1.75 0 1,0 -3.5,0M142.3,616.0a1.75,1.75 0 1,0 3.5,0a1.75,1.75 0 1,0 -3.5,0M165.0,623.1a1.75,1.75 0 1,0 3.5,0a1.75,1.75 0 1,0 -3.5,0M145.7,636.1a1.75,1.75 0 1,0 3.5,0a1.75,1.75 0 1,0 -3.5,0M144.2,639.9a1.75,1.75 0 1,0 3.5,0a1.75,1.75 0 1,0 -3.5,0M158.3,643.4a1.75,1.75 0 1,0 3.5,0a1.75,1.75 0 1,0 -3.5,0M158.3,630.5a1.75,1.75 0 1,0 3.5,0a1.75,1.75 0 1,0 -3.5,0M155.3,641.2a1.75,1.75 0 1,0 3.5,0a1.75,1.75 0 1,0 -3.5,0M170.2,630.5a1.75,1.75 0 1,0 3.5,0a1.75,1.75 0 1,0 -3.5,0M164.6,641.1a1.75,1.75 0 1,0 3.5,0a1.75,1.75 0 1,0 -3.5,0M162.9,639.2a1.75,1.75 0 1,0 3.5,0a1.75,1.75 0 1,0 -3.5,0M157.5,634.6a1.75,1.75 0 1,0 3.5,0a1.75,1.75 0 1,0 -3.5,0M151.0,596.7a1.75,1.75 0 1,0 3.5,0a1.75,1.75 0 1,0 -3.5,0M159.7,640.7a1.75,1.75 0 1,0 3.5,0a1.75,1.75 0 1,0 -3.5,0M148.9,635.0a1.75,1.75 0 1,0 3.5,0a1.75,1.75 0 1,0 -3.5,0M159.6,638.8a1.75,1.75 0 1,0 3.5,0a1.75,1.75 0 1,0 -3.5,0M152.1,604.4a1.75,1.75 0 1,0 3.5,0a1.75,1.75 0 1,0 -3.5,0M156.8,640.8a1.75,1.75 0 1,0 3.5,0a1.75,1.75 0 1,0 -3.5,0M168.0,636.0a1.75,1.75 0 1,0 3.5,0a1.75,1.75 0 1,0 -3.5,0M146.3,639.5a1.75,1.75 0 1,0 3.5,0a1.75,1.75 0 1,0 -3.5,0M141.4,637.4a1.75,1.75 0 1,0 3.5,0a1.75,1.75 0 1,0 -3.5,0M142.3,637.3a1.75,1.75 0 1,0 3.5,0a1.75,1.75 0 1,0 -3.5,0M162.8,634.4a1.75,1.75 0 1,0 3.5,0a1.75,1.75 0 1,0 -3.5,0M145.1,633.0a1.75,1.75 0 1,0 3.5,0a1.75,1.75 0 1,0 -3.5,0M161.0,630.7a1.75,1.75 0 1,0 3.5,0a1.75,1.75 0 1,0 -3.5,0M159.2,638.8a1.75,1.75 0 1,0 3.5,0a1.75,1.75 0 1,0 -3.5,0M156.2,642.8a1.75,1.75 0 1,0 3.5,0a1.75,1.75 0 1,0 -3.5,0M158.7,611.3a1.75,1.75 0 1,0 3.5,0a1.75,1.75 0 1,0 -3.5,0M146.0,634.4a1.75,1.75 0 1,0 3.5,0a1.75,1.75 0 1,0 -3.5,0M161.8,625.6a1.75,1.75 0 1,0 3.5,0a1.75,1.75 0 1,0 -3.5,0M162.1,616.8a1.75,1.75 0 1,0 3.5,0a1.75,1.75 0 1,0 -3.5,0M146.3,623.8a1.75,1.75 0 1,0 3.5,0a1.75,1.75 0 1,0 -3.5,0M163.8,643.3a1.75,1.75 0 1,0 3.5,0a1.75,1.75 0 1,0 -3.5,0M146.9,617.1a1.75,1.75 0 1,0 3.5,0a1.75,1.75 0 1,0 -3.5,0M151.7,606.1a1.75,1.75 0 1,0 3.5,0a1.75,1.75 0 1,0 -3.5,0M149.4,600.4a1.75,1.75 0 1,0 3.5,0a1.75,1.75 0 1,0 -3.5,0M163.9,631.3a1.75,1.75 0 1,0 3.5,0a1.75,1.75 0 1,0 -3.5,0M150.8,642.7a1.75,1.75 0 1,0 3.5,0a1.75,1.75 0 1,0 -3.5,0M164.0,640.3a1.75,1.75 0 1,0 3.5,0a1.75,1.75 0 1,0 -3.5,0M144.9,643.1a1.75,1.75 0 1,0 3.5,0a1.75,1.75 0 1,0 -3.5,0M140.3,622.7a1.75,1.75 0 1,0 3.5,0a1.75,1.75 0 1,0 -3.5,0M165.2,641.5a1.75,1.75 0 1,0 3.5,0a1.75,1.75 0 1,0 -3.5,0M150.9,642.9a1.75,1.75 0 1,0 3.5,0a1.75,1.75 0 1,0 -3.5,0M157.0,610.0a1.75,1.75 0 1,0 3.5,0a1.75,1.75 0 1,0 -3.5,0M167.7,636.4a1.75,1.75 0 1,0 3.5,0a1.75,1.75 0 1,0 -3.5,0M161.7,637.5a1.75,1.75 0 1,0 3.5,0a1.75,1.75 0 1,0 -3.5,0M149.6,638.2a1.75,1.75 0 1,0 3.5,0a1.75,1.75 0 1,0 -3.5,0M168.8,623.1a1.75,1.75 0 1,0 3.5,0a1.75,1.75 0 1,0 -3.5,0M163.5,632.9a1.75,1.75 0 1,0 3.5,0a1.75,1.75 0 1,0 -3.5,0M158.5,636.0a1.75,1.75 0 1,0 3.5,0a1.75,1.75 0 1,0 -3.5,0M154.3,594.2a1.75,1.75 0 1,0 3.5,0a1.75,1.75 0 1,0 -3.5,0M149.4,636.3a1.75,1.75 0 1,0 3.5,0a1.75,1.75 0 1,0 -3.5,0M144.8,640.0a1.75,1.75 0 1,0 3.5,0a1.75,1.75 0 1,0 -3.5,0M153.0,639.0a1.75,1.75 0 1,0 3.5,0a1.75,1.75 0 1,0 -3.5,0M165.3,642.4a1.75,1.75 0 1,0 3.5,0a1.75,1.75 0 1,0 -3.5,0M163.4,630.5a1.75,1.75 0 1,0 3.5,0a1.75,1.75 0 1,0 -3.5,0M150.2,629.1a1.75,1.75 0 1,0 3.5,0a1.75,1.75 0 1,0 -3.5,0M147.3,641.8a1.75,1.75 0 1,0 3.5,0a1.75,1.75 0 1,0 -3.5,0M168.2,636.4a1.75,1.75 0 1,0 3.5,0a1.75,1.75 0 1,0 -3.5,0M170.2,625.7a1.75,1.75 0 1,0 3.5,0a1.75,1.75 0 1,0 -3.5,0M169.8,632.9a1.75,1.75 0 1,0 3.5,0a1.75,1.75 0 1,0 -3.5,0M146.2,628.5a1.75,1.75 0 1,0 3.5,0a1.75,1.75 0 1,0 -3.5,0M142.4,643.1a1.75,1.75 0 1,0 3.5,0a1.75,1.75 0 1,0 -3.5,0M145.3,585.6a1.75,1.75 0 1,0 3.5,0a1.75,1.75 0 1,0 -3.5,0M167.5,640.9a1.75,1.75 0 1,0 3.5,0a1.75,1.75 0 1,0 -3.5,0M141.4,635.3a1.75,1.75 0 1,0 3.5,0a1.75,1.75 0 1,0 -3.5,0M149.4,614.1a1.75,1.75 0 1,0 3.5,0a1.75,1.75 0 1,0 -3.5,0M159.7,630.1a1.75,1.75 0 1,0 3.5,0a1.75,1.75 0 1,0 -3.5,0M153.1,641.7a1.75,1.75 0 1,0 3.5,0a1.75,1.75 0 1,0 -3.5,0M147.3,609.8a1.75,1.75 0 1,0 3.5,0a1.75,1.75 0 1,0 -3.5,0M161.7,625.4a1.75,1.75 0 1,0 3.5,0a1.75,1.75 0 1,0 -3.5,0M151.5,636.9a1.75,1.75 0 1,0 3.5,0a1.75,1.75 0 1,0 -3.5,0M145.8,601.5a1.75,1.75 0 1,0 3.5,0a1.75,1.75 0 1,0 -3.5,0M160.7,625.1a1.75,1.75 0 1,0 3.5,0a1.75,1.75 0 1,0 -3.5,0M156.7,626.7a1.75,1.75 0 1,0 3.5,0a1.75,1.75 0 1,0 -3.5,0M156.2,634.8a1.75,1.75 0 1,0 3.5,0a1.75,1.75 0 1,0 -3.5,0M163.0,636.3a1.75,1.75 0 1,0 3.5,0a1.75,1.75 0 1,0 -3.5,0M154.8,637.2a1.75,1.75 0 1,0 3.5,0a1.75,1.75 0 1,0 -3.5,0M141.1,621.7a1.75,1.75 0 1,0 3.5,0a1.75,1.75 0 1,0 -3.5,0M149.1,634.2a1.75,1.75 0 1,0 3.5,0a1.75,1.75 0 1,0 -3.5,0M164.6,629.4a1.75,1.75 0 1,0 3.5,0a1.75,1.75 0 1,0 -3.5,0M151.8,637.2a1.75,1.75 0 1,0 3.5,0a1.75,1.75 0 1,0 -3.5,0M169.0,637.6a1.75,1.75 0 1,0 3.5,0a1.75,1.75 0 1,0 -3.5,0M170.7,630.3a1.75,1.75 0 1,0 3.5,0a1.75,1.75 0 1,0 -3.5,0M145.2,639.0a1.75,1.75 0 1,0 3.5,0a1.75,1.75 0 1,0 -3.5,0M169.2,623.8a1.75,1.75 0 1,0 3.5,0a1.75,1.75 0 1,0 -3.5,0M152.2,628.4a1.75,1.75 0 1,0 3.5,0a1.75,1.75 0 1,0 -3.5,0M164.4,640.7a1.75,1.75 0 1,0 3.5,0a1.75,1.75 0 1,0 -3.5,0M169.4,640.8a1.75,1.75 0 1,0 3.5,0a1.75,1.75 0 1,0 -3.5,0M166.2,641.7a1.75,1.75 0 1,0 3.5,0a1.75,1.75 0 1,0 -3.5,0M156.1,639.3a1.75,1.75 0 1,0 3.5,0a1.75,1.75 0 1,0 -3.5,0M150.7,641.5a1.75,1.75 0 1,0 3.5,0a1.75,1.75 0 1,0 -3.5,0M141.8,640.5a1.75,1.75 0 1,0 3.5,0a1.75,1.75 0 1,0 -3.5,0M162.3,636.0a1.75,1.75 0 1,0 3.5,0a1.75,1.75 0 1,0 -3.5,0M141.6,641.0a1.75,1.75 0 1,0 3.5,0a1.75,1.75 0 1,0 -3.5,0M140.5,640.5a1.75,1.75 0 1,0 3.5,0a1.75,1.75 0 1,0 -3.5,0M170.7,643.0a1.75,1.75 0 1,0 3.5,0a1.75,1.75 0 1,0 -3.5,0M143.8,634.8a1.75,1.75 0 1,0 3.5,0a1.75,1.75 0 1,0 -3.5,0M157.9,622.5a1.75,1.75 0 1,0 3.5,0a1.75,1.75 0 1,0 -3.5,0M141.1,643.2a1.75,1.75 0 1,0 3.5,0a1.75,1.75 0 1,0 -3.5,0M152.3,634.2a1.75,1.75 0 1,0 3.5,0a1.75,1.75 0 1,0 -3.5,0M151.5,639.9a1.75,1.75 0 1,0 3.5,0a1.75,1.75 0 1,0 -3.5,0M162.5,638.0a1.75,1.75 0 1,0 3.5,0a1.75,1.75 0 1,0 -3.5,0M142.4,629.2a1.75,1.75 0 1,0 3.5,0a1.75,1.75 0 1,0 -3.5,0M165.3,613.4a1.75,1.75 0 1,0 3.5,0a1.75,1.75 0 1,0 -3.5,0M150.7,642.9a1.75,1.75 0 1,0 3.5,0a1.75,1.75 0 1,0 -3.5,0M159.5,631.9a1.75,1.75 0 1,0 3.5,0a1.75,1.75 0 1,0 -3.5,0M160.5,634.0a1.75,1.75 0 1,0 3.5,0a1.75,1.75 0 1,0 -3.5,0M164.3,643.4a1.75,1.75 0 1,0 3.5,0a1.75,1.75 0 1,0 -3.5,0M148.0,637.9a1.75,1.75 0 1,0 3.5,0a1.75,1.75 0 1,0 -3.5,0M147.6,626.3a1.75,1.75 0 1,0 3.5,0a1.75,1.75 0 1,0 -3.5,0M150.7,642.6a1.75,1.75 0 1,0 3.5,0a1.75,1.75 0 1,0 -3.5,0M158.2,632.9a1.75,1.75 0 1,0 3.5,0a1.75,1.75 0 1,0 -3.5,0M155.4,642.0a1.75,1.75 0 1,0 3.5,0a1.75,1.75 0 1,0 -3.5,0M161.2,639.9a1.75,1.75 0 1,0 3.5,0a1.75,1.75 0 1,0 -3.5,0M147.3,642.6a1.75,1.75 0 1,0 3.5,0a1.75,1.75 0 1,0 -3.5,0M142.7,619.6a1.75,1.75 0 1,0 3.5,0a1.75,1.75 0 1,0 -3.5,0M157.3,614.4a1.75,1.75 0 1,0 3.5,0a1.75,1.75 0 1,0 -3.5,0M151.2,625.5a1.75,1.75 0 1,0 3.5,0a1.75,1.75 0 1,0 -3.5,0M154.3,630.1a1.75,1.75 0 1,0 3.5,0a1.75,1.75 0 1,0 -3.5,0M148.0,606.5a1.75,1.75 0 1,0 3.5,0a1.75,1.75 0 1,0 -3.5,0M160.9,614.2a1.75,1.75 0 1,0 3.5,0a1.75,1.75 0 1,0 -3.5,0M142.1,642.0a1.75,1.75 0 1,0 3.5,0a1.75,1.75 0 1,0 -3.5,0M148.4,632.3a1.75,1.75 0 1,0 3.5,0a1.75,1.75 0 1,0 -3.5,0M154.3,642.7a1.75,1.75 0 1,0 3.5,0a1.75,1.75 0 1,0 -3.5,0M159.6,638.1a1.75,1.75 0 1,0 3.5,0a1.75,1.75 0 1,0 -3.5,0M140.5,623.5a1.75,1.75 0 1,0 3.5,0a1.75,1.75 0 1,0 -3.5,0M162.0,633.9a1.75,1.75 0 1,0 3.5,0a1.75,1.75 0 1,0 -3.5,0M161.9,634.3a1.75,1.75 0 1,0 3.5,0a1.75,1.75 0 1,0 -3.5,0M147.4,643.0a1.75,1.75 0 1,0 3.5,0a1.75,1.75 0 1,0 -3.5,0M150.0,599.6a1.75,1.75 0 1,0 3.5,0a1.75,1.75 0 1,0 -3.5,0M170.3,641.5a1.75,1.75 0 1,0 3.5,0a1.75,1.75 0 1,0 -3.5,0M155.9,638.9a1.75,1.75 0 1,0 3.5,0a1.75,1.75 0 1,0 -3.5,0M158.8,626.2a1.75,1.75 0 1,0 3.5,0a1.75,1.75 0 1,0 -3.5,0M149.1,643.3a1.75,1.75 0 1,0 3.5,0a1.75,1.75 0 1,0 -3.5,0M170.4,599.7a1.75,1.75 0 1,0 3.5,0a1.75,1.75 0 1,0 -3.5,0M150.4,609.8a1.75,1.75 0 1,0 3.5,0a1.75,1.75 0 1,0 -3.5,0M155.4,635.2a1.75,1.75 0 1,0 3.5,0a1.75,1.75 0 1,0 -3.5,0M151.7,633.0a1.75,1.75 0 1,0 3.5,0a1.75,1.75 0 1,0 -3.5,0M169.5,638.7a1.75,1.75 0 1,0 3.5,0a1.75,1.75 0 1,0 -3.5,0M147.9,623.8a1.75,1.75 0 1,0 3.5,0a1.75,1.75 0 1,0 -3.5,0M147.2,625.4a1.75,1.75 0 1,0 3.5,0a1.75,1.75 0 1,0 -3.5,0M157.0,618.4a1.75,1.75 0 1,0 3.5,0a1.75,1.75 0 1,0 -3.5,0M162.3,637.1a1.75,1.75 0 1,0 3.5,0a1.75,1.75 0 1,0 -3.5,0M150.7,640.5a1.75,1.75 0 1,0 3.5,0a1.75,1.75 0 1,0 -3.5,0M168.5,643.0a1.75,1.75 0 1,0 3.5,0a1.75,1.75 0 1,0 -3.5,0M156.3,630.7a1.75,1.75 0 1,0 3.5,0a1.75,1.75 0 1,0 -3.5,0M165.4,629.5a1.75,1.75 0 1,0 3.5,0a1.75,1.75 0 1,0 -3.5,0M153.2,627.6a1.75,1.75 0 1,0 3.5,0a1.75,1.75 0 1,0 -3.5,0M151.7,637.4a1.75,1.75 0 1,0 3.5,0a1.75,1.75 0 1,0 -3.5,0M145.3,635.9a1.75,1.75 0 1,0 3.5,0a1.75,1.75 0 1,0 -3.5,0M149.6,620.3a1.75,1.75 0 1,0 3.5,0a1.75,1.75 0 1,0 -3.5,0M149.4,639.7a1.75,1.75 0 1,0 3.5,0a1.75,1.75 0 1,0 -3.5,0M171.4,642.3a1.75,1.75 0 1,0 3.5,0a1.75,1.75 0 1,0 -3.5,0M153.5,642.7a1.75,1.75 0 1,0 3.5,0a1.75,1.75 0 1,0 -3.5,0M158.9,641.0a1.75,1.75 0 1,0 3.5,0a1.75,1.75 0 1,0 -3.5,0M167.9,634.8a1.75,1.75 0 1,0 3.5,0a1.75,1.75 0 1,0 -3.5,0M150.6,643.1a1.75,1.75 0 1,0 3.5,0a1.75,1.75 0 1,0 -3.5,0M152.2,637.6a1.75,1.75 0 1,0 3.5,0a1.75,1.75 0 1,0 -3.5,0M157.0,636.6a1.75,1.75 0 1,0 3.5,0a1.75,1.75 0 1,0 -3.5,0M167.2,634.3a1.75,1.75 0 1,0 3.5,0a1.75,1.75 0 1,0 -3.5,0M164.8,596.3a1.75,1.75 0 1,0 3.5,0a1.75,1.75 0 1,0 -3.5,0M144.6,621.5a1.75,1.75 0 1,0 3.5,0a1.75,1.75 0 1,0 -3.5,0M135.5,608.2a1.75,1.75 0 1,0 3.5,0a1.75,1.75 0 1,0 -3.5,0M133.0,628.1a1.75,1.75 0 1,0 3.5,0a1.75,1.75 0 1,0 -3.5,0M130.6,620.2a1.75,1.75 0 1,0 3.5,0a1.75,1.75 0 1,0 -3.5,0M137.7,625.1a1.75,1.75 0 1,0 3.5,0a1.75,1.75 0 1,0 -3.5,0M136.2,620.4a1.75,1.75 0 1,0 3.5,0a1.75,1.75 0 1,0 -3.5,0M136.7,622.3a1.75,1.75 0 1,0 3.5,0a1.75,1.75 0 1,0 -3.5,0M130.4,598.0a1.75,1.75 0 1,0 3.5,0a1.75,1.75 0 1,0 -3.5,0M137.6,629.1a1.75,1.75 0 1,0 3.5,0a1.75,1.75 0 1,0 -3.5,0M136.4,632.6a1.75,1.75 0 1,0 3.5,0a1.75,1.75 0 1,0 -3.5,0M138.0,621.1a1.75,1.75 0 1,0 3.5,0a1.75,1.75 0 1,0 -3.5,0M136.0,639.5a1.75,1.75 0 1,0 3.5,0a1.75,1.75 0 1,0 -3.5,0M135.0,621.6a1.75,1.75 0 1,0 3.5,0a1.75,1.75 0 1,0 -3.5,0M90.6,633.6a1.75,1.75 0 1,0 3.5,0a1.75,1.75 0 1,0 -3.5,0M102.4,620.4a1.75,1.75 0 1,0 3.5,0a1.75,1.75 0 1,0 -3.5,0M108.9,604.5a1.75,1.75 0 1,0 3.5,0a1.75,1.75 0 1,0 -3.5,0M151.2,558.0a1.75,1.75 0 1,0 3.5,0a1.75,1.75 0 1,0 -3.5,0M157.8,570.1a1.75,1.75 0 1,0 3.5,0a1.75,1.75 0 1,0 -3.5,0M134.1,588.3a1.75,1.75 0 1,0 3.5,0a1.75,1.75 0 1,0 -3.5,0M136.2,578.8a1.75,1.75 0 1,0 3.5,0a1.75,1.75 0 1,0 -3.5,0M132.1,601.5a1.75,1.75 0 1,0 3.5,0a1.75,1.75 0 1,0 -3.5,0M138.2,573.1a1.75,1.75 0 1,0 3.5,0a1.75,1.75 0 1,0 -3.5,0" fill="#52edfd"/>
<path d="M181.8,621.4a1.75,1.75 0 1,0 3.5,0a1.75,1.75 0 1,0 -3.5,0M182.8,640.1a1.75,1.75 0 1,0 3.5,0a1.75,1.75 0 1,0 -3.5,0M214.8,594.7a1.75,1.75 0 1,0 3.5,0a1.75,1.75 0 1,0 -3.5,0M204.7,631.1a1.75,1.75 0 1,0 3.5,0a1.75,1.75 0 1,0 -3.5,0M191.6,640.6a1.75,1.75 0 1,0 3.5,0a1.75,1.75 0 1,0 -3.5,0M188.8,621.5a1.75,1.75 0 1,0 3.5,0a1.75,1.75 0 1,0 -3.5,0M183.5,641.1a1.75,1.75 0 1,0 3.5,0a1.75,1.75 0 1,0 -3.5,0M204.9,612.9a1.75,1.75 0 1,0 3.5,0a1.75,1.75 0 1,0 -3.5,0M196.1,641.0a1.75,1.75 0 1,0 3.5,0a1.75,1.75 0 1,0 -3.5,0M193.2,631.5a1.75,1.75 0 1,0 3.5,0a1.75,1.75 0 1,0 -3.5,0M182.7,641.3a1.75,1.75 0 1,0 3.5,0a1.75,1.75 0 1,0 -3.5,0M179.0,643.2a1.75,1.75 0 1,0 3.5,0a1.75,1.75 0 1,0 -3.5,0M205.3,629.6a1.75,1.75 0 1,0 3.5,0a1.75,1.75 0 1,0 -3.5,0M192.0,619.8a1.75,1.75 0 1,0 3.5,0a1.75,1.75 0 1,0 -3.5,0M184.9,643.1a1.75,1.75 0 1,0 3.5,0a1.75,1.75 0 1,0 -3.5,0M215.7,598.3a1.75,1.75 0 1,0 3.5,0a1.75,1.75 0 1,0 -3.5,0M213.9,624.0a1.75,1.75 0 1,0 3.5,0a1.75,1.75 0 1,0 -3.5,0M181.4,629.4a1.75,1.75 0 1,0 3.5,0a1.75,1.75 0 1,0 -3.5,0M179.5,626.9a1.75,1.75 0 1,0 3.5,0a1.75,1.75 0 1,0 -3.5,0M200.8,612.7a1.75,1.75 0 1,0 3.5,0a1.75,1.75 0 1,0 -3.5,0M196.8,621.7a1.75,1.75 0 1,0 3.5,0a1.75,1.75 0 1,0 -3.5,0M182.2,618.2a1.75,1.75 0 1,0 3.5,0a1.75,1.75 0 1,0 -3.5,0M190.6,640.4a1.75,1.75 0 1,0 3.5,0a1.75,1.75 0 1,0 -3.5,0M200.4,630.3a1.75,1.75 0 1,0 3.5,0a1.75,1.75 0 1,0 -3.5,0M211.4,603.7a1.75,1.75 0 1,0 3.5,0a1.75,1.75 0 1,0 -3.5,0M190.9,577.0a1.75,1.75 0 1,0 3.5,0a1.75,1.75 0 1,0 -3.5,0M200.8,628.0a1.75,1.75 0 1,0 3.5,0a1.75,1.75 0 1,0 -3.5,0M205.8,639.6a1.75,1.75 0 1,0 3.5,0a1.75,1.75 0 1,0 -3.5,0M186.2,625.6a1.75,1.75 0 1,0 3.5,0a1.75,1.75 0 1,0 -3.5,0M181.3,643.4a1.75,1.75 0 1,0 3.5,0a1.75,1.75 0 1,0 -3.5,0M206.7,629.9a1.75,1.75 0 1,0 3.5,0a1.75,1.75 0 1,0 -3.5,0M203.1,620.5a1.75,1.75 0 1,0 3.5,0a1.75,1.75 0 1,0 -3.5,0M186.6,601.2a1.75,1.75 0 1,0 3.5,0a1.75,1.75 0 1,0 -3.5,0M190.3,636.6a1.75,1.75 0 1,0 3.5,0a1.75,1.75 0 1,0 -3.5,0M209.4,620.9a1.75,1.75 0 1,0 3.5,0a1.75,1.75 0 1,0 -3.5,0M211.6,637.4a1.75,1.75 0 1,0 3.5,0a1.75,1.75 0 1,0 -3.5,0M179.6,641.9a1.75,1.75 0 1,0 3.5,0a1.75,1.75 0 1,0 -3.5,0M195.0,623.4a1.75,1.75 0 1,0 3.5,0a1.75,1.75 0 1,0 -3.5,0M191.4,638.5a1.75,1.75 0 1,0 3.5,0a1.75,1.75 0 1,0 -3.5,0M190.0,620.9a1.75,1.75 0 1,0 3.5,0a1.75,1.75 0 1,0 -3.5,0M186.0,640.4a1.75,1.75 0 1,0 3.5,0a1.75,1.75 0 1,0 -3.5,0M193.1,637.3a1.75,1.75 0 1,0 3.5,0a1.75,1.75 0 1,0 -3.5,0M191.4,630.6a1.75,1.75 0 1,0 3.5,0a1.75,1.75 0 1,0 -3.5,0M196.2,628.4a1.75,1.75 0 1,0 3.5,0a1.75,1.75 0 1,0 -3.5,0M188.2,628.6a1.75,1.75 0 1,0 3.5,0a1.75,1.75 0 1,0 -3.5,0M192.5,642.6a1.75,1.75 0 1,0 3.5,0a1.75,1.75 0 1,0 -3.5,0M203.3,624.7a1.75,1.75 0 1,0 3.5,0a1.75,1.75 0 1,0 -3.5,0M179.3,636.1a1.75,1.75 0 1,0 3.5,0a1.75,1.75 0 1,0 -3.5,0M194.3,632.4a1.75,1.75 0 1,0 3.5,0a1.75,1.75 0 1,0 -3.5,0M178.8,614.8a1.75,1.75 0 1,0 3.5,0a1.75,1.75 0 1,0 -3.5,0M196.9,636.0a1.75,1.75 0 1,0 3.5,0a1.75,1.75 0 1,0 -3.5,0M194.0,608.9a1.75,1.75 0 1,0 3.5,0a1.75,1.75 0 1,0 -3.5,0M199.2,643.0a1.75,1.75 0 1,0 3.5,0a1.75,1.75 0 1,0 -3.5,0M198.6,642.5a1.75,1.75 0 1,0 3.5,0a1.75,1.75 0 1,0 -3.5,0M187.2,637.8a1.75,1.75 0 1,0 3.5,0a1.75,1.75 0 1,0 -3.5,0M203.5,630.8a1.75,1.75 0 1,0 3.5,0a1.75,1.75 0 1,0 -3.5,0M188.4,612.1a1.75,1.75 0 1,0 3.5,0a1.75,1.75 0 1,0 -3.5,0M187.4,635.0a1.75,1.75 0 1,0 3.5,0a1.75,1.75 0 1,0 -3.5,0M187.2,630.3a1.75,1.75 0 1,0 3.5,0a1.75,1.75 0 1,0 -3.5,0M200.9,615.8a1.75,1.75 0 1,0 3.5,0a1.75,1.75 0 1,0 -3.5,0M188.4,607.8a1.75,1.75 0 1,0 3.5,0a1.75,1.75 0 1,0 -3.5,0M197.7,631.5a1.75,1.75 0 1,0 3.5,0a1.75,1.75 0 1,0 -3.5,0M185.0,592.8a1.75,1.75 0 1,0 3.5,0a1.75,1.75 0 1,0 -3.5,0M192.3,620.9a1.75,1.75 0 1,0 3.5,0a1.75,1.75 0 1,0 -3.5,0M198.7,641.0a1.75,1.75 0 1,0 3.5,0a1.75,1.75 0 1,0 -3.5,0M180.5,587.3a1.75,1.75 0 1,0 3.5,0a1.75,1.75 0 1,0 -3.5,0M197.9,639.0a1.75,1.75 0 1,0 3.5,0a1.75,1.75 0 1,0 -3.5,0M205.6,629.1a1.75,1.75 0 1,0 3.5,0a1.75,1.75 0 1,0 -3.5,0M198.5,641.3a1.75,1.75 0 1,0 3.5,0a1.75,1.75 0 1,0 -3.5,0M196.1,626.3a1.75,1.75 0 1,0 3.5,0a1.75,1.75 0 1,0 -3.5,0M179.9,641.0a1.75,1.75 0 1,0 3.5,0a1.75,1.75 0 1,0 -3.5,0M213.3,634.9a1.75,1.75 0 1,0 3.5,0a1.75,1.75 0 1,0 -3.5,0M215.7,638.5a1.75,1.75 0 1,0 3.5,0a1.75,1.75 0 1,0 -3.5,0M195.0,597.4a1.75,1.75 0 1,0 3.5,0a1.75,1.75 0 1,0 -3.5,0M196.6,616.8a1.75,1.75 0 1,0 3.5,0a1.75,1.75 0 1,0 -3.5,0M204.8,642.7a1.75,1.75 0 1,0 3.5,0a1.75,1.75 0 1,0 -3.5,0M179.3,636.8a1.75,1.75 0 1,0 3.5,0a1.75,1.75 0 1,0 -3.5,0M193.9,632.5a1.75,1.75 0 1,0 3.5,0a1.75,1.75 0 1,0 -3.5,0M190.5,643.0a1.75,1.75 0 1,0 3.5,0a1.75,1.75 0 1,0 -3.5,0M192.9,621.8a1.75,1.75 0 1,0 3.5,0a1.75,1.75 0 1,0 -3.5,0M205.1,605.6a1.75,1.75 0 1,0 3.5,0a1.75,1.75 0 1,0 -3.5,0M193.7,638.6a1.75,1.75 0 1,0 3.5,0a1.75,1.75 0 1,0 -3.5,0M185.3,628.9a1.75,1.75 0 1,0 3.5,0a1.75,1.75 0 1,0 -3.5,0M195.3,642.4a1.75,1.75 0 1,0 3.5,0a1.75,1.75 0 1,0 -3.5,0M207.4,621.8a1.75,1.75 0 1,0 3.5,0a1.75,1.75 0 1,0 -3.5,0M179.6,632.7a1.75,1.75 0 1,0 3.5,0a1.75,1.75 0 1,0 -3.5,0M210.4,597.0a1.75,1.75 0 1,0 3.5,0a1.75,1.75 0 1,0 -3.5,0M196.8,616.6a1.75,1.75 0 1,0 3.5,0a1.75,1.75 0 1,0 -3.5,0M188.9,616.7a1.75,1.75 0 1,0 3.5,0a1.75,1.75 0 1,0 -3.5,0M211.4,638.8a1.75,1.75 0 1,0 3.5,0a1.75,1.75 0 1,0 -3.5,0M186.7,625.0a1.75,1.75 0 1,0 3.5,0a1.75,1.75 0 1,0 -3.5,0M195.8,621.2a1.75,1.75 0 1,0 3.5,0a1.75,1.75 0 1,0 -3.5,0M180.3,596.6a1.75,1.75 0 1,0 3.5,0a1.75,1.75 0 1,0 -3.5,0M207.4,642.0a1.75,1.75 0 1,0 3.5,0a1.75,1.75 0 1,0 -3.5,0M193.9,627.6a1.75,1.75 0 1,0 3.5,0a1.75,1.75 0 1,0 -3.5,0M186.7,629.4a1.75,1.75 0 1,0 3.5,0a1.75,1.75 0 1,0 -3.5,0M192.7,597.7a1.75,1.75 0 1,0 3.5,0a1.75,1.75 0 1,0 -3.5,0M184.3,638.8a1.75,1.75 0 1,0 3.5,0a1.75,1.75 0 1,0 -3.5,0M190.9,637.4a1.75,1.75 0 1,0 3.5,0a1.75,1.75 0 1,0 -3.5,0M212.0,618.0a1.75,1.75 0 1,0 3.5,0a1.75,1.75 0 1,0 -3.5,0M201.8,632.4a1.75,1.75 0 1,0 3.5,0a1.75,1.75 0 1,0 -3.5,0M189.1,640.9a1.75,1.75 0 1,0 3.5,0a1.75,1.75 0 1,0 -3.5,0M193.0,639.0a1.75,1.75 0 1,0 3.5,0a1.75,1.75 0 1,0 -3.5,0M178.6,612.2a1.75,1.75 0 1,0 3.5,0a1.75,1.75 0 1,0 -3.5,0M193.8,631.0a1.75,1.75 0 1,0 3.5,0a1.75,1.75 0 1,0 -3.5,0M197.3,630.1a1.75,1.75 0 1,0 3.5,0a1.75,1.75 0 1,0 -3.5,0M178.9,643.1a1.75,1.75 0 1,0 3.5,0a1.75,1.75 0 1,0 -3.5,0M192.9,641.3a1.75,1.75 0 1,0 3.5,0a1.75,1.75 0 1,0 -3.5,0M184.1,639.4a1.75,1.75 0 1,0 3.5,0a1.75,1.75 0 1,0 -3.5,0M199.3,638.7a1.75,1.75 0 1,0 3.5,0a1.75,1.75 0 1,0 -3.5,0M211.5,642.4a1.75,1.75 0 1,0 3.5,0a1.75,1.75 0 1,0 -3.5,0M193.7,604.2a1.75,1.75 0 1,0 3.5,0a1.75,1.75 0 1,0 -3.5,0M185.4,623.3a1.75,1.75 0 1,0 3.5,0a1.75,1.75 0 1,0 -3.5,0M199.6,637.6a1.75,1.75 0 1,0 3.5,0a1.75,1.75 0 1,0 -3.5,0M203.8,583.4a1.75,1.75 0 1,0 3.5,0a1.75,1.75 0 1,0 -3.5,0M201.0,627.5a1.75,1.75 0 1,0 3.5,0a1.75,1.75 0 1,0 -3.5,0M200.5,640.9a1.75,1.75 0 1,0 3.5,0a1.75,1.75 0 1,0 -3.5,0M215.2,643.0a1.75,1.75 0 1,0 3.5,0a1.75,1.75 0 1,0 -3.5,0M189.2,637.6a1.75,1.75 0 1,0 3.5,0a1.75,1.75 0 1,0 -3.5,0M203.2,643.4a1.75,1.75 0 1,0 3.5,0a1.75,1.75 0 1,0 -3.5,0M180.1,623.8a1.75,1.75 0 1,0 3.5,0a1.75,1.75 0 1,0 -3.5,0M195.1,610.0a1.75,1.75 0 1,0 3.5,0a1.75,1.75 0 1,0 -3.5,0M196.2,632.0a1.75,1.75 0 1,0 3.5,0a1.75,1.75 0 1,0 -3.5,0M190.3,642.5a1.75,1.75 0 1,0 3.5,0a1.75,1.75 0 1,0 -3.5,0M212.9,607.3a1.75,1.75 0 1,0 3.5,0a1.75,1.75 0 1,0 -3.5,0M211.1,639.7a1.75,1.75 0 1,0 3.5,0a1.75,1.75 0 1,0 -3.5,0M208.4,642.6a1.75,1.75 0 1,0 3.5,0a1.75,1.75 0 1,0 -3.5,0M202.1,638.8a1.75,1.75 0 1,0 3.5,0a1.75,1.75 0 1,0 -3.5,0M189.3,639.3a1.75,1.75 0 1,0 3.5,0a1.75,1.75 0 1,0 -3.5,0M208.3,643.3a1.75,1.75 0 1,0 3.5,0a1.75,1.75 0 1,0 -3.5,0M181.4,636.0a1.75,1.75 0 1,0 3.5,0a1.75,1.75 0 1,0 -3.5,0M191.8,634.5a1.75,1.75 0 1,0 3.5,0a1.75,1.75 0 1,0 -3.5,0M181.6,626.3a1.75,1.75 0 1,0 3.5,0a1.75,1.75 0 1,0 -3.5,0M196.2,629.1a1.75,1.75 0 1,0 3.5,0a1.75,1.75 0 1,0 -3.5,0M210.8,642.4a1.75,1.75 0 1,0 3.5,0a1.75,1.75 0 1,0 -3.5,0M194.1,642.6a1.75,1.75 0 1,0 3.5,0a1.75,1.75 0 1,0 -3.5,0M198.9,637.0a1.75,1.75 0 1,0 3.5,0a1.75,1.75 0 1,0 -3.5,0M198.2,624.7a1.75,1.75 0 1,0 3.5,0a1.75,1.75 0 1,0 -3.5,0M189.6,641.9a1.75,1.75 0 1,0 3.5,0a1.75,1.75 0 1,0 -3.5,0M206.5,628.6a1.75,1.75 0 1,0 3.5,0a1.75,1.75 0 1,0 -3.5,0M201.9,614.4a1.75,1.75 0 1,0 3.5,0a1.75,1.75 0 1,0 -3.5,0M192.1,640.6a1.75,1.75 0 1,0 3.5,0a1.75,1.75 0 1,0 -3.5,0M196.5,631.9a1.75,1.75 0 1,0 3.5,0a1.75,1.75 0 1,0 -3.5,0M195.6,623.1a1.75,1.75 0 1,0 3.5,0a1.75,1.75 0 1,0 -3.5,0M205.7,643.1a1.75,1.75 0 1,0 3.5,0a1.75,1.75 0 1,0 -3.5,0M205.9,639.6a1.75,1.75 0 1,0 3.5,0a1.75,1.75 0 1,0 -3.5,0M199.9,635.5a1.75,1.75 0 1,0 3.5,0a1.75,1.75 0 1,0 -3.5,0M184.1,642.6a1.75,1.75 0 1,0 3.5,0a1.75,1.75 0 1,0 -3.5,0M200.7,636.2a1.75,1.75 0 1,0 3.5,0a1.75,1.75 0 1,0 -3.5,0M205.7,638.3a1.75,1.75 0 1,0 3.5,0a1.75,1.75 0 1,0 -3.5,0M194.9,642.4a1.75,1.75 0 1,0 3.5,0a1.75,1.75 0 1,0 -3.5,0M195.6,626.5a1.75,1.75 0 1,0 3.5,0a1.75,1.75 0 1,0 -3.5,0M198.0,618.1a1.75,1.75 0 1,0 3.5,0a1.75,1.75 0 1,0 -3.5,0M191.0,638.8a1.75,1.75 0 1,0 3.5,0a1.75,1.75 0 1,0 -3.5,0M193.6,615.0a1.75,1.75 0 1,0 3.5,0a1.75,1.75 0 1,0 -3.5,0M199.2,621.3a1.75,1.75 0 1,0 3.5,0a1.75,1.75 0 1,0 -3.5,0M196.2,579.4a1.75,1.75 0 1,0 3.5,0a1.75,1.75 0 1,0 -3.5,0M184.7,627.8a1.75,1.75 0 1,0 3.5,0a1.75,1.75 0 1,0 -3.5,0M211.3,640.6a1.75,1.75 0 1,0 3.5,0a1.75,1.75 0 1,0 -3.5,0M195.0,638.7a1.75,1.75 0 1,0 3.5,0a1.75,1.75 0 1,0 -3.5,0M185.8,636.6a1.75,1.75 0 1,0 3.5,0a1.75,1.75 0 1,0 -3.5,0M201.7,631.2a1.75,1.75 0 1,0 3.5,0a1.75,1.75 0 1,0 -3.5,0M194.6,633.2a1.75,1.75 0 1,0 3.5,0a1.75,1.75 0 1,0 -3.5,0M188.5,639.6a1.75,1.75 0 1,0 3.5,0a1.75,1.75 0 1,0 -3.5,0M184.3,641.9a1.75,1.75 0 1,0 3.5,0a1.75,1.75 0 1,0 -3.5,0M185.5,599.5a1.75,1.75 0 1,0 3.5,0a1.75,1.75 0 1,0 -3.5,0M186.1,643.0a1.75,1.75 0 1,0 3.5,0a1.75,1.75 0 1,0 -3.5,0M203.1,614.5a1.75,1.75 0 1,0 3.5,0a1.75,1.75 0 1,0 -3.5,0M205.7,641.9a1.75,1.75 0 1,0 3.5,0a1.75,1.75 0 1,0 -3.5,0M206.8,641.2a1.75,1.75 0 1,0 3.5,0a1.75,1.75 0 1,0 -3.5,0M196.0,630.6a1.75,1.75 0 1,0 3.5,0a1.75,1.75 0 1,0 -3.5,0M192.8,627.9a1.75,1.75 0 1,0 3.5,0a1.75,1.75 0 1,0 -3.5,0M193.3,633.0a1.75,1.75 0 1,0 3.5,0a1.75,1.75 0 1,0 -3.5,0M196.4,640.7a1.75,1.75 0 1,0 3.5,0a1.75,1.75 0 1,0 -3.5,0M188.8,641.6a1.75,1.75 0 1,0 3.5,0a1.75,1.75 0 1,0 -3.5,0M184.8,612.2a1.75,1.75 0 1,0 3.5,0a1.75,1.75 0 1,0 -3.5,0M204.5,622.7a1.75,1.75 0 1,0 3.5,0a1.75,1.75 0 1,0 -3.5,0M185.1,633.3a1.75,1.75 0 1,0 3.5,0a1.75,1.75 0 1,0 -3.5,0M200.7,639.7a1.75,1.75 0 1,0 3.5,0a1.75,1.75 0 1,0 -3.5,0M207.5,631.2a1.75,1.75 0 1,0 3.5,0a1.75,1.75 0 1,0 -3.5,0M195.3,624.6a1.75,1.75 0 1,0 3.5,0a1.75,1.75 0 1,0 -3.5,0M206.8,642.0a1.75,1.75 0 1,0 3.5,0a1.75,1.75 0 1,0 -3.5,0M203.9,642.7a1.75,1.75 0 1,0 3.5,0a1.75,1.75 0 1,0 -3.5,0M184.8,618.0a1.75,1.75 0 1,0 3.5,0a1.75,1.75 0 1,0 -3.5,0M195.7,634.1a1.75,1.75 0 1,0 3.5,0a1.75,1.75 0 1,0 -3.5,0M182.9,640.2a1.75,1.75 0 1,0 3.5,0a1.75,1.75 0 1,0 -3.5,0M188.2,638.2a1.75,1.75 0 1,0 3.5,0a1.75,1.75 0 1,0 -3.5,0M183.7,611.1a1.75,1.75 0 1,0 3.5,0a1.75,1.75 0 1,0 -3.5,0M203.3,632.1a1.75,1.75 0 1,0 3.5,0a1.75,1.75 0 1,0 -3.5,0M213.0,638.4a1.75,1.75 0 1,0 3.5,0a1.75,1.75 0 1,0 -3.5,0M194.2,640.4a1.75,1.75 0 1,0 3.5,0a1.75,1.75 0 1,0 -3.5,0M206.2,638.0a1.75,1.75 0 1,0 3.5,0a1.75,1.75 0 1,0 -3.5,0M185.8,638.4a1.75,1.75 0 1,0 3.5,0a1.75,1.75 0 1,0 -3.5,0M213.5,613.7a1.75,1.75 0 1,0 3.5,0a1.75,1.75 0 1,0 -3.5,0M205.3,610.7a1.75,1.75 0 1,0 3.5,0a1.75,1.75 0 1,0 -3.5,0M181.5,626.8a1.75,1.75 0 1,0 3.5,0a1.75,1.75 0 1,0 -3.5,0M183.9,602.3a1.75,1.75 0 1,0 3.5,0a1.75,1.75 0 1,0 -3.5,0M209.6,635.2a1.75,1.75 0 1,0 3.5,0a1.75,1.75 0 1,0 -3.5,0M185.2,643.2a1.75,1.75 0 1,0 3.5,0a1.75,1.75 0 1,0 -3.5,0M185.8,632.1a1.75,1.75 0 1,0 3.5,0a1.75,1.75 0 1,0 -3.5,0M193.2,632.1a1.75,1.75 0 1,0 3.5,0a1.75,1.75 0 1,0 -3.5,0M198.2,639.4a1.75,1.75 0 1,0 3.5,0a1.75,1.75 0 1,0 -3.5,0M197.9,619.3a1.75,1.75 0 1,0 3.5,0a1.75,1.75 0 1,0 -3.5,0M202.9,605.3a1.75,1.75 0 1,0 3.5,0a1.75,1.75 0 1,0 -3.5,0M194.9,625.0a1.75,1.75 0 1,0 3.5,0a1.75,1.75 0 1,0 -3.5,0M206.5,642.8a1.75,1.75 0 1,0 3.5,0a1.75,1.75 0 1,0 -3.5,0M196.1,630.4a1.75,1.75 0 1,0 3.5,0a1.75,1.75 0 1,0 -3.5,0M190.0,623.6a1.75,1.75 0 1,0 3.5,0a1.75,1.75 0 1,0 -3.5,0M204.0,629.7a1.75,1.75 0 1,0 3.5,0a1.75,1.75 0 1,0 -3.5,0M200.6,626.2a1.75,1.75 0 1,0 3.5,0a1.75,1.75 0 1,0 -3.5,0M204.1,624.0a1.75,1.75 0 1,0 3.5,0a1.75,1.75 0 1,0 -3.5,0M212.0,615.9a1.75,1.75 0 1,0 3.5,0a1.75,1.75 0 1,0 -3.5,0M190.0,610.0a1.75,1.75 0 1,0 3.5,0a1.75,1.75 0 1,0 -3.5,0M189.6,622.1a1.75,1.75 0 1,0 3.5,0a1.75,1.75 0 1,0 -3.5,0M186.0,627.0a1.75,1.75 0 1,0 3.5,0a1.75,1.75 0 1,0 -3.5,0M186.5,628.2a1.75,1.75 0 1,0 3.5,0a1.75,1.75 0 1,0 -3.5,0M178.9,635.6a1.75,1.75 0 1,0 3.5,0a1.75,1.75 0 1,0 -3.5,0M187.9,643.1a1.75,1.75 0 1,0 3.5,0a1.75,1.75 0 1,0 -3.5,0M181.1,641.9a1.75,1.75 0 1,0 3.5,0a1.75,1.75 0 1,0 -3.5,0M194.3,641.2a1.75,1.75 0 1,0 3.5,0a1.75,1.75 0 1,0 -3.5,0M196.0,637.0a1.75,1.75 0 1,0 3.5,0a1.75,1.75 0 1,0 -3.5,0M184.4,634.1a1.75,1.75 0 1,0 3.5,0a1.75,1.75 0 1,0 -3.5,0M198.4,633.5a1.75,1.75 0 1,0 3.5,0a1.75,1.75 0 1,0 -3.5,0M187.7,634.0a1.75,1.75 0 1,0 3.5,0a1.75,1.75 0 1,0 -3.5,0M194.2,619.1a1.75,1.75 0 1,0 3.5,0a1.75,1.75 0 1,0 -3.5,0M207.6,637.0a1.75,1.75 0 1,0 3.5,0a1.75,1.75 0 1,0 -3.5,0M200.0,635.4a1.75,1.75 0 1,0 3.5,0a1.75,1.75 0 1,0 -3.5,0M181.8,607.3a1.75,1.75 0 1,0 3.5,0a1.75,1.75 0 1,0 -3.5,0M183.2,639.0a1.75,1.75 0 1,0 3.5,0a1.75,1.75 0 1,0 -3.5,0M212.3,616.3a1.75,1.75 0 1,0 3.5,0a1.75,1.75 0 1,0 -3.5,0M208.4,643.3a1.75,1.75 0 1,0 3.5,0a1.75,1.75 0 1,0 -3.5,0M190.8,636.5a1.75,1.75 0 1,0 3.5,0a1.75,1.75 0 1,0 -3.5,0M183.4,618.6a1.75,1.75 0 1,0 3.5,0a1.75,1.75 0 1,0 -3.5,0M193.5,637.5a1.75,1.75 0 1,0 3.5,0a1.75,1.75 0 1,0 -3.5,0M192.1,635.2a1.75,1.75 0 1,0 3.5,0a1.75,1.75 0 1,0 -3.5,0M184.6,608.7a1.75,1.75 0 1,0 3.5,0a1.75,1.75 0 1,0 -3.5,0M207.6,609.1a1.75,1.75 0 1,0 3.5,0a1.75,1.75 0 1,0 -3.5,0M206.8,613.8a1.75,1.75 0 1,0 3.5,0a1.75,1.75 0 1,0 -3.5,0M197.9,641.1a1.75,1.75 0 1,0 3.5,0a1.75,1.75 0 1,0 -3.5,0M201.1,639.7a1.75,1.75 0 1,0 3.5,0a1.75,1.75 0 1,0 -3.5,0M190.4,640.9a1.75,1.75 0 1,0 3.5,0a1.75,1.75 0 1,0 -3.5,0M188.0,634.2a1.75,1.75 0 1,0 3.5,0a1.75,1.75 0 1,0 -3.5,0M195.6,615.4a1.75,1.75 0 1,0 3.5,0a1.75,1.75 0 1,0 -3.5,0M203.1,627.4a1.75,1.75 0 1,0 3.5,0a1.75,1.75 0 1,0 -3.5,0M213.5,639.4a1.75,1.75 0 1,0 3.5,0a1.75,1.75 0 1,0 -3.5,0M195.8,636.2a1.75,1.75 0 1,0 3.5,0a1.75,1.75 0 1,0 -3.5,0M186.9,631.8a1.75,1.75 0 1,0 3.5,0a1.75,1.75 0 1,0 -3.5,0M187.6,622.8a1.75,1.75 0 1,0 3.5,0a1.75,1.75 0 1,0 -3.5,0M185.6,594.7a1.75,1.75 0 1,0 3.5,0a1.75,1.75 0 1,0 -3.5,0M204.7,639.5a1.75,1.75 0 1,0 3.5,0a1.75,1.75 0 1,0 -3.5,0M183.6,642.7a1.75,1.75 0 1,0 3.5,0a1.75,1.75 0 1,0 -3.5,0M207.3,629.6a1.75,1.75 0 1,0 3.5,0a1.75,1.75 0 1,0 -3.5,0M183.2,590.7a1.75,1.75 0 1,0 3.5,0a1.75,1.75 0 1,0 -3.5,0M197.7,612.8a1.75,1.75 0 1,0 3.5,0a1.75,1.75 0 1,0 -3.5,0M198.5,635.7a1.75,1.75 0 1,0 3.5,0a1.75,1.75 0 1,0 -3.5,0M182.9,619.4a1.75,1.75 0 1,0 3.5,0a1.75,1.75 0 1,0 -3.5,0M178.0,628.7a1.75,1.75 0 1,0 3.5,0a1.75,1.75 0 1,0 -3.5,0M186.6,641.0a1.75,1.75 0 1,0 3.5,0a1.75,1.75 0 1,0 -3.5,0M197.8,642.7a1.75,1.75 0 1,0 3.5,0a1.75,1.75 0 1,0 -3.5,0M200.2,622.0a1.75,1.75 0 1,0 3.5,0a1.75,1.75 0 1,0 -3.5,0M206.9,642.6a1.75,1.75 0 1,0 3.5,0a1.75,1.75 0 1,0 -3.5,0M206.2,612.0a1.75,1.75 0 1,0 3.5,0a1.75,1.75 0 1,0 -3.5,0M198.7,637.0a1.75,1.75 0 1,0 3.5,0a1.75,1.75 0 1,0 -3.5,0M209.8,633.4a1.75,1.75 0 1,0 3.5,0a1.75,1.75 0 1,0 -3.5,0M197.3,640.5a1.75,1.75 0 1,0 3.5,0a1.75,1.75 0 1,0 -3.5,0M188.6,640.7a1.75,1.75 0 1,0 3.5,0a1.75,1.75 0 1,0 -3.5,0M192.9,616.3a1.75,1.75 0 1,0 3.5,0a1.75,1.75 0 1,0 -3.5,0M186.1,607.9a1.75,1.75 0 1,0 3.5,0a1.75,1.75 0 1,0 -3.5,0M179.1,634.7a1.75,1.75 0 1,0 3.5,0a1.75,1.75 0 1,0 -3.5,0M180.8,617.5a1.75,1.75 0 1,0 3.5,0a1.75,1.75 0 1,0 -3.5,0M181.8,640.3a1.75,1.75 0 1,0 3.5,0a1.75,1.75 0 1,0 -3.5,0M197.4,627.4a1.75,1.75 0 1,0 3.5,0a1.75,1.75 0 1,0 -3.5,0M189.5,624.8a1.75,1.75 0 1,0 3.5,0a1.75,1.75 0 1,0 -3.5,0M186.8,627.8a1.75,1.75 0 1,0 3.5,0a1.75,1.75 0 1,0 -3.5,0M195.9,630.4a1.75,1.75 0 1,0 3.5,0a1.75,1.75 0 1,0 -3.5,0M184.5,641.8a1.75,1.75 0 1,0 3.5,0a1.75,1.75 0 1,0 -3.5,0M199.0,628.9a1.75,1.75 0 1,0 3.5,0a1.75,1.75 0 1,0 -3.5,0M188.9,627.3a1.75,1.75 0 1,0 3.5,0a1.75,1.75 0 1,0 -3.5,0M189.9,618.6a1.75,1.75 0 1,0 3.5,0a1.75,1.75 0 1,0 -3.5,0M202.3,632.8a1.75,1.75 0 1,0 3.5,0a1.75,1.75 0 1,0 -3.5,0M184.0,637.0a1.75,1.75 0 1,0 3.5,0a1.75,1.75 0 1,0 -3.5,0M193.6,643.3a1.75,1.75 0 1,0 3.5,0a1.75,1.75 0 1,0 -3.5,0M195.6,631.5a1.75,1.75 0 1,0 3.5,0a1.75,1.75 0 1,0 -3.5,0M178.2,606.7a1.75,1.75 0 1,0 3.5,0a1.75,1.75 0 1,0 -3.5,0M181.8,636.3a1.75,1.75 0 1,0 3.5,0a1.75,1.75 0 1,0 -3.5,0M182.1,640.1a1.75,1.75 0 1,0 3.5,0a1.75,1.75 0 1,0 -3.5,0M190.7,602.1a1.75,1.75 0 1,0 3.5,0a1.75,1.75 0 1,0 -3.5,0M206.1,642.3a1.75,1.75 0 1,0 3.5,0a1.75,1.75 0 1,0 -3.5,0M181.5,635.7a1.75,1.75 0 1,0 3.5,0a1.75,1.75 0 1,0 -3.5,0M206.4,640.4a1.75,1.75 0 1,0 3.5,0a1.75,1.75 0 1,0 -3.5,0M194.7,639.0a1.75,1.75 0 1,0 3.5,0a1.75,1.75 0 1,0 -3.5,0M192.8,632.3a1.75,1.75 0 1,0 3.5,0a1.75,1.75 0 1,0 -3.5,0M184.0,618.9a1.75,1.75 0 1,0 3.5,0a1.75,1.75 0 1,0 -3.5,0M179.8,625.2a1.75,1.75 0 1,0 3.5,0a1.75,1.75 0 1,0 -3.5,0M192.7,641.7a1.75,1.75 0 1,0 3.5,0a1.75,1.75 0 1,0 -3.5,0M181.6,637.4a1.75,1.75 0 1,0 3.5,0a1.75,1.75 0 1,0 -3.5,0M187.6,638.9a1.75,1.75 0 1,0 3.5,0a1.75,1.75 0 1,0 -3.5,0M184.1,586.9a1.75,1.75 0 1,0 3.5,0a1.75,1.75 0 1,0 -3.5,0M190.8,637.7a1.75,1.75 0 1,0 3.5,0a1.75,1.75 0 1,0 -3.5,0M201.7,638.3a1.75,1.75 0 1,0 3.5,0a1.75,1.75 0 1,0 -3.5,0M180.8,631.8a1.75,1.75 0 1,0 3.5,0a1.75,1.75 0 1,0 -3.5,0M183.3,640.8a1.75,1.75 0 1,0 3.5,0a1.75,1.75 0 1,0 -3.5,0M186.3,621.0a1.75,1.75 0 1,0 3.5,0a1.75,1.75 0 1,0 -3.5,0M193.0,642.7a1.75,1.75 0 1,0 3.5,0a1.75,1.75 0 1,0 -3.5,0M182.1,636.3a1.75,1.75 0 1,0 3.5,0a1.75,1.75 0 1,0 -3.5,0M179.7,641.6a1.75,1.75 0 1,0 3.5,0a1.75,1.75 0 1,0 -3.5,0M201.3,620.8a1.75,1.75 0 1,0 3.5,0a1.75,1.75 0 1,0 -3.5,0M181.7,632.4a1.75,1.75 0 1,0 3.5,0a1.75,1.75 0 1,0 -3.5,0M194.6,631.4a1.75,1.75 0 1,0 3.5,0a1.75,1.75 0 1,0 -3.5,0M194.5,631.5a1.75,1.75 0 1,0 3.5,0a1.75,1.75 0 1,0 -3.5,0M190.2,640.0a1.75,1.75 0 1,0 3.5,0a1.75,1.75 0 1,0 -3.5,0M206.5,635.7a1.75,1.75 0 1,0 3.5,0a1.75,1.75 0 1,0 -3.5,0M202.1,628.3a1.75,1.75 0 1,0 3.5,0a1.75,1.75 0 1,0 -3.5,0M181.4,641.4a1.75,1.75 0 1,0 3.5,0a1.75,1.75 0 1,0 -3.5,0M206.0,640.5a1.75,1.75 0 1,0 3.5,0a1.75,1.75 0 1,0 -3.5,0M186.0,629.4a1.75,1.75 0 1,0 3.5,0a1.75,1.75 0 1,0 -3.5,0M197.9,642.1a1.75,1.75 0 1,0 3.5,0a1.75,1.75 0 1,0 -3.5,0M197.6,612.3a1.75,1.75 0 1,0 3.5,0a1.75,1.75 0 1,0 -3.5,0M192.6,619.8a1.75,1.75 0 1,0 3.5,0a1.75,1.75 0 1,0 -3.5,0M207.1,641.2a1.75,1.75 0 1,0 3.5,0a1.75,1.75 0 1,0 -3.5,0M201.5,639.2a1.75,1.75 0 1,0 3.5,0a1.75,1.75 0 1,0 -3.5,0M192.9,633.7a1.75,1.75 0 1,0 3.5,0a1.75,1.75 0 1,0 -3.5,0M183.7,639.4a1.75,1.75 0 1,0 3.5,0a1.75,1.75 0 1,0 -3.5,0M194.7,640.6a1.75,1.75 0 1,0 3.5,0a1.75,1.75 0 1,0 -3.5,0M189.1,639.7a1.75,1.75 0 1,0 3.5,0a1.75,1.75 0 1,0 -3.5,0M208.9,642.2a1.75,1.75 0 1,0 3.5,0a1.75,1.75 0 1,0 -3.5,0M192.9,634.0a1.75,1.75 0 1,0 3.5,0a1.75,1.75 0 1,0 -3.5,0M183.1,590.3a1.75,1.75 0 1,0 3.5,0a1.75,1.75 0 1,0 -3.5,0M182.9,626.8a1.75,1.75 0 1,0 3.5,0a1.75,1.75 0 1,0 -3.5,0M202.5,612.8a1.75,1.75 0 1,0 3.5,0a1.75,1.75 0 1,0 -3.5,0M180.2,622.2a1.75,1.75 0 1,0 3.5,0a1.75,1.75 0 1,0 -3.5,0M213.5,636.8a1.75,1.75 0 1,0 3.5,0a1.75,1.75 0 1,0 -3.5,0M212.7,638.2a1.75,1.75 0 1,0 3.5,0a1.75,1.75 0 1,0 -3.5,0M192.5,641.6a1.75,1.75 0 1,0 3.5,0a1.75,1.75 0 1,0 -3.5,0M189.7,639.4a1.75,1.75 0 1,0 3.5,0a1.75,1.75 0 1,0 -3.5,0M186.6,642.9a1.75,1.75 0 1,0 3.5,0a1.75,1.75 0 1,0 -3.5,0M189.0,632.3a1.75,1.75 0 1,0 3.5,0a1.75,1.75 0 1,0 -3.5,0M190.2,630.5a1.75,1.75 0 1,0 3.5,0a1.75,1.75 0 1,0 -3.5,0M212.1,638.5a1.75,1.75 0 1,0 3.5,0a1.75,1.75 0 1,0 -3.5,0M185.2,639.4a1.75,1.75 0 1,0 3.5,0a1.75,1.75 0 1,0 -3.5,0M188.6,642.4a1.75,1.75 0 1,0 3.5,0a1.75,1.75 0 1,0 -3.5,0M196.8,614.9a1.75,1.75 0 1,0 3.5,0a1.75,1.75 0 1,0 -3.5,0M196.9,625.5a1.75,1.75 0 1,0 3.5,0a1.75,1.75 0 1,0 -3.5,0M179.5,640.9a1.75,1.75 0 1,0 3.5,0a1.75,1.75 0 1,0 -3.5,0M194.1,621.4a1.75,1.75 0 1,0 3.5,0a1.75,1.75 0 1,0 -3.5,0M184.5,640.2a1.75,1.75 0 1,0 3.5,0a1.75,1.75 0 1,0 -3.5,0M202.6,633.7a1.75,1.75 0 1,0 3.5,0a1.75,1.75 0 1,0 -3.5,0M199.7,639.3a1.75,1.75 0 1,0 3.5,0a1.75,1.75 0 1,0 -3.5,0M182.2,640.4a1.75,1.75 0 1,0 3.5,0a1.75,1.75 0 1,0 -3.5,0M201.4,642.7a1.75,1.75 0 1,0 3.5,0a1.75,1.75 0 1,0 -3.5,0M179.4,642.7a1.75,1.75 0 1,0 3.5,0a1.75,1.75 0 1,0 -3.5,0M207.3,636.9a1.75,1.75 0 1,0 3.5,0a1.75,1.75 0 1,0 -3.5,0M200.9,630.2a1.75,1.75 0 1,0 3.5,0a1.75,1.75 0 1,0 -3.5,0M193.7,621.7a1.75,1.75 0 1,0 3.5,0a1.75,1.75 0 1,0 -3.5,0M207.4,635.9a1.75,1.75 0 1,0 3.5,0a1.75,1.75 0 1,0 -3.5,0M207.3,591.4a1.75,1.75 0 1,0 3.5,0a1.75,1.75 0 1,0 -3.5,0M179.1,633.3a1.75,1.75 0 1,0 3.5,0a1.75,1.75 0 1,0 -3.5,0M194.6,624.8a1.75,1.75 0 1,0 3.5,0a1.75,1.75 0 1,0 -3.5,0M185.4,632.8a1.75,1.75 0 1,0 3.5,0a1.75,1.75 0 1,0 -3.5,0M197.2,628.7a1.75,1.75 0 1,0 3.5,0a1.75,1.75 0 1,0 -3.5,0M200.9,632.9a1.75,1.75 0 1,0 3.5,0a1.75,1.75 0 1,0 -3.5,0M182.8,634.1a1.75,1.75 0 1,0 3.5,0a1.75,1.75 0 1,0 -3.5,0M186.1,641.2a1.75,1.75 0 1,0 3.5,0a1.75,1.75 0 1,0 -3.5,0M194.6,638.4a1.75,1.75 0 1,0 3.5,0a1.75,1.75 0 1,0 -3.5,0M204.8,632.3a1.75,1.75 0 1,0 3.5,0a1.75,1.75 0 1,0 -3.5,0M196.6,631.2a1.75,1.75 0 1,0 3.5,0a1.75,1.75 0 1,0 -3.5,0M196.1,638.3a1.75,1.75 0 1,0 3.5,0a1.75,1.75 0 1,0 -3.5,0M204.3,623.5a1.75,1.75 0 1,0 3.5,0a1.75,1.75 0 1,0 -3.5,0M181.5,641.8a1.75,1.75 0 1,0 3.5,0a1.75,1.75 0 1,0 -3.5,0M209.6,614.3a1.75,1.75 0 1,0 3.5,0a1.75,1.75 0 1,0 -3.5,0M205.5,635.3a1.75,1.75 0 1,0 3.5,0a1.75,1.75 0 1,0 -3.5,0M214.8,643.2a1.75,1.75 0 1,0 3.5,0a1.75,1.75 0 1,0 -3.5,0M187.6,638.6a1.75,1.75 0 1,0 3.5,0a1.75,1.75 0 1,0 -3.5,0M188.5,642.6a1.75,1.75 0 1,0 3.5,0a1.75,1.75 0 1,0 -3.5,0M190.5,641.1a1.75,1.75 0 1,0 3.5,0a1.75,1.75 0 1,0 -3.5,0M187.8,627.7a1.75,1.75 0 1,0 3.5,0a1.75,1.75 0 1,0 -3.5,0M198.4,629.3a1.75,1.75 0 1,0 3.5,0a1.75,1.75 0 1,0 -3.5,0M200.5,641.9a1.75,1.75 0 1,0 3.5,0a1.75,1.75 0 1,0 -3.5,0M180.3,639.5a1.75,1.75 0 1,0 3.5,0a1.75,1.75 0 1,0 -3.5,0M208.0,642.9a1.75,1.75 0 1,0 3.5,0a1.75,1.75 0 1,0 -3.5,0M191.2,630.8a1.75,1.75 0 1,0 3.5,0a1.75,1.75 0 1,0 -3.5,0M205.0,602.0a1.75,1.75 0 1,0 3.5,0a1.75,1.75 0 1,0 -3.5,0M193.5,626.6a1.75,1.75 0 1,0 3.5,0a1.75,1.75 0 1,0 -3.5,0M178.9,609.0a1.75,1.75 0 1,0 3.5,0a1.75,1.75 0 1,0 -3.5,0M184.1,640.9a1.75,1.75 0 1,0 3.5,0a1.75,1.75 0 1,0 -3.5,0M186.9,599.3a1.75,1.75 0 1,0 3.5,0a1.75,1.75 0 1,0 -3.5,0M182.8,629.4a1.75,1.75 0 1,0 3.5,0a1.75,1.75 0 1,0 -3.5,0M193.7,643.3a1.75,1.75 0 1,0 3.5,0a1.75,1.75 0 1,0 -3.5,0M207.9,607.1a1.75,1.75 0 1,0 3.5,0a1.75,1.75 0 1,0 -3.5,0M198.7,630.8a1.75,1.75 0 1,0 3.5,0a1.75,1.75 0 1,0 -3.5,0M210.6,640.7a1.75,1.75 0 1,0 3.5,0a1.75,1.75 0 1,0 -3.5,0M192.7,642.0a1.75,1.75 0 1,0 3.5,0a1.75,1.75 0 1,0 -3.5,0M189.1,640.2a1.75,1.75 0 1,0 3.5,0a1.75,1.75 0 1,0 -3.5,0M208.3,615.8a1.75,1.75 0 1,0 3.5,0a1.75,1.75 0 1,0 -3.5,0M183.6,642.8a1.75,1.75 0 1,0 3.5,0a1.75,1.75 0 1,0 -3.5,0M210.0,638.0a1.75,1.75 0 1,0 3.5,0a1.75,1.75 0 1,0 -3.5,0M192.6,636.0a1.75,1.75 0 1,0 3.5,0a1.75,1.75 0 1,0 -3.5,0M208.5,632.0a1.75,1.75 0 1,0 3.5,0a1.75,1.75 0 1,0 -3.5,0M196.9,633.5a1.75,1.75 0 1,0 3.5,0a1.75,1.75 0 1,0 -3.5,0M185.9,642.5a1.75,1.75 0 1,0 3.5,0a1.75,1.75 0 1,0 -3.5,0M186.4,639.7a1.75,1.75 0 1,0 3.5,0a1.75,1.75 0 1,0 -3.5,0M194.9,635.5a1.75,1.75 0 1,0 3.5,0a1.75,1.75 0 1,0 -3.5,0M188.3,638.4a1.75,1.75 0 1,0 3.5,0a1.75,1.75 0 1,0 -3.5,0M194.1,603.5a1.75,1.75 0 1,0 3.5,0a1.75,1.75 0 1,0 -3.5,0M184.3,638.2a1.75,1.75 0 1,0 3.5,0a1.75,1.75 0 1,0 -3.5,0M182.5,642.0a1.75,1.75 0 1,0 3.5,0a1.75,1.75 0 1,0 -3.5,0M211.8,642.2a1.75,1.75 0 1,0 3.5,0a1.75,1.75 0 1,0 -3.5,0M186.5,639.2a1.75,1.75 0 1,0 3.5,0a1.75,1.75 0 1,0 -3.5,0M182.9,629.1a1.75,1.75 0 1,0 3.5,0a1.75,1.75 0 1,0 -3.5,0M186.6,634.3a1.75,1.75 0 1,0 3.5,0a1.75,1.75 0 1,0 -3.5,0M186.8,626.4a1.75,1.75 0 1,0 3.5,0a1.75,1.75 0 1,0 -3.5,0M189.0,642.7a1.75,1.75 0 1,0 3.5,0a1.75,1.75 0 1,0 -3.5,0M193.9,643.4a1.75,1.75 0 1,0 3.5,0a1.75,1.75 0 1,0 -3.5,0M193.0,637.1a1.75,1.75 0 1,0 3.5,0a1.75,1.75 0 1,0 -3.5,0M195.8,634.8a1.75,1.75 0 1,0 3.5,0a1.75,1.75 0 1,0 -3.5,0M180.7,640.6a1.75,1.75 0 1,0 3.5,0a1.75,1.75 0 1,0 -3.5,0M190.7,641.5a1.75,1.75 0 1,0 3.5,0a1.75,1.75 0 1,0 -3.5,0M192.4,629.7a1.75,1.75 0 1,0 3.5,0a1.75,1.75 0 1,0 -3.5,0M182.0,632.0a1.75,1.75 0 1,0 3.5,0a1.75,1.75 0 1,0 -3.5,0M205.8,616.7a1.75,1.75 0 1,0 3.5,0a1.75,1.75 0 1,0 -3.5,0M183.5,584.7a1.75,1.75 0 1,0 3.5,0a1.75,1.75 0 1,0 -3.5,0M185.4,637.3a1.75,1.75 0 1,0 3.5,0a1.75,1.75 0 1,0 -3.5,0M188.5,635.2a1.75,1.75 0 1,0 3.5,0a1.75,1.75 0 1,0 -3.5,0M197.2,637.8a1.75,1.75 0 1,0 3.5,0a1.75,1.75 0 1,0 -3.5,0M196.2,622.7a1.75,1.75 0 1,0 3.5,0a1.75,1.75 0 1,0 -3.5,0M182.8,638.6a1.75,1.75 0 1,0 3.5,0a1.75,1.75 0 1,0 -3.5,0M201.1,637.7a1.75,1.75 0 1,0 3.5,0a1.75,1.75 0 1,0 -3.5,0M212.7,638.8a1.75,1.75 0 1,0 3.5,0a1.75,1.75 0 1,0 -3.5,0M213.1,625.2a1.75,1.75 0 1,0 3.5,0a1.75,1.75 0 1,0 -3.5,0M202.4,640.2a1.75,1.75 0 1,0 3.5,0a1.75,1.75 0 1,0 -3.5,0M191.7,599.8a1.75,1.75 0 1,0 3.5,0a1.75,1.75 0 1,0 -3.5,0M207.4,630.1a1.75,1.75 0 1,0 3.5,0a1.75,1.75 0 1,0 -3.5,0M186.2,638.2a1.75,1.75 0 1,0 3.5,0a1.75,1.75 0 1,0 -3.5,0M183.3,639.1a1.75,1.75 0 1,0 3.5,0a1.75,1.75 0 1,0 -3.5,0M197.8,624.9a1.75,1.75 0 1,0 3.5,0a1.75,1.75 0 1,0 -3.5,0M185.7,632.5a1.75,1.75 0 1,0 3.5,0a1.75,1.75 0 1,0 -3.5,0M199.6,622.5a1.75,1.75 0 1,0 3.5,0a1.75,1.75 0 1,0 -3.5,0M196.4,598.9a1.75,1.75 0 1,0 3.5,0a1.75,1.75 0 1,0 -3.5,0M193.8,638.6a1.75,1.75 0 1,0 3.5,0a1.75,1.75 0 1,0 -3.5,0M182.1,613.0a1.75,1.75 0 1,0 3.5,0a1.75,1.75 0 1,0 -3.5,0M184.6,640.6a1.75,1.75 0 1,0 3.5,0a1.75,1.75 0 1,0 -3.5,0M190.1,625.9a1.75,1.75 0 1,0 3.5,0a1.75,1.75 0 1,0 -3.5,0M195.4,582.2a1.75,1.75 0 1,0 3.5,0a1.75,1.75 0 1,0 -3.5,0M182.0,628.6a1.75,1.75 0 1,0 3.5,0a1.75,1.75 0 1,0 -3.5,0M181.1,631.0a1.75,1.75 0 1,0 3.5,0a1.75,1.75 0 1,0 -3.5,0M182.5,640.9a1.75,1.75 0 1,0 3.5,0a1.75,1.75 0 1,0 -3.5,0M199.1,641.0a1.75,1.75 0 1,0 3.5,0a1.75,1.75 0 1,0 -3.5,0M182.4,641.8a1.75,1.75 0 1,0 3.5,0a1.75,1.75 0 1,0 -3.5,0M191.7,579.9a1.75,1.75 0 1,0 3.5,0a1.75,1.75 0 1,0 -3.5,0M182.4,633.1a1.75,1.75 0 1,0 3.5,0a1.75,1.75 0 1,0 -3.5,0M189.7,640.6a1.75,1.75 0 1,0 3.5,0a1.75,1.75 0 1,0 -3.5,0M186.6,629.6a1.75,1.75 0 1,0 3.5,0a1.75,1.75 0 1,0 -3.5,0M197.4,611.0a1.75,1.75 0 1,0 3.5,0a1.75,1.75 0 1,0 -3.5,0M185.1,641.0a1.75,1.75 0 1,0 3.5,0a1.75,1.75 0 1,0 -3.5,0M204.4,639.2a1.75,1.75 0 1,0 3.5,0a1.75,1.75 0 1,0 -3.5,0M199.9,612.3a1.75,1.75 0 1,0 3.5,0a1.75,1.75 0 1,0 -3.5,0M194.9,639.5a1.75,1.75 0 1,0 3.5,0a1.75,1.75 0 1,0 -3.5,0M208.3,595.5a1.75,1.75 0 1,0 3.5,0a1.75,1.75 0 1,0 -3.5,0M207.4,638.6a1.75,1.75 0 1,0 3.5,0a1.75,1.75 0 1,0 -3.5,0M214.7,641.6a1.75,1.75 0 1,0 3.5,0a1.75,1.75 0 1,0 -3.5,0M194.4,637.8a1.75,1.75 0 1,0 3.5,0a1.75,1.75 0 1,0 -3.5,0M209.5,642.4a1.75,1.75 0 1,0 3.5,0a1.75,1.75 0 1,0 -3.5,0M187.5,606.0a1.75,1.75 0 1,0 3.5,0a1.75,1.75 0 1,0 -3.5,0M208.3,612.5a1.75,1.75 0 1,0 3.5,0a1.75,1.75 0 1,0 -3.5,0M201.3,635.3a1.75,1.75 0 1,0 3.5,0a1.75,1.75 0 1,0 -3.5,0M208.4,621.5a1.75,1.75 0 1,0 3.5,0a1.75,1.75 0 1,0 -3.5,0M192.5,636.0a1.75,1.75 0 1,0 3.5,0a1.75,1.75 0 1,0 -3.5,0M202.3,642.7a1.75,1.75 0 1,0 3.5,0a1.75,1.75 0 1,0 -3.5,0M196.4,642.7a1.75,1.75 0 1,0 3.5,0a1.75,1.75 0 1,0 -3.5,0M204.6,637.6a1.75,1.75 0 1,0 3.5,0a1.75,1.75 0 1,0 -3.5,0M203.3,633.3a1.75,1.75 0 1,0 3.5,0a1.75,1.75 0 1,0 -3.5,0M213.9,641.4a1.75,1.75 0 1,0 3.5,0a1.75,1.75 0 1,0 -3.5,0M184.6,622.0a1.75,1.75 0 1,0 3.5,0a1.75,1.75 0 1,0 -3.5,0M205.9,642.7a1.75,1.75 0 1,0 3.5,0a1.75,1.75 0 1,0 -3.5,0M193.0,623.9a1.75,1.75 0 1,0 3.5,0a1.75,1.75 0 1,0 -3.5,0M190.5,633.5a1.75,1.75 0 1,0 3.5,0a1.75,1.75 0 1,0 -3.5,0M203.2,629.1a1.75,1.75 0 1,0 3.5,0a1.75,1.75 0 1,0 -3.5,0M192.7,639.2a1.75,1.75 0 1,0 3.5,0a1.75,1.75 0 1,0 -3.5,0M187.0,641.6a1.75,1.75 0 1,0 3.5,0a1.75,1.75 0 1,0 -3.5,0M180.4,589.2a1.75,1.75 0 1,0 3.5,0a1.75,1.75 0 1,0 -3.5,0M209.9,641.9a1.75,1.75 0 1,0 3.5,0a1.75,1.75 0 1,0 -3.5,0M210.3,631.1a1.75,1.75 0 1,0 3.5,0a1.75,1.75 0 1,0 -3.5,0M201.2,634.0a1.75,1.75 0 1,0 3.5,0a1.75,1.75 0 1,0 -3.5,0M195.8,613.6a1.75,1.75 0 1,0 3.5,0a1.75,1.75 0 1,0 -3.5,0M213.5,591.7a1.75,1.75 0 1,0 3.5,0a1.75,1.75 0 1,0 -3.5,0M211.5,630.4a1.75,1.75 0 1,0 3.5,0a1.75,1.75 0 1,0 -3.5,0M184.2,638.7a1.75,1.75 0 1,0 3.5,0a1.75,1.75 0 1,0 -3.5,0M183.5,637.2a1.75,1.75 0 1,0 3.5,0a1.75,1.75 0 1,0 -3.5,0M209.4,604.7a1.75,1.75 0 1,0 3.5,0a1.75,1.75 0 1,0 -3.5,0M200.9,632.9a1.75,1.75 0 1,0 3.5,0a1.75,1.75 0 1,0 -3.5,0M210.3,642.6a1.75,1.75 0 1,0 3.5,0a1.75,1.75 0 1,0 -3.5,0M210.9,616.1a1.75,1.75 0 1,0 3.5,0a1.75,1.75 0 1,0 -3.5,0M204.4,593.5a1.75,1.75 0 1,0 3.5,0a1.75,1.75 0 1,0 -3.5,0M190.4,628.0a1.75,1.75 0 1,0 3.5,0a1.75,1.75 0 1,0 -3.5,0M209.2,641.4a1.75,1.75 0 1,0 3.5,0a1.75,1.75 0 1,0 -3.5,0M198.1,641.4a1.75,1.75 0 1,0 3.5,0a1.75,1.75 0 1,0 -3.5,0M210.2,640.7a1.75,1.75 0 1,0 3.5,0a1.75,1.75 0 1,0 -3.5,0M187.7,641.0a1.75,1.75 0 1,0 3.5,0a1.75,1.75 0 1,0 -3.5,0M210.0,636.0a1.75,1.75 0 1,0 3.5,0a1.75,1.75 0 1,0 -3.5,0M203.7,641.1a1.75,1.75 0 1,0 3.5,0a1.75,1.75 0 1,0 -3.5,0M195.3,598.0a1.75,1.75 0 1,0 3.5,0a1.75,1.75 0 1,0 -3.5,0M213.0,628.5a1.75,1.75 0 1,0 3.5,0a1.75,1.75 0 1,0 -3.5,0M200.1,634.9a1.75,1.75 0 1,0 3.5,0a1.75,1.75 0 1,0 -3.5,0M203.3,595.3a1.75,1.75 0 1,0 3.5,0a1.75,1.75 0 1,0 -3.5,0M199.6,632.9a1.75,1.75 0 1,0 3.5,0a1.75,1.75 0 1,0 -3.5,0M207.8,625.8a1.75,1.75 0 1,0 3.5,0a1.75,1.75 0 1,0 -3.5,0M211.8,642.2a1.75,1.75 0 1,0 3.5,0a1.75,1.75 0 1,0 -3.5,0M189.6,643.2a1.75,1.75 0 1,0 3.5,0a1.75,1.75 0 1,0 -3.5,0M184.1,639.1a1.75,1.75 0 1,0 3.5,0a1.75,1.75 0 1,0 -3.5,0M185.2,626.0a1.75,1.75 0 1,0 3.5,0a1.75,1.75 0 1,0 -3.5,0M205.8,639.6a1.75,1.75 0 1,0 3.5,0a1.75,1.75 0 1,0 -3.5,0M192.7,640.0a1.75,1.75 0 1,0 3.5,0a1.75,1.75 0 1,0 -3.5,0M196.4,638.4a1.75,1.75 0 1,0 3.5,0a1.75,1.75 0 1,0 -3.5,0M211.1,633.3a1.75,1.75 0 1,0 3.5,0a1.75,1.75 0 1,0 -3.5,0M192.8,643.1a1.75,1.75 0 1,0 3.5,0a1.75,1.75 0 1,0 -3.5,0M199.2,634.1a1.75,1.75 0 1,0 3.5,0a1.75,1.75 0 1,0 -3.5,0M182.1,601.9a1.75,1.75 0 1,0 3.5,0a1.75,1.75 0 1,0 -3.5,0M192.9,631.0a1.75,1.75 0 1,0 3.5,0a1.75,1.75 0 1,0 -3.5,0M202.6,617.4a1.75,1.75 0 1,0 3.5,0a1.75,1.75 0 1,0 -3.5,0M181.6,637.3a1.75,1.75 0 1,0 3.5,0a1.75,1.75 0 1,0 -3.5,0M202.7,628.4a1.75,1.75 0 1,0 3.5,0a1.75,1.75 0 1,0 -3.5,0M191.3,610.4a1.75,1.75 0 1,0 3.5,0a1.75,1.75 0 1,0 -3.5,0M185.4,632.0a1.75,1.75 0 1,0 3.5,0a1.75,1.75 0 1,0 -3.5,0M189.5,617.2a1.75,1.75 0 1,0 3.5,0a1.75,1.75 0 1,0 -3.5,0M186.6,634.5a1.75,1.75 0 1,0 3.5,0a1.75,1.75 0 1,0 -3.5,0M188.7,627.8a1.75,1.75 0 1,0 3.5,0a1.75,1.75 0 1,0 -3.5,0M182.3,641.2a1.75,1.75 0 1,0 3.5,0a1.75,1.75 0 1,0 -3.5,0M189.7,637.6a1.75,1.75 0 1,0 3.5,0a1.75,1.75 0 1,0 -3.5,0M193.2,610.2a1.75,1.75 0 1,0 3.5,0a1.75,1.75 0 1,0 -3.5,0M198.2,635.5a1.75,1.75 0 1,0 3.5,0a1.75,1.75 0 1,0 -3.5,0M191.4,610.8a1.75,1.75 0 1,0 3.5,0a1.75,1.75 0 1,0 -3.5,0M180.9,626.7a1.75,1.75 0 1,0 3.5,0a1.75,1.75 0 1,0 -3.5,0M208.5,626.0a1.75,1.75 0 1,0 3.5,0a1.75,1.75 0 1,0 -3.5,0M205.1,642.9a1.75,1.75 0 1,0 3.5,0a1.75,1.75 0 1,0 -3.5,0M201.4,636.7a1.75,1.75 0 1,0 3.5,0a1.75,1.75 0 1,0 -3.5,0M192.5,634.6a1.75,1.75 0 1,0 3.5,0a1.75,1.75 0 1,0 -3.5,0M207.6,642.2a1.75,1.75 0 1,0 3.5,0a1.75,1.75 0 1,0 -3.5,0M186.8,633.8a1.75,1.75 0 1,0 3.5,0a1.75,1.75 0 1,0 -3.5,0M197.6,636.4a1.75,1.75 0 1,0 3.5,0a1.75,1.75 0 1,0 -3.5,0M198.9,598.4a1.75,1.75 0 1,0 3.5,0a1.75,1.75 0 1,0 -3.5,0M196.6,633.1a1.75,1.75 0 1,0 3.5,0a1.75,1.75 0 1,0 -3.5,0M182.3,638.6a1.75,1.75 0 1,0 3.5,0a1.75,1.75 0 1,0 -3.5,0M186.2,638.2a1.75,1.75 0 1,0 3.5,0a1.75,1.75 0 1,0 -3.5,0M206.4,618.3a1.75,1.75 0 1,0 3.5,0a1.75,1.75 0 1,0 -3.5,0M191.1,633.8a1.75,1.75 0 1,0 3.5,0a1.75,1.75 0 1,0 -3.5,0M194.3,634.8a1.75,1.75 0 1,0 3.5,0a1.75,1.75 0 1,0 -3.5,0M190.2,634.5a1.75,1.75 0 1,0 3.5,0a1.75,1.75 0 1,0 -3.5,0M207.1,598.3a1.75,1.75 0 1,0 3.5,0a1.75,1.75 0 1,0 -3.5,0M191.8,598.9a1.75,1.75 0 1,0 3.5,0a1.75,1.75 0 1,0 -3.5,0M188.8,642.4a1.75,1.75 0 1,0 3.5,0a1.75,1.75 0 1,0 -3.5,0M183.5,635.5a1.75,1.75 0 1,0 3.5,0a1.75,1.75 0 1,0 -3.5,0M183.5,638.1a1.75,1.75 0 1,0 3.5,0a1.75,1.75 0 1,0 -3.5,0M190.3,628.6a1.75,1.75 0 1,0 3.5,0a1.75,1.75 0 1,0 -3.5,0M210.4,643.2a1.75,1.75 0 1,0 3.5,0a1.75,1.75 0 1,0 -3.5,0M179.5,638.5a1.75,1.75 0 1,0 3.5,0a1.75,1.75 0 1,0 -3.5,0M204.1,642.4a1.75,1.75 0 1,0 3.5,0a1.75,1.75 0 1,0 -3.5,0M203.0,614.2a1.75,1.75 0 1,0 3.5,0a1.75,1.75 0 1,0 -3.5,0M200.5,638.8a1.75,1.75 0 1,0 3.5,0a1.75,1.75 0 1,0 -3.5,0M211.9,629.5a1.75,1.75 0 1,0 3.5,0a1.75,1.75 0 1,0 -3.5,0M188.4,641.3a1.75,1.75 0 1,0 3.5,0a1.75,1.75 0 1,0 -3.5,0M200.9,642.2a1.75,1.75 0 1,0 3.5,0a1.75,1.75 0 1,0 -3.5,0M178.5,641.2a1.75,1.75 0 1,0 3.5,0a1.75,1.75 0 1,0 -3.5,0M182.7,641.7a1.75,1.75 0 1,0 3.5,0a1.75,1.75 0 1,0 -3.5,0M200.8,643.2a1.75,1.75 0 1,0 3.5,0a1.75,1.75 0 1,0 -3.5,0M216.0,642.7a1.75,1.75 0 1,0 3.5,0a1.75,1.75 0 1,0 -3.5,0M211.3,636.4a1.75,1.75 0 1,0 3.5,0a1.75,1.75 0 1,0 -3.5,0M190.3,642.2a1.75,1.75 0 1,0 3.5,0a1.75,1.75 0 1,0 -3.5,0M206.7,632.6a1.75,1.75 0 1,0 3.5,0a1.75,1.75 0 1,0 -3.5,0M179.2,629.2a1.75,1.75 0 1,0 3.5,0a1.75,1.75 0 1,0 -3.5,0M185.4,622.6a1.75,1.75 0 1,0 3.5,0a1.75,1.75 0 1,0 -3.5,0M182.4,636.2a1.75,1.75 0 1,0 3.5,0a1.75,1.75 0 1,0 -3.5,0M179.3,639.5a1.75,1.75 0 1,0 3.5,0a1.75,1.75 0 1,0 -3.5,0M184.9,623.7a1.75,1.75 0 1,0 3.5,0a1.75,1.75 0 1,0 -3.5,0M208.1,630.2a1.75,1.75 0 1,0 3.5,0a1.75,1.75 0 1,0 -3.5,0M199.1,638.9a1.75,1.75 0 1,0 3.5,0a1.75,1.75 0 1,0 -3.5,0M207.5,617.2a1.75,1.75 0 1,0 3.5,0a1.75,1.75 0 1,0 -3.5,0M184.3,636.9a1.75,1.75 0 1,0 3.5,0a1.75,1.75 0 1,0 -3.5,0M179.2,638.1a1.75,1.75 0 1,0 3.5,0a1.75,1.75 0 1,0 -3.5,0M208.2,640.3a1.75,1.75 0 1,0 3.5,0a1.75,1.75 0 1,0 -3.5,0M189.2,641.4a1.75,1.75 0 1,0 3.5,0a1.75,1.75 0 1,0 -3.5,0M185.0,606.3a1.75,1.75 0 1,0 3.5,0a1.75,1.75 0 1,0 -3.5,0M181.1,642.0a1.75,1.75 0 1,0 3.5,0a1.75,1.75 0 1,0 -3.5,0M190.2,631.4a1.75,1.75 0 1,0 3.5,0a1.75,1.75 0 1,0 -3.5,0M186.4,640.1a1.75,1.75 0 1,0 3.5,0a1.75,1.75 0 1,0 -3.5,0M191.3,624.5a1.75,1.75 0 1,0 3.5,0a1.75,1.75 0 1,0 -3.5,0M183.7,632.8a1.75,1.75 0 1,0 3.5,0a1.75,1.75 0 1,0 -3.5,0M186.1,633.0a1.75,1.75 0 1,0 3.5,0a1.75,1.75 0 1,0 -3.5,0M187.8,618.0a1.75,1.75 0 1,0 3.5,0a1.75,1.75 0 1,0 -3.5,0M184.7,629.5a1.75,1.75 0 1,0 3.5,0a1.75,1.75 0 1,0 -3.5,0M190.6,618.4a1.75,1.75 0 1,0 3.5,0a1.75,1.75 0 1,0 -3.5,0M198.5,639.5a1.75,1.75 0 1,0 3.5,0a1.75,1.75 0 1,0 -3.5,0M214.5,634.9a1.75,1.75 0 1,0 3.5,0a1.75,1.75 0 1,0 -3.5,0M197.0,630.4a1.75,1.75 0 1,0 3.5,0a1.75,1.75 0 1,0 -3.5,0M192.4,632.7a1.75,1.75 0 1,0 3.5,0a1.75,1.75 0 1,0 -3.5,0M214.1,608.5a1.75,1.75 0 1,0 3.5,0a1.75,1.75 0 1,0 -3.5,0M205.3,638.7a1.75,1.75 0 1,0 3.5,0a1.75,1.75 0 1,0 -3.5,0M185.2,641.5a1.75,1.75 0 1,0 3.5,0a1.75,1.75 0 1,0 -3.5,0M200.4,636.2a1.75,1.75 0 1,0 3.5,0a1.75,1.75 0 1,0 -3.5,0M188.7,613.3a1.75,1.75 0 1,0 3.5,0a1.75,1.75 0 1,0 -3.5,0M217.4,624.0a1.75,1.75 0 1,0 3.5,0a1.75,1.75 0 1,0 -3.5,0M209.8,602.8a1.75,1.75 0 1,0 3.5,0a1.75,1.75 0 1,0 -3.5,0M211.1,617.6a1.75,1.75 0 1,0 3.5,0a1.75,1.75 0 1,0 -3.5,0M216.1,640.7a1.75,1.75 0 1,0 3.5,0a1.75,1.75 0 1,0 -3.5,0M215.4,593.7a1.75,1.75 0 1,0 3.5,0a1.75,1.75 0 1,0 -3.5,0M216.1,592.9a1.75,1.75 0 1,0 3.5,0a1.75,1.75 0 1,0 -3.5,0M217.5,625.2a1.75,1.75 0 1,0 3.5,0a1.75,1.75 0 1,0 -3.5,0M213.9,611.0a1.75,1.75 0 1,0 3.5,0a1.75,1.75 0 1,0 -3.5,0M213.9,595.4a1.75,1.75 0 1,0 3.5,0a1.75,1.75 0 1,0 -3.5,0M218.9,630.1a1.75,1.75 0 1,0 3.5,0a1.75,1.75 0 1,0 -3.5,0M209.9,607.0a1.75,1.75 0 1,0 3.5,0a1.75,1.75 0 1,0 -3.5,0M216.4,598.4a1.75,1.75 0 1,0 3.5,0a1.75,1.75 0 1,0 -3.5,0M213.4,597.0a1.75,1.75 0 1,0 3.5,0a1.75,1.75 0 1,0 -3.5,0M213.2,602.2a1.75,1.75 0 1,0 3.5,0a1.75,1.75 0 1,0 -3.5,0M209.9,566.7a1.75,1.75 0 1,0 3.5,0a1.75,1.75 0 1,0 -3.5,0M217.2,578.8a1.75,1.75 0 1,0 3.5,0a1.75,1.75 0 1,0 -3.5,0M240.0,588.3a1.75,1.75 0 1,0 3.5,0a1.75,1.75 0 1,0 -3.5,0M259.1,593.9a1.75,1.75 0 1,0 3.5,0a1.75,1.75 0 1,0 -3.5,0M227.8,629.1a1.75,1.75 0 1,0 3.5,0a1.75,1.75 0 1,0 -3.5,0M233.9,627.2a1.75,1.75 0 1,0 3.5,0a1.75,1.75 0 1,0 -3.5,0M240.0,627.2a1.75,1.75 0 1,0 3.5,0a1.75,1.75 0 1,0 -3.5,0M239.2,631.7a1.75,1.75 0 1,0 3.5,0a1.75,1.75 0 1,0 -3.5,0M223.7,638.5a1.75,1.75 0 1,0 3.5,0a1.75,1.75 0 1,0 -3.5,0M232.6,641.9a1.75,1.75 0 1,0 3.5,0a1.75,1.75 0 1,0 -3.5,0M218.4,641.2a1.75,1.75 0 1,0 3.5,0a1.75,1.75 0 1,0 -3.5,0M193.2,571.2a1.75,1.75 0 1,0 3.5,0a1.75,1.75 0 1,0 -3.5,0M195.2,576.9a1.75,1.75 0 1,0 3.5,0a1.75,1.75 0 1,0 -3.5,0M197.2,581.5a1.75,1.75 0 1,0 3.5,0a1.75,1.75 0 1,0 -3.5,0" fill="#fc46fb"/>
<line x1="176.6" y1="552.0" x2="176.6" y2="699.3" stroke="#b9bebe" stroke-width="1.5" stroke-dasharray="10.8 4.6" stroke-dashoffset="0.5"/>
<line x1="85.0" y1="644.96" x2="268.9" y2="644.96" stroke="#b9bebe" stroke-width="1.5" stroke-dasharray="10.8 4.6" stroke-dashoffset="-0.5"/>
<rect x="84.0" y="551.0" width="185.89999999999998" height="149.29999999999995" fill="none" stroke="#444" stroke-width="1"/>
<line x1="95.20" y1="700.3" x2="95.20" y2="702.0999999999999" stroke="#444" stroke-width="0.9"/>
<text x="95.20" y="708.10" font-size="5.8" font-family="Liberation Sans" font-weight="normal" text-anchor="middle" fill="#333" >−2</text>
<line x1="135.90" y1="700.3" x2="135.90" y2="702.0999999999999" stroke="#444" stroke-width="0.9"/>
<text x="135.90" y="708.10" font-size="5.8" font-family="Liberation Sans" font-weight="normal" text-anchor="middle" fill="#333" >−1</text>
<line x1="176.60" y1="700.3" x2="176.60" y2="702.0999999999999" stroke="#444" stroke-width="0.9"/>
<text x="176.60" y="708.10" font-size="5.8" font-family="Liberation Sans" font-weight="normal" text-anchor="middle" fill="#333" >0</text>
<line x1="217.30" y1="700.3" x2="217.30" y2="702.0999999999999" stroke="#444" stroke-width="0.9"/>
<text x="217.30" y="708.10" font-size="5.8" font-family="Liberation Sans" font-weight="normal" text-anchor="middle" fill="#333" >1</text>
<line x1="258.00" y1="700.3" x2="258.00" y2="702.0999999999999" stroke="#444" stroke-width="0.9"/>
<text x="258.00" y="708.10" font-size="5.8" font-family="Liberation Sans" font-weight="normal" text-anchor="middle" fill="#333" >2</text>
<line x1="82.2" y1="694.10" x2="84.0" y2="694.10" stroke="#444" stroke-width="0.9"/>
<text transform="translate(80.80,694.10) rotate(-90)" font-size="5.8" font-family="Liberation Sans" text-anchor="middle" fill="#333">0</text>
<line x1="82.2" y1="656.30" x2="84.0" y2="656.30" stroke="#444" stroke-width="0.9"/>
<text transform="translate(80.80,656.30) rotate(-90)" font-size="5.8" font-family="Liberation Sans" text-anchor="middle" fill="#333">1</text>
<line x1="82.2" y1="618.50" x2="84.0" y2="618.50" stroke="#444" stroke-width="0.9"/>
<text transform="translate(80.80,618.50) rotate(-90)" font-size="5.8" font-family="Liberation Sans" text-anchor="middle" fill="#333">2</text>
<line x1="82.2" y1="580.70" x2="84.0" y2="580.70" stroke="#444" stroke-width="0.9"/>
<text transform="translate(80.80,580.70) rotate(-90)" font-size="5.8" font-family="Liberation Sans" text-anchor="middle" fill="#333">3</text>
<text x="177.50" y="716.40" font-size="7.4" font-family="Liberation Sans" font-weight="normal" text-anchor="middle" fill="#222" >log2 Fold Change</text>
<text transform="translate(74.6,625.8) rotate(-90)" font-size="6.9" font-family="Liberation Sans" text-anchor="middle" fill="#111">−log10(p.value)</text>
<text x="176.60" y="522.40" font-size="6.9" font-family="Liberation Sans" font-weight="normal" text-anchor="middle" fill="#222" >GSE205161</text>
<text x="119.30" y="538.20" font-size="6.8" font-family="Liberation Sans" font-weight="normal" text-anchor="start" fill="#222" >significance</text>
<circle cx="163.5" cy="535.8" r="1.9" fill="#fc46fb"/>
<text x="172.30" y="537.80" font-size="5.6" font-family="Liberation Sans" font-weight="normal" text-anchor="start" fill="#222" >Up</text>
<circle cx="187.6" cy="535.8" r="1.9" fill="#b4c3c7"/>
<text x="196.30" y="537.80" font-size="5.6" font-family="Liberation Sans" font-weight="normal" text-anchor="start" fill="#222" >No</text>
<circle cx="212.1" cy="535.8" r="1.9" fill="#52edfd"/>
<text x="220.40" y="537.80" font-size="5.6" font-family="Liberation Sans" font-weight="normal" text-anchor="start" fill="#222" >Down</text>
<text x="0.70" y="528.90" font-size="17.5" font-family="Liberation Serif" font-weight="normal" text-anchor="start" fill="#000" >E</text>
<text x="1.50" y="738.50" font-size="17.5" font-family="Liberation Serif" font-weight="normal" text-anchor="start" fill="#000" >F</text>
<defs><clipPath id="vl"><circle cx="141.4" cy="793.1" r="56.2"/></clipPath></defs>
<circle cx="141.4" cy="793.1" r="56.2" fill="#fdc6fb"/>
<circle cx="197.5" cy="793.1" r="56.4" fill="#cbf8fe"/>
<circle cx="197.5" cy="793.1" r="56.4" fill="#c9cdfb" clip-path="url(#vl)"/>
<text x="120.20" y="733.40" font-size="7.6" font-family="Liberation Sans" font-weight="normal" text-anchor="middle" fill="#f03cee" >DEGs</text>
<text x="217.00" y="733.40" font-size="7.6" font-family="Liberation Sans" font-weight="normal" text-anchor="middle" fill="#4fe6f6" >ARGs</text>
<text x="123.30" y="796.40" font-size="7.0" font-family="Liberation Sans" font-weight="normal" text-anchor="middle" fill="#222" >781</text>
<text x="170.00" y="796.40" font-size="7.0" font-family="Liberation Sans" font-weight="normal" text-anchor="middle" fill="#222" >15</text>
<text x="215.40" y="796.40" font-size="7.0" font-family="Liberation Sans" font-weight="normal" text-anchor="middle" fill="#222" >310</text>
<text x="345.30" y="529.00" font-size="17.5" font-family="Liberation Serif" font-weight="normal" text-anchor="start" fill="#000" >G</text>
<text x="480.90" y="548.30" font-size="13.85" font-family="Liberation Sans" font-weight="normal" text-anchor="middle" fill="#111" >GSE205161</text>
<rect x="383.0" y="556.9" width="141.07" height="8.6" fill="#4ee8fa"/>
<rect x="524.07" y="556.9" width="56.43" height="8.6" fill="#fb40fb"/>
<rect x="383.00" y="569.40" width="5.00" height="17.62" fill="#d7f9fd"/>
<rect x="387.70" y="569.40" width="9.70" height="17.62" fill="#4ee6f7"/>
<rect x="397.11" y="569.40" width="5.00" height="17.62" fill="#fd8afb"/>
<rect x="401.81" y="569.40" width="9.70" height="17.62" fill="#4ee6f7"/>
<rect x="411.21" y="569.40" width="5.00" height="17.62" fill="#d7f9fd"/>
<rect x="415.92" y="569.40" width="9.70" height="17.62" fill="#fd8afb"/>
<rect x="425.32" y="569.40" width="5.00" height="17.62" fill="#99f1fa"/>
<rect x="430.02" y="569.40" width="5.00" height="17.62" fill="#ffffff"/>
<rect x="434.73" y="569.40" width="9.70" height="17.62" fill="#fd8afb"/>
<rect x="444.13" y="569.40" width="5.00" height="17.62" fill="#d7f9fd"/>
<rect x="448.83" y="569.40" width="5.00" height="17.62" fill="#99f1fa"/>
<rect x="453.54" y="569.40" width="9.70" height="17.62" fill="#fd8afb"/>
<rect x="462.94" y="569.40" width="5.00" height="17.62" fill="#fecefe"/>
<rect x="467.64" y="569.40" width="5.00" height="17.62" fill="#4ee6f7"/>
<rect x="472.35" y="569.40" width="5.00" height="17.62" fill="#99f1fa"/>
<rect x="477.05" y="569.40" width="9.70" height="17.62" fill="#d7f9fd"/>
<rect x="486.45" y="569.40" width="5.00" height="17.62" fill="#99f1fa"/>
<rect x="491.15" y="569.40" width="5.00" height="17.62" fill="#4ee6f7"/>
<rect x="495.86" y="569.40" width="5.00" height="17.62" fill="#ffffff"/>
<rect x="500.56" y="569.40" width="5.00" height="17.62" fill="#fd8afb"/>
<rect x="505.26" y="569.40" width="5.00" height="17.62" fill="#fecefe"/>
<rect x="509.96" y="569.40" width="5.00" height="17.62" fill="#d7f9fd"/>
<rect x="514.67" y="569.40" width="5.00" height="17.62" fill="#fd8afb"/>
<rect x="519.37" y="569.40" width="9.70" height="17.62" fill="#fb3cf9"/>
<rect x="528.77" y="569.40" width="5.00" height="17.62" fill="#ffffff"/>
<rect x="533.48" y="569.40" width="5.00" height="17.62" fill="#fecefe"/>
<rect x="538.18" y="569.40" width="5.00" height="17.62" fill="#ffffff"/>
<rect x="542.88" y="569.40" width="19.11" height="17.62" fill="#fecefe"/>
<rect x="561.69" y="569.40" width="5.00" height="17.62" fill="#fd8afb"/>
<rect x="566.39" y="569.40" width="5.00" height="17.62" fill="#ffffff"/>
<rect x="571.10" y="569.40" width="5.00" height="17.62" fill="#fd8afb"/>
<rect x="575.80" y="569.40" width="4.70" height="17.62" fill="#fb3cf9"/>
<text x="584.20" y="581.26" font-size="9.2" font-family="Liberation Sans" font-weight="normal" text-anchor="start" fill="#111" >PIK3R1</text>
<rect x="383.00" y="586.72" width="5.00" height="17.62" fill="#4ee6f7"/>
<rect x="387.70" y="586.72" width="9.70" height="17.62" fill="#99f1fa"/>
<rect x="397.11" y="586.72" width="9.70" height="17.62" fill="#d7f9fd"/>
<rect x="406.51" y="586.72" width="9.70" height="17.62" fill="#ffffff"/>
<rect x="415.92" y="586.72" width="5.00" height="17.62" fill="#fd8afb"/>
<rect x="420.62" y="586.72" width="5.00" height="17.62" fill="#fecefe"/>
<rect x="425.32" y="586.72" width="5.00" height="17.62" fill="#99f1fa"/>
<rect x="430.02" y="586.72" width="5.00" height="17.62" fill="#fb3cf9"/>
<rect x="434.73" y="586.72" width="5.00" height="17.62" fill="#fecefe"/>
<rect x="439.43" y="586.72" width="5.00" height="17.62" fill="#fd8afb"/>
<rect x="444.13" y="586.72" width="5.00" height="17.62" fill="#d7f9fd"/>
<rect x="448.83" y="586.72" width="5.00" height="17.62" fill="#99f1fa"/>
<rect x="453.54" y="586.72" width="5.00" height="17.62" fill="#fecefe"/>
<rect x="458.24" y="586.72" width="5.00" height="17.62" fill="#fd8afb"/>
<rect x="462.94" y="586.72" width="5.00" height="17.62" fill="#ffffff"/>
<rect x="467.64" y="586.72" width="5.00" height="17.62" fill="#99f1fa"/>
<rect x="472.35" y="586.72" width="5.00" height="17.62" fill="#ffffff"/>
<rect x="477.05" y="586.72" width="5.00" height="17.62" fill="#fecefe"/>
<rect x="481.75" y="586.72" width="5.00" height="17.62" fill="#d7f9fd"/>
<rect x="486.45" y="586.72" width="9.70" height="17.62" fill="#99f1fa"/>
<rect x="495.86" y="586.72" width="5.00" height="17.62" fill="#d7f9fd"/>
<rect x="500.56" y="586.72" width="5.00" height="17.62" fill="#fd8afb"/>
<rect x="505.26" y="586.72" width="5.00" height="17.62" fill="#fecefe"/>
<rect x="509.96" y="586.72" width="5.00" height="17.62" fill="#fd8afb"/>
<rect x="514.67" y="586.72" width="5.00" height="17.62" fill="#fecefe"/>
<rect x="519.37" y="586.72" width="9.70" height="17.62" fill="#fb3cf9"/>
<rect x="528.77" y="586.72" width="5.00" height="17.62" fill="#fecefe"/>
<rect x="533.48" y="586.72" width="9.70" height="17.62" fill="#fd8afb"/>
<rect x="542.88" y="586.72" width="5.00" height="17.62" fill="#99f1fa"/>
<rect x="547.58" y="586.72" width="5.00" height="17.62" fill="#d7f9fd"/>
<rect x="552.29" y="586.72" width="5.00" height="17.62" fill="#ffffff"/>
<rect x="556.99" y="586.72" width="5.00" height="17.62" fill="#4ee6f7"/>
<rect x="561.69" y="586.72" width="5.00" height="17.62" fill="#fecefe"/>
<rect x="566.39" y="586.72" width="5.00" height="17.62" fill="#99f1fa"/>
<rect x="571.10" y="586.72" width="5.00" height="17.62" fill="#ffffff"/>
<rect x="575.80" y="586.72" width="4.70" height="17.62" fill="#fd8afb"/>
<text x="584.20" y="598.58" font-size="9.2" font-family="Liberation Sans" font-weight="normal" text-anchor="start" fill="#111" >ID2</text>
<rect x="383.00" y="604.04" width="5.00" height="17.62" fill="#4ee6f7"/>
<rect x="387.70" y="604.04" width="5.00" height="17.62" fill="#ffffff"/>
<rect x="392.40" y="604.04" width="5.00" height="17.62" fill="#fecefe"/>
<rect x="397.11" y="604.04" width="9.70" height="17.62" fill="#fd8afb"/>
<rect x="406.51" y="604.04" width="5.00" height="17.62" fill="#d7f9fd"/>
<rect x="411.21" y="604.04" width="5.00" height="17.62" fill="#fecefe"/>
<rect x="415.92" y="604.04" width="5.00" height="17.62" fill="#fb3cf9"/>
<rect x="420.62" y="604.04" width="5.00" height="17.62" fill="#ffffff"/>
<rect x="425.32" y="604.04" width="5.00" height="17.62" fill="#99f1fa"/>
<rect x="430.02" y="604.04" width="9.70" height="17.62" fill="#fd8afb"/>
<rect x="439.43" y="604.04" width="5.00" height="17.62" fill="#fecefe"/>
<rect x="444.13" y="604.04" width="5.00" height="17.62" fill="#d7f9fd"/>
<rect x="448.83" y="604.04" width="5.00" height="17.62" fill="#4ee6f7"/>
<rect x="453.54" y="604.04" width="9.70" height="17.62" fill="#d7f9fd"/>
<rect x="462.94" y="604.04" width="5.00" height="17.62" fill="#fd8afb"/>
<rect x="467.64" y="604.04" width="5.00" height="17.62" fill="#99f1fa"/>
<rect x="472.35" y="604.04" width="5.00" height="17.62" fill="#fecefe"/>
<rect x="477.05" y="604.04" width="5.00" height="17.62" fill="#4ee6f7"/>
<rect x="481.75" y="604.04" width="9.70" height="17.62" fill="#99f1fa"/>
<rect x="491.15" y="604.04" width="9.70" height="17.62" fill="#d7f9fd"/>
<rect x="500.56" y="604.04" width="5.00" height="17.62" fill="#fd8afb"/>
<rect x="505.26" y="604.04" width="5.00" height="17.62" fill="#ffffff"/>
<rect x="509.96" y="604.04" width="5.00" height="17.62" fill="#fd8afb"/>
<rect x="514.67" y="604.04" width="5.00" height="17.62" fill="#ffffff"/>
<rect x="519.37" y="604.04" width="5.00" height="17.62" fill="#fb3cf9"/>
<rect x="524.07" y="604.04" width="9.70" height="17.62" fill="#fecefe"/>
<rect x="533.48" y="604.04" width="9.70" height="17.62" fill="#fd8afb"/>
<rect x="542.88" y="604.04" width="5.00" height="17.62" fill="#d7f9fd"/>
<rect x="547.58" y="604.04" width="9.70" height="17.62" fill="#99f1fa"/>
<rect x="556.99" y="604.04" width="5.00" height="17.62" fill="#fecefe"/>
<rect x="561.69" y="604.04" width="5.00" height="17.62" fill="#fd8afb"/>
<rect x="566.39" y="604.04" width="9.70" height="17.62" fill="#d7f9fd"/>
<rect x="575.80" y="604.04" width="4.70" height="17.62" fill="#fecefe"/>
<text x="584.20" y="615.90" font-size="9.2" font-family="Liberation Sans" font-weight="normal" text-anchor="start" fill="#111" >TRAF1</text>
<rect x="383.00" y="621.36" width="5.00" height="17.62" fill="#d7f9fd"/>
<rect x="387.70" y="621.36" width="5.00" height="17.62" fill="#fb3cf9"/>
<rect x="392.40" y="621.36" width="5.00" height="17.62" fill="#ffffff"/>
<rect x="397.11" y="621.36" width="9.70" height="17.62" fill="#99f1fa"/>
<rect x="406.51" y="621.36" width="9.70" height="17.62" fill="#fd8afb"/>
<rect x="415.92" y="621.36" width="5.00" height="17.62" fill="#ffffff"/>
<rect x="420.62" y="621.36" width="9.70" height="17.62" fill="#fd8afb"/>
<rect x="430.02" y="621.36" width="5.00" height="17.62" fill="#4ee6f7"/>
<rect x="434.73" y="621.36" width="5.00" height="17.62" fill="#ffffff"/>
<rect x="439.43" y="621.36" width="5.00" height="17.62" fill="#99f1fa"/>
<rect x="444.13" y="621.36" width="5.00" height="17.62" fill="#fd8afb"/>
<rect x="448.83" y="621.36" width="5.00" height="17.62" fill="#fecefe"/>
<rect x="453.54" y="621.36" width="5.00" height="17.62" fill="#4ee6f7"/>
<rect x="458.24" y="621.36" width="9.70" height="17.62" fill="#fd8afb"/>
<rect x="467.64" y="621.36" width="5.00" height="17.62" fill="#fb3cf9"/>
<rect x="472.35" y="621.36" width="5.00" height="17.62" fill="#d7f9fd"/>
<rect x="477.05" y="621.36" width="5.00" height="17.62" fill="#ffffff"/>
<rect x="481.75" y="621.36" width="5.00" height="17.62" fill="#fecefe"/>
<rect x="486.45" y="621.36" width="5.00" height="17.62" fill="#fd8afb"/>
<rect x="491.15" y="621.36" width="5.00" height="17.62" fill="#fb3cf9"/>
<rect x="495.86" y="621.36" width="5.00" height="17.62" fill="#d7f9fd"/>
<rect x="500.56" y="621.36" width="5.00" height="17.62" fill="#fd8afb"/>
<rect x="505.26" y="621.36" width="5.00" height="17.62" fill="#99f1fa"/>
<rect x="509.96" y="621.36" width="5.00" height="17.62" fill="#fd8afb"/>
<rect x="514.67" y="621.36" width="9.70" height="17.62" fill="#ffffff"/>
<rect x="524.07" y="621.36" width="9.70" height="17.62" fill="#4ee6f7"/>
<rect x="533.48" y="621.36" width="5.00" height="17.62" fill="#ffffff"/>
<rect x="538.18" y="621.36" width="9.70" height="17.62" fill="#99f1fa"/>
<rect x="547.58" y="621.36" width="5.00" height="17.62" fill="#fb3cf9"/>
<rect x="552.29" y="621.36" width="5.00" height="17.62" fill="#d7f9fd"/>
<rect x="556.99" y="621.36" width="9.70" height="17.62" fill="#ffffff"/>
<rect x="566.39" y="621.36" width="5.00" height="17.62" fill="#99f1fa"/>
<rect x="571.10" y="621.36" width="5.00" height="17.62" fill="#d7f9fd"/>
<rect x="575.80" y="621.36" width="4.70" height="17.62" fill="#99f1fa"/>
<text x="584.20" y="633.22" font-size="9.2" font-family="Liberation Sans" font-weight="normal" text-anchor="start" fill="#111" >CD180</text>
<rect x="383.00" y="638.68" width="5.00" height="17.62" fill="#4ee6f7"/>
<rect x="387.70" y="638.68" width="5.00" height="17.62" fill="#ffffff"/>
<rect x="392.40" y="638.68" width="5.00" height="17.62" fill="#fecefe"/>
<rect x="397.11" y="638.68" width="5.00" height="17.62" fill="#d7f9fd"/>
<rect x="401.81" y="638.68" width="5.00" height="17.62" fill="#99f1fa"/>
<rect x="406.51" y="638.68" width="5.00" height="17.62" fill="#fb3cf9"/>
<rect x="411.21" y="638.68" width="5.00" height="17.62" fill="#99f1fa"/>
<rect x="415.92" y="638.68" width="5.00" height="17.62" fill="#d7f9fd"/>
<rect x="420.62" y="638.68" width="5.00" height="17.62" fill="#fecefe"/>
<rect x="425.32" y="638.68" width="5.00" height="17.62" fill="#ffffff"/>
<rect x="430.02" y="638.68" width="5.00" height="17.62" fill="#fecefe"/>
<rect x="434.73" y="638.68" width="5.00" height="17.62" fill="#d7f9fd"/>
<rect x="439.43" y="638.68" width="9.70" height="17.62" fill="#fd8afb"/>
<rect x="448.83" y="638.68" width="14.41" height="17.62" fill="#fecefe"/>
<rect x="462.94" y="638.68" width="5.00" height="17.62" fill="#fd8afb"/>
<rect x="467.64" y="638.68" width="14.41" height="17.62" fill="#d7f9fd"/>
<rect x="481.75" y="638.68" width="9.70" height="17.62" fill="#fecefe"/>
<rect x="491.15" y="638.68" width="5.00" height="17.62" fill="#fb3cf9"/>
<rect x="495.86" y="638.68" width="5.00" height="17.62" fill="#d7f9fd"/>
<rect x="500.56" y="638.68" width="5.00" height="17.62" fill="#99f1fa"/>
<rect x="505.26" y="638.68" width="5.00" height="17.62" fill="#4ee6f7"/>
<rect x="509.96" y="638.68" width="5.00" height="17.62" fill="#fb3cf9"/>
<rect x="514.67" y="638.68" width="5.00" height="17.62" fill="#d7f9fd"/>
<rect x="519.37" y="638.68" width="5.00" height="17.62" fill="#4ee6f7"/>
<rect x="524.07" y="638.68" width="5.00" height="17.62" fill="#fecefe"/>
<rect x="528.77" y="638.68" width="5.00" height="17.62" fill="#99f1fa"/>
<rect x="533.48" y="638.68" width="5.00" height="17.62" fill="#d7f9fd"/>
<rect x="538.18" y="638.68" width="5.00" height="17.62" fill="#fecefe"/>
<rect x="542.88" y="638.68" width="5.00" height="17.62" fill="#4ee6f7"/>
<rect x="547.58" y="638.68" width="5.00" height="17.62" fill="#fd8afb"/>
<rect x="552.29" y="638.68" width="5.00" height="17.62" fill="#ffffff"/>
<rect x="556.99" y="638.68" width="9.70" height="17.62" fill="#99f1fa"/>
<rect x="566.39" y="638.68" width="5.00" height="17.62" fill="#fecefe"/>
<rect x="571.10" y="638.68" width="5.00" height="17.62" fill="#d7f9fd"/>
<rect x="575.80" y="638.68" width="4.70" height="17.62" fill="#fd8afb"/>
<text x="584.20" y="650.54" font-size="9.2" font-family="Liberation Sans" font-weight="normal" text-anchor="start" fill="#111" >PTP4A3</text>
<rect x="383.00" y="656.00" width="5.00" height="17.62" fill="#fb3cf9"/>
<rect x="387.70" y="656.00" width="5.00" height="17.62" fill="#d7f9fd"/>
<rect x="392.40" y="656.00" width="9.70" height="17.62" fill="#ffffff"/>
<rect x="401.81" y="656.00" width="5.00" height="17.62" fill="#fd8afb"/>
<rect x="406.51" y="656.00" width="5.00" height="17.62" fill="#99f1fa"/>
<rect x="411.21" y="656.00" width="5.00" height="17.62" fill="#fd8afb"/>
<rect x="415.92" y="656.00" width="5.00" height="17.62" fill="#d7f9fd"/>
<rect x="420.62" y="656.00" width="5.00" height="17.62" fill="#99f1fa"/>
<rect x="425.32" y="656.00" width="5.00" height="17.62" fill="#fecefe"/>
<rect x="430.02" y="656.00" width="5.00" height="17.62" fill="#4ee6f7"/>
<rect x="434.73" y="656.00" width="5.00" height="17.62" fill="#fd8afb"/>
<rect x="439.43" y="656.00" width="5.00" height="17.62" fill="#4ee6f7"/>
<rect x="444.13" y="656.00" width="5.00" height="17.62" fill="#ffffff"/>
<rect x="448.83" y="656.00" width="5.00" height="17.62" fill="#4ee6f7"/>
<rect x="453.54" y="656.00" width="5.00" height="17.62" fill="#fd8afb"/>
<rect x="458.24" y="656.00" width="14.41" height="17.62" fill="#99f1fa"/>
<rect x="472.35" y="656.00" width="5.00" height="17.62" fill="#ffffff"/>
<rect x="477.05" y="656.00" width="5.00" height="17.62" fill="#fecefe"/>
<rect x="481.75" y="656.00" width="5.00" height="17.62" fill="#99f1fa"/>
<rect x="486.45" y="656.00" width="5.00" height="17.62" fill="#d7f9fd"/>
<rect x="491.15" y="656.00" width="5.00" height="17.62" fill="#99f1fa"/>
<rect x="495.86" y="656.00" width="5.00" height="17.62" fill="#d7f9fd"/>
<rect x="500.56" y="656.00" width="5.00" height="17.62" fill="#fd8afb"/>
<rect x="505.26" y="656.00" width="5.00" height="17.62" fill="#fecefe"/>
<rect x="509.96" y="656.00" width="5.00" height="17.62" fill="#d7f9fd"/>
<rect x="514.67" y="656.00" width="5.00" height="17.62" fill="#fecefe"/>
<rect x="519.37" y="656.00" width="5.00" height="17.62" fill="#99f1fa"/>
<rect x="524.07" y="656.00" width="5.00" height="17.62" fill="#fd8afb"/>
<rect x="528.77" y="656.00" width="5.00" height="17.62" fill="#ffffff"/>
<rect x="533.48" y="656.00" width="5.00" height="17.62" fill="#fecefe"/>
<rect x="538.18" y="656.00" width="5.00" height="17.62" fill="#d7f9fd"/>
<rect x="542.88" y="656.00" width="5.00" height="17.62" fill="#fd8afb"/>
<rect x="547.58" y="656.00" width="5.00" height="17.62" fill="#ffffff"/>
<rect x="552.29" y="656.00" width="14.41" height="17.62" fill="#fd8afb"/>
<rect x="566.39" y="656.00" width="5.00" height="17.62" fill="#fb3cf9"/>
<rect x="571.10" y="656.00" width="5.00" height="17.62" fill="#d7f9fd"/>
<rect x="575.80" y="656.00" width="4.70" height="17.62" fill="#fecefe"/>
<text x="584.20" y="667.86" font-size="9.2" font-family="Liberation Sans" font-weight="normal" text-anchor="start" fill="#111" >TPM4</text>
<rect x="383.00" y="673.32" width="5.00" height="17.62" fill="#fecefe"/>
<rect x="387.70" y="673.32" width="9.70" height="17.62" fill="#99f1fa"/>
<rect x="397.11" y="673.32" width="5.00" height="17.62" fill="#ffffff"/>
<rect x="401.81" y="673.32" width="5.00" height="17.62" fill="#99f1fa"/>
<rect x="406.51" y="673.32" width="9.70" height="17.62" fill="#d7f9fd"/>
<rect x="415.92" y="673.32" width="5.00" height="17.62" fill="#99f1fa"/>
<rect x="420.62" y="673.32" width="5.00" height="17.62" fill="#ffffff"/>
<rect x="425.32" y="673.32" width="5.00" height="17.62" fill="#fb3cf9"/>
<rect x="430.02" y="673.32" width="5.00" height="17.62" fill="#4ee6f7"/>
<rect x="434.73" y="673.32" width="5.00" height="17.62" fill="#d7f9fd"/>
<rect x="439.43" y="673.32" width="5.00" height="17.62" fill="#ffffff"/>
<rect x="444.13" y="673.32" width="9.70" height="17.62" fill="#fb3cf9"/>
<rect x="453.54" y="673.32" width="5.00" height="17.62" fill="#ffffff"/>
<rect x="458.24" y="673.32" width="5.00" height="17.62" fill="#d7f9fd"/>
<rect x="462.94" y="673.32" width="5.00" height="17.62" fill="#ffffff"/>
<rect x="467.64" y="673.32" width="5.00" height="17.62" fill="#fd8afb"/>
<rect x="472.35" y="673.32" width="5.00" height="17.62" fill="#99f1fa"/>
<rect x="477.05" y="673.32" width="5.00" height="17.62" fill="#fb3cf9"/>
<rect x="481.75" y="673.32" width="5.00" height="17.62" fill="#fd8afb"/>
<rect x="486.45" y="673.32" width="14.41" height="17.62" fill="#ffffff"/>
<rect x="500.56" y="673.32" width="9.70" height="17.62" fill="#d7f9fd"/>
<rect x="509.96" y="673.32" width="5.00" height="17.62" fill="#4ee6f7"/>
<rect x="514.67" y="673.32" width="5.00" height="17.62" fill="#d7f9fd"/>
<rect x="519.37" y="673.32" width="5.00" height="17.62" fill="#99f1fa"/>
<rect x="524.07" y="673.32" width="9.70" height="17.62" fill="#d7f9fd"/>
<rect x="533.48" y="673.32" width="5.00" height="17.62" fill="#fecefe"/>
<rect x="538.18" y="673.32" width="5.00" height="17.62" fill="#99f1fa"/>
<rect x="542.88" y="673.32" width="5.00" height="17.62" fill="#fd8afb"/>
<rect x="547.58" y="673.32" width="9.70" height="17.62" fill="#fecefe"/>
<rect x="556.99" y="673.32" width="5.00" height="17.62" fill="#ffffff"/>
<rect x="561.69" y="673.32" width="9.70" height="17.62" fill="#fd8afb"/>
<rect x="571.10" y="673.32" width="5.00" height="17.62" fill="#fb3cf9"/>
<rect x="575.80" y="673.32" width="4.70" height="17.62" fill="#99f1fa"/>
<text x="584.20" y="685.18" font-size="9.2" font-family="Liberation Sans" font-weight="normal" text-anchor="start" fill="#111" >BCL2L11</text>
<rect x="383.00" y="690.64" width="5.00" height="17.62" fill="#fb3cf9"/>
<rect x="387.70" y="690.64" width="5.00" height="17.62" fill="#fecefe"/>
<rect x="392.40" y="690.64" width="5.00" height="17.62" fill="#ffffff"/>
<rect x="397.11" y="690.64" width="5.00" height="17.62" fill="#fecefe"/>
<rect x="401.81" y="690.64" width="5.00" height="17.62" fill="#99f1fa"/>
<rect x="406.51" y="690.64" width="5.00" height="17.62" fill="#ffffff"/>
<rect x="411.21" y="690.64" width="5.00" height="17.62" fill="#fecefe"/>
<rect x="415.92" y="690.64" width="5.00" height="17.62" fill="#d7f9fd"/>
<rect x="420.62" y="690.64" width="5.00" height="17.62" fill="#99f1fa"/>
<rect x="425.32" y="690.64" width="5.00" height="17.62" fill="#fb3cf9"/>
<rect x="430.02" y="690.64" width="5.00" height="17.62" fill="#4ee6f7"/>
<rect x="434.73" y="690.64" width="5.00" height="17.62" fill="#d7f9fd"/>
<rect x="439.43" y="690.64" width="5.00" height="17.62" fill="#fecefe"/>
<rect x="444.13" y="690.64" width="5.00" height="17.62" fill="#fd8afb"/>
<rect x="448.83" y="690.64" width="5.00" height="17.62" fill="#fecefe"/>
<rect x="453.54" y="690.64" width="5.00" height="17.62" fill="#fd8afb"/>
<rect x="458.24" y="690.64" width="5.00" height="17.62" fill="#d7f9fd"/>
<rect x="462.94" y="690.64" width="5.00" height="17.62" fill="#4ee6f7"/>
<rect x="467.64" y="690.64" width="5.00" height="17.62" fill="#fb3cf9"/>
<rect x="472.35" y="690.64" width="5.00" height="17.62" fill="#99f1fa"/>
<rect x="477.05" y="690.64" width="5.00" height="17.62" fill="#fecefe"/>
<rect x="481.75" y="690.64" width="9.70" height="17.62" fill="#fd8afb"/>
<rect x="491.15" y="690.64" width="5.00" height="17.62" fill="#ffffff"/>
<rect x="495.86" y="690.64" width="5.00" height="17.62" fill="#fd8afb"/>
<rect x="500.56" y="690.64" width="14.41" height="17.62" fill="#d7f9fd"/>
<rect x="514.67" y="690.64" width="5.00" height="17.62" fill="#fecefe"/>
<rect x="519.37" y="690.64" width="5.00" height="17.62" fill="#4ee6f7"/>
<rect x="524.07" y="690.64" width="5.00" height="17.62" fill="#ffffff"/>
<rect x="528.77" y="690.64" width="5.00" height="17.62" fill="#99f1fa"/>
<rect x="533.48" y="690.64" width="5.00" height="17.62" fill="#d7f9fd"/>
<rect x="538.18" y="690.64" width="5.00" height="17.62" fill="#4ee6f7"/>
<rect x="542.88" y="690.64" width="9.70" height="17.62" fill="#ffffff"/>
<rect x="552.29" y="690.64" width="5.00" height="17.62" fill="#fd8afb"/>
<rect x="556.99" y="690.64" width="9.70" height="17.62" fill="#99f1fa"/>
<rect x="566.39" y="690.64" width="5.00" height="17.62" fill="#fd8afb"/>
<rect x="571.10" y="690.64" width="5.00" height="17.62" fill="#ffffff"/>
<rect x="575.80" y="690.64" width="4.70" height="17.62" fill="#fecefe"/>
<text x="584.20" y="702.50" font-size="9.2" font-family="Liberation Sans" font-weight="normal" text-anchor="start" fill="#111" >BECN1</text>
<rect x="383.00" y="707.96" width="5.00" height="17.62" fill="#fb3cf9"/>
<rect x="387.70" y="707.96" width="5.00" height="17.62" fill="#d7f9fd"/>
<rect x="392.40" y="707.96" width="5.00" height="17.62" fill="#99f1fa"/>
<rect x="397.11" y="707.96" width="5.00" height="17.62" fill="#fd8afb"/>
<rect x="401.81" y="707.96" width="5.00" height="17.62" fill="#d7f9fd"/>
<rect x="406.51" y="707.96" width="14.41" height="17.62" fill="#99f1fa"/>
<rect x="420.62" y="707.96" width="5.00" height="17.62" fill="#fecefe"/>
<rect x="425.32" y="707.96" width="5.00" height="17.62" fill="#fb3cf9"/>
<rect x="430.02" y="707.96" width="5.00" height="17.62" fill="#4ee6f7"/>
<rect x="434.73" y="707.96" width="5.00" height="17.62" fill="#ffffff"/>
<rect x="439.43" y="707.96" width="9.70" height="17.62" fill="#fd8afb"/>
<rect x="448.83" y="707.96" width="5.00" height="17.62" fill="#ffffff"/>
<rect x="453.54" y="707.96" width="9.70" height="17.62" fill="#fecefe"/>
<rect x="462.94" y="707.96" width="5.00" height="17.62" fill="#99f1fa"/>
<rect x="467.64" y="707.96" width="5.00" height="17.62" fill="#fb3cf9"/>
<rect x="472.35" y="707.96" width="9.70" height="17.62" fill="#99f1fa"/>
<rect x="481.75" y="707.96" width="5.00" height="17.62" fill="#d7f9fd"/>
<rect x="486.45" y="707.96" width="5.00" height="17.62" fill="#fd8afb"/>
<rect x="491.15" y="707.96" width="19.11" height="17.62" fill="#ffffff"/>
<rect x="509.96" y="707.96" width="5.00" height="17.62" fill="#99f1fa"/>
<rect x="514.67" y="707.96" width="5.00" height="17.62" fill="#ffffff"/>
<rect x="519.37" y="707.96" width="9.70" height="17.62" fill="#fecefe"/>
<rect x="528.77" y="707.96" width="5.00" height="17.62" fill="#99f1fa"/>
<rect x="533.48" y="707.96" width="5.00" height="17.62" fill="#fb3cf9"/>
<rect x="538.18" y="707.96" width="5.00" height="17.62" fill="#d7f9fd"/>
<rect x="542.88" y="707.96" width="5.00" height="17.62" fill="#fecefe"/>
<rect x="547.58" y="707.96" width="5.00" height="17.62" fill="#d7f9fd"/>
<rect x="552.29" y="707.96" width="5.00" height="17.62" fill="#fd8afb"/>
<rect x="556.99" y="707.96" width="5.00" height="17.62" fill="#d7f9fd"/>
<rect x="561.69" y="707.96" width="5.00" height="17.62" fill="#ffffff"/>
<rect x="566.39" y="707.96" width="5.00" height="17.62" fill="#fd8afb"/>
<rect x="571.10" y="707.96" width="5.00" height="17.62" fill="#fecefe"/>
<rect x="575.80" y="707.96" width="4.70" height="17.62" fill="#ffffff"/>
<text x="584.20" y="719.82" font-size="9.2" font-family="Liberation Sans" font-weight="normal" text-anchor="start" fill="#111" >RIPK1</text>
<rect x="383.00" y="725.28" width="5.00" height="17.62" fill="#fd8afb"/>
<rect x="387.70" y="725.28" width="9.70" height="17.62" fill="#99f1fa"/>
<rect x="397.11" y="725.28" width="9.70" height="17.62" fill="#fd8afb"/>
<rect x="406.51" y="725.28" width="5.00" height="17.62" fill="#fecefe"/>
<rect x="411.21" y="725.28" width="5.00" height="17.62" fill="#d7f9fd"/>
<rect x="415.92" y="725.28" width="5.00" height="17.62" fill="#99f1fa"/>
<rect x="420.62" y="725.28" width="5.00" height="17.62" fill="#d7f9fd"/>
<rect x="425.32" y="725.28" width="9.70" height="17.62" fill="#fd8afb"/>
<rect x="434.73" y="725.28" width="5.00" height="17.62" fill="#99f1fa"/>
<rect x="439.43" y="725.28" width="5.00" height="17.62" fill="#d7f9fd"/>
<rect x="444.13" y="725.28" width="9.70" height="17.62" fill="#fb3cf9"/>
<rect x="453.54" y="725.28" width="9.70" height="17.62" fill="#d7f9fd"/>
<rect x="462.94" y="725.28" width="5.00" height="17.62" fill="#99f1fa"/>
<rect x="467.64" y="725.28" width="9.70" height="17.62" fill="#fd8afb"/>
<rect x="477.05" y="725.28" width="9.70" height="17.62" fill="#fb3cf9"/>
<rect x="486.45" y="725.28" width="9.70" height="17.62" fill="#fecefe"/>
<rect x="495.86" y="725.28" width="5.00" height="17.62" fill="#ffffff"/>
<rect x="500.56" y="725.28" width="5.00" height="17.62" fill="#fecefe"/>
<rect x="505.26" y="725.28" width="5.00" height="17.62" fill="#ffffff"/>
<rect x="509.96" y="725.28" width="9.70" height="17.62" fill="#d7f9fd"/>
<rect x="519.37" y="725.28" width="5.00" height="17.62" fill="#4ee6f7"/>
<rect x="524.07" y="725.28" width="5.00" height="17.62" fill="#99f1fa"/>
<rect x="528.77" y="725.28" width="9.70" height="17.62" fill="#ffffff"/>
<rect x="538.18" y="725.28" width="5.00" height="17.62" fill="#99f1fa"/>
<rect x="542.88" y="725.28" width="5.00" height="17.62" fill="#ffffff"/>
<rect x="547.58" y="725.28" width="5.00" height="17.62" fill="#99f1fa"/>
<rect x="552.29" y="725.28" width="5.00" height="17.62" fill="#fecefe"/>
<rect x="556.99" y="725.28" width="5.00" height="17.62" fill="#d7f9fd"/>
<rect x="561.69" y="725.28" width="5.00" height="17.62" fill="#99f1fa"/>
<rect x="566.39" y="725.28" width="5.00" height="17.62" fill="#ffffff"/>
<rect x="571.10" y="725.28" width="5.00" height="17.62" fill="#99f1fa"/>
<rect x="575.80" y="725.28" width="4.70" height="17.62" fill="#d7f9fd"/>
<text x="584.20" y="737.14" font-size="9.2" font-family="Liberation Sans" font-weight="normal" text-anchor="start" fill="#111" >NMI</text>
<rect x="383.00" y="742.60" width="5.00" height="17.62" fill="#fb3cf9"/>
<rect x="387.70" y="742.60" width="5.00" height="17.62" fill="#ffffff"/>
<rect x="392.40" y="742.60" width="5.00" height="17.62" fill="#99f1fa"/>
<rect x="397.11" y="742.60" width="5.00" height="17.62" fill="#d7f9fd"/>
<rect x="401.81" y="742.60" width="5.00" height="17.62" fill="#fd8afb"/>
<rect x="406.51" y="742.60" width="5.00" height="17.62" fill="#99f1fa"/>
<rect x="411.21" y="742.60" width="5.00" height="17.62" fill="#ffffff"/>
<rect x="415.92" y="742.60" width="9.70" height="17.62" fill="#d7f9fd"/>
<rect x="425.32" y="742.60" width="5.00" height="17.62" fill="#fd8afb"/>
<rect x="430.02" y="742.60" width="5.00" height="17.62" fill="#99f1fa"/>
<rect x="434.73" y="742.60" width="9.70" height="17.62" fill="#d7f9fd"/>
<rect x="444.13" y="742.60" width="9.70" height="17.62" fill="#fb3cf9"/>
<rect x="453.54" y="742.60" width="5.00" height="17.62" fill="#99f1fa"/>
<rect x="458.24" y="742.60" width="9.70" height="17.62" fill="#d7f9fd"/>
<rect x="467.64" y="742.60" width="5.00" height="17.62" fill="#fd8afb"/>
<rect x="472.35" y="742.60" width="5.00" height="17.62" fill="#ffffff"/>
<rect x="477.05" y="742.60" width="5.00" height="17.62" fill="#fecefe"/>
<rect x="481.75" y="742.60" width="5.00" height="17.62" fill="#ffffff"/>
<rect x="486.45" y="742.60" width="9.70" height="17.62" fill="#fecefe"/>
<rect x="495.86" y="742.60" width="5.00" height="17.62" fill="#ffffff"/>
<rect x="500.56" y="742.60" width="5.00" height="17.62" fill="#99f1fa"/>
<rect x="505.26" y="742.60" width="5.00" height="17.62" fill="#fd8afb"/>
<rect x="509.96" y="742.60" width="5.00" height="17.62" fill="#99f1fa"/>
<rect x="514.67" y="742.60" width="5.00" height="17.62" fill="#d7f9fd"/>
<rect x="519.37" y="742.60" width="5.00" height="17.62" fill="#4ee6f7"/>
<rect x="524.07" y="742.60" width="5.00" height="17.62" fill="#99f1fa"/>
<rect x="528.77" y="742.60" width="5.00" height="17.62" fill="#fd8afb"/>
<rect x="533.48" y="742.60" width="9.70" height="17.62" fill="#fecefe"/>
<rect x="542.88" y="742.60" width="5.00" height="17.62" fill="#d7f9fd"/>
<rect x="547.58" y="742.60" width="5.00" height="17.62" fill="#99f1fa"/>
<rect x="552.29" y="742.60" width="5.00" height="17.62" fill="#fb3cf9"/>
<rect x="556.99" y="742.60" width="5.00" height="17.62" fill="#fd8afb"/>
<rect x="561.69" y="742.60" width="5.00" height="17.62" fill="#99f1fa"/>
<rect x="566.39" y="742.60" width="9.70" height="17.62" fill="#fd8afb"/>
<rect x="575.80" y="742.60" width="4.70" height="17.62" fill="#99f1fa"/>
<text x="584.20" y="754.46" font-size="9.2" font-family="Liberation Sans" font-weight="normal" text-anchor="start" fill="#111" >DUSP3</text>
<rect x="383.00" y="759.92" width="5.00" height="17.62" fill="#fb3cf9"/>
<rect x="387.70" y="759.92" width="9.70" height="17.62" fill="#d7f9fd"/>
<rect x="397.11" y="759.92" width="9.70" height="17.62" fill="#fd8afb"/>
<rect x="406.51" y="759.92" width="5.00" height="17.62" fill="#4ee6f7"/>
<rect x="411.21" y="759.92" width="5.00" height="17.62" fill="#fecefe"/>
<rect x="415.92" y="759.92" width="5.00" height="17.62" fill="#99f1fa"/>
<rect x="420.62" y="759.92" width="5.00" height="17.62" fill="#ffffff"/>
<rect x="425.32" y="759.92" width="5.00" height="17.62" fill="#fb3cf9"/>
<rect x="430.02" y="759.92" width="5.00" height="17.62" fill="#fecefe"/>
<rect x="434.73" y="759.92" width="9.70" height="17.62" fill="#d7f9fd"/>
<rect x="444.13" y="759.92" width="5.00" height="17.62" fill="#fd8afb"/>
<rect x="448.83" y="759.92" width="5.00" height="17.62" fill="#fb3cf9"/>
<rect x="453.54" y="759.92" width="9.70" height="17.62" fill="#d7f9fd"/>
<rect x="462.94" y="759.92" width="5.00" height="17.62" fill="#4ee6f7"/>
<rect x="467.64" y="759.92" width="5.00" height="17.62" fill="#fecefe"/>
<rect x="472.35" y="759.92" width="5.00" height="17.62" fill="#fd8afb"/>
<rect x="477.05" y="759.92" width="5.00" height="17.62" fill="#fecefe"/>
<rect x="481.75" y="759.92" width="5.00" height="17.62" fill="#fd8afb"/>
<rect x="486.45" y="759.92" width="9.70" height="17.62" fill="#99f1fa"/>
<rect x="495.86" y="759.92" width="5.00" height="17.62" fill="#d7f9fd"/>
<rect x="500.56" y="759.92" width="5.00" height="17.62" fill="#fecefe"/>
<rect x="505.26" y="759.92" width="5.00" height="17.62" fill="#ffffff"/>
<rect x="509.96" y="759.92" width="5.00" height="17.62" fill="#99f1fa"/>
<rect x="514.67" y="759.92" width="5.00" height="17.62" fill="#d7f9fd"/>
<rect x="519.37" y="759.92" width="5.00" height="17.62" fill="#4ee6f7"/>
<rect x="524.07" y="759.92" width="5.00" height="17.62" fill="#99f1fa"/>
<rect x="528.77" y="759.92" width="5.00" height="17.62" fill="#ffffff"/>
<rect x="533.48" y="759.92" width="5.00" height="17.62" fill="#99f1fa"/>
<rect x="538.18" y="759.92" width="5.00" height="17.62" fill="#fecefe"/>
<rect x="542.88" y="759.92" width="5.00" height="17.62" fill="#d7f9fd"/>
<rect x="547.58" y="759.92" width="5.00" height="17.62" fill="#ffffff"/>
<rect x="552.29" y="759.92" width="5.00" height="17.62" fill="#fecefe"/>
<rect x="556.99" y="759.92" width="5.00" height="17.62" fill="#ffffff"/>
<rect x="561.69" y="759.92" width="5.00" height="17.62" fill="#d7f9fd"/>
<rect x="566.39" y="759.92" width="5.00" height="17.62" fill="#fb3cf9"/>
<rect x="571.10" y="759.92" width="5.00" height="17.62" fill="#fd8afb"/>
<rect x="575.80" y="759.92" width="4.70" height="17.62" fill="#99f1fa"/>
<text x="584.20" y="771.78" font-size="9.2" font-family="Liberation Sans" font-weight="normal" text-anchor="start" fill="#111" >NAIP</text>
<rect x="383.00" y="777.24" width="5.00" height="17.62" fill="#fecefe"/>
<rect x="387.70" y="777.24" width="9.70" height="17.62" fill="#ffffff"/>
<rect x="397.11" y="777.24" width="5.00" height="17.62" fill="#fb3cf9"/>
<rect x="401.81" y="777.24" width="9.70" height="17.62" fill="#fd8afb"/>
<rect x="411.21" y="777.24" width="5.00" height="17.62" fill="#99f1fa"/>
<rect x="415.92" y="777.24" width="5.00" height="17.62" fill="#d7f9fd"/>
<rect x="420.62" y="777.24" width="5.00" height="17.62" fill="#fecefe"/>
<rect x="425.32" y="777.24" width="5.00" height="17.62" fill="#fb3cf9"/>
<rect x="430.02" y="777.24" width="5.00" height="17.62" fill="#4ee6f7"/>
<rect x="434.73" y="777.24" width="5.00" height="17.62" fill="#99f1fa"/>
<rect x="439.43" y="777.24" width="5.00" height="17.62" fill="#d7f9fd"/>
<rect x="444.13" y="777.24" width="5.00" height="17.62" fill="#fb3cf9"/>
<rect x="448.83" y="777.24" width="5.00" height="17.62" fill="#fd8afb"/>
<rect x="453.54" y="777.24" width="5.00" height="17.62" fill="#99f1fa"/>
<rect x="458.24" y="777.24" width="19.11" height="17.62" fill="#fd8afb"/>
<rect x="477.05" y="777.24" width="5.00" height="17.62" fill="#ffffff"/>
<rect x="481.75" y="777.24" width="9.70" height="17.62" fill="#fecefe"/>
<rect x="491.15" y="777.24" width="5.00" height="17.62" fill="#fb3cf9"/>
<rect x="495.86" y="777.24" width="5.00" height="17.62" fill="#fecefe"/>
<rect x="500.56" y="777.24" width="5.00" height="17.62" fill="#d7f9fd"/>
<rect x="505.26" y="777.24" width="5.00" height="17.62" fill="#ffffff"/>
<rect x="509.96" y="777.24" width="5.00" height="17.62" fill="#99f1fa"/>
<rect x="514.67" y="777.24" width="5.00" height="17.62" fill="#ffffff"/>
<rect x="519.37" y="777.24" width="9.70" height="17.62" fill="#4ee6f7"/>
<rect x="528.77" y="777.24" width="5.00" height="17.62" fill="#d7f9fd"/>
<rect x="533.48" y="777.24" width="5.00" height="17.62" fill="#99f1fa"/>
<rect x="538.18" y="777.24" width="14.41" height="17.62" fill="#d7f9fd"/>
<rect x="552.29" y="777.24" width="5.00" height="17.62" fill="#99f1fa"/>
<rect x="556.99" y="777.24" width="5.00" height="17.62" fill="#d7f9fd"/>
<rect x="561.69" y="777.24" width="5.00" height="17.62" fill="#99f1fa"/>
<rect x="566.39" y="777.24" width="9.70" height="17.62" fill="#ffffff"/>
<rect x="575.80" y="777.24" width="4.70" height="17.62" fill="#99f1fa"/>
<text x="584.20" y="789.10" font-size="9.2" font-family="Liberation Sans" font-weight="normal" text-anchor="start" fill="#111" >ACTA2</text>
<rect x="383.00" y="794.56" width="5.00" height="17.62" fill="#fb3cf9"/>
<rect x="387.70" y="794.56" width="5.00" height="17.62" fill="#fecefe"/>
<rect x="392.40" y="794.56" width="5.00" height="17.62" fill="#fd8afb"/>
<rect x="397.11" y="794.56" width="5.00" height="17.62" fill="#fecefe"/>
<rect x="401.81" y="794.56" width="5.00" height="17.62" fill="#fd8afb"/>
<rect x="406.51" y="794.56" width="5.00" height="17.62" fill="#ffffff"/>
<rect x="411.21" y="794.56" width="5.00" height="17.62" fill="#99f1fa"/>
<rect x="415.92" y="794.56" width="5.00" height="17.62" fill="#4ee6f7"/>
<rect x="420.62" y="794.56" width="5.00" height="17.62" fill="#ffffff"/>
<rect x="425.32" y="794.56" width="5.00" height="17.62" fill="#fb3cf9"/>
<rect x="430.02" y="794.56" width="5.00" height="17.62" fill="#99f1fa"/>
<rect x="434.73" y="794.56" width="5.00" height="17.62" fill="#d7f9fd"/>
<rect x="439.43" y="794.56" width="5.00" height="17.62" fill="#99f1fa"/>
<rect x="444.13" y="794.56" width="5.00" height="17.62" fill="#fd8afb"/>
<rect x="448.83" y="794.56" width="5.00" height="17.62" fill="#fb3cf9"/>
<rect x="453.54" y="794.56" width="5.00" height="17.62" fill="#fecefe"/>
<rect x="458.24" y="794.56" width="5.00" height="17.62" fill="#99f1fa"/>
<rect x="462.94" y="794.56" width="5.00" height="17.62" fill="#ffffff"/>
<rect x="467.64" y="794.56" width="5.00" height="17.62" fill="#fd8afb"/>
<rect x="472.35" y="794.56" width="5.00" height="17.62" fill="#d7f9fd"/>
<rect x="477.05" y="794.56" width="5.00" height="17.62" fill="#ffffff"/>
<rect x="481.75" y="794.56" width="5.00" height="17.62" fill="#d7f9fd"/>
<rect x="486.45" y="794.56" width="5.00" height="17.62" fill="#fd8afb"/>
<rect x="491.15" y="794.56" width="9.70" height="17.62" fill="#fecefe"/>
<rect x="500.56" y="794.56" width="5.00" height="17.62" fill="#4ee6f7"/>
<rect x="505.26" y="794.56" width="5.00" height="17.62" fill="#d7f9fd"/>
<rect x="509.96" y="794.56" width="5.00" height="17.62" fill="#99f1fa"/>
<rect x="514.67" y="794.56" width="5.00" height="17.62" fill="#ffffff"/>
<rect x="519.37" y="794.56" width="5.00" height="17.62" fill="#4ee6f7"/>
<rect x="524.07" y="794.56" width="5.00" height="17.62" fill="#99f1fa"/>
<rect x="528.77" y="794.56" width="5.00" height="17.62" fill="#fecefe"/>
<rect x="533.48" y="794.56" width="9.70" height="17.62" fill="#99f1fa"/>
<rect x="542.88" y="794.56" width="5.00" height="17.62" fill="#fd8afb"/>
<rect x="547.58" y="794.56" width="5.00" height="17.62" fill="#d7f9fd"/>
<rect x="552.29" y="794.56" width="5.00" height="17.62" fill="#ffffff"/>
<rect x="556.99" y="794.56" width="5.00" height="17.62" fill="#fecefe"/>
<rect x="561.69" y="794.56" width="5.00" height="17.62" fill="#d7f9fd"/>
<rect x="566.39" y="794.56" width="5.00" height="17.62" fill="#fb3cf9"/>
<rect x="571.10" y="794.56" width="5.00" height="17.62" fill="#d7f9fd"/>
<rect x="575.80" y="794.56" width="4.70" height="17.62" fill="#99f1fa"/>
<text x="584.20" y="806.42" font-size="9.2" font-family="Liberation Sans" font-weight="normal" text-anchor="start" fill="#111" >CASP9</text>
<rect x="383.00" y="811.88" width="5.00" height="17.32" fill="#fb3cf9"/>
<rect x="387.70" y="811.88" width="5.00" height="17.32" fill="#fd8afb"/>
<rect x="392.40" y="811.88" width="5.00" height="17.32" fill="#fecefe"/>
<rect x="397.11" y="811.88" width="5.00" height="17.32" fill="#99f1fa"/>
<rect x="401.81" y="811.88" width="5.00" height="17.32" fill="#fd8afb"/>
<rect x="406.51" y="811.88" width="14.41" height="17.32" fill="#ffffff"/>
<rect x="420.62" y="811.88" width="5.00" height="17.32" fill="#4ee6f7"/>
<rect x="425.32" y="811.88" width="5.00" height="17.32" fill="#fb3cf9"/>
<rect x="430.02" y="811.88" width="5.00" height="17.32" fill="#d7f9fd"/>
<rect x="434.73" y="811.88" width="5.00" height="17.32" fill="#99f1fa"/>
<rect x="439.43" y="811.88" width="5.00" height="17.32" fill="#ffffff"/>
<rect x="444.13" y="811.88" width="5.00" height="17.32" fill="#fd8afb"/>
<rect x="448.83" y="811.88" width="5.00" height="17.32" fill="#fb3cf9"/>
<rect x="453.54" y="811.88" width="5.00" height="17.32" fill="#ffffff"/>
<rect x="458.24" y="811.88" width="5.00" height="17.32" fill="#99f1fa"/>
<rect x="462.94" y="811.88" width="5.00" height="17.32" fill="#d7f9fd"/>
<rect x="467.64" y="811.88" width="5.00" height="17.32" fill="#fecefe"/>
<rect x="472.35" y="811.88" width="9.70" height="17.32" fill="#99f1fa"/>
<rect x="481.75" y="811.88" width="5.00" height="17.32" fill="#ffffff"/>
<rect x="486.45" y="811.88" width="9.70" height="17.32" fill="#fd8afb"/>
<rect x="495.86" y="811.88" width="5.00" height="17.32" fill="#fecefe"/>
<rect x="500.56" y="811.88" width="5.00" height="17.32" fill="#ffffff"/>
<rect x="505.26" y="811.88" width="9.70" height="17.32" fill="#d7f9fd"/>
<rect x="514.67" y="811.88" width="9.70" height="17.32" fill="#99f1fa"/>
<rect x="524.07" y="811.88" width="5.00" height="17.32" fill="#d7f9fd"/>
<rect x="528.77" y="811.88" width="5.00" height="17.32" fill="#fd8afb"/>
<rect x="533.48" y="811.88" width="5.00" height="17.32" fill="#99f1fa"/>
<rect x="538.18" y="811.88" width="9.70" height="17.32" fill="#d7f9fd"/>
<rect x="547.58" y="811.88" width="5.00" height="17.32" fill="#99f1fa"/>
<rect x="552.29" y="811.88" width="5.00" height="17.32" fill="#d7f9fd"/>
<rect x="556.99" y="811.88" width="5.00" height="17.32" fill="#ffffff"/>
<rect x="561.69" y="811.88" width="5.00" height="17.32" fill="#99f1fa"/>
<rect x="566.39" y="811.88" width="5.00" height="17.32" fill="#fb3cf9"/>
<rect x="571.10" y="811.88" width="5.00" height="17.32" fill="#fecefe"/>
<rect x="575.80" y="811.88" width="4.70" height="17.32" fill="#99f1fa"/>
<text x="584.20" y="823.74" font-size="9.2" font-family="Liberation Sans" font-weight="normal" text-anchor="start" fill="#111" >NOL3</text>
<text x="584.20" y="566.40" font-size="11.6" font-family="Liberation Sans" font-weight="normal" text-anchor="start" fill="#111" >Group</text>
<text x="634.00" y="646.80" font-size="11.6" font-family="Liberation Sans" font-weight="normal" text-anchor="start" fill="#111" >Group</text>
<rect x="634.5" y="654.5" width="9.6" height="11.4" fill="#4ee8fa"/>
<rect x="634.5" y="666.7" width="9.6" height="11.4" fill="#fb40fb"/>
<text x="648.00" y="664.30" font-size="10.6" font-family="Liberation Sans" font-weight="normal" text-anchor="start" fill="#111" >Control</text>
<text x="648.00" y="676.50" font-size="10.6" font-family="Liberation Sans" font-weight="normal" text-anchor="start" fill="#111" >NTM</text>
<defs><linearGradient id="cb" x1="0" y1="0" x2="0" y2="1"><stop offset="0" stop-color="#fb3cf9"/><stop offset="0.5" stop-color="#ffffff"/><stop offset="1" stop-color="#4ee6f7"/></linearGradient></defs>
<rect x="633.3" y="691.8" width="10.7" height="68.5" fill="url(#cb)"/>
<line x1="633.3" y1="694.60" x2="636.8" y2="694.60" stroke="#fff" stroke-width="0.9"/>
<line x1="640.5" y1="694.60" x2="644" y2="694.60" stroke="#fff" stroke-width="0.9"/>
<text x="647.60" y="697.70" font-size="8.8" font-family="Liberation Sans" font-weight="normal" text-anchor="start" fill="#111" >2</text>
<line x1="633.3" y1="710.45" x2="636.8" y2="710.45" stroke="#fff" stroke-width="0.9"/>
<line x1="640.5" y1="710.45" x2="644" y2="710.45" stroke="#fff" stroke-width="0.9"/>
<text x="647.60" y="713.55" font-size="8.8" font-family="Liberation Sans" font-weight="normal" text-anchor="start" fill="#111" >1</text>
<line x1="633.3" y1="726.30" x2="636.8" y2="726.30" stroke="#fff" stroke-width="0.9"/>
<line x1="640.5" y1="726.30" x2="644" y2="726.30" stroke="#fff" stroke-width="0.9"/>
<text x="647.60" y="729.40" font-size="8.8" font-family="Liberation Sans" font-weight="normal" text-anchor="start" fill="#111" >0</text>
<line x1="633.3" y1="742.15" x2="636.8" y2="742.15" stroke="#fff" stroke-width="0.9"/>
<line x1="640.5" y1="742.15" x2="644" y2="742.15" stroke="#fff" stroke-width="0.9"/>
<text x="647.60" y="745.25" font-size="8.8" font-family="Liberation Sans" font-weight="normal" text-anchor="start" fill="#111" >−1</text>
<line x1="633.3" y1="758.00" x2="636.8" y2="758.00" stroke="#fff" stroke-width="0.9"/>
<line x1="640.5" y1="758.00" x2="644" y2="758.00" stroke="#fff" stroke-width="0.9"/>
<text x="647.60" y="761.10" font-size="8.8" font-family="Liberation Sans" font-weight="normal" text-anchor="start" fill="#111" >−2</text>
<path d="M382.00,595.38L371.30,595.38M382.00,612.70L371.30,612.70M371.30,595.38L371.30,612.70M382.00,578.06L369.30,578.06M371.30,604.04L369.30,604.04M369.30,578.06L369.30,604.04M382.00,630.02L367.10,630.02M382.00,647.34L367.10,647.34M367.10,630.02L367.10,647.34M382.00,699.30L371.40,699.30M382.00,716.62L371.40,716.62M371.40,699.30L371.40,716.62M382.00,681.98L369.20,681.98M371.40,707.96L369.20,707.96M369.20,681.98L369.20,707.96M382.00,751.26L372.20,751.26M382.00,768.58L372.20,768.58M372.20,751.26L372.20,768.58M382.00,733.94L370.40,733.94M372.20,759.92L370.40,759.92M370.40,733.94L370.40,759.92M382.00,803.22L371.40,803.22M382.00,820.54L371.40,820.54M371.40,803.22L371.40,820.54M382.00,785.90L368.60,785.90M371.40,811.88L368.60,811.88M368.60,785.90L368.60,811.88M370.40,746.93L367.80,746.93M368.60,798.89L367.80,798.89M367.80,746.93L367.80,798.89M369.20,694.97L366.40,694.97M367.80,772.91L366.40,772.91M366.40,694.97L366.40,772.91M382.00,664.66L362.20,664.66M366.40,733.94L362.20,733.94M362.20,664.66L362.20,733.94M367.10,638.68L361.20,638.68M362.20,699.30L361.20,699.30M361.20,638.68L361.20,699.30M369.30,591.05L357.50,591.05M361.20,668.99L357.50,668.99M357.50,591.05L357.50,668.99" stroke="#222" stroke-width="1.05" fill="none" stroke-linecap="square"/>
</svg></body></html>
